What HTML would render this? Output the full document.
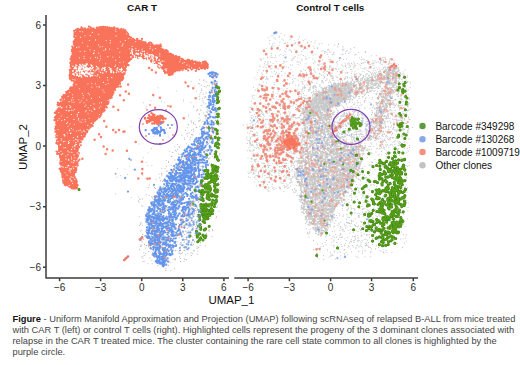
<!DOCTYPE html>
<html><head><meta charset="utf-8">
<style>
html,body{margin:0;padding:0;background:#fff;}
body{width:520px;height:365px;overflow:hidden;}
svg{display:block;font-family:"Liberation Sans",sans-serif;}
</style></head><body>
<svg width="520" height="365" viewBox="0 0 520 365">
<rect width="520" height="365" fill="#fff"/>
<polygon points="77.1,30.2 76.0,33.4 74.4,41.6 72.8,53.2 71.9,61.1 71.1,74.0 71.4,78.3 75.7,81.5 74.1,85.8 66.3,93.5 60.6,101.0 57.0,110.4 55.6,120.1 56.6,136.3 58.7,150.6 60.7,167.0 63.7,181.0 67.3,185.5 75.8,188.0 76.4,185.7 74.4,177.5 77.4,160.8 79.5,142.1 85.9,131.5 96.3,119.0 100.6,114.8 108.1,101.5 115.8,88.1 121.6,78.6 127.2,65.5 128.8,59.2 133.6,55.5 142.3,56.6 150.6,59.7 158.9,64.9 165.8,72.2 169.8,74.1 175.4,70.7 184.4,68.2 196.9,68.8 206.3,67.1 206.9,65.0 205.0,63.0 196.8,62.4 184.2,59.8 171.6,54.8 159.5,46.4 155.7,46.1 142.5,41.9 130.6,38.2 125.5,32.2 117.7,28.9 107.5,27.9 99.1,28.7 83.2,28.7" fill="#f9735b"/>
<path d="M77.1 161.8h0M102.8 28.5h0M144.8 57.7h0M59.6 168.9h0M73.5 84.8h0M70.5 59.1h0M74.1 48.7h0M159.2 67.1h0M56.4 111.1h0M74.0 80.1h0M56.3 143.1h0M127.5 62.0h0M124.2 31.2h0M76.2 180.5h0M77.0 187.0h0M58.4 108.8h0M73.8 53.2h0M118.2 30.4h0M190.7 68.2h0M70.2 78.2h0M71.8 60.0h0M186.3 61.1h0M202.8 62.5h0M199.3 69.1h0M66.9 92.6h0M133.4 55.9h0M68.1 91.6h0M115.4 87.6h0M59.2 153.6h0M59.0 150.4h0M75.1 188.4h0M172.7 74.1h0M203.0 66.8h0M125.4 31.5h0M104.5 110.2h0M73.5 54.6h0M75.2 83.0h0M64.3 97.2h0M70.9 72.1h0M66.4 184.7h0M75.2 85.1h0M131.1 59.1h0M152.5 44.6h0M76.4 34.8h0M178.3 57.3h0M205.0 62.6h0M95.0 120.6h0M164.0 71.0h0M109.7 27.6h0M63.1 177.9h0M154.4 59.9h0M123.3 32.5h0M84.6 136.5h0M87.4 131.0h0M76.6 155.8h0M99.7 28.3h0M205.8 63.3h0M120.5 31.4h0M119.6 81.8h0M156.4 47.4h0M159.1 46.3h0M183.7 68.0h0M100.6 28.7h0M63.3 97.7h0M155.2 45.9h0M122.0 80.2h0M75.4 36.0h0M176.9 69.5h0M71.4 61.1h0M181.3 68.5h0M144.0 57.8h0M124.8 67.6h0M64.0 95.0h0M165.7 71.4h0M133.4 57.0h0M61.6 169.7h0M124.8 69.5h0M124.5 74.1h0M55.3 131.6h0M131.2 58.3h0M67.5 184.8h0M122.9 77.4h0M70.9 70.0h0M75.2 179.0h0M163.4 49.8h0M66.9 95.2h0M107.8 104.1h0M58.1 153.7h0M78.1 153.2h0M85.2 131.0h0M74.7 36.5h0M72.3 62.3h0M71.5 80.3h0M57.2 113.6h0M186.5 60.8h0M147.0 58.1h0M72.8 61.1h0M74.3 186.8h0M71.4 77.2h0M74.4 84.3h0M73.8 187.4h0M74.1 86.1h0M74.6 180.5h0M124.7 72.7h0M74.5 41.6h0M147.2 59.2h0M122.5 76.4h0M140.0 54.8h0M75.7 180.0h0M85.0 28.3h0M85.8 131.6h0M206.7 66.0h0M70.6 77.5h0M76.0 186.4h0M56.2 112.1h0M78.9 142.5h0M76.2 184.6h0M70.7 76.0h0M150.0 59.8h0M64.2 96.6h0M76.8 181.6h0M77.9 28.8h0M188.2 70.5h0M64.3 95.3h0M101.3 27.9h0M155.1 46.1h0M137.2 38.8h0M102.1 27.2h0M176.3 56.7h0M207.7 67.3h0M167.0 72.4h0M63.6 173.9h0M143.7 42.0h0M151.1 59.5h0M71.4 73.4h0M61.1 162.6h0M97.2 118.4h0M73.2 48.5h0M63.7 95.0h0M202.5 67.8h0M76.0 188.3h0M135.3 55.8h0M129.4 60.6h0M74.6 177.7h0M124.7 65.0h0M72.2 185.5h0M72.0 69.4h0M87.6 129.0h0M74.8 86.2h0M138.1 57.6h0M191.0 61.7h0M82.4 138.6h0M76.9 164.6h0M56.8 131.2h0M85.3 131.7h0M71.0 66.0h0M73.7 55.8h0M206.9 65.7h0M145.2 56.2h0M121.3 78.6h0M168.0 73.0h0M157.6 46.0h0M76.9 186.4h0M58.5 106.0h0M145.5 42.4h0M60.8 170.9h0M59.1 107.4h0M112.9 30.1h0M137.5 40.7h0M70.5 74.5h0M87.0 127.6h0M143.2 43.4h0M57.2 141.9h0M71.4 187.9h0M156.2 62.6h0M74.1 188.5h0M122.2 77.7h0M74.5 35.0h0M112.8 28.4h0M108.4 102.0h0M128.7 59.7h0M65.8 94.6h0M100.6 27.4h0M127.3 65.0h0M73.3 87.0h0M73.8 177.1h0M120.0 81.6h0M158.6 65.2h0M121.5 30.2h0M127.0 65.2h0M62.2 174.2h0M113.5 92.2h0M141.1 56.2h0M60.5 161.3h0M73.1 48.9h0M102.4 110.9h0M142.4 56.9h0M126.5 33.8h0M132.8 39.3h0M198.8 69.3h0M203.0 61.9h0M73.0 54.8h0M72.5 59.6h0M160.6 44.6h0M60.2 105.8h0M149.1 45.3h0M92.9 29.1h0M77.7 30.8h0M74.8 83.1h0M126.8 32.5h0M72.5 59.7h0M121.5 77.3h0M75.0 39.7h0M101.2 114.4h0M72.5 53.5h0M77.2 155.7h0M73.8 44.0h0M69.6 185.2h0M111.4 28.2h0M58.7 151.5h0M128.6 36.7h0M134.7 55.7h0M151.6 44.4h0M61.4 172.2h0M120.1 30.1h0M59.9 103.4h0M168.5 73.9h0M75.6 81.8h0M75.3 79.5h0M55.7 113.2h0M192.5 61.5h0M141.4 40.9h0M171.3 73.8h0M123.0 75.8h0M177.7 70.5h0M62.4 175.5h0M206.1 64.1h0M104.8 28.3h0M77.0 187.8h0M103.3 28.0h0M56.3 116.1h0M76.0 29.9h0M56.5 137.0h0M63.6 179.4h0M106.8 29.0h0M56.3 116.5h0M138.7 56.3h0M106.1 106.8h0M206.3 63.9h0M75.9 186.6h0M147.7 44.4h0M125.2 32.6h0M158.8 45.9h0M59.4 104.2h0M90.7 125.9h0M166.7 71.7h0M172.7 72.7h0M64.6 96.5h0M70.4 62.6h0M117.0 30.1h0M129.4 57.3h0M70.2 76.8h0M59.0 106.1h0M205.1 66.9h0M57.1 136.7h0M80.3 142.1h0M54.4 120.2h0M73.0 50.0h0M127.6 61.6h0M110.5 98.2h0M90.3 126.0h0M205.3 67.3h0M203.7 67.6h0M131.4 58.0h0M85.9 130.7h0M75.6 43.4h0M76.5 164.5h0M148.9 58.3h0M75.9 40.4h0M107.7 29.2h0M76.7 185.6h0M120.1 31.3h0M204.9 68.9h0M74.4 188.0h0M129.7 59.4h0M75.8 172.1h0M206.2 63.6h0M57.6 109.8h0M71.2 59.5h0M167.3 71.6h0M66.7 184.9h0M113.3 29.1h0M64.3 95.4h0M56.8 116.1h0M151.2 59.3h0M184.8 67.6h0M155.9 46.8h0M118.0 84.3h0M135.5 55.6h0M76.1 32.9h0M159.5 66.0h0M57.6 141.1h0M76.0 33.6h0M72.4 79.4h0M70.7 186.6h0M206.2 62.7h0M180.6 69.1h0M61.5 169.3h0M75.3 37.0h0M129.2 36.8h0M56.1 123.4h0M146.8 59.2h0M144.8 57.8h0M156.5 46.1h0M80.8 29.2h0M206.1 64.4h0M61.2 162.3h0M172.3 55.4h0M205.3 66.5h0M158.1 66.5h0M56.3 137.5h0M63.4 179.2h0M74.1 175.0h0M99.3 114.3h0M197.2 62.3h0M156.9 62.7h0M159.7 45.4h0M106.8 107.4h0M66.9 94.5h0M59.5 104.4h0M74.0 43.0h0M72.3 71.0h0M88.9 128.7h0M205.6 61.6h0M96.8 119.0h0M74.0 51.9h0M70.9 77.0h0M72.2 77.6h0M75.8 187.4h0M68.4 185.6h0M76.0 164.1h0M77.0 186.8h0M119.5 83.7h0M72.6 59.0h0M71.1 77.3h0M152.5 58.6h0M77.7 32.0h0M105.2 28.1h0M90.5 28.5h0M105.4 27.2h0M74.3 84.6h0M177.7 57.5h0M71.8 80.6h0M70.7 75.2h0M76.6 183.0h0M99.2 113.5h0M70.0 88.6h0M206.0 64.4h0M91.2 28.5h0M128.0 61.7h0M70.7 87.4h0M143.5 58.4h0M88.9 26.6h0M157.8 46.2h0M77.2 163.5h0M71.8 78.4h0M61.1 99.6h0M118.7 86.6h0M68.9 186.1h0M106.5 103.7h0M207.1 66.5h0M150.3 42.7h0M118.8 80.8h0M81.5 27.4h0M126.9 34.0h0M55.4 116.8h0M207.2 65.2h0M105.5 104.9h0M120.1 83.7h0M156.7 63.0h0M207.8 64.4h0M71.1 78.3h0M118.3 29.7h0M78.4 29.2h0M142.7 55.9h0M78.8 153.0h0M192.6 61.8h0M155.6 46.3h0M70.8 186.6h0M112.5 92.1h0M72.2 77.1h0M160.7 64.7h0M128.5 65.2h0M109.9 29.2h0M159.4 46.1h0M207.1 64.5h0M75.4 185.1h0M130.9 57.4h0M100.4 116.0h0M128.7 58.5h0M62.3 177.0h0M202.5 67.1h0M76.1 179.3h0M77.7 165.6h0M206.4 65.4h0M71.4 69.9h0M61.8 100.7h0M125.5 30.9h0M57.6 104.7h0M72.4 76.0h0M93.8 28.7h0M69.8 77.8h0M165.0 73.1h0M132.0 57.7h0M62.3 99.2h0M196.7 68.8h0M127.6 61.1h0M126.0 64.2h0M71.0 64.3h0M74.2 36.7h0M79.9 146.2h0M133.1 38.9h0M207.4 67.5h0M77.1 151.7h0M56.9 140.8h0M71.7 61.2h0M104.7 110.2h0M84.9 130.6h0M77.7 156.8h0M207.2 66.9h0M169.1 73.8h0M77.6 185.2h0M130.9 55.8h0M162.3 68.6h0M175.8 56.2h0M72.0 49.7h0M74.8 79.8h0M74.9 80.6h0M105.9 29.2h0M76.1 184.2h0M173.7 71.8h0M173.4 71.1h0M113.3 93.4h0M74.2 30.9h0M196.2 62.5h0M70.0 78.8h0M207.5 67.1h0M74.5 85.3h0M76.7 82.2h0M62.0 171.5h0M93.6 120.3h0M156.4 47.1h0M138.2 55.8h0M72.3 58.9h0M205.0 63.1h0M75.7 181.1h0M138.1 58.0h0M157.7 45.8h0M116.9 28.6h0M112.4 29.4h0M73.4 187.2h0M71.4 56.9h0M186.8 67.0h0M97.2 27.8h0M61.4 171.3h0M60.3 163.9h0M65.7 183.7h0M133.4 39.0h0M109.1 28.0h0M77.0 29.5h0M137.5 56.4h0M114.1 27.3h0M60.1 156.0h0M169.1 54.4h0M121.5 30.6h0M84.5 135.0h0M66.0 184.8h0M177.3 70.5h0M109.9 29.0h0M106.8 104.0h0M137.8 56.6h0M124.8 32.1h0M71.9 186.8h0M172.0 72.2h0M129.9 37.0h0M183.4 68.5h0M74.6 45.5h0M74.4 33.2h0M128.9 61.0h0M193.5 68.0h0M70.1 74.6h0M201.5 64.1h0M96.5 119.4h0M73.1 52.4h0M169.6 73.7h0M121.4 29.1h0M129.9 60.0h0M56.0 132.0h0M134.0 39.6h0M96.3 118.6h0M64.6 177.4h0M128.4 61.2h0M97.0 28.1h0M153.5 45.6h0M99.3 114.9h0M78.1 155.2h0M87.4 130.0h0M166.8 50.5h0M64.4 95.8h0M71.7 188.3h0M64.8 184.8h0M74.3 82.1h0M120.5 30.8h0M75.9 185.6h0M123.3 78.6h0M72.6 79.8h0M86.9 30.8h0M74.3 37.0h0M122.0 77.7h0M57.3 114.1h0M72.5 187.3h0M129.9 37.8h0M96.9 28.1h0M69.6 186.8h0M206.3 65.1h0M69.8 69.8h0M72.0 57.8h0M206.7 65.3h0M137.2 39.7h0M56.4 115.8h0M179.5 57.9h0M158.6 64.5h0M84.7 133.1h0M77.5 163.7h0M73.5 56.3h0M123.5 71.7h0M76.5 36.0h0M60.3 103.4h0M77.1 32.9h0M62.9 180.4h0M151.9 61.2h0M74.8 80.7h0M138.8 55.8h0M75.7 84.0h0M57.8 152.4h0M58.3 110.0h0M179.4 56.9h0M108.6 102.1h0M101.9 112.4h0M175.6 70.6h0M79.5 29.9h0M185.0 60.9h0M206.7 67.4h0M75.5 170.3h0M68.6 90.7h0M128.8 60.0h0M73.9 41.5h0M187.9 59.8h0M73.4 49.8h0M117.5 85.9h0M84.4 136.0h0M150.7 60.0h0M62.1 96.7h0M112.3 95.1h0M149.1 42.9h0M170.3 74.0h0M89.6 125.4h0M133.4 56.3h0M55.3 129.1h0M77.1 34.8h0M75.4 168.3h0M57.3 140.0h0M70.7 69.9h0M152.6 62.2h0M74.8 79.9h0M63.7 96.3h0M57.1 128.8h0M152.5 58.8h0M129.3 57.4h0M170.1 53.7h0M128.4 35.4h0M171.0 73.1h0M202.0 68.4h0M127.2 64.3h0M154.7 63.1h0M120.4 29.7h0M75.8 184.6h0M172.1 74.3h0M78.9 153.5h0M73.4 174.9h0M77.0 32.0h0M74.7 177.2h0M117.6 83.0h0M99.4 117.4h0M126.4 65.4h0M72.0 79.6h0M171.0 74.4h0M102.0 107.1h0M78.9 147.5h0M90.6 127.3h0M143.4 56.6h0M80.8 145.4h0M111.5 92.8h0M57.8 144.0h0M207.5 66.5h0M207.5 66.0h0M125.3 31.2h0M75.7 182.5h0M74.6 35.0h0M75.5 187.1h0M62.7 98.0h0M58.5 105.8h0M70.3 63.1h0M201.3 67.0h0M186.5 61.6h0M82.4 139.4h0M77.0 29.7h0M125.6 70.5h0M105.8 106.9h0M199.2 68.8h0M182.5 70.1h0M103.1 28.6h0M143.3 57.1h0M187.9 61.2h0M165.9 50.2h0M56.7 112.1h0M75.5 187.7h0M96.5 116.0h0M120.2 80.7h0M55.6 128.3h0M72.7 187.6h0M170.4 54.7h0M123.1 32.3h0M114.8 29.1h0M103.9 109.7h0M131.3 58.2h0M67.8 93.1h0M124.4 71.4h0M191.7 69.4h0M189.7 60.9h0M128.0 33.8h0M64.2 96.1h0M56.0 118.4h0M72.9 77.7h0M139.6 41.1h0M59.6 154.6h0M83.3 137.1h0M207.3 65.8h0M75.8 35.2h0M108.0 100.3h0M81.0 29.1h0M77.0 187.1h0M162.5 49.7h0M116.7 86.9h0M72.2 46.6h0M173.4 70.7h0M66.5 184.2h0M77.0 29.4h0M71.9 51.1h0M63.4 176.7h0M126.0 32.3h0M176.0 56.1h0M60.9 156.2h0M117.8 84.7h0M173.2 55.1h0M72.5 59.7h0M78.5 31.0h0M73.3 51.7h0M57.3 115.4h0M161.2 66.7h0M82.3 138.4h0M67.8 91.2h0M167.8 52.7h0M205.7 65.9h0M63.0 99.0h0M74.8 83.4h0M205.2 62.7h0M107.3 104.2h0M92.6 125.9h0M75.7 183.3h0M74.4 82.5h0M76.0 187.7h0M136.7 39.4h0M149.0 44.3h0M118.8 82.7h0M84.7 131.5h0M157.0 46.8h0M69.0 91.7h0M65.0 96.8h0M77.6 29.7h0M156.3 45.4h0M55.7 117.1h0M68.8 91.2h0M62.0 168.7h0M98.9 28.8h0M57.2 143.4h0M74.8 180.5h0M57.0 154.0h0M71.9 77.4h0M59.6 146.7h0M77.6 29.9h0M70.5 69.6h0M79.5 159.7h0M56.1 119.7h0M125.6 67.2h0M128.8 59.7h0M166.6 69.9h0M192.3 68.3h0M192.1 60.7h0M114.3 88.9h0M73.5 178.4h0M81.6 28.2h0M70.2 74.1h0M110.9 97.5h0M64.8 183.0h0M169.1 75.1h0M206.1 64.7h0M134.6 56.0h0M181.7 59.2h0M70.7 76.3h0M66.1 92.1h0M129.8 37.0h0M143.6 56.2h0M57.4 110.9h0M71.2 74.3h0M62.0 168.0h0M57.9 143.2h0M72.0 75.9h0M156.9 47.3h0M79.1 145.7h0M63.2 182.5h0M85.1 134.7h0M72.4 80.4h0M72.6 51.8h0M58.7 131.6h0M122.6 77.1h0M116.1 30.1h0M188.9 59.8h0M65.1 182.1h0M121.4 78.8h0M147.8 58.4h0M72.3 62.4h0M108.1 103.4h0M124.5 72.7h0M70.9 65.6h0M70.0 90.5h0M93.0 123.2h0M81.1 139.6h0M56.5 151.5h0M73.3 48.5h0M96.8 117.9h0M172.7 71.9h0M182.5 59.2h0M55.6 131.8h0M94.3 121.1h0M117.9 28.5h0M137.4 41.9h0M61.0 171.6h0M71.4 57.3h0M121.3 31.0h0M64.0 181.4h0M200.3 63.0h0M74.1 177.9h0M158.2 45.3h0M78.2 161.1h0M175.0 69.1h0M85.2 130.6h0M71.0 72.4h0M65.7 182.3h0M63.0 177.6h0M56.3 135.4h0M72.0 76.9h0M186.4 68.9h0M172.1 73.3h0M164.1 69.6h0M75.0 36.3h0M204.9 63.1h0M56.7 111.0h0M207.1 63.5h0M102.4 111.4h0M76.4 168.1h0M203.8 67.2h0M76.6 35.7h0M70.7 76.1h0M188.3 60.5h0M191.7 69.6h0M101.6 27.1h0M73.9 180.0h0M165.1 72.4h0M71.8 87.6h0M108.2 30.0h0M61.4 156.9h0M199.0 68.9h0M168.9 74.8h0M154.3 46.6h0M131.1 37.5h0M62.4 172.7h0M84.8 132.9h0M119.4 30.0h0M72.3 70.9h0M79.2 141.2h0M99.9 114.7h0M63.6 180.5h0M80.9 138.8h0M72.4 178.5h0M125.4 30.4h0M75.8 188.4h0M69.5 75.6h0M57.9 102.7h0M58.2 144.2h0M151.3 43.0h0M57.6 116.0h0M198.2 63.7h0M76.6 31.5h0M80.8 142.2h0M70.5 74.8h0M107.4 103.1h0M61.2 169.7h0M70.2 90.5h0M76.1 81.1h0M71.9 73.1h0M70.6 89.9h0M159.8 65.0h0M75.9 82.1h0M72.1 67.7h0M60.1 163.1h0M65.2 182.1h0M71.7 56.2h0M77.6 31.4h0M75.3 184.6h0M145.7 43.5h0M111.8 97.5h0M115.2 90.0h0M63.1 175.2h0M205.3 67.5h0M204.8 61.7h0M170.8 53.8h0M205.6 63.3h0M169.8 72.5h0M144.4 57.5h0M102.2 27.6h0M171.5 54.2h0M199.0 63.6h0M164.7 69.1h0M65.7 185.3h0M152.7 61.5h0M70.2 72.9h0M151.2 61.5h0M60.5 99.9h0M99.3 27.1h0M76.3 169.9h0M74.8 82.5h0M89.9 126.1h0M125.2 70.6h0M124.6 69.8h0M115.8 28.7h0M70.6 88.5h0M91.5 124.4h0M166.4 72.4h0M54.8 112.8h0M64.8 181.8h0M207.0 66.3h0M123.6 29.4h0M165.4 52.0h0M75.3 186.2h0M64.2 183.3h0M199.9 68.2h0M87.0 132.2h0M70.6 77.9h0M140.9 55.5h0M73.0 80.4h0M92.6 28.7h0M70.6 66.8h0M107.5 28.4h0M158.7 64.3h0M128.3 36.0h0M82.8 28.5h0M71.5 78.5h0M101.5 27.6h0M72.3 56.0h0M66.9 92.0h0M65.3 98.0h0M55.5 120.6h0M75.2 170.5h0M104.2 108.2h0M75.2 184.3h0M160.8 67.0h0M164.5 69.2h0M163.6 51.0h0M55.7 126.3h0M157.5 46.1h0M175.0 71.4h0M122.8 73.4h0M179.9 69.9h0M59.2 149.2h0M207.5 68.1h0M103.2 30.0h0M169.1 74.1h0M156.8 46.7h0M96.8 27.5h0M152.6 61.0h0M72.1 56.0h0M125.6 69.9h0M183.0 59.9h0M139.1 40.7h0M168.5 74.1h0M170.0 75.0h0M60.2 157.2h0M205.7 63.4h0M55.9 126.7h0M192.5 61.5h0M199.3 62.4h0M151.1 60.1h0M121.9 30.4h0M135.7 56.8h0M141.8 42.1h0M132.7 40.6h0M73.5 48.3h0M56.4 135.1h0M77.4 154.3h0M87.9 128.6h0M70.0 70.8h0M73.7 84.4h0M73.6 41.7h0M181.9 58.8h0M93.4 121.7h0M196.5 63.8h0M91.6 29.0h0M60.0 168.6h0M75.2 83.9h0M73.2 47.9h0M106.5 107.3h0M154.5 46.1h0M78.3 31.0h0M176.8 56.5h0M142.0 38.9h0M117.4 84.3h0M75.0 81.6h0M192.6 68.5h0M103.6 26.8h0M74.1 43.6h0M76.0 182.1h0M57.7 110.2h0M108.4 100.6h0M148.4 59.3h0M73.6 86.8h0M161.2 46.5h0M128.2 58.9h0M71.0 70.4h0M205.8 67.6h0M205.2 63.9h0M139.5 55.8h0M88.0 28.9h0M128.8 59.2h0M116.8 83.0h0M145.8 57.3h0M207.8 66.6h0M66.8 183.9h0M179.6 70.5h0M186.7 60.5h0M105.8 102.5h0M104.8 28.0h0M185.7 61.2h0M92.1 29.3h0M185.8 69.1h0M111.1 96.4h0M159.4 67.7h0M195.9 70.9h0M54.9 117.6h0M115.4 29.7h0M100.1 116.2h0M64.5 97.9h0M205.9 67.1h0M74.9 161.4h0M57.2 133.8h0M77.9 31.9h0M127.4 60.9h0M194.0 61.6h0M148.7 59.7h0M67.1 184.5h0M122.9 75.7h0M163.3 50.2h0M195.5 61.5h0M173.4 55.5h0M194.8 62.6h0M149.5 58.1h0M72.8 52.6h0M67.6 185.3h0M73.3 54.1h0M72.7 188.5h0M76.4 36.7h0M107.4 27.2h0M167.8 51.4h0M90.6 27.4h0M85.6 134.0h0M72.6 54.0h0M72.7 177.2h0M126.2 32.2h0M73.5 178.6h0M123.5 72.6h0" stroke="#f9735b" stroke-width="2.20" stroke-linecap="round" fill="none"/>
<path d="M89.3 74.2h0M98.8 69.0h0M80.9 75.5h0M74.8 67.3h0M100.6 72.4h0M117.0 69.1h0M76.5 68.8h0M110.2 68.8h0M78.9 69.6h0M73.1 70.7h0M109.1 67.6h0M104.1 68.4h0M81.8 73.3h0M93.5 70.2h0M90.2 75.2h0M111.1 69.1h0M83.7 72.7h0M72.7 71.2h0M84.9 69.3h0M83.7 73.3h0M113.7 72.7h0M84.2 75.0h0M85.0 65.2h0M87.3 64.0h0M92.5 67.4h0M92.7 75.6h0M104.3 70.4h0M88.7 68.4h0M96.0 70.3h0M123.8 71.5h0M97.9 67.5h0M87.3 76.6h0M102.8 73.1h0M84.2 65.8h0M86.9 64.7h0M78.4 68.8h0M75.4 68.5h0M85.7 72.2h0M81.2 73.8h0M76.5 75.6h0M73.4 74.0h0M88.1 74.1h0M73.7 73.5h0M91.1 69.1h0M116.4 72.2h0M111.7 70.8h0M91.1 64.9h0M90.5 75.1h0M91.6 75.4h0M90.2 67.8h0M117.1 70.6h0M85.7 68.8h0M91.1 72.4h0M119.6 69.4h0M79.8 65.0h0M110.7 70.7h0M73.9 74.5h0M117.6 68.1h0M101.9 69.7h0M72.9 66.3h0M91.1 75.4h0M77.6 75.3h0M122.1 69.4h0M81.4 72.3h0M118.7 71.7h0M78.7 70.2h0M92.5 72.9h0M72.8 71.1h0M111.3 72.2h0M85.2 75.8h0M97.0 68.9h0M80.0 70.6h0M104.8 67.9h0M92.5 75.4h0M104.8 69.7h0M83.4 66.0h0M83.5 73.1h0M111.1 72.6h0M124.1 71.8h0M77.0 70.5h0M85.0 75.4h0M86.9 67.7h0M88.0 70.2h0M102.8 68.0h0M82.6 64.6h0M121.0 71.3h0M83.6 73.7h0M79.6 75.8h0M105.0 67.5h0M85.9 65.3h0M74.0 68.7h0M81.0 65.7h0M122.2 72.4h0M89.6 74.3h0M73.2 70.8h0M90.4 70.8h0M72.6 73.9h0M85.0 68.1h0M76.7 65.7h0M74.4 75.0h0M75.9 65.1h0M96.5 66.4h0M75.3 72.5h0M85.4 75.9h0M121.4 70.5h0M113.3 72.0h0M110.0 69.3h0M78.7 76.3h0M81.2 76.3h0M87.4 68.8h0M90.4 76.5h0M77.3 75.2h0M106.2 71.8h0M80.0 64.4h0M76.1 68.8h0M76.6 73.3h0M76.4 71.0h0M120.8 69.6h0M93.2 72.9h0M81.6 76.9h0M83.3 68.7h0M83.5 68.2h0M77.2 74.1h0M86.3 64.1h0M97.8 74.8h0M75.5 66.9h0M77.2 71.4h0M75.8 67.5h0M86.6 76.1h0M121.6 68.3h0M91.9 73.5h0M92.0 65.7h0M92.3 68.5h0M87.3 69.9h0M101.7 70.1h0" stroke="#fff" stroke-width="1.50" stroke-linecap="round" fill="none"/>
<path d="M83.2 67.2h0M87.7 69.3h0M87.2 69.4h0M84.4 69.3h0M84.6 74.0h0M86.0 71.8h0M84.1 70.1h0M82.3 70.9h0M82.5 72.8h0M82.1 73.3h0M87.0 72.1h0M88.2 69.5h0M79.5 71.7h0M81.8 71.0h0M80.7 68.2h0M85.7 72.9h0M82.8 73.7h0M86.4 67.5h0M78.8 70.1h0M86.7 72.9h0M85.7 69.7h0M85.3 66.3h0M88.4 73.5h0M79.1 68.2h0M80.3 67.6h0M89.7 73.1h0M79.1 66.8h0M80.6 70.2h0M79.0 69.1h0M81.8 72.7h0M89.4 69.0h0M90.1 68.4h0M81.5 66.6h0M79.7 73.8h0M82.3 70.5h0" stroke="#fff" stroke-width="1.80" stroke-linecap="round" fill="none"/>
<path d="M145.6 56.5h0M130.6 56.9h0M132.4 53.3h0M159.4 59.9h0M147.5 59.6h0M142.3 51.3h0M138.5 50.5h0M149.0 54.7h0M156.6 60.0h0M137.1 54.0h0M149.3 56.7h0M140.9 57.2h0M138.7 53.9h0M153.3 55.4h0M131.1 57.1h0M159.0 65.8h0M162.2 65.1h0M147.6 56.8h0M153.1 59.6h0M149.0 59.9h0M156.8 56.9h0M161.5 64.5h0M154.8 61.7h0M155.9 57.0h0M160.3 63.3h0M145.0 55.3h0M156.2 58.0h0M156.6 58.5h0M138.4 54.1h0M160.0 66.7h0M144.5 54.4h0M159.1 66.5h0M162.1 61.3h0M152.8 56.9h0M155.3 64.5h0M132.1 50.0h0M138.6 57.6h0M131.5 50.8h0M152.9 58.7h0M160.2 64.2h0M136.3 53.3h0M142.1 59.6h0M141.4 55.3h0M156.4 64.8h0M136.4 57.0h0M165.3 69.2h0M166.2 70.8h0M147.4 60.2h0M157.0 57.9h0M132.4 52.6h0M152.8 61.0h0M153.7 56.8h0M147.6 58.3h0M151.3 57.0h0M157.3 57.7h0M138.4 54.6h0M154.2 62.5h0M130.9 52.9h0M159.4 63.3h0M152.4 58.3h0M136.1 50.4h0M132.0 51.2h0M161.5 65.7h0M147.1 53.4h0M137.9 53.4h0M152.4 55.1h0M149.9 55.1h0M152.0 54.7h0M148.9 60.7h0M150.7 59.1h0M141.8 53.8h0M146.1 56.8h0M153.5 59.8h0M134.6 56.5h0M158.4 63.0h0M147.5 56.1h0M149.2 60.4h0M148.8 61.0h0M138.6 57.7h0M144.2 51.5h0M161.1 64.2h0M159.0 60.5h0M144.8 57.2h0M151.1 54.8h0M140.6 53.0h0M146.3 56.0h0M134.3 55.6h0M152.6 62.4h0M160.0 63.8h0M132.8 54.6h0" stroke="#fff" stroke-width="1.50" stroke-linecap="round" fill="none"/>
<path d="M75.7 144.2h0M65.5 147.6h0M68.5 143.4h0M60.6 144.3h0M71.2 180.8h0M76.5 144.5h0M78.1 139.8h0M69.9 170.1h0M68.1 165.7h0M75.0 145.9h0M61.0 151.3h0M60.0 145.1h0M58.9 152.4h0M74.7 145.4h0M69.1 142.7h0M62.7 153.7h0M80.6 146.7h0M65.8 156.0h0M68.7 159.3h0M79.6 145.3h0M73.0 166.8h0M68.7 165.4h0M71.1 176.9h0M73.8 160.5h0M61.5 140.1h0M76.9 160.7h0M69.9 168.3h0M61.8 166.4h0M70.0 178.6h0M74.8 179.3h0M78.3 153.9h0M74.9 146.3h0M67.1 167.2h0M66.0 159.1h0M71.9 181.1h0M63.1 167.2h0M71.9 152.4h0M73.4 162.6h0M77.2 152.8h0M71.8 162.0h0M77.9 140.0h0M68.3 141.6h0M67.9 150.9h0M70.2 169.0h0M61.2 154.6h0" stroke="#fff" stroke-width="1.20" stroke-linecap="round" fill="none"/>
<path d="M61.0 161.5h0M94.9 109.0h0M68.0 154.6h0M85.3 69.3h0M72.6 183.2h0M84.1 58.4h0M66.3 110.4h0M137.9 53.9h0M70.1 107.4h0M71.7 110.1h0M98.7 34.3h0M99.1 86.2h0M155.4 48.5h0M100.0 46.9h0M166.8 68.9h0M78.9 130.6h0M64.8 135.9h0M119.8 52.3h0M72.9 79.3h0M164.0 61.0h0M74.0 119.4h0M69.2 101.6h0M91.5 98.4h0M146.2 56.0h0M99.5 114.5h0M152.7 49.9h0M80.0 31.5h0M104.1 92.2h0M97.0 76.1h0M80.4 37.4h0M68.8 160.2h0M124.3 66.1h0M132.9 49.2h0M95.5 83.7h0M81.3 135.5h0M80.0 121.8h0M84.8 131.3h0M71.4 157.1h0M102.1 68.3h0M64.7 119.6h0M86.8 68.8h0M194.5 63.6h0M103.0 90.1h0M89.5 94.8h0M179.8 61.7h0M73.5 137.6h0M159.8 53.9h0M69.5 130.8h0M122.8 45.0h0M68.0 126.2h0M69.8 110.6h0M99.7 77.2h0M81.9 132.1h0M83.5 130.7h0M67.1 117.3h0M69.0 170.8h0M77.3 116.1h0M92.0 123.0h0M123.5 62.0h0M64.5 119.8h0M69.2 185.4h0M95.0 71.8h0M159.8 56.0h0M72.8 146.9h0M64.4 99.3h0M70.4 133.4h0M71.3 128.6h0M78.0 141.5h0M78.8 99.7h0M99.3 87.3h0M83.1 98.0h0M77.6 136.2h0M147.1 57.3h0M69.7 92.3h0M63.6 179.0h0M150.3 46.6h0M115.7 60.1h0M108.1 100.6h0M115.4 65.0h0M75.0 79.9h0M149.6 55.7h0M94.0 108.0h0M58.0 141.5h0M69.6 129.9h0M102.3 46.3h0M61.2 107.9h0M88.2 107.7h0M78.7 112.4h0M75.9 142.4h0M110.5 71.7h0M57.0 138.5h0M87.1 129.4h0M115.9 31.5h0M84.8 51.4h0M120.3 41.8h0M93.1 67.4h0M85.4 111.7h0M106.2 40.6h0M58.6 106.6h0M201.8 63.8h0M110.3 40.4h0M71.4 114.5h0M84.0 56.3h0M92.4 32.4h0M90.2 35.4h0M77.3 137.0h0M91.9 111.1h0M95.1 75.5h0M63.4 141.6h0M119.9 62.5h0M75.3 139.3h0M65.5 167.5h0M87.8 125.3h0M76.4 131.0h0M59.1 118.6h0M84.8 106.2h0M100.3 56.0h0M91.9 87.1h0M64.0 147.7h0M150.0 48.6h0M59.8 106.9h0M91.7 66.4h0M81.3 100.7h0M70.4 179.6h0M186.9 64.9h0M88.2 93.4h0M100.4 58.7h0M71.6 100.1h0M72.7 97.5h0M79.4 88.8h0M70.0 124.0h0M74.7 148.9h0M107.7 80.0h0M64.4 134.6h0M57.7 141.2h0M58.1 129.6h0M144.6 53.2h0M180.5 59.8h0M86.8 100.0h0M91.8 83.2h0M85.2 119.8h0M135.8 54.0h0M62.1 107.6h0M100.8 106.3h0M105.7 48.8h0M86.2 110.6h0M90.8 105.5h0M70.8 106.7h0M89.6 40.5h0M74.7 160.9h0M98.6 44.9h0M94.1 52.9h0M112.9 57.0h0M128.7 38.3h0M74.5 109.3h0M91.2 123.2h0M105.9 84.5h0M82.2 119.8h0M105.5 49.8h0M111.8 77.4h0M69.1 101.6h0M93.4 53.6h0M69.1 152.1h0M184.2 62.5h0M77.3 114.4h0M89.2 118.2h0M137.2 53.6h0M94.4 109.4h0M122.0 46.1h0M64.9 135.3h0M74.1 102.1h0M160.4 62.1h0M57.7 120.3h0M75.4 166.6h0M76.1 84.6h0M84.0 102.7h0M85.9 105.0h0M135.7 41.6h0M72.0 102.0h0M108.2 83.5h0M88.1 113.8h0M105.6 63.7h0M66.7 106.9h0M65.1 172.7h0M189.3 66.0h0M99.0 71.0h0M84.9 35.7h0M61.3 138.7h0M63.8 134.7h0M82.3 93.5h0M74.1 154.9h0M68.1 96.2h0M99.7 97.1h0M135.8 48.3h0M72.4 94.7h0M69.8 105.5h0M88.0 83.7h0M58.8 112.5h0M95.5 39.9h0M132.1 48.7h0M66.6 107.1h0M80.0 102.6h0M130.6 53.2h0M117.8 48.3h0M82.4 42.7h0M71.6 168.9h0M99.2 107.9h0M76.4 139.8h0M74.8 157.7h0M78.4 112.5h0M191.7 67.9h0M61.3 116.0h0M94.0 103.9h0M89.6 110.2h0M70.5 172.0h0M142.1 49.1h0M73.1 177.4h0M61.8 120.6h0M67.5 122.3h0M115.0 66.4h0M71.6 158.9h0M115.7 29.8h0M73.6 168.5h0M71.5 149.4h0M73.2 129.8h0M96.9 86.7h0M85.2 119.5h0M119.4 57.0h0M101.5 102.6h0M82.4 31.8h0M64.8 141.3h0M78.6 118.5h0M99.5 103.0h0M129.7 48.7h0M78.9 46.9h0M80.3 130.1h0M99.6 60.8h0M90.1 49.7h0M103.9 50.5h0M69.8 140.2h0M182.7 63.3h0M107.4 77.6h0M61.2 101.1h0M62.3 99.7h0M84.4 131.0h0M85.3 121.7h0M199.4 67.9h0M66.7 123.4h0M71.0 133.1h0M90.4 58.1h0M74.4 124.2h0M67.1 175.1h0M103.4 82.4h0M73.1 110.3h0M60.6 106.3h0M75.7 36.0h0M68.4 110.9h0M73.2 99.7h0M132.1 46.4h0M67.3 133.0h0M97.3 57.9h0M105.5 69.8h0M83.2 95.6h0M57.1 135.8h0M122.9 43.7h0M78.4 119.9h0M81.7 122.2h0M126.6 33.7h0M73.7 140.8h0" stroke="#fff" stroke-width="1.10" stroke-linecap="round" fill="none"/>
<path d="M109.5 49.0h0M80.1 51.5h0M76.7 47.3h0M79.6 57.8h0M87.8 46.1h0M125.3 40.5h0M107.9 56.7h0M116.1 35.9h0M95.5 57.3h0M94.3 50.6h0M98.7 53.1h0M110.3 42.8h0" stroke="#fff" stroke-width="1.20" stroke-linecap="round" fill="none"/>
<path d="M104.2 121.0h0M106.4 126.8h0M113.2 130.0h0M119.0 130.0h0M124.5 131.4h0M99.1 134.2h0M94.6 139.7h0M103.6 146.6h0M107.1 149.3h0M112.7 150.6h0M118.2 110.1h0M113.4 106.8h0M103.7 111.2h0M101.0 136.9h0M105.6 153.9h0M82.4 158.8h0M126.9 150.7h0M135.7 141.9h0M142.0 161.7h0M142.1 173.5h0M147.4 178.7h0M115.7 132.2h0M123.4 131.8h0M128.9 93.7h0M153.2 94.9h0M159.9 97.7h0M120.1 95.2h0M170.5 106.5h0M155.1 107.7h0M183.8 118.3h0M195.6 98.3h0M149.1 68.1h0M151.9 70.0h0M155.9 72.4h0M185.5 82.6h0M188.1 86.2h0M193.2 88.2h0M120.7 86.4h0M125.8 91.5h0M123.8 100.3h0M128.1 84.4h0M138.3 178.4h0M149.7 178.6h0M142.3 169.0h0" stroke="#f9735b" stroke-width="2.50" stroke-linecap="round" fill="none" stroke-opacity="0.90"/>
<path d="M139.8 239.5h0M141.3 238.2h0M142.2 237.4h0M140.5 239.8h0" stroke="#e5796a" stroke-width="2.60" stroke-linecap="round" fill="none"/>
<path d="M124.3 260.0h0M125.5 258.8h0M126.8 257.5h0M128.0 256.5h0" stroke="#e5796a" stroke-width="2.60" stroke-linecap="round" fill="none"/>
<path d="M152.6 118.7h0M148.8 121.5h0M159.4 117.6h0M158.8 119.4h0M153.8 120.1h0M157.2 122.4h0M160.6 115.6h0M150.4 118.4h0M154.5 117.7h0M156.7 122.7h0M152.7 117.5h0M158.3 120.8h0M153.8 117.5h0M151.5 113.1h0M158.4 119.1h0M154.5 114.9h0M159.2 120.4h0M158.0 117.7h0M147.1 122.8h0M146.6 121.0h0M149.9 118.8h0M150.3 118.9h0M156.6 117.8h0M154.4 123.5h0M144.9 118.6h0M159.4 119.0h0M156.3 118.1h0M153.6 117.4h0M151.8 118.8h0M159.2 122.0h0M159.1 116.7h0M151.5 118.8h0M158.5 118.7h0M159.0 117.6h0M158.6 121.2h0M154.4 118.5h0M158.5 121.6h0M157.9 123.6h0M157.3 119.6h0M163.7 118.3h0M160.5 117.2h0M150.4 120.9h0M152.3 118.4h0M160.2 123.8h0M156.2 119.7h0M152.4 120.0h0M153.5 118.9h0M151.8 119.3h0M157.4 123.9h0M158.6 123.2h0M161.7 117.8h0M153.1 114.5h0M162.7 116.8h0M154.3 120.6h0M148.8 120.6h0M154.1 116.9h0M148.2 121.0h0M157.7 116.2h0M159.0 120.3h0M155.0 121.6h0M150.9 118.7h0M165.5 118.6h0M161.2 122.0h0M154.0 118.9h0M154.6 121.9h0M149.2 121.5h0M156.5 117.3h0M159.9 119.0h0M149.0 115.3h0M159.7 117.9h0M158.7 119.2h0M145.0 118.0h0M158.1 119.1h0M152.3 123.5h0M154.0 120.0h0M162.7 122.6h0M148.0 117.9h0M152.8 119.3h0M157.6 119.7h0M159.6 120.7h0M163.3 121.7h0M162.0 117.2h0M162.8 119.0h0M161.7 116.1h0M147.7 121.4h0M152.3 116.4h0M152.2 119.4h0M157.5 120.6h0M150.3 116.7h0M155.9 121.4h0" stroke="#f9735b" stroke-width="2.40" stroke-linecap="round" fill="none"/>
<path d="M154.0 128.3h0M155.4 132.1h0M161.2 129.5h0M156.8 128.0h0M160.0 134.5h0M161.1 130.9h0M154.2 129.9h0M158.9 132.3h0M156.1 129.2h0M155.5 128.9h0M162.5 129.8h0M155.1 128.1h0M155.1 132.8h0M153.4 133.0h0M152.8 129.8h0M163.6 130.1h0M155.6 129.0h0M158.4 131.2h0M154.6 133.4h0M164.6 133.1h0M145.7 130.2h0M153.1 131.6h0M161.2 123.3h0M160.0 135.7h0M164.2 130.2h0M155.9 133.6h0M159.0 132.1h0M158.3 131.7h0M155.3 132.9h0M164.3 131.2h0M156.5 129.3h0M157.2 133.6h0M162.6 129.8h0M158.2 132.1h0M160.8 127.4h0M156.2 132.6h0M157.0 130.9h0M158.0 132.9h0M158.7 125.7h0M157.1 130.0h0M160.4 131.9h0M151.8 130.3h0" stroke="#6495ed" stroke-width="2.30" stroke-linecap="round" fill="none"/>
<path d="M147.0 110.0h0M166.0 110.0h0M143.0 124.0h0M170.0 128.0h0M173.0 135.0h0M146.0 136.0h0M163.0 140.0h0M150.0 105.0h0M168.0 106.0h0" stroke="#f09080" stroke-width="1.80" stroke-linecap="round" fill="none"/>
<path d="M165.0 133.0h0M168.0 125.0h0M172.0 125.0h0M149.0 134.0h0" stroke="#6495ed" stroke-width="2.00" stroke-linecap="round" fill="none"/>
<path d="M208.5 74.0h0M210.0 73.0h0M211.5 72.5h0M213.0 72.3h0M214.5 72.8h0M216.0 73.5h0M217.5 74.5h0M212.0 74.5h0M215.0 75.5h0M210.0 76.0h0M213.0 77.5h0M216.5 77.0h0" stroke="#6495ed" stroke-width="2.30" stroke-linecap="round" fill="none"/>
<path d="M129.3 158.8h0M134.8 169.7h0M125.2 178.0h0M128.0 191.6h0M154.0 184.8h0M160.0 144.0h0" stroke="#6495ed" stroke-width="2.30" stroke-linecap="round" fill="none" stroke-opacity="0.90"/>
<path d="M115.6 173.8h0M131.0 160.0h0" stroke="#9a9a9a" stroke-width="2.00" stroke-linecap="round" fill="none" stroke-opacity="0.80"/>
<path d="M216.2 134.9h0M162.8 199.6h0M141.8 256.9h0M181.7 197.3h0M175.3 195.7h0M150.9 218.4h0M138.5 200.9h0M150.1 208.1h0M206.2 86.9h0M166.2 191.3h0M211.4 104.2h0M174.8 159.9h0M219.2 155.0h0M198.5 121.0h0M218.1 102.2h0M162.6 194.4h0M193.6 163.6h0M163.5 180.4h0M193.6 244.2h0M199.2 156.9h0M220.5 173.6h0M193.7 131.2h0M210.4 187.1h0M206.6 138.7h0M205.4 245.8h0M215.5 120.4h0M148.4 187.5h0M148.3 237.3h0M174.3 176.0h0M212.2 156.5h0M216.9 176.7h0M175.6 215.4h0M158.3 203.6h0M209.7 92.0h0M157.8 248.1h0M216.1 85.7h0M188.0 217.0h0M166.6 234.2h0M189.0 158.9h0M152.4 252.6h0M220.5 137.5h0M197.2 190.8h0M197.9 109.3h0M157.5 229.2h0M214.6 94.2h0M167.3 207.5h0M148.5 251.5h0M196.6 216.1h0M217.5 95.6h0M172.0 184.4h0M195.1 200.8h0M193.7 107.0h0M186.2 231.3h0M201.4 85.2h0M198.5 167.3h0M193.0 135.1h0M216.5 121.3h0M173.9 197.4h0M156.0 179.2h0M199.4 120.9h0M188.0 133.1h0M153.6 217.5h0M202.4 98.6h0M141.5 246.0h0M187.1 188.5h0M211.9 201.5h0M218.3 90.7h0M162.6 181.4h0M177.1 241.8h0M148.1 221.3h0M176.6 199.1h0M207.8 181.6h0M205.4 121.7h0M203.9 171.5h0M174.5 268.2h0M212.4 213.1h0M159.3 223.9h0M168.5 161.2h0M196.4 169.2h0M176.5 174.5h0M166.2 188.6h0M195.9 193.7h0M215.3 135.8h0M151.7 254.8h0M200.7 92.3h0M193.7 250.2h0M165.0 222.4h0M181.8 202.2h0M206.2 92.9h0M143.0 261.6h0M161.5 262.5h0M207.4 112.1h0M199.5 114.1h0M183.4 174.8h0M201.9 226.4h0M220.4 99.8h0M151.8 196.9h0M164.2 261.4h0M217.6 81.8h0M205.0 96.6h0M214.6 92.8h0M184.3 258.8h0M192.1 162.2h0M175.9 244.0h0M187.3 159.9h0M172.7 191.6h0M175.8 250.7h0M186.5 218.8h0M205.7 118.7h0M200.6 242.4h0M188.5 218.0h0M155.2 244.1h0M154.3 224.9h0M178.6 174.0h0M166.7 257.9h0M153.1 201.1h0M143.0 256.0h0M208.8 230.6h0M202.0 139.8h0M197.9 251.0h0M178.3 153.7h0M196.6 225.1h0M166.2 222.5h0M212.4 121.1h0M216.1 183.7h0M203.0 121.2h0M185.4 130.3h0M211.1 204.8h0M181.3 162.4h0M153.5 250.9h0M172.9 245.2h0M161.8 265.0h0M149.3 185.1h0M167.6 205.2h0M168.5 243.6h0M182.7 187.0h0M188.1 125.0h0M157.2 220.9h0M198.8 216.6h0M166.6 166.5h0M172.7 152.4h0M195.9 159.9h0M212.1 84.8h0M217.7 183.2h0M165.9 268.5h0M214.5 82.9h0M198.0 155.5h0M179.5 256.7h0M209.6 182.0h0M204.4 86.2h0M212.7 89.1h0M201.0 110.1h0M203.8 194.1h0M146.8 245.5h0M197.2 254.1h0M186.4 192.2h0M187.0 244.0h0M145.7 253.5h0M200.4 218.4h0M185.6 254.7h0M194.6 140.6h0M186.8 233.1h0M203.8 102.7h0M201.6 89.1h0M220.9 130.5h0M187.8 242.7h0M217.1 138.9h0M188.7 184.9h0M185.1 187.0h0M221.2 159.9h0M163.8 236.0h0M191.3 130.1h0M206.4 203.3h0M179.7 189.5h0M168.0 223.8h0M201.8 90.5h0M221.1 123.5h0M217.4 110.2h0M189.9 139.7h0M175.9 204.6h0M196.4 110.7h0M220.4 182.8h0M182.8 252.6h0M199.4 83.8h0M161.8 174.9h0M159.3 252.8h0M181.3 179.3h0M164.5 193.2h0M209.1 119.2h0M180.2 165.2h0M175.0 260.0h0M198.3 212.8h0M170.1 262.6h0M152.6 205.8h0M203.6 80.7h0M207.1 188.4h0M182.2 236.6h0M216.7 114.3h0M199.7 99.2h0M218.3 108.4h0M207.6 122.8h0M213.5 214.8h0M220.5 163.7h0M150.8 248.2h0M209.1 218.9h0M190.0 154.9h0M208.6 101.9h0M216.4 216.2h0M159.3 194.3h0M159.7 245.3h0M184.0 261.5h0M140.5 240.6h0M193.1 185.7h0M213.3 185.0h0M140.6 224.5h0M191.0 252.9h0M182.6 215.3h0M149.3 219.1h0M186.4 259.6h0M158.5 205.3h0M141.1 244.8h0M158.8 224.9h0M208.5 103.1h0M172.7 183.7h0M207.1 137.7h0M195.0 161.4h0M178.3 192.8h0M168.6 230.2h0M195.3 124.6h0M203.7 194.5h0M151.7 203.4h0M179.0 228.2h0M209.2 231.3h0M212.5 128.6h0M176.1 227.2h0M182.4 186.5h0M146.0 245.7h0M220.4 138.2h0M166.6 209.7h0M204.7 98.0h0M213.0 179.5h0M204.8 115.2h0M203.4 124.1h0M212.6 116.7h0M219.0 211.2h0M218.4 182.3h0M191.3 122.2h0M213.8 82.0h0M178.2 159.9h0M165.0 168.5h0M201.7 221.0h0M205.0 182.0h0M187.8 178.3h0M181.9 156.4h0M170.7 270.8h0M178.4 223.3h0M195.0 190.1h0M168.4 214.8h0M188.3 124.4h0M152.3 230.1h0M140.8 231.8h0M216.4 128.6h0M216.2 203.9h0M161.6 211.0h0M183.1 195.7h0M149.7 231.8h0M194.6 154.9h0M204.9 192.9h0M158.6 221.1h0M178.6 182.1h0M201.4 221.5h0M176.6 219.1h0M199.0 118.0h0M198.4 150.2h0M179.0 174.4h0M190.3 214.4h0M197.5 237.1h0M213.9 211.1h0M202.6 236.3h0M159.8 254.6h0M175.3 250.2h0M163.4 218.7h0M195.2 153.8h0M185.0 259.7h0M185.4 224.2h0M216.1 171.3h0M141.1 230.0h0M194.6 241.6h0M217.3 95.2h0M162.7 247.7h0M156.7 213.2h0M199.6 79.8h0M216.5 191.4h0M204.8 129.9h0M213.3 154.1h0M194.2 221.7h0M185.6 181.5h0M182.7 223.7h0M152.7 198.1h0M205.7 122.8h0M147.9 263.8h0M200.5 110.0h0M146.3 194.8h0M154.6 256.7h0M181.9 135.1h0M202.2 141.5h0M213.3 189.8h0M140.5 246.4h0M188.5 184.6h0M216.4 113.4h0M217.8 109.4h0M184.1 242.2h0M163.3 267.5h0M209.1 104.0h0M178.2 183.6h0M188.7 168.8h0M197.7 176.5h0M186.8 133.7h0M211.5 165.5h0M149.1 209.5h0M175.6 258.9h0M209.1 229.8h0M184.6 225.0h0M165.8 270.4h0M199.9 94.2h0M167.5 192.0h0M208.8 137.8h0M139.2 202.0h0M214.1 112.9h0M180.1 243.9h0M199.3 240.9h0M205.9 97.0h0M205.8 103.7h0M159.2 244.1h0M206.2 123.7h0M170.5 220.4h0M162.3 210.2h0M200.4 214.5h0M184.7 247.6h0M194.8 150.2h0M214.7 83.1h0M172.0 241.5h0M169.3 194.4h0M215.6 172.9h0M185.3 180.7h0M191.2 242.9h0M201.6 204.0h0M141.4 237.4h0M145.7 248.1h0M144.6 235.9h0M168.9 250.5h0M171.7 236.6h0M158.0 262.8h0M190.0 166.8h0M159.4 235.0h0M205.9 234.2h0M155.9 208.5h0M210.9 185.2h0M212.0 84.3h0M187.2 163.8h0M188.4 250.0h0M212.5 229.5h0M161.7 173.4h0M148.4 241.0h0M197.7 151.7h0M209.4 207.9h0M181.4 222.6h0M221.2 138.5h0M187.2 232.5h0M186.9 173.0h0M212.5 230.5h0M179.1 230.1h0M180.7 192.6h0M158.8 260.3h0M199.0 146.6h0M208.9 158.8h0M148.6 245.6h0M202.5 126.2h0M180.1 154.5h0M156.8 210.9h0M218.8 140.7h0M144.6 255.2h0M194.5 233.3h0M171.3 165.5h0M217.4 206.7h0M161.8 168.2h0M201.4 152.8h0M186.7 166.7h0M203.5 200.2h0M209.6 193.2h0M207.3 139.8h0M184.1 250.5h0M202.1 213.8h0M202.9 126.5h0M217.2 108.5h0M209.5 106.6h0M181.1 157.5h0M160.3 224.3h0M199.2 189.9h0M210.8 101.8h0M199.2 114.5h0M154.1 185.6h0M196.2 97.4h0M157.8 265.2h0M219.9 187.7h0M188.2 230.8h0M192.5 253.7h0M174.1 178.4h0M152.4 202.3h0M171.7 156.4h0M181.9 172.5h0M159.5 256.7h0M142.9 206.0h0M155.5 188.5h0M159.6 177.7h0M175.6 150.6h0M164.5 248.8h0M216.4 131.2h0M156.5 222.4h0M191.8 201.2h0M217.3 119.8h0M192.7 245.0h0M173.7 181.3h0M207.6 161.2h0M218.3 133.9h0M194.5 148.0h0M162.7 192.8h0M218.0 86.2h0M148.4 246.8h0M143.8 252.7h0M199.8 126.3h0M216.8 180.1h0M211.5 193.2h0M169.6 197.2h0M180.7 261.5h0M204.0 147.9h0M199.1 166.0h0M188.7 156.2h0M220.2 124.2h0M202.7 137.0h0M139.8 199.1h0M155.0 245.2h0M167.7 254.6h0M177.6 163.5h0M196.3 238.1h0M206.7 233.2h0M200.5 120.0h0M205.1 198.1h0M200.9 200.5h0M196.9 127.6h0M182.3 215.7h0M197.8 185.4h0M183.3 225.5h0M173.1 192.7h0M145.8 231.8h0M214.3 158.7h0M184.2 226.9h0M139.6 249.6h0M203.8 113.0h0M158.5 190.2h0M193.3 129.4h0M163.1 192.7h0M159.0 174.0h0M156.7 249.9h0M200.0 140.3h0M201.6 105.3h0M215.3 132.1h0M208.2 159.0h0M207.6 163.7h0M206.1 158.6h0M144.5 244.4h0M173.2 229.0h0M148.2 211.9h0M153.0 223.1h0M187.9 253.7h0M161.5 263.4h0M156.3 249.5h0M169.4 215.1h0M181.6 209.2h0M193.5 198.9h0M220.3 118.3h0M206.1 81.9h0M181.5 173.9h0M180.7 254.0h0M201.2 156.3h0M213.5 170.8h0M209.0 147.2h0M200.1 160.5h0M152.2 225.4h0M168.9 215.7h0M201.0 166.4h0M203.4 218.9h0M183.6 244.7h0M149.2 195.2h0M200.1 213.9h0M194.1 209.6h0M207.7 215.6h0M158.0 228.8h0M205.0 139.2h0M193.9 169.2h0M142.7 234.4h0M154.9 199.7h0M151.8 260.3h0M185.3 215.1h0M197.1 179.1h0M147.8 219.0h0M176.5 175.9h0M211.4 163.4h0M191.1 170.6h0M173.6 199.3h0M187.5 136.1h0M210.7 208.1h0M220.0 190.1h0M216.7 207.5h0M219.4 138.1h0M193.5 122.6h0M194.9 235.5h0M194.4 139.6h0M184.7 139.2h0M217.7 93.0h0M191.1 120.9h0M215.1 105.3h0M168.4 265.4h0M166.3 180.6h0M212.6 180.4h0M144.2 261.2h0M218.9 125.3h0M205.3 220.3h0M202.5 198.7h0M204.1 149.3h0M180.9 172.5h0M147.7 226.6h0M173.8 241.9h0M185.2 227.6h0M190.3 137.5h0M164.2 178.9h0M216.7 81.5h0M142.1 241.8h0M156.0 221.9h0M199.1 237.2h0M156.7 210.9h0M142.9 258.0h0M212.6 127.1h0M197.2 248.4h0M202.1 172.6h0M166.3 160.3h0M193.2 174.5h0M216.2 217.8h0M142.4 198.9h0M186.5 143.7h0M184.2 137.8h0M165.0 242.0h0M194.4 250.7h0M154.7 246.1h0M172.6 231.6h0M174.3 208.2h0M180.4 258.5h0M206.1 160.6h0M209.3 85.6h0M217.0 154.8h0M180.5 261.4h0M173.4 199.2h0M194.1 220.5h0M203.1 158.2h0M179.6 147.4h0M206.5 234.4h0M200.1 245.6h0M179.8 235.3h0M199.2 215.6h0M166.8 171.5h0M211.9 95.2h0M155.8 252.4h0M198.0 144.3h0M214.7 170.4h0M152.9 227.9h0M181.0 183.6h0M198.0 144.9h0M172.8 235.2h0M152.1 263.7h0M165.5 245.7h0M211.9 236.6h0M211.1 152.4h0M219.5 176.3h0M139.3 216.7h0M179.2 237.2h0M212.1 124.7h0M163.4 180.5h0M219.1 184.4h0M183.9 167.1h0M207.6 171.3h0M218.0 120.2h0M180.3 160.5h0M139.6 239.5h0M216.6 96.6h0M184.4 226.1h0M197.6 110.1h0M177.4 144.5h0M187.0 202.8h0M209.3 111.8h0M159.6 215.9h0M171.7 193.5h0M187.2 127.8h0M167.3 171.0h0M190.1 215.1h0M191.3 134.6h0M217.9 99.6h0M191.4 255.6h0M177.6 149.2h0M216.4 191.8h0M178.7 203.9h0M174.0 190.7h0M141.0 222.5h0M189.6 223.5h0M168.5 162.6h0M193.7 123.7h0M190.5 171.5h0M145.0 218.2h0M203.2 177.4h0M207.1 215.0h0M202.2 138.4h0M157.6 246.6h0M184.1 227.4h0M171.4 223.2h0M167.2 174.7h0M168.8 218.3h0M140.8 223.5h0M156.4 213.6h0M154.1 254.8h0M158.6 244.7h0M199.2 96.2h0M192.2 198.4h0M188.1 189.8h0M207.4 85.3h0M218.1 109.4h0M168.5 214.9h0M142.7 225.2h0M198.0 181.7h0M139.7 225.2h0M195.6 229.0h0M200.2 160.0h0M219.9 153.6h0M213.8 133.6h0M209.3 141.0h0M199.9 214.0h0M196.7 165.2h0M197.4 209.6h0M209.0 218.3h0M202.6 176.0h0M154.6 187.6h0M158.1 190.0h0M172.0 239.1h0M213.1 80.0h0M197.0 246.8h0M186.2 174.5h0M169.2 236.7h0M156.1 257.3h0M191.6 162.1h0M215.8 111.6h0M208.2 227.7h0M141.7 205.7h0M187.1 157.3h0M192.1 134.4h0M156.2 197.1h0M196.2 141.1h0M214.1 87.3h0M151.7 219.6h0M174.3 167.1h0M212.8 124.2h0M178.2 216.3h0M206.1 107.8h0M198.7 247.4h0M215.2 178.4h0M203.0 100.9h0M209.4 163.3h0M159.7 208.3h0M215.2 114.9h0M143.7 239.4h0M186.3 159.5h0M139.8 240.7h0M174.0 259.1h0M160.6 180.5h0M181.2 159.5h0M204.3 121.8h0M196.3 127.5h0M179.1 230.6h0M179.5 204.2h0M162.4 261.4h0M163.8 251.9h0M216.8 82.9h0M214.1 128.0h0M198.5 217.1h0M212.3 195.8h0M181.4 253.5h0M203.8 79.9h0M159.4 196.1h0M153.8 242.0h0M208.7 105.7h0M149.9 258.0h0M186.7 239.4h0M203.3 94.0h0" stroke="#b5b5b5" stroke-width="1.10" stroke-linecap="round" fill="none"/>
<path d="M188.3 116.1h0M190.9 102.7h0M142.8 175.4h0M171.8 117.5h0M146.0 106.7h0M173.1 110.8h0M117.7 168.6h0M148.0 165.6h0M174.7 146.6h0M168.1 138.0h0M189.3 86.0h0M191.1 81.6h0M159.9 114.7h0M143.7 157.5h0M166.6 128.6h0M188.3 145.0h0M127.5 174.6h0M161.3 101.6h0M140.0 199.3h0M148.0 152.9h0M189.6 132.7h0M153.5 186.3h0M151.5 148.6h0M129.7 166.3h0M179.0 146.5h0M193.5 106.1h0M183.5 100.0h0M184.9 148.6h0M131.0 126.7h0M131.2 197.5h0M145.5 178.2h0M139.0 118.4h0M190.7 137.1h0M143.6 102.8h0M116.9 177.2h0M195.0 86.1h0M150.8 100.6h0M169.2 151.3h0M173.9 124.0h0M153.8 97.1h0M168.2 136.1h0M188.7 115.0h0M138.6 196.8h0M151.9 165.5h0M146.1 162.5h0M158.0 87.8h0M124.9 169.2h0M115.4 193.9h0M176.6 151.4h0M198.5 83.7h0M146.1 108.5h0M169.2 141.7h0M196.6 91.1h0M139.2 144.1h0M120.6 175.5h0M153.8 136.6h0M183.5 101.1h0M146.8 118.7h0M176.7 91.0h0M164.9 102.5h0" stroke="#c0c0c0" stroke-width="1.00" stroke-linecap="round" fill="none"/>
<path d="M154.2 225.9h0M189.4 204.6h0M196.4 197.3h0M182.0 210.7h0M179.0 188.3h0M199.3 175.4h0M207.1 162.1h0M168.1 202.2h0M189.2 189.0h0M184.6 215.8h0M159.8 206.0h0M162.6 209.8h0M206.1 167.1h0M171.8 239.8h0M189.2 167.0h0M180.8 190.1h0M184.5 203.1h0M210.6 116.6h0M168.2 228.7h0M157.5 203.2h0M193.8 173.5h0M213.2 106.8h0M187.6 205.0h0M211.5 124.6h0M163.3 218.8h0M196.2 155.2h0M202.5 159.0h0M189.0 168.5h0M190.4 180.9h0M164.7 244.5h0M190.4 202.9h0M173.8 214.7h0M212.5 143.1h0M187.3 167.2h0M158.0 229.1h0M149.7 217.8h0M205.6 137.8h0M196.3 138.8h0M194.9 157.1h0M182.0 188.4h0M172.5 250.5h0M158.9 203.8h0M168.1 200.5h0M191.3 193.5h0M202.9 144.8h0M212.9 99.1h0M169.3 177.1h0M162.4 203.9h0M171.2 230.2h0M202.7 135.2h0M174.4 206.4h0M188.9 177.5h0M152.0 226.0h0M193.9 155.9h0M170.5 188.0h0M181.5 224.1h0M185.5 210.7h0M164.3 258.3h0M163.0 254.7h0M201.3 160.2h0M215.8 85.0h0M181.7 180.9h0M163.7 252.3h0M203.8 131.6h0M191.2 150.7h0M156.2 243.3h0M174.1 190.4h0M177.2 180.9h0M153.0 239.1h0M205.2 157.2h0M173.9 217.1h0M166.7 183.2h0M198.6 149.0h0M210.2 154.0h0M185.8 156.3h0M163.6 254.7h0M192.6 158.5h0M190.0 188.5h0M176.2 184.9h0M150.8 243.2h0M173.0 209.8h0M164.4 263.1h0M179.6 233.6h0M151.5 236.5h0M166.3 264.7h0M183.8 172.9h0M160.3 222.9h0M164.4 253.9h0M149.7 209.0h0M159.6 231.0h0M212.7 100.9h0M210.2 96.5h0M175.6 210.0h0M174.3 184.0h0M158.3 208.8h0M173.4 225.7h0M209.3 103.0h0M172.7 224.0h0M174.6 179.6h0M180.3 160.1h0M198.1 166.9h0M156.5 256.6h0M168.2 185.7h0M198.1 199.2h0M154.5 241.5h0M198.9 176.9h0M191.2 175.0h0M148.6 231.8h0M151.1 209.2h0M161.8 256.9h0M162.4 263.5h0M185.2 151.0h0M195.4 164.0h0M199.9 159.7h0M206.9 142.2h0M175.1 184.3h0M155.2 201.1h0M188.5 160.1h0M206.1 162.4h0M192.8 201.5h0M209.5 136.8h0M162.0 233.8h0M166.6 226.5h0M163.9 248.3h0M189.3 203.4h0M183.6 153.2h0M187.9 207.5h0M186.4 202.3h0M162.7 265.8h0M190.2 147.7h0M162.8 216.4h0M165.7 218.5h0M154.7 207.1h0M186.5 177.0h0M189.0 210.9h0M160.4 263.4h0M179.2 163.4h0M191.7 160.8h0M192.5 144.7h0M175.7 213.5h0M169.3 221.6h0M166.9 258.7h0M190.2 167.0h0M192.6 196.1h0M190.4 178.7h0M159.2 256.5h0M159.1 200.2h0M184.3 197.1h0M197.5 181.5h0M165.9 244.8h0M153.2 247.2h0M174.9 242.9h0M205.1 147.1h0M213.1 117.4h0M215.7 87.7h0M208.9 105.7h0M194.6 169.4h0M216.4 111.2h0M202.1 162.5h0M155.2 235.4h0M155.3 215.1h0M211.7 142.0h0M183.2 191.5h0M170.2 213.5h0M184.1 206.7h0M173.9 232.2h0M170.1 201.3h0M148.6 223.5h0M173.0 178.7h0M156.5 220.2h0M213.5 122.5h0M172.2 235.0h0M179.8 198.7h0M170.9 240.5h0M152.7 216.9h0M194.2 143.8h0M153.3 227.0h0M178.1 159.8h0M167.6 244.5h0M214.1 94.8h0M180.7 220.2h0M215.0 80.8h0M161.4 228.3h0M186.0 168.0h0M202.3 156.2h0M184.5 156.1h0M167.0 176.2h0M208.4 99.5h0M184.4 184.0h0M195.3 205.8h0M157.6 257.2h0M183.4 208.7h0M185.3 180.0h0M185.3 164.4h0M171.6 184.4h0M199.7 150.5h0M188.3 146.7h0M176.5 197.5h0M170.6 174.3h0M201.7 174.8h0M210.3 111.3h0M187.1 151.4h0M148.6 223.5h0M181.7 199.8h0M189.3 208.6h0M205.7 145.8h0M189.7 150.6h0M216.8 91.7h0M214.0 101.7h0M190.9 163.2h0M162.0 230.1h0M194.2 170.6h0M186.9 189.3h0M190.1 190.2h0M156.6 215.7h0M187.7 172.3h0M168.0 222.2h0M171.7 254.4h0M192.6 175.1h0M170.3 255.2h0M198.2 191.3h0M190.4 172.6h0M177.3 216.1h0M174.6 189.4h0M173.3 234.4h0M181.7 203.1h0M204.2 152.0h0M169.2 188.4h0M167.4 238.9h0M192.0 160.6h0M146.7 237.0h0M157.8 223.1h0M214.9 101.1h0M185.2 171.3h0M194.2 171.8h0M159.6 213.9h0M200.4 169.9h0M172.2 191.7h0M193.3 154.0h0M163.9 219.2h0M169.3 254.8h0M162.5 261.6h0M189.4 184.4h0M201.1 184.4h0M205.7 166.8h0M174.5 226.6h0M172.7 245.4h0M160.3 187.3h0M171.5 195.9h0M148.5 222.5h0M159.1 204.9h0M198.4 164.9h0M184.6 183.8h0M160.1 254.1h0M174.2 166.2h0M175.4 190.8h0M183.3 211.7h0M196.3 206.0h0M159.0 196.8h0M149.6 211.4h0M203.5 156.9h0M217.0 87.4h0M154.2 223.0h0M182.5 203.4h0M202.9 166.7h0M156.6 235.6h0M198.0 153.8h0M157.1 200.3h0M171.2 169.8h0M201.0 149.8h0M163.8 265.8h0M176.3 172.2h0M192.0 187.2h0M149.4 230.4h0M162.9 210.5h0M152.8 244.1h0M193.4 196.7h0M164.8 179.5h0M192.5 213.7h0M199.0 171.8h0M174.0 169.4h0M161.6 218.4h0M215.2 81.3h0M155.3 247.8h0M212.7 101.9h0M197.2 145.9h0M187.2 196.0h0M164.5 259.7h0M164.9 237.8h0M212.7 107.5h0M196.3 170.1h0M163.8 232.7h0M207.5 123.8h0M162.0 259.6h0M178.7 159.3h0M188.8 212.1h0M189.4 175.5h0M173.5 201.8h0M213.8 124.3h0M166.8 253.9h0M153.4 214.1h0M157.8 240.3h0M210.4 147.4h0M159.9 195.0h0M157.5 240.2h0M210.0 117.2h0M199.4 143.3h0M191.4 183.4h0M180.4 187.3h0M167.7 258.4h0M196.0 182.8h0M212.8 139.1h0M149.7 243.1h0M201.0 180.3h0M184.5 213.1h0M172.3 245.6h0M182.9 209.4h0M162.8 237.6h0M195.7 177.9h0M183.0 199.3h0M204.3 171.7h0M216.0 86.4h0M187.1 170.4h0M180.4 173.3h0M169.1 198.3h0M196.1 191.2h0M157.0 245.0h0M213.7 102.3h0M168.6 196.7h0M169.3 231.1h0M215.5 108.6h0M194.5 144.5h0M196.2 179.0h0M178.0 208.5h0M167.3 228.4h0M154.6 205.4h0M177.9 197.5h0M209.6 128.7h0M171.2 229.5h0M178.3 208.5h0M172.2 209.1h0M203.0 177.4h0M155.2 252.0h0M147.9 233.4h0M187.3 214.8h0M173.2 231.9h0M160.5 262.6h0M182.1 166.7h0M211.6 120.9h0M195.1 170.7h0M149.1 229.3h0M173.5 212.2h0M159.5 247.4h0M157.1 206.8h0M216.6 84.0h0M173.3 247.3h0M190.9 194.3h0M162.2 262.6h0M170.2 254.0h0M152.6 202.5h0M163.3 233.4h0M163.0 220.9h0M181.1 204.0h0M195.4 158.3h0M204.6 132.8h0M215.6 108.2h0M159.2 257.2h0M152.0 233.7h0M162.1 203.3h0M203.2 159.6h0M189.3 159.3h0M168.2 225.4h0M193.7 210.3h0M153.2 218.0h0M176.0 224.5h0M206.0 164.2h0M182.3 179.4h0M169.3 219.4h0M205.4 133.6h0M214.9 108.5h0M215.3 87.7h0M187.0 170.0h0M185.9 156.4h0M212.7 141.3h0M185.0 176.3h0M195.4 139.6h0M175.2 241.9h0M197.5 176.6h0M190.7 162.2h0M188.9 158.7h0M176.1 170.9h0M172.4 202.5h0M177.7 230.9h0M196.4 141.8h0M206.7 157.6h0M184.7 173.9h0M196.5 148.0h0M183.0 197.8h0M211.5 82.4h0M151.8 217.3h0M211.1 112.4h0M199.1 169.3h0M151.2 211.3h0M150.6 248.2h0M171.7 232.3h0M159.2 194.9h0M174.0 235.9h0M188.0 213.7h0M177.2 190.9h0M211.9 77.0h0M206.9 120.3h0M192.5 174.6h0M165.1 181.1h0M182.3 154.3h0M162.4 196.8h0M154.6 242.9h0M189.5 160.6h0M151.0 224.4h0M159.8 193.8h0M183.2 153.8h0M153.5 221.9h0M174.6 212.4h0M164.1 253.9h0M212.5 97.7h0M153.9 213.0h0M156.0 239.3h0M168.6 176.4h0M187.6 148.1h0M194.6 169.5h0M213.1 131.3h0M196.3 186.8h0M166.3 228.2h0M147.8 213.5h0M191.7 157.0h0M185.0 164.5h0M162.9 192.0h0M183.8 206.8h0M173.6 223.4h0M189.1 147.2h0M175.6 191.2h0M172.8 204.0h0M152.9 208.7h0M195.7 187.5h0M195.3 204.8h0M169.2 173.2h0M189.8 171.6h0M172.5 171.0h0M175.7 228.8h0M168.3 187.8h0M193.8 178.8h0M182.8 175.4h0M198.8 170.9h0M181.7 177.3h0M161.3 200.0h0M181.1 234.4h0M204.3 163.1h0M186.6 168.3h0M158.6 215.1h0M190.0 217.6h0M201.7 184.0h0M206.3 169.5h0M193.9 177.2h0M198.8 138.1h0M216.5 95.9h0M159.2 260.7h0M207.4 121.8h0M190.4 165.3h0M174.4 190.2h0M167.2 196.3h0M188.1 203.2h0M170.4 213.9h0M197.3 162.9h0M200.5 184.2h0M176.7 167.5h0M167.3 225.4h0M205.2 133.5h0M216.6 103.3h0M194.1 179.7h0M211.7 150.2h0M209.4 135.7h0M208.8 127.0h0M183.8 221.8h0M163.0 200.2h0M211.3 150.8h0M198.9 190.1h0M189.6 183.0h0M205.7 137.9h0M182.9 214.6h0M183.1 184.5h0M172.7 212.3h0M161.0 216.3h0M200.0 154.5h0M209.8 95.6h0M159.7 256.9h0M163.5 260.6h0M189.1 198.8h0M151.0 248.6h0M187.8 220.1h0M203.7 127.5h0M195.8 195.8h0M183.0 181.4h0M146.9 220.6h0M156.9 221.5h0M184.3 227.6h0M199.9 162.7h0M170.6 196.7h0M172.9 241.1h0M180.4 188.5h0M214.0 102.2h0M167.5 219.4h0M212.6 88.1h0M169.3 253.7h0M189.9 201.5h0M195.6 153.0h0M192.0 155.8h0M160.6 218.1h0M156.1 248.8h0M166.1 250.4h0M186.6 157.8h0M201.5 177.0h0M205.9 165.0h0M177.6 235.2h0M183.8 167.7h0M159.4 240.8h0M208.1 136.4h0M170.8 245.6h0M148.0 235.9h0M210.4 124.5h0M188.0 185.6h0M180.4 201.6h0M154.3 244.8h0M193.9 173.4h0M153.4 255.3h0M207.5 106.7h0M183.5 194.4h0M193.7 183.7h0M207.1 161.0h0M203.2 132.4h0M212.8 87.6h0M155.7 218.3h0M184.6 214.4h0M190.2 154.6h0M149.2 214.8h0M153.5 237.1h0M173.8 238.6h0M150.8 245.0h0M159.1 228.8h0M184.4 176.4h0M146.9 227.6h0M196.7 181.0h0M202.4 149.8h0M151.1 221.2h0M194.7 184.2h0M191.9 144.3h0M159.7 193.2h0M152.2 230.9h0M199.1 171.3h0M172.5 204.2h0M163.7 196.6h0M152.9 223.0h0M152.6 225.8h0M187.0 205.2h0M211.7 122.6h0M171.0 185.5h0M180.5 175.9h0M167.8 237.7h0M148.4 219.1h0M168.1 261.7h0M156.6 201.3h0M209.7 104.7h0M192.6 212.2h0M192.8 162.2h0M207.5 134.0h0M167.5 218.8h0M192.5 181.5h0M163.0 239.6h0M165.2 187.8h0M197.2 199.8h0M195.7 168.3h0M197.9 186.7h0M153.0 205.2h0M195.4 197.4h0M170.7 249.6h0M164.3 261.3h0M166.3 252.3h0M170.6 223.2h0M157.4 262.9h0M156.9 231.9h0M176.5 180.6h0M209.3 114.6h0M217.7 88.3h0M158.7 252.8h0M172.2 233.4h0M171.0 229.5h0M174.8 177.9h0M185.3 179.9h0M192.1 197.8h0M212.4 73.9h0M212.4 73.4h0M213.0 109.8h0M171.2 248.2h0M214.8 91.8h0M176.3 164.3h0M214.7 90.2h0M146.9 219.7h0M173.6 193.1h0M169.3 220.1h0M165.0 239.8h0M149.4 241.4h0M169.9 180.3h0M183.1 164.2h0M175.7 219.4h0M177.8 180.3h0M160.9 218.4h0M167.3 193.8h0M212.3 82.7h0M159.3 232.4h0M163.5 216.1h0M173.5 217.1h0M163.0 217.8h0M185.3 193.1h0M171.5 203.6h0M182.4 222.2h0M182.8 162.2h0M175.9 246.0h0M188.3 201.9h0M208.6 150.1h0M176.1 181.3h0M154.2 235.0h0M158.2 230.6h0M190.9 179.4h0M205.8 154.0h0M185.3 177.0h0M161.7 191.4h0M212.7 100.7h0M158.7 244.4h0M212.8 76.9h0M196.9 181.9h0M159.7 238.8h0M174.0 224.0h0M185.0 177.4h0M157.1 229.6h0M175.1 202.0h0M192.5 183.3h0M207.6 139.1h0M204.5 162.8h0M159.8 190.6h0M165.2 239.1h0M188.1 215.4h0M160.4 259.3h0M181.4 175.1h0M198.3 187.5h0M192.4 158.7h0M195.4 197.1h0M194.3 141.6h0M155.8 261.4h0M193.3 163.3h0M191.9 148.4h0M176.3 168.0h0M182.6 207.6h0M201.5 155.4h0M189.5 203.4h0M177.1 218.2h0M211.8 150.4h0M174.7 217.0h0M155.8 233.5h0M210.1 153.3h0M176.7 208.1h0M211.3 105.0h0M177.3 197.0h0M193.7 178.4h0M172.2 223.9h0M181.1 169.8h0M179.1 181.8h0M158.0 247.4h0M156.8 216.4h0M206.6 132.6h0M172.6 185.4h0M203.0 170.4h0M210.0 92.8h0M162.3 207.6h0M159.5 202.0h0M193.7 180.8h0M155.2 197.9h0M162.2 225.9h0M169.1 207.2h0M164.2 206.4h0M184.0 213.0h0M186.4 158.8h0M210.8 103.3h0M215.0 96.2h0M208.5 123.5h0M180.7 162.3h0M209.3 108.2h0M156.0 249.9h0M163.1 243.7h0M200.8 185.4h0M162.8 261.6h0M158.3 199.5h0M179.2 213.6h0M202.3 128.3h0M184.7 209.0h0M151.9 204.7h0M179.9 224.8h0M172.0 188.8h0M184.2 178.6h0M209.9 99.5h0M164.3 206.5h0M195.1 154.3h0M163.2 256.5h0M194.8 174.8h0M204.5 124.2h0M201.7 136.5h0M190.3 185.9h0M184.2 162.9h0M187.1 215.2h0M159.6 236.8h0M168.2 245.4h0M158.2 208.3h0M170.2 195.9h0M167.8 261.5h0M160.0 225.6h0M147.3 218.8h0M194.4 176.7h0M196.1 170.0h0M149.9 209.6h0M147.6 212.8h0M214.2 110.1h0M170.3 244.8h0M212.5 131.5h0M158.4 227.1h0M195.1 191.4h0M172.2 209.3h0M214.2 117.5h0M181.9 156.5h0M191.9 160.4h0M210.0 147.8h0M183.4 178.2h0M191.6 214.0h0M178.8 228.9h0M175.4 200.7h0M207.4 150.4h0M193.1 159.3h0M160.3 242.7h0M191.9 186.4h0M160.6 188.8h0M149.6 223.8h0M180.3 185.9h0M209.2 96.1h0M200.7 146.2h0M164.1 194.4h0M164.3 198.0h0M161.9 226.2h0M179.8 161.4h0M179.7 213.7h0M175.9 171.2h0M151.4 203.4h0M155.7 235.3h0M166.8 240.6h0M160.0 259.4h0M213.1 128.2h0M175.7 190.3h0M176.2 245.1h0M170.6 254.9h0M157.5 226.2h0M164.1 194.3h0M177.8 192.4h0M209.8 92.3h0M200.7 156.4h0M176.7 233.7h0M196.5 138.0h0M174.8 227.8h0M187.7 194.9h0M193.3 197.6h0M192.4 179.1h0M213.4 104.5h0M189.3 209.7h0M156.7 217.9h0M154.1 253.6h0M203.4 159.4h0M160.5 236.8h0M158.0 193.7h0M156.7 196.4h0M180.9 189.1h0M172.0 251.9h0M170.9 239.1h0M147.8 237.9h0M195.6 170.8h0M198.3 175.8h0M191.0 196.3h0M185.4 172.8h0M198.5 146.4h0M208.6 114.5h0M192.5 196.8h0M168.5 196.2h0M199.2 173.9h0M150.9 240.1h0M176.2 232.6h0M202.8 162.3h0M188.5 171.6h0M163.9 259.5h0M183.2 161.1h0M187.9 184.0h0M148.8 236.2h0M209.0 97.0h0M201.5 185.7h0M172.7 209.1h0M149.0 242.7h0M194.3 168.6h0M203.7 132.5h0M193.1 209.3h0M159.2 238.2h0M186.6 224.2h0M154.2 225.9h0M150.2 245.5h0M179.9 170.2h0M161.6 189.8h0M181.5 216.2h0M178.9 164.2h0M198.7 160.6h0M157.6 244.1h0M179.6 230.2h0M161.3 218.8h0M158.9 219.1h0M161.3 219.3h0M154.5 256.3h0M196.5 195.1h0M147.3 227.6h0M213.7 75.8h0M178.7 160.1h0M173.2 179.6h0M194.5 164.9h0M187.4 202.7h0M190.6 186.5h0M167.6 234.5h0M178.1 215.5h0M164.3 251.8h0M175.6 235.3h0M205.0 122.6h0M157.9 204.8h0M215.7 109.8h0M202.5 145.9h0M217.0 86.6h0M213.2 132.4h0M153.1 240.0h0M171.9 235.8h0M167.3 185.0h0M161.2 223.2h0M181.3 219.7h0M213.8 100.0h0M206.3 137.2h0M188.4 184.7h0M180.5 232.4h0M216.1 95.8h0M186.7 194.1h0M156.6 260.5h0M155.7 223.1h0M160.0 220.8h0M185.5 151.8h0M164.7 223.2h0M160.8 235.7h0M213.0 96.2h0M209.7 146.1h0M162.9 220.5h0M172.0 181.2h0M165.4 243.6h0M186.2 208.7h0M178.6 185.0h0M188.2 166.2h0M153.9 220.9h0M191.0 201.8h0M166.7 245.7h0M156.5 262.0h0M193.6 161.4h0M173.9 246.1h0M200.4 138.2h0M147.4 213.4h0M191.6 213.6h0M171.8 192.1h0M184.5 177.5h0M149.5 211.8h0M157.5 192.4h0M211.6 90.6h0M163.4 237.8h0M160.1 246.7h0M185.4 207.2h0M162.2 229.4h0M166.3 223.0h0M183.3 212.0h0M187.2 155.6h0M172.8 245.5h0M165.3 223.2h0M154.2 218.5h0M178.6 201.7h0M169.8 246.4h0M172.7 221.1h0M212.0 109.1h0M149.1 229.2h0M170.7 217.5h0M192.1 162.9h0M154.0 239.7h0M212.6 100.8h0M192.4 192.6h0M183.2 216.5h0M154.9 231.1h0M196.4 195.6h0M163.0 239.5h0M198.4 162.8h0M178.9 167.1h0M162.1 257.7h0M159.7 223.9h0M175.1 184.9h0M189.9 172.5h0M167.3 258.5h0M173.0 224.7h0M211.1 150.1h0M164.8 200.8h0M217.1 86.7h0M176.6 195.1h0M158.4 256.4h0M160.2 195.4h0M151.7 232.1h0M188.3 183.3h0M180.1 203.0h0M182.1 191.1h0M186.8 167.5h0M190.5 181.0h0M162.3 239.5h0M214.9 91.8h0M215.5 88.8h0M159.4 242.6h0M207.5 136.8h0M168.3 177.0h0M208.1 118.2h0M183.5 222.2h0M191.3 167.1h0M167.1 181.1h0M211.8 127.6h0M158.7 247.9h0M209.3 134.8h0M184.6 150.4h0M210.4 101.1h0M146.3 235.8h0M150.9 219.3h0M193.4 164.9h0M189.6 214.4h0M151.4 243.0h0M170.5 172.8h0M204.3 160.1h0M215.7 117.2h0M203.9 148.1h0M202.5 147.2h0M159.8 189.4h0M208.0 165.0h0M179.0 226.6h0M191.5 161.4h0M193.0 165.6h0M166.6 190.1h0M154.7 231.9h0M178.7 230.0h0M207.9 132.8h0M196.0 170.6h0M203.7 174.2h0M188.2 188.1h0M179.3 167.0h0M159.8 204.2h0M175.8 238.3h0M188.1 207.1h0M155.5 237.1h0M165.5 191.9h0M195.4 168.0h0M160.5 201.4h0M202.0 180.5h0M160.6 225.3h0M153.4 231.2h0M193.8 211.7h0M179.1 157.5h0M190.4 168.9h0M186.7 149.2h0M169.9 173.0h0M159.5 217.2h0M147.1 236.3h0M201.4 129.6h0M172.5 254.1h0M213.8 98.5h0M168.6 240.2h0M171.5 175.6h0M197.7 141.1h0M152.3 227.9h0M186.4 220.7h0M156.3 261.4h0M164.7 207.8h0M155.6 199.5h0M186.7 207.8h0M173.8 217.2h0M207.5 143.7h0M153.5 212.6h0M172.8 183.6h0M198.1 168.2h0M209.3 131.1h0" stroke="#6495ed" stroke-width="2.20" stroke-linecap="round" fill="none"/>
<path d="M186.3 183.3h0M195.3 165.3h0M203.2 143.1h0M197.5 147.6h0M164.2 184.3h0M164.9 253.5h0M175.3 177.6h0M190.1 152.5h0M162.5 238.4h0M178.9 166.7h0M172.3 203.2h0M168.7 225.5h0M174.8 201.1h0M162.7 209.3h0M187.0 159.5h0M157.5 258.1h0M168.0 239.3h0M171.8 224.4h0M171.2 207.4h0M172.3 185.6h0M164.4 230.9h0M162.5 234.4h0M159.9 234.7h0M176.4 178.1h0M161.7 231.6h0M155.4 243.3h0M165.9 206.6h0M163.5 227.0h0M167.6 200.9h0M156.9 219.6h0M171.1 194.4h0M156.9 261.4h0M165.8 260.6h0M168.8 236.5h0M166.5 197.8h0M165.6 223.7h0M189.7 176.7h0M168.0 196.3h0M185.6 162.6h0M169.0 209.3h0M172.2 220.2h0M159.5 195.9h0M180.6 162.3h0M177.3 185.5h0M174.8 204.7h0M157.9 260.8h0M159.9 208.9h0M190.8 156.0h0M189.3 155.9h0M157.0 242.9h0M181.3 200.0h0M158.7 201.8h0M179.0 181.3h0M150.2 210.6h0M168.9 236.7h0M169.1 211.9h0M149.6 229.2h0M170.4 190.8h0M157.1 248.4h0M162.9 192.2h0M150.3 224.4h0M155.5 240.9h0M174.3 204.1h0M172.7 186.1h0M162.9 254.1h0M173.0 177.8h0M188.1 165.6h0M161.5 219.8h0M154.5 227.9h0M156.5 255.8h0M191.4 156.0h0M199.5 151.9h0M194.8 159.6h0M176.4 190.8h0M165.5 252.4h0M178.5 191.0h0M159.5 215.0h0M165.1 247.9h0M198.8 154.8h0M182.1 190.1h0M181.6 167.3h0M196.6 149.2h0M186.2 171.5h0M189.9 155.5h0M159.7 234.7h0M198.0 143.4h0M170.6 215.9h0M153.6 220.0h0M172.2 184.2h0M156.9 228.0h0M179.3 173.1h0M178.8 180.2h0M204.1 140.5h0M165.9 190.3h0M191.3 172.9h0M180.9 189.5h0M164.0 264.6h0M186.5 163.5h0M151.1 233.5h0M158.6 251.0h0M174.5 175.8h0M178.6 185.1h0M182.7 174.5h0M156.4 224.7h0M162.9 250.1h0M191.2 167.4h0M155.2 229.5h0M154.1 203.4h0M152.7 237.9h0M177.5 177.2h0M153.2 202.5h0M161.0 263.5h0M173.1 196.2h0M171.4 186.1h0M154.9 233.4h0M182.9 167.5h0M160.1 242.8h0M158.8 235.6h0M189.0 177.0h0M147.9 238.2h0M171.9 198.1h0M162.2 212.1h0M169.6 183.3h0M173.0 195.8h0M167.7 244.8h0M181.1 186.2h0M173.2 195.3h0M188.8 181.1h0M173.3 205.1h0M164.2 242.5h0M190.9 155.9h0M158.5 260.4h0M178.2 180.7h0M174.2 210.5h0M149.5 217.2h0M172.5 230.4h0M162.0 234.3h0M172.9 208.3h0M188.5 173.4h0M147.0 220.6h0M177.1 187.0h0M171.2 234.8h0M163.2 220.6h0M165.7 238.1h0M178.0 195.4h0M169.4 227.9h0M186.6 169.3h0M188.1 169.0h0M182.3 198.6h0M200.8 142.3h0M168.4 238.1h0M178.7 186.6h0M159.7 261.6h0M165.8 238.3h0M191.7 169.8h0M198.1 140.1h0M199.2 138.8h0M148.6 230.4h0M187.0 164.4h0M162.3 239.3h0M165.9 226.4h0M201.5 149.6h0M200.0 149.5h0M174.8 193.2h0M172.5 176.2h0M152.7 233.8h0M170.9 174.4h0M158.0 242.3h0M170.8 186.5h0M159.3 190.4h0M168.9 247.0h0M160.9 242.0h0M179.1 192.1h0M159.7 248.6h0M154.6 196.6h0M166.9 229.4h0M156.0 254.1h0M175.4 207.2h0M158.2 220.2h0M156.3 255.0h0M165.1 211.0h0M163.3 231.7h0M148.1 210.2h0M158.8 230.4h0M181.4 197.4h0M169.2 200.8h0M168.0 210.2h0M163.5 206.9h0M165.8 259.7h0M185.0 168.0h0M188.5 157.5h0M170.2 199.2h0M189.8 154.6h0M147.3 221.9h0M151.4 243.6h0M181.9 178.9h0M168.6 200.6h0M159.4 263.0h0M194.4 159.6h0M176.3 183.4h0M179.7 163.3h0M158.6 196.4h0M163.4 238.8h0M155.9 222.3h0M190.3 164.6h0M168.6 192.1h0M156.0 232.3h0M182.5 183.5h0M154.3 212.4h0M162.0 219.3h0M162.4 264.0h0M202.0 137.3h0M169.8 241.7h0M154.2 239.2h0M174.2 176.7h0M163.8 189.1h0M169.6 201.1h0M163.5 242.3h0M191.4 167.7h0M175.2 175.4h0M150.3 217.2h0M153.1 254.0h0M159.3 251.0h0M173.7 179.1h0M177.2 173.2h0M156.5 236.4h0M153.2 249.5h0M195.0 145.2h0M154.2 211.1h0M171.7 176.7h0M158.2 213.4h0M151.6 222.2h0M177.3 177.5h0M154.2 227.1h0M170.7 187.5h0M171.5 227.2h0M156.6 225.0h0M165.6 217.9h0M155.8 225.9h0M191.1 176.7h0M173.3 206.6h0M202.2 143.6h0M153.1 210.4h0M156.5 220.0h0M162.9 248.7h0M166.3 218.3h0M150.7 211.1h0M164.5 191.1h0M188.5 177.0h0M178.9 206.8h0M155.4 230.2h0M160.7 231.8h0M175.3 201.0h0M164.5 264.8h0M189.5 160.6h0M175.8 192.6h0M179.1 184.6h0M157.6 256.7h0M183.0 189.3h0M160.3 246.4h0M195.5 159.3h0M170.8 178.0h0M158.1 199.7h0M181.2 199.5h0M181.3 162.3h0M190.7 171.7h0M193.5 158.4h0M154.7 216.9h0M158.4 216.9h0M160.0 194.3h0M150.8 242.9h0M173.6 196.9h0M171.6 231.9h0M149.3 207.4h0M155.2 201.8h0M167.3 185.0h0M179.3 175.8h0M168.6 197.3h0M172.5 172.5h0M160.2 211.6h0M201.7 148.4h0M188.4 176.0h0M186.9 175.6h0M191.6 165.6h0M162.1 263.4h0M173.9 189.9h0M193.4 149.2h0M164.8 249.5h0M159.2 190.8h0M160.0 245.7h0M158.7 215.9h0M157.9 215.6h0M158.8 236.4h0M166.4 194.4h0M184.2 180.8h0M160.7 193.6h0M153.5 229.2h0M178.6 190.3h0M153.9 237.6h0M191.3 150.0h0M149.4 233.1h0M173.6 225.8h0M176.6 187.4h0M182.3 161.5h0M189.1 160.0h0M157.9 217.8h0M177.1 194.4h0M157.2 242.8h0M179.0 176.4h0M156.6 238.1h0M203.7 127.9h0M151.2 216.7h0M152.4 241.4h0M158.5 197.6h0M148.6 224.5h0M151.6 223.9h0M160.4 252.7h0M167.1 238.7h0M162.0 196.1h0M150.2 228.2h0M180.0 177.5h0M184.5 169.7h0M201.3 148.4h0M157.5 249.2h0M188.5 164.4h0M172.9 190.3h0M163.3 227.9h0M195.5 159.5h0M179.9 167.7h0M161.9 254.1h0M168.2 197.5h0M175.3 195.4h0M173.4 208.3h0M164.6 242.6h0M171.6 180.6h0M164.1 189.0h0M183.8 171.5h0M186.0 168.0h0M179.9 196.6h0M171.2 188.2h0M202.4 143.9h0M168.7 217.0h0M163.9 223.6h0M187.1 155.0h0M161.8 229.0h0M163.6 238.0h0M170.2 178.7h0M149.4 227.4h0M159.2 256.3h0M163.8 212.5h0M177.3 193.5h0M200.7 152.2h0M175.9 217.7h0M191.6 171.0h0M155.5 232.4h0M162.7 198.5h0M162.6 264.5h0M177.5 189.0h0M157.0 210.9h0M170.6 181.0h0M203.7 134.2h0M172.6 204.2h0M196.1 160.0h0M157.8 231.4h0M164.8 199.6h0M170.3 215.8h0M180.8 191.4h0M153.7 229.9h0M180.7 178.6h0M148.6 214.6h0M202.0 131.7h0M172.9 217.3h0M163.8 219.5h0M177.4 186.4h0M179.6 197.3h0M184.5 167.4h0M183.5 185.1h0M164.0 219.9h0M181.4 196.7h0M158.1 238.9h0M173.8 206.1h0M152.7 238.0h0M167.8 226.7h0M186.6 173.8h0M177.3 203.3h0M163.7 193.2h0M151.1 242.5h0M159.2 244.7h0M188.4 153.4h0M187.2 161.7h0M169.2 202.4h0M184.4 187.6h0M164.3 258.0h0M152.4 214.4h0M168.4 245.1h0M177.6 196.7h0M151.5 228.2h0M171.3 225.5h0M174.0 187.2h0M191.3 167.2h0M165.0 199.9h0M169.6 196.2h0M166.6 217.2h0M146.3 221.6h0M163.7 203.6h0M189.5 170.9h0M179.0 187.7h0M162.1 226.2h0M172.3 178.0h0M160.9 253.6h0M163.0 192.4h0M174.5 188.8h0M178.7 200.5h0M156.3 230.9h0M203.6 133.9h0M151.4 202.7h0M170.7 238.7h0M165.1 261.6h0M148.4 220.6h0M158.8 240.4h0M165.6 252.0h0M162.6 224.2h0M162.2 258.3h0M148.5 237.6h0M196.2 157.8h0M175.9 191.8h0M176.4 195.7h0M192.2 158.2h0M163.4 235.9h0M179.4 206.7h0M168.5 188.0h0M194.2 153.5h0M188.3 168.1h0M154.9 205.4h0M165.8 244.0h0M161.1 234.9h0M164.1 262.2h0M177.2 190.5h0M167.4 244.6h0M185.3 175.7h0M175.9 205.5h0M153.2 226.2h0M152.3 239.1h0M159.7 193.4h0M170.5 189.2h0M186.0 183.8h0M176.9 185.3h0M148.7 218.6h0M173.0 208.4h0M202.6 136.1h0M165.2 256.1h0M197.9 141.8h0M155.4 255.1h0M178.4 196.1h0M149.8 238.1h0M151.9 225.5h0M164.0 250.3h0M191.7 162.3h0M168.9 178.5h0M171.2 174.6h0M159.5 231.5h0M185.4 162.3h0M181.5 193.0h0M193.3 170.3h0M171.6 214.6h0M177.2 201.8h0M157.5 230.3h0M182.3 178.0h0M191.0 156.9h0M154.9 253.6h0M149.9 209.1h0M160.1 224.9h0M183.4 190.2h0M149.2 212.5h0M174.6 178.5h0M163.4 226.2h0M154.7 199.6h0M164.6 208.3h0M192.0 169.7h0M168.5 198.3h0M156.9 218.1h0M172.0 236.0h0M161.4 205.1h0M167.9 232.5h0M176.2 194.7h0M166.3 190.8h0M164.8 218.7h0M156.7 249.0h0M151.2 221.5h0M185.1 182.2h0M172.4 203.3h0M183.2 164.4h0M147.3 217.1h0M146.1 216.0h0M159.8 217.8h0M178.4 200.4h0M193.0 154.9h0M172.7 219.5h0M159.0 218.7h0M173.9 192.4h0M201.9 137.1h0M160.7 199.3h0M146.4 214.8h0M154.3 217.2h0M171.3 204.6h0M182.4 198.7h0M180.9 181.7h0M185.1 164.7h0M162.4 198.9h0M196.3 148.9h0M167.6 223.8h0M157.2 225.9h0M176.1 213.4h0M187.3 180.5h0M174.9 196.5h0M159.9 189.7h0M146.8 230.2h0M195.2 148.4h0M161.0 189.9h0M169.3 188.6h0M193.9 159.2h0M184.0 188.4h0M158.6 225.2h0M186.7 162.8h0M195.6 158.3h0M188.2 177.7h0M152.0 221.3h0M167.8 182.8h0M194.5 168.0h0M193.9 155.1h0M202.5 134.4h0M176.1 174.4h0M154.5 209.1h0M147.0 232.7h0M165.1 256.4h0M170.4 176.7h0M154.2 204.6h0M156.5 201.2h0M157.9 220.3h0M167.6 222.8h0M149.7 209.2h0M172.7 179.7h0M191.2 166.7h0M168.9 213.6h0M177.7 169.1h0M194.8 162.2h0M159.1 261.7h0M159.5 256.2h0M172.3 189.2h0M156.5 248.0h0M146.7 219.7h0M175.5 211.0h0M186.5 184.3h0M172.7 231.0h0M159.5 263.5h0M174.8 173.5h0M154.5 247.7h0M161.0 233.4h0M165.3 227.1h0M185.8 169.5h0M160.6 210.4h0M165.7 206.1h0M192.1 167.9h0M167.5 249.2h0M166.4 255.3h0M165.5 232.5h0M150.9 221.9h0M159.6 198.9h0M159.1 253.1h0M174.2 205.8h0M179.2 201.2h0M162.1 224.1h0M203.5 139.1h0M158.5 236.3h0M165.7 189.9h0M155.7 250.9h0M162.6 202.0h0M187.1 169.1h0M175.7 208.5h0M154.4 228.3h0M155.3 214.5h0M171.5 194.8h0M155.9 221.2h0M171.7 226.3h0M155.5 201.6h0M185.4 163.9h0M199.1 152.9h0M155.0 223.3h0M171.8 228.0h0M150.7 243.9h0M158.1 208.1h0M180.4 180.1h0M179.8 167.8h0M169.3 217.8h0M177.5 208.4h0M166.2 222.2h0M163.8 205.4h0M172.0 236.0h0M148.1 220.5h0M159.8 220.7h0M195.8 158.6h0M197.5 148.0h0M170.6 208.8h0M162.6 188.7h0M159.3 262.0h0M171.2 215.8h0M163.2 217.7h0M173.0 197.6h0M155.6 246.2h0M158.8 250.0h0M157.7 259.7h0M167.3 253.7h0M168.7 251.1h0M174.6 201.4h0M160.6 236.1h0M203.3 142.1h0M155.9 205.1h0M165.1 260.3h0M171.1 216.9h0M183.0 183.4h0M201.9 133.5h0M156.2 254.1h0M176.3 179.1h0M199.9 144.1h0M159.2 262.7h0M164.1 254.2h0M167.9 194.8h0M159.5 257.8h0M148.0 234.9h0M191.5 151.1h0M187.7 170.4h0M182.5 190.5h0M149.6 207.3h0M165.2 188.8h0M161.1 214.3h0M168.3 232.7h0M147.3 235.8h0M174.0 226.7h0M167.4 180.9h0M188.1 172.4h0M153.9 248.1h0M171.9 195.2h0M158.5 217.4h0M184.0 176.4h0M197.4 160.3h0M148.3 216.1h0M178.8 179.7h0M201.8 147.2h0M173.6 202.6h0M182.5 173.4h0M178.8 169.9h0M185.4 168.2h0M182.9 170.8h0M162.8 256.9h0M189.0 180.5h0M170.8 224.6h0M171.2 193.6h0M185.3 167.5h0M175.6 180.8h0M178.2 193.2h0M164.4 209.7h0M192.2 151.2h0M179.2 205.8h0M157.4 223.0h0M160.6 210.1h0M175.2 204.6h0M159.5 247.6h0M166.6 250.7h0M202.1 146.4h0M151.3 220.2h0M166.2 242.2h0M154.6 211.2h0M154.0 206.6h0M160.1 214.4h0M197.3 148.0h0M196.4 160.5h0M162.8 244.6h0M200.3 140.9h0M172.4 220.7h0M151.5 220.6h0M204.5 139.3h0M182.5 195.2h0M152.5 223.0h0M177.5 165.7h0M158.0 219.4h0M170.7 218.6h0M156.7 225.9h0M179.3 179.6h0M159.8 198.3h0M150.1 215.8h0M165.6 195.9h0M199.1 147.3h0M184.1 165.4h0M152.2 217.0h0M153.9 210.5h0M166.8 238.3h0M159.9 254.4h0M157.5 234.9h0M151.9 233.1h0M176.6 200.9h0M170.2 213.7h0M194.2 151.8h0M157.1 237.5h0M152.1 221.2h0M170.0 229.8h0M159.0 256.5h0M148.8 209.3h0M171.0 188.6h0M188.9 154.1h0M160.2 205.4h0M172.9 190.4h0M182.5 188.2h0M150.5 239.2h0M156.1 230.8h0M179.1 190.8h0M158.1 240.2h0M190.5 177.3h0M157.3 227.2h0M169.1 189.4h0M170.5 209.6h0M172.9 207.1h0M155.3 253.2h0M165.6 237.4h0M163.1 209.3h0M167.5 185.6h0M167.4 189.7h0M188.8 178.5h0M172.7 223.6h0M173.1 217.7h0M169.7 196.3h0M175.0 214.9h0M149.4 226.3h0M173.5 193.7h0M180.0 177.0h0M177.1 185.9h0M176.6 188.0h0M170.5 194.6h0M164.1 261.8h0M149.6 237.0h0M178.6 185.2h0M180.0 186.9h0M149.9 218.0h0M166.1 260.5h0M169.5 216.3h0M161.8 231.2h0M166.5 185.9h0M176.2 204.9h0M172.1 221.0h0M162.6 201.7h0M183.8 186.2h0" stroke="#6495ed" stroke-width="2.20" stroke-linecap="round" fill="none"/>
<path d="M211.2 135.9h0M155.6 196.0h0M197.9 146.3h0M164.6 257.1h0M193.8 156.8h0M195.1 176.4h0M205.8 115.8h0M152.3 222.6h0M158.4 235.2h0M179.3 226.3h0M212.0 92.5h0M175.1 196.3h0M149.3 244.4h0M161.7 211.1h0M186.7 157.1h0M214.6 84.3h0M214.0 75.7h0M153.5 229.8h0M184.3 214.2h0M162.1 247.5h0M168.5 238.4h0M190.4 205.5h0M165.6 197.2h0M212.5 129.8h0M178.8 234.7h0M173.3 170.2h0M167.2 230.0h0M159.3 243.3h0M200.4 185.3h0M181.6 227.2h0M173.5 197.0h0M181.4 165.5h0M180.8 197.0h0M196.1 198.3h0M154.8 244.2h0M166.3 251.0h0M182.7 219.9h0M206.7 127.5h0" stroke="#e98572" stroke-width="2.20" stroke-linecap="round" fill="none" stroke-opacity="0.90"/>
<path d="M193.9 151.1h0M204.5 138.4h0M190.9 186.5h0M202.5 176.8h0M202.3 155.8h0M174.9 185.4h0M163.0 235.9h0M199.7 134.0h0M191.9 183.2h0M213.7 87.9h0M162.8 191.6h0M148.8 214.3h0M192.4 165.8h0M209.8 139.9h0M167.5 245.9h0M166.7 221.2h0M202.9 166.3h0M208.6 125.4h0M180.4 217.8h0M153.1 227.9h0M167.3 207.6h0M207.8 143.4h0M155.1 198.3h0M206.3 163.6h0M158.2 252.1h0M156.3 233.1h0M146.9 223.9h0M190.2 200.0h0M172.9 170.8h0M209.9 118.2h0M165.6 236.2h0M177.2 206.1h0M206.0 115.8h0M162.2 215.3h0M183.6 214.4h0M199.2 186.7h0M193.0 198.0h0M207.7 137.2h0M178.1 192.9h0M180.2 218.6h0M206.8 143.4h0M177.8 191.8h0M174.6 191.9h0M196.3 189.6h0M187.3 208.6h0M170.1 212.6h0M202.3 168.2h0M169.4 233.0h0M200.0 194.9h0M155.1 220.3h0M197.4 142.3h0M202.6 126.9h0M163.7 235.2h0M198.2 157.1h0M161.7 238.6h0M172.6 228.2h0M165.2 238.1h0M154.8 245.9h0M175.1 166.1h0M152.9 239.7h0M190.6 206.6h0M151.6 206.4h0M150.7 236.7h0M206.9 111.5h0M172.6 174.3h0M210.4 148.9h0M209.6 111.2h0M197.8 139.6h0M147.7 235.3h0M189.3 190.3h0M215.5 90.7h0M173.2 233.2h0M154.0 244.9h0M209.6 157.8h0M195.3 192.6h0M171.5 224.5h0M169.6 185.3h0M181.5 225.7h0M179.6 168.0h0M189.6 196.6h0M155.6 202.9h0M192.7 150.2h0M180.4 210.6h0M187.6 190.4h0M174.4 222.8h0M204.2 135.1h0M146.2 229.8h0M188.0 205.6h0M204.7 153.2h0M152.8 202.8h0M155.1 226.3h0M168.2 226.9h0M170.5 189.1h0M177.5 217.9h0M155.5 246.2h0M210.4 152.8h0M209.7 111.7h0M207.1 112.3h0M208.8 111.0h0M181.7 157.0h0M160.5 202.7h0M165.1 239.1h0M161.0 217.3h0M206.4 143.6h0M182.2 211.6h0M148.7 221.8h0M207.5 109.7h0M190.9 146.3h0M174.2 203.3h0M212.8 84.5h0M176.4 236.9h0M208.3 127.8h0M162.8 189.0h0M192.7 187.6h0M202.0 178.3h0M163.2 240.7h0M163.5 186.5h0M181.3 158.5h0M179.5 167.6h0M213.3 108.2h0M183.0 194.9h0M174.4 229.5h0M154.5 215.8h0M174.5 232.4h0M204.6 154.1h0M153.5 208.5h0M214.0 121.2h0M171.6 239.5h0M165.0 259.7h0M190.5 156.7h0M189.4 175.0h0M213.1 83.8h0M200.5 161.2h0M170.0 200.6h0M185.7 222.9h0M201.6 156.9h0M205.4 150.4h0M178.2 174.6h0M162.1 190.5h0M187.3 191.6h0M166.8 224.6h0M161.6 217.0h0M161.5 249.2h0M187.7 185.7h0M178.7 166.9h0M204.7 163.0h0M193.6 162.9h0M147.5 212.4h0M167.3 242.6h0M184.8 163.9h0M154.7 229.5h0M147.0 221.6h0M189.9 202.9h0M189.8 217.3h0M206.2 150.8h0M161.7 244.6h0M157.7 222.2h0M153.0 223.1h0M167.1 208.7h0M205.9 132.3h0M164.0 241.0h0M163.0 187.1h0M209.6 121.4h0M156.6 238.8h0M155.6 229.4h0M178.4 200.3h0M212.0 105.5h0M191.4 161.4h0M215.7 118.7h0M188.0 169.6h0M153.9 236.6h0M179.4 197.9h0M154.8 248.6h0M209.6 142.0h0M186.2 186.0h0M180.4 203.0h0M198.5 144.4h0M199.5 186.7h0M166.3 215.6h0M175.3 187.0h0M165.0 224.9h0M169.4 239.0h0M207.1 135.1h0M161.4 233.6h0M159.1 231.7h0M158.5 206.3h0M180.6 222.2h0M194.7 179.3h0M198.4 198.4h0M157.9 220.5h0M169.5 198.1h0M191.8 201.9h0M177.9 207.4h0M209.8 137.0h0M202.1 182.0h0M189.8 170.0h0M189.1 184.9h0M176.6 184.6h0M194.0 170.7h0M204.9 153.8h0M170.8 206.5h0M191.6 182.7h0M166.1 176.7h0M195.4 175.3h0M188.0 216.5h0M180.7 196.7h0M166.7 257.9h0M193.3 212.8h0M167.0 238.3h0M150.7 218.0h0M205.9 157.9h0M195.5 141.6h0M189.3 195.8h0M204.4 169.8h0M157.9 197.3h0M191.4 210.2h0M205.1 173.5h0M158.3 259.2h0M170.4 218.4h0M146.4 235.3h0M152.0 248.1h0M156.3 225.7h0M192.8 202.3h0M157.5 205.2h0M177.8 187.3h0M215.8 88.9h0M151.2 218.5h0M212.0 140.8h0M159.8 190.8h0M212.3 125.7h0M191.4 160.4h0M191.1 159.5h0M208.9 96.3h0M208.4 129.3h0M166.9 258.8h0M162.0 253.2h0M193.2 145.9h0M173.5 192.4h0M178.1 192.4h0M182.0 181.6h0M162.6 198.8h0M214.8 107.3h0M211.9 75.6h0M176.2 201.8h0M182.6 230.8h0M155.1 255.8h0M181.7 173.2h0M184.5 163.0h0M174.6 233.6h0M193.7 165.0h0M166.1 263.6h0M163.8 210.6h0M214.1 127.4h0M177.4 182.9h0M153.7 238.1h0M206.1 163.6h0M168.6 219.1h0M170.2 248.6h0M183.8 158.9h0M165.1 207.5h0M195.5 166.2h0M193.4 193.9h0M187.2 213.4h0M171.3 194.5h0M176.7 234.5h0M164.3 224.6h0M179.6 178.3h0M173.6 243.5h0M214.8 78.8h0M158.7 252.1h0M210.2 149.2h0M211.2 89.8h0M167.8 197.6h0M188.1 209.8h0M151.7 236.1h0M207.6 150.1h0M185.2 154.3h0M163.1 241.5h0M159.8 206.2h0M195.1 187.0h0M169.2 260.9h0M163.6 183.7h0M186.4 181.3h0M215.5 112.8h0M184.5 154.1h0M161.7 199.2h0M176.0 244.3h0M168.4 218.2h0M175.0 200.8h0M159.5 214.4h0M206.3 117.0h0M199.3 145.5h0M178.5 197.2h0M161.7 210.9h0M212.6 84.8h0M215.2 123.4h0M171.0 236.2h0M207.3 151.3h0M195.0 194.4h0M199.6 168.3h0" stroke="#c4c4c4" stroke-width="1.20" stroke-linecap="round" fill="none"/>
<path d="M218.2 116.4h0M217.8 97.6h0M217.7 114.2h0M217.5 99.6h0M215.4 145.8h0M216.5 93.9h0M218.7 108.7h0M215.4 156.8h0M217.8 123.2h0M215.5 154.0h0M218.8 87.8h0M218.3 114.3h0M216.9 156.9h0M219.6 91.1h0M217.2 133.6h0M218.3 147.7h0M218.4 160.3h0M215.3 137.4h0M218.2 139.7h0M217.8 114.4h0M218.6 101.5h0M215.5 129.2h0M216.2 143.3h0M215.8 144.0h0M218.5 138.0h0M217.8 147.5h0M217.8 116.7h0M217.4 121.9h0M217.2 142.9h0M215.9 151.8h0M218.8 144.3h0M217.6 102.4h0M216.8 86.8h0M219.3 108.3h0M219.3 91.4h0M217.9 94.0h0M217.5 159.2h0M217.2 130.5h0" stroke="#417f0e" stroke-width="3.10" stroke-linecap="round" fill="none"/>
<path d="M218.2 116.4h0M217.8 97.6h0M217.7 114.2h0M217.5 99.6h0M215.4 145.8h0M216.5 93.9h0M218.7 108.7h0M215.4 156.8h0M217.8 123.2h0M215.5 154.0h0M218.8 87.8h0M218.3 114.3h0M216.9 156.9h0M219.6 91.1h0M217.2 133.6h0M218.3 147.7h0M218.4 160.3h0M215.3 137.4h0M218.2 139.7h0M217.8 114.4h0M218.6 101.5h0M215.5 129.2h0M216.2 143.3h0M215.8 144.0h0M218.5 138.0h0M217.8 147.5h0M217.8 116.7h0M217.4 121.9h0M217.2 142.9h0M215.9 151.8h0M218.8 144.3h0M217.6 102.4h0M216.8 86.8h0M219.3 108.3h0M219.3 91.4h0M217.9 94.0h0M217.5 159.2h0M217.2 130.5h0" stroke="#53a018" stroke-width="2.30" stroke-linecap="round" fill="none"/>
<path d="M215.4 166.2h0M207.3 174.7h0M215.0 184.9h0M208.5 204.9h0M214.6 186.4h0M208.4 195.1h0M213.8 168.5h0M202.5 190.4h0M207.5 186.7h0M216.4 201.6h0M206.5 209.2h0M209.9 177.0h0M204.9 216.3h0M211.7 204.0h0M212.0 181.4h0M216.9 175.7h0M201.0 204.6h0M205.4 188.2h0M215.6 200.8h0M209.8 174.8h0M207.2 197.0h0M205.9 206.6h0M214.2 195.3h0M216.5 178.6h0M207.5 194.8h0M209.4 188.5h0M210.3 189.9h0M211.7 196.1h0M204.7 186.4h0M214.3 171.3h0M202.2 180.7h0M208.3 198.9h0M208.8 196.4h0M213.0 166.0h0M218.0 167.4h0M212.8 169.8h0M215.1 189.9h0M209.4 188.4h0M215.2 196.4h0M211.6 181.7h0M216.6 196.9h0M209.7 182.4h0M205.3 208.0h0M211.5 205.3h0M205.0 170.6h0M215.5 184.9h0M204.9 178.3h0M209.9 215.3h0M209.5 199.6h0M216.5 201.2h0M209.9 191.1h0M211.6 178.8h0M206.0 176.9h0M214.8 203.8h0M213.5 165.8h0M210.4 175.0h0M213.4 181.5h0M213.9 171.2h0M215.0 187.0h0M205.8 191.8h0M201.4 207.8h0M216.6 176.2h0M201.3 182.1h0M206.6 174.1h0M214.0 167.8h0M202.4 214.4h0M215.0 203.5h0M207.7 172.8h0M202.5 208.2h0M214.4 206.4h0M211.9 211.0h0M211.6 180.8h0M210.3 182.0h0M203.2 200.6h0M206.8 185.0h0M199.9 191.6h0M204.5 186.0h0M209.6 213.8h0M202.6 190.8h0M201.8 181.2h0M213.4 177.6h0M215.8 192.2h0M206.6 176.8h0M209.2 183.0h0M209.2 177.2h0M216.9 196.4h0M212.8 210.4h0M208.5 192.2h0M207.6 187.3h0M213.1 176.2h0M201.7 196.6h0M207.9 188.7h0M205.0 207.7h0M206.1 204.4h0M211.7 194.0h0M209.2 186.2h0M216.1 178.4h0M207.5 215.6h0M212.0 165.2h0M207.9 184.4h0M209.1 175.6h0M210.5 188.4h0M213.0 176.7h0M207.9 170.5h0M201.7 193.9h0M217.7 184.6h0M208.4 205.9h0M212.6 172.9h0M207.4 217.1h0M212.4 213.5h0M217.3 189.9h0M208.6 215.2h0M207.2 178.4h0M207.2 196.6h0M213.7 179.5h0M213.9 180.8h0M206.4 170.0h0M207.4 214.8h0M202.9 186.0h0M209.7 186.6h0M208.8 195.2h0M214.3 196.0h0M211.8 173.0h0M217.4 169.1h0M215.7 180.5h0M208.9 182.9h0M207.4 184.6h0M214.6 190.5h0M203.4 191.6h0M215.0 177.3h0M203.4 204.9h0M200.7 199.3h0M203.4 192.5h0M206.0 211.0h0M215.6 174.5h0M216.1 169.1h0M204.3 207.2h0M214.5 183.0h0M212.1 202.2h0M208.7 175.1h0M212.8 200.1h0M206.0 204.1h0M205.6 184.5h0M211.0 209.9h0M209.9 189.1h0M211.4 208.5h0M204.8 215.5h0M207.1 198.3h0M205.5 216.0h0M206.8 191.8h0M217.5 178.8h0M211.0 210.3h0M217.3 191.8h0M215.8 179.1h0M203.5 210.5h0M207.3 196.3h0M212.9 167.4h0M206.3 214.3h0M211.5 178.3h0M209.8 204.9h0M205.4 186.0h0M201.7 206.0h0M217.3 171.5h0M202.9 198.8h0M202.9 194.5h0M200.4 205.3h0M201.9 208.6h0M209.0 210.5h0M216.2 200.1h0M200.4 191.1h0" stroke="#417f0e" stroke-width="3.10" stroke-linecap="round" fill="none"/>
<path d="M215.4 166.2h0M207.3 174.7h0M215.0 184.9h0M208.5 204.9h0M214.6 186.4h0M208.4 195.1h0M213.8 168.5h0M202.5 190.4h0M207.5 186.7h0M216.4 201.6h0M206.5 209.2h0M209.9 177.0h0M204.9 216.3h0M211.7 204.0h0M212.0 181.4h0M216.9 175.7h0M201.0 204.6h0M205.4 188.2h0M215.6 200.8h0M209.8 174.8h0M207.2 197.0h0M205.9 206.6h0M214.2 195.3h0M216.5 178.6h0M207.5 194.8h0M209.4 188.5h0M210.3 189.9h0M211.7 196.1h0M204.7 186.4h0M214.3 171.3h0M202.2 180.7h0M208.3 198.9h0M208.8 196.4h0M213.0 166.0h0M218.0 167.4h0M212.8 169.8h0M215.1 189.9h0M209.4 188.4h0M215.2 196.4h0M211.6 181.7h0M216.6 196.9h0M209.7 182.4h0M205.3 208.0h0M211.5 205.3h0M205.0 170.6h0M215.5 184.9h0M204.9 178.3h0M209.9 215.3h0M209.5 199.6h0M216.5 201.2h0M209.9 191.1h0M211.6 178.8h0M206.0 176.9h0M214.8 203.8h0M213.5 165.8h0M210.4 175.0h0M213.4 181.5h0M213.9 171.2h0M215.0 187.0h0M205.8 191.8h0M201.4 207.8h0M216.6 176.2h0M201.3 182.1h0M206.6 174.1h0M214.0 167.8h0M202.4 214.4h0M215.0 203.5h0M207.7 172.8h0M202.5 208.2h0M214.4 206.4h0M211.9 211.0h0M211.6 180.8h0M210.3 182.0h0M203.2 200.6h0M206.8 185.0h0M199.9 191.6h0M204.5 186.0h0M209.6 213.8h0M202.6 190.8h0M201.8 181.2h0M213.4 177.6h0M215.8 192.2h0M206.6 176.8h0M209.2 183.0h0M209.2 177.2h0M216.9 196.4h0M212.8 210.4h0M208.5 192.2h0M207.6 187.3h0M213.1 176.2h0M201.7 196.6h0M207.9 188.7h0M205.0 207.7h0M206.1 204.4h0M211.7 194.0h0M209.2 186.2h0M216.1 178.4h0M207.5 215.6h0M212.0 165.2h0M207.9 184.4h0M209.1 175.6h0M210.5 188.4h0M213.0 176.7h0M207.9 170.5h0M201.7 193.9h0M217.7 184.6h0M208.4 205.9h0M212.6 172.9h0M207.4 217.1h0M212.4 213.5h0M217.3 189.9h0M208.6 215.2h0M207.2 178.4h0M207.2 196.6h0M213.7 179.5h0M213.9 180.8h0M206.4 170.0h0M207.4 214.8h0M202.9 186.0h0M209.7 186.6h0M208.8 195.2h0M214.3 196.0h0M211.8 173.0h0M217.4 169.1h0M215.7 180.5h0M208.9 182.9h0M207.4 184.6h0M214.6 190.5h0M203.4 191.6h0M215.0 177.3h0M203.4 204.9h0M200.7 199.3h0M203.4 192.5h0M206.0 211.0h0M215.6 174.5h0M216.1 169.1h0M204.3 207.2h0M214.5 183.0h0M212.1 202.2h0M208.7 175.1h0M212.8 200.1h0M206.0 204.1h0M205.6 184.5h0M211.0 209.9h0M209.9 189.1h0M211.4 208.5h0M204.8 215.5h0M207.1 198.3h0M205.5 216.0h0M206.8 191.8h0M217.5 178.8h0M211.0 210.3h0M217.3 191.8h0M215.8 179.1h0M203.5 210.5h0M207.3 196.3h0M212.9 167.4h0M206.3 214.3h0M211.5 178.3h0M209.8 204.9h0M205.4 186.0h0M201.7 206.0h0M217.3 171.5h0M202.9 198.8h0M202.9 194.5h0M200.4 205.3h0M201.9 208.6h0M209.0 210.5h0M216.2 200.1h0M200.4 191.1h0" stroke="#53a018" stroke-width="2.30" stroke-linecap="round" fill="none"/>
<path d="M199.3 217.3h0M204.3 229.9h0M206.0 213.1h0M205.5 215.4h0M201.4 211.7h0M199.8 219.7h0M199.3 240.0h0M204.5 211.1h0M197.1 234.9h0M207.0 218.7h0M204.4 236.7h0M196.5 231.4h0M205.0 218.9h0M199.0 234.3h0M206.5 213.4h0M204.7 212.6h0M208.4 210.2h0M205.4 218.5h0M200.1 239.2h0M205.2 237.7h0M204.6 222.5h0M199.7 233.8h0M197.3 236.9h0M205.8 236.1h0M200.6 227.3h0M200.1 224.5h0M205.6 228.9h0M200.8 229.3h0M203.5 221.4h0M198.5 226.2h0M200.2 211.0h0M203.0 235.1h0M210.8 213.0h0M205.4 216.8h0M205.4 217.0h0M203.5 216.7h0M209.8 212.3h0M198.6 215.4h0M207.8 218.6h0M209.2 226.3h0M200.8 237.8h0M199.9 216.2h0M197.3 236.1h0M203.9 219.3h0M197.8 241.8h0" stroke="#417f0e" stroke-width="3.10" stroke-linecap="round" fill="none"/>
<path d="M199.3 217.3h0M204.3 229.9h0M206.0 213.1h0M205.5 215.4h0M201.4 211.7h0M199.8 219.7h0M199.3 240.0h0M204.5 211.1h0M197.1 234.9h0M207.0 218.7h0M204.4 236.7h0M196.5 231.4h0M205.0 218.9h0M199.0 234.3h0M206.5 213.4h0M204.7 212.6h0M208.4 210.2h0M205.4 218.5h0M200.1 239.2h0M205.2 237.7h0M204.6 222.5h0M199.7 233.8h0M197.3 236.9h0M205.8 236.1h0M200.6 227.3h0M200.1 224.5h0M205.6 228.9h0M200.8 229.3h0M203.5 221.4h0M198.5 226.2h0M200.2 211.0h0M203.0 235.1h0M210.8 213.0h0M205.4 216.8h0M205.4 217.0h0M203.5 216.7h0M209.8 212.3h0M198.6 215.4h0M207.8 218.6h0M209.2 226.3h0M200.8 237.8h0M199.9 216.2h0M197.3 236.1h0M203.9 219.3h0M197.8 241.8h0" stroke="#53a018" stroke-width="2.30" stroke-linecap="round" fill="none"/>
<path d="M79.0 189.5h0M209.0 128.0h0M211.0 138.0h0M207.0 155.0h0M195.0 190.0h0M193.0 204.0h0M203.0 240.0h0M190.0 236.0h0" stroke="#417f0e" stroke-width="3.00" stroke-linecap="round" fill="none"/>
<path d="M79.0 189.5h0M209.0 128.0h0M211.0 138.0h0M207.0 155.0h0M195.0 190.0h0M193.0 204.0h0M203.0 240.0h0M190.0 236.0h0" stroke="#53a018" stroke-width="2.30" stroke-linecap="round" fill="none"/>
<path d="M198.6 209.5h0M195.6 226.5h0M187.1 213.4h0M197.0 221.7h0M192.4 224.9h0M192.1 227.0h0M183.0 233.1h0M182.0 239.1h0M190.9 208.9h0M189.6 222.2h0M197.5 215.5h0M198.2 223.7h0M192.5 228.8h0M185.9 246.9h0M198.2 202.7h0M181.1 245.7h0M190.4 221.8h0M190.2 201.8h0M184.4 250.2h0M192.2 226.5h0M193.6 227.9h0M198.6 227.7h0M189.2 217.3h0M197.3 220.5h0M199.2 208.2h0M183.9 246.7h0M179.8 253.2h0M201.0 198.7h0M188.3 222.3h0M190.5 212.1h0M192.4 222.3h0M187.0 246.7h0M200.2 226.5h0M195.0 201.9h0M190.4 215.3h0M199.9 207.0h0M199.3 205.2h0M195.4 233.4h0M201.5 196.0h0M182.0 237.1h0M189.4 208.7h0M190.2 234.0h0M188.4 235.4h0M198.8 201.2h0M188.9 227.0h0M190.4 232.3h0M197.4 199.9h0M192.8 240.4h0M195.5 210.6h0M190.7 202.9h0M190.3 231.2h0M190.0 206.7h0M193.8 240.0h0M197.7 228.0h0M196.3 212.1h0M188.2 236.7h0M199.7 205.5h0M185.5 239.5h0M194.1 213.7h0M185.3 225.4h0M194.6 206.0h0M192.8 215.5h0M187.2 225.3h0M180.5 242.5h0M192.7 204.2h0M188.2 249.4h0M188.0 248.7h0M195.4 219.8h0M193.7 200.9h0M191.4 232.9h0M193.6 206.2h0M197.4 220.0h0M191.1 219.8h0M187.8 212.6h0M188.3 248.5h0M192.6 237.0h0M184.9 250.5h0M197.4 208.1h0M184.5 241.0h0M187.2 219.1h0M194.4 209.0h0M194.9 205.9h0M197.6 199.8h0M198.2 226.1h0M198.9 210.7h0M198.3 229.9h0M188.0 224.8h0M196.2 223.9h0M195.4 208.5h0M200.2 215.3h0M184.7 246.0h0M184.6 234.5h0M193.0 224.7h0M197.5 197.0h0M186.4 219.0h0M187.2 240.9h0M185.3 231.2h0M186.7 216.5h0M178.7 253.0h0M183.3 247.7h0M197.1 210.2h0M196.8 207.7h0M198.6 218.7h0M193.9 202.6h0M191.1 214.8h0M190.3 232.2h0M189.2 237.8h0M198.7 211.9h0M197.0 210.2h0M196.8 198.6h0M181.6 242.8h0M193.3 212.1h0M187.3 228.4h0M186.9 240.0h0M196.9 224.3h0M190.4 217.1h0M180.6 244.5h0M180.3 247.2h0M191.9 242.4h0M194.7 214.2h0" stroke="#bdbdbd" stroke-width="1.20" stroke-linecap="round" fill="none"/>
<path d="M180.0 250.5h0M200.3 196.8h0M190.5 225.8h0M193.7 223.4h0M186.7 237.5h0M199.9 224.1h0M197.3 197.8h0M199.5 225.5h0M191.8 218.2h0M186.3 218.4h0M198.9 211.9h0M198.4 209.9h0M189.7 223.7h0M193.8 224.8h0M190.1 232.5h0M183.0 231.8h0M188.9 235.7h0M183.7 239.6h0M197.8 198.4h0M186.6 244.1h0M189.5 223.9h0M182.8 240.1h0M189.0 241.0h0M198.7 217.0h0M195.6 198.7h0M193.7 209.5h0M185.9 247.3h0M196.2 233.2h0M192.7 229.2h0M196.6 199.7h0M188.7 242.6h0M196.7 222.2h0M189.2 216.1h0M200.1 210.9h0M193.5 216.5h0M187.1 249.2h0M179.8 248.1h0M189.2 237.1h0M193.6 222.0h0M188.4 244.8h0M188.8 248.1h0M181.9 235.9h0M182.3 245.2h0M199.1 221.3h0M193.9 224.3h0M189.0 225.6h0M192.9 240.0h0M188.5 232.5h0M191.0 244.7h0M200.4 215.1h0M189.4 209.4h0M198.1 232.4h0M191.9 220.4h0M196.7 228.4h0M185.1 247.6h0M192.0 230.1h0M198.2 198.2h0M190.9 225.1h0M192.0 208.3h0M190.1 203.3h0" stroke="#6495ed" stroke-width="2.00" stroke-linecap="round" fill="none" stroke-opacity="0.80"/>
<ellipse cx="158.3" cy="126.9" rx="19" ry="17.3" fill="none" stroke="#7f3fae" stroke-width="1.2"/>
<path d="M293.6 81.1h0M389.8 90.1h0M288.9 111.7h0M376.7 111.5h0M400.4 239.1h0M375.4 225.8h0M329.8 87.0h0M310.9 111.2h0M396.8 160.6h0M409.2 165.4h0M290.5 50.1h0M337.8 46.4h0M396.4 66.9h0M330.2 226.2h0M302.0 135.5h0M378.4 75.5h0M397.9 174.2h0M336.8 197.5h0M356.0 54.4h0M339.7 74.7h0M333.9 245.4h0M288.1 146.7h0M365.9 149.9h0M324.5 77.6h0M259.9 66.0h0M305.6 167.6h0M344.0 96.3h0M348.2 124.1h0M398.8 104.1h0M272.1 180.5h0M297.8 90.0h0M299.0 96.2h0M406.4 234.9h0M368.6 92.6h0M297.7 182.7h0M382.4 120.1h0M366.6 60.5h0M313.8 106.6h0M345.2 85.5h0M307.4 162.6h0M390.5 83.4h0M344.0 139.8h0M358.5 52.2h0M306.7 140.6h0M274.2 132.3h0M286.8 92.5h0M408.2 151.3h0M385.8 182.3h0M252.4 134.7h0M339.8 154.1h0M367.8 149.9h0M310.4 160.2h0M315.7 91.6h0M386.1 142.5h0M326.2 116.8h0M354.7 173.7h0M286.0 116.7h0M381.9 164.1h0M395.3 75.9h0M259.0 85.6h0M274.8 118.8h0M281.6 118.1h0M287.3 106.7h0M385.0 107.5h0M343.7 194.3h0M374.4 123.9h0M304.7 99.2h0M371.5 248.9h0M322.2 196.4h0M292.7 83.2h0M367.1 91.4h0M361.8 104.9h0M349.6 242.9h0M344.7 245.7h0M339.0 224.7h0M247.0 137.0h0M312.3 109.3h0M307.0 154.3h0M377.5 163.3h0M301.1 197.1h0M369.4 190.3h0M307.7 179.5h0M279.3 126.9h0M321.8 43.2h0M360.9 162.0h0M394.0 141.5h0M367.1 74.2h0M334.6 45.1h0M392.9 137.3h0M401.0 96.9h0M290.3 38.9h0M338.1 189.0h0M273.8 94.9h0M281.9 121.9h0M395.8 71.7h0M358.1 238.6h0M366.0 125.9h0M309.7 231.9h0M311.8 122.3h0M317.6 64.7h0M376.1 67.7h0M336.4 191.0h0M272.6 131.2h0M263.2 81.8h0M364.7 175.2h0M404.0 142.3h0M337.1 178.5h0M301.8 92.0h0M370.6 152.2h0M375.3 60.7h0M315.7 186.5h0M372.4 77.8h0M341.4 85.7h0M256.8 110.4h0M308.4 204.4h0M295.2 56.6h0M300.3 73.3h0M374.9 159.2h0M351.4 191.2h0M319.9 62.0h0M325.1 105.2h0M326.8 71.3h0M339.9 164.1h0M293.0 75.4h0M358.8 107.4h0M395.0 189.3h0M371.6 55.7h0M265.0 65.2h0M328.1 159.9h0M379.0 67.2h0M353.7 93.5h0M384.6 232.5h0M304.2 95.2h0M275.1 66.8h0M258.2 122.6h0M358.7 102.2h0M389.4 242.0h0M341.4 179.0h0M344.6 195.9h0M332.8 96.0h0M342.9 54.4h0M322.0 102.5h0M300.5 63.1h0M257.1 146.9h0M402.5 93.5h0M353.9 242.5h0M387.6 75.9h0M280.1 170.4h0M370.1 102.2h0M336.0 76.1h0M358.1 237.3h0M289.9 183.0h0M349.4 92.1h0M332.0 238.8h0M273.1 98.4h0M316.8 140.8h0M338.5 111.7h0M322.9 227.5h0M277.1 87.3h0M373.6 73.9h0M403.1 186.3h0M289.6 137.7h0M298.6 84.7h0M336.1 204.3h0M293.5 124.9h0M295.9 114.2h0M257.4 90.6h0M316.2 112.0h0M301.3 96.4h0M272.9 91.6h0M381.2 173.0h0M262.8 90.9h0M276.0 57.2h0M338.7 203.3h0M250.1 126.5h0M345.1 63.0h0M310.3 175.6h0M315.4 186.8h0M321.2 169.2h0M335.0 117.4h0M279.4 36.3h0M333.7 130.2h0M337.1 114.3h0M378.9 154.5h0M293.8 123.9h0M285.2 73.6h0M323.1 124.6h0M321.8 109.6h0M376.5 114.0h0M294.6 166.1h0M396.5 175.6h0M328.8 49.4h0M283.7 131.2h0M392.6 71.4h0M404.8 147.8h0M266.3 48.2h0M275.6 102.2h0M340.3 128.8h0M299.5 73.9h0M370.7 146.6h0M272.3 184.2h0M384.4 166.2h0M389.5 99.8h0M351.5 193.6h0M297.0 100.5h0M383.1 96.5h0M394.8 66.3h0M323.9 171.9h0M295.2 131.2h0M303.3 40.5h0M393.6 179.1h0M304.6 152.7h0M365.0 108.7h0M265.0 125.7h0M299.8 45.9h0M399.7 196.7h0M331.2 91.8h0M320.0 74.3h0M315.7 89.4h0M341.4 169.9h0M273.3 106.5h0M306.7 123.5h0M334.6 149.6h0M388.8 113.4h0M265.3 119.6h0M371.7 119.5h0M329.5 181.8h0M361.2 232.8h0M297.3 161.3h0M254.7 114.6h0M284.5 35.1h0M405.4 181.6h0M365.6 201.0h0M394.2 112.2h0M298.3 39.2h0M275.8 182.3h0M340.0 160.7h0M338.8 223.6h0M357.2 138.6h0M399.7 116.2h0M321.0 170.3h0M360.9 172.5h0M407.1 192.1h0M306.2 58.8h0M327.7 157.0h0M322.3 151.6h0M354.4 104.7h0M296.3 178.6h0M312.0 190.2h0M336.7 189.1h0M320.1 233.2h0M379.9 149.2h0M333.7 153.4h0M274.4 87.6h0M258.2 164.6h0M353.3 232.5h0M356.5 176.2h0M334.6 121.8h0M272.9 43.7h0M376.3 125.7h0M393.9 60.4h0M355.2 74.2h0M387.3 175.4h0M372.3 107.7h0M375.4 115.0h0M373.3 62.5h0M341.8 157.0h0M284.2 170.1h0M367.2 125.6h0M273.6 128.8h0M269.7 43.7h0M382.9 166.6h0M341.1 54.6h0M319.9 209.4h0M319.3 44.1h0M368.0 148.7h0M272.9 163.6h0M317.2 254.2h0M317.6 180.9h0M371.1 251.6h0M278.2 87.7h0M283.0 171.6h0M320.5 158.2h0M308.1 193.5h0M329.7 235.6h0M409.0 162.2h0M385.3 59.6h0M282.5 148.8h0M266.1 106.5h0M288.4 118.3h0M383.0 119.1h0M367.0 134.5h0M401.2 98.3h0M307.3 43.3h0M346.2 169.2h0M364.2 59.6h0M355.3 238.1h0M319.6 86.1h0M346.2 120.0h0M252.7 125.6h0M349.9 233.1h0M274.2 84.4h0M323.6 90.2h0M341.8 137.1h0M329.9 73.0h0M299.6 196.7h0M263.7 70.9h0M310.1 144.8h0M406.4 96.8h0M379.8 242.4h0M372.9 122.0h0M338.5 44.4h0M408.0 207.4h0M395.8 116.9h0M318.5 65.1h0M396.4 153.8h0M391.9 68.4h0M291.4 178.9h0M397.0 227.7h0M369.5 214.7h0M312.4 143.7h0M382.1 242.4h0M260.4 123.4h0M280.3 49.2h0M323.4 178.4h0M375.5 248.9h0M255.3 90.1h0M368.2 245.8h0M372.2 222.0h0M265.3 172.1h0M298.1 44.9h0M315.4 228.6h0M332.4 107.3h0M368.7 75.7h0M393.3 216.8h0M365.0 143.1h0M397.4 150.7h0M320.9 135.7h0M367.0 60.2h0M302.2 154.5h0M263.2 67.1h0M344.2 253.5h0M324.4 198.7h0M304.7 207.1h0M265.3 92.0h0M361.2 113.5h0M363.5 138.2h0M332.1 76.1h0M323.5 119.0h0M311.4 219.1h0M347.4 107.1h0M394.1 160.3h0M260.9 58.9h0M263.4 158.4h0M250.5 107.5h0M354.9 54.9h0M357.6 88.7h0M314.5 113.1h0M298.1 62.4h0M282.7 118.1h0M269.5 134.3h0M344.4 231.3h0M330.1 175.6h0M342.0 199.7h0M394.1 104.0h0M315.0 172.0h0M256.8 142.4h0M267.7 57.9h0M389.8 120.8h0M385.6 127.2h0M278.4 152.6h0M330.3 220.0h0M396.7 180.3h0M349.0 153.6h0M289.8 122.9h0M258.7 137.7h0M386.6 84.1h0M264.6 63.7h0M295.0 137.8h0M384.0 57.2h0M258.7 97.5h0M316.6 87.6h0M266.6 129.4h0M325.4 182.8h0M365.0 256.7h0M275.7 178.2h0M321.0 55.8h0M378.3 96.8h0M405.5 127.3h0M280.2 121.5h0M344.8 187.0h0M312.6 200.0h0M271.1 35.7h0M388.5 147.8h0M284.4 66.3h0M331.0 52.2h0M268.9 123.3h0M367.1 234.9h0M337.6 77.5h0M364.3 101.4h0M277.7 122.5h0M346.9 113.5h0M290.0 77.4h0M289.1 84.6h0M343.9 49.1h0M383.0 95.7h0M380.6 79.7h0M294.2 43.9h0M318.3 131.6h0M375.5 134.8h0M289.3 49.9h0M388.9 166.3h0M284.7 187.6h0M332.5 206.4h0M402.8 81.3h0M266.2 67.5h0M273.8 117.4h0M263.1 95.2h0M351.8 121.8h0M343.0 143.9h0M321.8 177.2h0M377.7 208.0h0M378.5 183.4h0M321.9 66.6h0M287.2 42.7h0M278.2 143.7h0M311.8 53.5h0M351.2 168.9h0M276.5 72.3h0M321.8 51.3h0M268.8 167.2h0M301.4 177.4h0M275.5 73.9h0M251.1 158.5h0M285.1 54.5h0M261.1 76.2h0M379.3 71.1h0M353.2 246.9h0M336.0 133.6h0M401.0 207.7h0M324.3 220.5h0M317.3 157.2h0M383.3 166.0h0M313.1 191.3h0M262.4 114.3h0M348.0 64.1h0M316.6 253.4h0M313.0 86.4h0M336.8 161.9h0M304.9 125.6h0M363.2 216.6h0M344.5 153.3h0M322.4 215.3h0M253.2 145.8h0M320.6 58.2h0M251.5 101.1h0M333.3 217.7h0M283.7 102.9h0M324.3 165.4h0M303.9 138.5h0M300.8 145.9h0M374.0 80.4h0M317.8 102.1h0M345.5 96.6h0M349.3 113.3h0M307.8 224.2h0M302.3 144.5h0M379.9 250.5h0M393.8 197.7h0M331.6 137.7h0M330.7 204.8h0M294.6 144.5h0M406.9 143.0h0M369.3 217.2h0M307.4 232.2h0M330.5 89.8h0M333.3 185.4h0M399.8 161.1h0M308.9 196.4h0M330.3 191.2h0M371.0 164.7h0M314.6 207.5h0M260.1 114.6h0M305.0 171.1h0M376.3 94.6h0M330.6 252.8h0M358.6 190.2h0M298.4 107.0h0M371.8 130.4h0M298.4 182.6h0M275.0 144.5h0M312.8 181.0h0M332.0 73.4h0M271.2 55.2h0M284.7 50.8h0M405.5 116.8h0M346.5 58.9h0M327.5 204.0h0M378.5 226.3h0M361.4 114.6h0M385.7 112.5h0M266.4 133.8h0M403.0 238.7h0M409.0 128.6h0M270.7 128.9h0M376.5 144.0h0M366.7 135.5h0M338.3 87.1h0M391.9 209.5h0M297.7 138.4h0M311.4 41.8h0M399.1 145.0h0M371.8 143.9h0M383.4 162.3h0M342.6 210.2h0M308.9 123.3h0M340.3 88.9h0M310.3 211.8h0M386.4 135.7h0M276.0 151.8h0M355.9 248.5h0M325.3 51.6h0M380.1 211.1h0M406.9 177.8h0M303.3 175.4h0M380.9 190.1h0M305.3 56.7h0M389.4 63.8h0M324.3 149.3h0M346.0 225.0h0M266.2 177.2h0M400.6 157.9h0M367.5 240.3h0M407.7 110.5h0M314.5 155.6h0M345.0 78.1h0M331.3 155.3h0M407.9 210.9h0M334.2 190.1h0M319.7 208.2h0M390.2 76.8h0M345.1 171.8h0M282.4 81.2h0M292.1 125.3h0M377.7 196.8h0M279.4 187.9h0M305.1 148.4h0M293.8 58.6h0M348.2 89.9h0M331.1 245.0h0M406.6 200.6h0M383.8 93.3h0M288.4 95.6h0M251.5 145.1h0M346.0 190.9h0M333.9 52.5h0M367.1 150.2h0M319.4 179.4h0M336.6 108.7h0M405.2 187.2h0M268.6 133.4h0M260.5 99.7h0M364.5 68.8h0M350.5 160.0h0M358.9 179.8h0M318.2 223.3h0M304.1 86.4h0M281.0 33.5h0M380.5 71.0h0M345.9 76.6h0M292.1 60.4h0M368.3 223.9h0M348.7 199.8h0M390.8 137.2h0M288.4 139.9h0M390.6 114.0h0M301.1 54.5h0M347.8 222.2h0M383.2 136.6h0M256.2 175.5h0M352.9 165.1h0M368.7 152.4h0M330.9 75.5h0M318.1 120.7h0M378.9 206.7h0M327.3 74.6h0M301.8 132.3h0M396.9 220.5h0M320.1 251.7h0M277.8 149.6h0M318.9 90.2h0M318.7 116.6h0M328.8 57.0h0M345.9 159.7h0M395.4 135.0h0M330.4 138.6h0M327.6 220.1h0M338.3 43.7h0M405.6 238.0h0M381.0 244.6h0M279.8 42.5h0M358.9 90.2h0M402.2 247.8h0M375.6 209.3h0M314.8 176.2h0M371.4 80.5h0M338.5 188.3h0M349.0 222.7h0M328.7 136.8h0M350.5 69.2h0M274.5 71.3h0M307.4 130.7h0M367.9 135.5h0M298.5 117.5h0M389.7 153.8h0M395.9 77.0h0M264.5 163.4h0M285.5 43.4h0M284.7 61.9h0M390.0 96.0h0M276.9 128.0h0M277.7 117.4h0M298.2 174.5h0M336.7 215.5h0M338.3 148.3h0M308.7 182.4h0M362.0 222.0h0M397.5 113.3h0M344.7 168.9h0M384.1 106.8h0M299.0 175.2h0M323.8 164.2h0M381.5 154.8h0M359.5 57.8h0M258.4 154.3h0M374.7 193.7h0M294.1 121.2h0M395.1 63.5h0M336.6 127.5h0M365.2 250.0h0M332.9 236.4h0M267.3 160.2h0M334.0 194.7h0M365.7 211.8h0M344.2 112.4h0M362.3 138.0h0M351.4 239.6h0M389.2 160.9h0M364.9 215.4h0M383.1 249.3h0M273.0 63.3h0M359.3 165.3h0M375.7 213.0h0M384.8 174.3h0M278.4 142.0h0M385.2 189.3h0M260.7 84.3h0M329.8 226.5h0M386.5 93.7h0M282.5 132.1h0M373.8 146.3h0M405.2 70.1h0M304.5 131.7h0M294.3 152.9h0M340.7 252.2h0M387.0 152.0h0M400.8 174.7h0M388.7 202.9h0M323.2 131.6h0M350.8 126.6h0M316.9 112.1h0M340.7 255.9h0M336.3 237.4h0M338.5 83.0h0M326.7 107.7h0M348.2 176.7h0M283.2 55.7h0M343.3 107.9h0M366.2 243.7h0M404.5 181.5h0M360.3 166.0h0M276.7 67.9h0M265.0 175.5h0M262.2 85.6h0M358.9 83.3h0M269.6 160.9h0M405.3 171.2h0M299.4 36.9h0M343.8 199.2h0M391.0 175.6h0M363.5 225.8h0M320.5 147.3h0M281.0 181.6h0M361.4 63.6h0M330.9 256.3h0M317.1 121.6h0M318.5 175.4h0M393.7 204.0h0M370.5 131.1h0M375.1 169.8h0M344.8 238.8h0M321.7 190.6h0M322.4 66.5h0M351.8 200.5h0M259.4 84.4h0M376.4 245.9h0M313.4 240.4h0M281.1 101.2h0M393.5 220.1h0M286.0 67.0h0M276.0 150.5h0M330.2 197.2h0M319.8 223.7h0M336.8 166.1h0M385.6 153.6h0M312.6 199.1h0M330.1 62.1h0M305.8 112.4h0M327.1 167.6h0M276.1 137.0h0M397.1 201.7h0M336.9 126.7h0M386.0 228.3h0M332.8 255.4h0M319.7 73.4h0M359.6 215.8h0M356.4 134.0h0M349.7 135.3h0M327.5 249.9h0M253.5 87.2h0M250.6 128.4h0M365.4 243.2h0M278.4 141.2h0M394.3 244.5h0M310.8 157.9h0M403.4 214.0h0M378.7 247.2h0M256.0 127.7h0M254.1 95.7h0M253.4 149.9h0M381.7 97.6h0M340.3 204.5h0M354.5 111.8h0M355.9 111.1h0M283.4 40.0h0M336.0 149.4h0M266.9 143.6h0M295.7 91.7h0M272.5 169.8h0M259.4 110.8h0M289.0 187.4h0M311.6 198.0h0M370.8 143.0h0M333.0 202.1h0M348.9 111.7h0M285.5 166.9h0M310.8 152.5h0M271.4 126.6h0M366.5 177.7h0M392.4 79.3h0M388.9 167.7h0M404.6 173.1h0M295.3 176.2h0M400.9 179.6h0M387.9 218.4h0M270.0 56.8h0M366.7 177.3h0M382.6 197.1h0M306.2 108.0h0M371.6 139.3h0M283.2 90.4h0M362.6 134.8h0M351.9 183.0h0M319.5 140.9h0M403.9 74.8h0M326.3 176.8h0M274.3 57.7h0M256.7 106.3h0M354.3 64.9h0M272.3 45.3h0M394.1 116.9h0M348.1 207.1h0M406.3 88.7h0M398.4 64.8h0M303.3 55.5h0M340.8 259.0h0M388.7 129.2h0M295.8 85.3h0M272.0 105.0h0M337.3 217.9h0M298.7 141.9h0M271.7 65.6h0M314.1 250.0h0M327.1 112.6h0M267.2 113.4h0M342.9 50.8h0M355.2 173.0h0M392.7 145.1h0M302.0 178.1h0M397.5 149.9h0M282.0 143.7h0M352.6 136.9h0M406.3 177.2h0M382.2 64.7h0M355.1 218.7h0M367.3 92.5h0M334.5 252.1h0M335.3 68.7h0M329.5 202.5h0M381.1 251.5h0M297.1 61.5h0M274.1 82.5h0M333.6 205.6h0M306.8 143.8h0M302.4 73.3h0M349.1 202.3h0M350.9 229.6h0M338.7 247.4h0M374.7 178.8h0M395.3 146.7h0M390.7 100.3h0M306.7 162.2h0M323.6 64.6h0M304.8 161.9h0M390.5 100.9h0M392.1 184.5h0M320.9 247.0h0M301.3 59.0h0M324.7 191.1h0M381.0 78.5h0M337.4 106.4h0M375.3 197.6h0M313.9 91.7h0M318.9 65.4h0M299.4 153.8h0M322.5 108.0h0M382.5 57.5h0M406.5 180.0h0M378.4 194.6h0M257.1 88.3h0M383.2 221.2h0M249.6 127.4h0M347.5 204.7h0M382.5 229.1h0M275.7 55.7h0M309.0 237.1h0M402.4 189.4h0M257.6 110.1h0M285.6 51.8h0M342.2 202.3h0M350.5 195.5h0M278.1 74.6h0M358.6 108.0h0M352.8 114.7h0M405.1 165.6h0M380.4 144.2h0M324.2 152.6h0M376.1 204.4h0M360.0 105.3h0M333.9 189.4h0M319.9 94.2h0M366.8 242.2h0M326.7 225.6h0M300.1 142.4h0M302.7 170.8h0M399.1 191.5h0M271.9 145.0h0M337.7 161.0h0M340.2 82.0h0M304.5 75.5h0M352.3 176.5h0M278.9 178.8h0M294.6 40.7h0M397.3 243.3h0M401.9 129.1h0M365.9 74.9h0M285.8 163.2h0M276.4 96.5h0M247.8 140.3h0M303.2 185.8h0M401.5 129.8h0M369.0 146.4h0M350.2 83.3h0M302.1 135.0h0M261.2 79.0h0M294.7 132.3h0M400.6 186.1h0M338.0 126.7h0M289.8 176.5h0M351.8 221.7h0M267.6 57.2h0M357.8 114.7h0M377.4 103.6h0M375.9 215.7h0M341.3 93.2h0M320.2 110.3h0M396.4 120.1h0M316.4 217.5h0M270.5 120.2h0M347.9 247.6h0M379.8 193.0h0M271.5 175.0h0M349.3 65.5h0M295.7 118.2h0M252.6 134.8h0M342.7 49.4h0M344.0 258.0h0M306.7 59.0h0M389.7 170.4h0M379.6 115.8h0M288.7 116.9h0M388.2 111.0h0M306.2 106.7h0M271.4 119.7h0M296.8 171.3h0M397.6 204.5h0M405.5 186.9h0M350.8 49.1h0M365.1 140.1h0M292.2 190.1h0M334.2 121.3h0M340.9 157.3h0M359.4 74.0h0M319.9 94.2h0M325.5 118.3h0M303.7 113.6h0M337.3 61.4h0M257.0 135.3h0M277.1 32.7h0M397.3 190.3h0M353.4 125.0h0M277.6 47.4h0M291.3 129.2h0M356.7 174.8h0M407.4 148.2h0M381.9 139.2h0M368.7 242.6h0M289.6 83.5h0M406.9 152.8h0M377.8 87.2h0M317.3 148.0h0M337.5 246.4h0M314.8 61.1h0M338.8 249.1h0M295.4 43.2h0M340.3 118.2h0M334.7 214.9h0M401.7 208.1h0M278.2 102.6h0M267.5 184.4h0M398.6 161.1h0M394.7 239.0h0M294.9 125.5h0M310.0 85.0h0M340.8 146.6h0M300.7 102.1h0M308.5 119.0h0M406.0 184.7h0M317.7 136.2h0M272.3 57.5h0M373.1 213.3h0M324.8 225.7h0M351.5 215.6h0M368.1 218.6h0M349.8 175.9h0M334.5 226.1h0M309.8 178.3h0M362.0 206.4h0M326.7 144.1h0M382.1 69.4h0M307.1 48.8h0M355.2 163.9h0M274.4 141.9h0M343.2 214.9h0M306.7 215.2h0M356.7 245.8h0M334.3 223.2h0M408.1 106.9h0M322.3 219.4h0M334.4 237.2h0M314.5 208.2h0M317.4 253.4h0M278.3 69.0h0M373.2 184.6h0M384.7 101.1h0M367.5 90.5h0M305.4 59.0h0M377.4 69.3h0M324.3 118.7h0M333.0 184.2h0M293.8 192.1h0M286.7 61.5h0M408.5 117.4h0M317.2 152.4h0M321.3 91.1h0M381.4 143.9h0M335.7 141.0h0M403.7 107.6h0M281.1 170.8h0M351.2 183.8h0M407.3 75.6h0M339.8 215.5h0M395.5 157.2h0M266.8 110.5h0M409.6 97.8h0M313.6 116.4h0M369.2 218.1h0M326.0 105.7h0M361.7 235.4h0M384.6 139.0h0M325.4 207.6h0M309.7 129.3h0M318.2 117.4h0M313.8 69.9h0M313.8 87.3h0M310.6 87.8h0M394.2 105.8h0M280.8 54.5h0M287.4 160.5h0M286.5 186.7h0M259.8 177.1h0M365.3 51.6h0M327.4 49.9h0M360.4 102.7h0M364.1 59.8h0M271.4 110.5h0M376.0 165.7h0M354.8 209.1h0M334.8 250.8h0M300.1 93.5h0M270.0 144.8h0M311.8 131.3h0M394.4 77.5h0M275.5 39.0h0M312.5 193.2h0M297.5 179.4h0M347.0 209.9h0M343.6 59.3h0M384.0 165.5h0M365.4 178.1h0M385.2 90.2h0M286.7 159.3h0M278.2 103.8h0M346.2 85.4h0M317.1 156.2h0M305.0 141.1h0M384.7 98.0h0M396.5 89.2h0M388.8 116.3h0M300.0 61.3h0M371.7 90.9h0M311.0 166.8h0M398.6 148.6h0M364.4 239.2h0M252.4 164.4h0M374.5 224.5h0M283.3 181.7h0M387.7 112.1h0M397.4 233.3h0M357.2 136.5h0M357.5 187.6h0M349.9 52.1h0M354.6 209.0h0M313.1 54.9h0M338.4 150.5h0M326.9 78.3h0M345.5 243.3h0M357.2 213.8h0M291.0 36.7h0M346.3 192.3h0M341.1 71.4h0M274.1 46.0h0M262.8 173.8h0M356.8 73.9h0M263.2 140.3h0M397.4 243.7h0M387.9 187.1h0M332.9 170.8h0M279.2 146.1h0M341.8 246.3h0M304.6 176.1h0M381.1 165.0h0M329.1 224.5h0M282.0 135.2h0M350.6 66.1h0M295.5 151.4h0M323.7 259.4h0M292.9 58.5h0M324.5 51.9h0M292.3 82.0h0M326.1 180.9h0M340.9 125.3h0M312.8 193.3h0M310.2 194.0h0M256.8 144.7h0M298.8 86.0h0M301.0 89.8h0M252.9 151.1h0M272.3 170.9h0M273.7 114.6h0M343.9 159.7h0M393.0 243.6h0M333.1 136.7h0M366.8 125.1h0M391.0 226.4h0M397.8 141.7h0M393.8 146.8h0M310.0 127.3h0M320.1 120.6h0M270.8 136.9h0M258.3 89.5h0M360.6 174.3h0M307.2 214.1h0M266.3 98.7h0M385.6 58.2h0M390.7 123.1h0M394.1 129.2h0M267.4 88.3h0M366.1 182.7h0M361.2 59.7h0M302.2 202.8h0M329.9 136.0h0M379.6 112.3h0M351.2 78.2h0M380.0 216.5h0M317.6 192.7h0M327.9 183.4h0M347.9 217.0h0M278.4 91.2h0M367.7 245.2h0M250.9 151.2h0M395.0 239.3h0M361.9 143.1h0M373.3 208.1h0M280.2 120.7h0M301.4 133.9h0M268.0 177.2h0M268.4 147.0h0M391.7 164.3h0M405.2 199.7h0M351.8 69.6h0M395.6 114.5h0M293.9 171.8h0M342.6 116.2h0M367.2 197.2h0M363.8 153.4h0M359.0 246.7h0M319.9 64.1h0M317.5 257.4h0M354.0 163.9h0M396.1 187.9h0M331.2 67.2h0M368.3 210.6h0M369.8 164.8h0M322.9 50.2h0M372.0 124.0h0M374.0 225.1h0M287.6 94.2h0M330.1 159.1h0M374.1 83.5h0M306.9 108.1h0M335.4 167.3h0M409.4 145.5h0M252.7 124.2h0M376.0 151.9h0M288.5 67.8h0M294.9 142.0h0M399.4 219.3h0M343.0 216.4h0M298.1 64.6h0M249.7 111.9h0M371.2 138.9h0M264.3 179.3h0M288.0 171.4h0M352.5 202.8h0M337.8 252.7h0M355.8 247.6h0M364.1 198.1h0M295.0 115.0h0M396.6 175.9h0M314.1 118.5h0M359.0 144.0h0M300.4 190.2h0M404.5 187.9h0M298.5 133.5h0M326.7 175.1h0M388.3 227.6h0M342.2 134.6h0M406.6 96.2h0M329.6 127.3h0M399.2 205.3h0M266.6 72.8h0M269.6 174.9h0M278.7 99.2h0M312.7 58.7h0M294.0 57.0h0M335.4 96.0h0M281.5 140.4h0M403.1 160.1h0M283.4 55.8h0M345.0 82.2h0M409.5 147.4h0M365.8 76.7h0M341.2 244.5h0M364.3 214.9h0M316.5 250.8h0M318.0 47.2h0M294.4 175.8h0M301.6 51.2h0M314.7 202.6h0M384.6 147.3h0M279.4 65.7h0M292.5 91.2h0M292.4 189.6h0M322.7 155.2h0M273.1 35.8h0M325.1 116.3h0M362.8 247.9h0M384.6 57.2h0M258.5 156.8h0M367.2 187.6h0M407.5 130.8h0M334.0 98.0h0M311.1 123.9h0M346.3 219.4h0M323.5 255.6h0M320.6 101.2h0M323.4 95.8h0M390.2 210.4h0M381.6 108.1h0M259.5 90.8h0M251.3 158.7h0M283.2 112.9h0M323.8 213.8h0M379.6 131.7h0M314.5 142.2h0M378.0 116.7h0M360.0 179.5h0M309.1 207.9h0M365.2 51.3h0M276.1 113.6h0M360.3 245.9h0M282.5 69.1h0M346.2 252.2h0M377.5 79.2h0M342.4 136.5h0M319.3 231.4h0M380.4 203.9h0M288.5 154.3h0M318.6 185.7h0M255.6 124.0h0M361.6 246.3h0M324.8 111.3h0M304.3 183.2h0M310.1 229.4h0M288.1 155.2h0M273.6 92.1h0M291.5 164.9h0M380.1 83.2h0M258.3 147.4h0M309.2 57.7h0M247.7 132.8h0M266.9 73.1h0M366.1 118.9h0M309.5 161.5h0M352.1 170.5h0M313.9 101.1h0M376.3 190.7h0M306.0 63.7h0M299.6 163.1h0M338.3 132.4h0M322.9 102.5h0M353.6 113.8h0M358.8 76.4h0M279.0 45.7h0M347.1 226.8h0M341.0 174.0h0M279.1 73.6h0M319.8 119.8h0M347.4 254.8h0M313.6 249.6h0M268.0 78.8h0M290.2 126.1h0M268.0 63.9h0M334.9 187.1h0M271.2 53.6h0M368.0 214.6h0M256.3 122.3h0M266.6 76.8h0M381.1 110.1h0M287.1 88.4h0M372.8 193.5h0M272.6 153.4h0M343.9 250.5h0M379.2 190.8h0M398.6 145.4h0M288.0 99.2h0M252.3 96.9h0M321.5 143.8h0M315.1 40.8h0M393.4 170.1h0M378.6 240.1h0M344.3 245.3h0M325.1 242.5h0M325.0 179.6h0M370.2 170.1h0M330.7 160.9h0M304.3 74.4h0M330.0 134.9h0M328.8 49.9h0M351.7 208.3h0M358.7 144.9h0M289.3 114.9h0M377.8 115.8h0M299.6 135.2h0M316.3 130.2h0M373.0 192.8h0M316.1 177.0h0M363.8 228.9h0M269.1 150.6h0M394.6 232.8h0M407.0 77.6h0M387.6 138.7h0M381.8 64.1h0M320.5 187.7h0M348.5 87.9h0M370.5 132.9h0M324.1 162.3h0M409.8 119.6h0M331.5 118.9h0M289.3 152.6h0M373.6 70.8h0M351.6 193.8h0M329.4 67.0h0M309.5 233.0h0M375.3 121.5h0M406.2 241.1h0M278.1 136.4h0M340.7 81.7h0M383.2 148.2h0M287.9 131.6h0M345.2 178.5h0M385.2 124.1h0M276.9 127.7h0M322.6 243.8h0M268.0 151.3h0M271.3 46.5h0M276.1 68.2h0M332.5 231.6h0M250.6 120.5h0M386.0 250.4h0M372.7 137.4h0M369.5 227.6h0M398.6 120.0h0M317.4 48.4h0M306.0 137.7h0M303.6 153.0h0M274.7 179.1h0M398.3 69.3h0M302.1 60.1h0M268.9 145.2h0M268.1 61.2h0M401.9 213.0h0M334.1 241.1h0M362.9 120.4h0M345.8 65.8h0M384.3 102.1h0M286.6 57.0h0M376.2 189.2h0M356.0 230.2h0M282.1 39.0h0M292.3 116.7h0M276.3 61.5h0M395.0 153.5h0M355.1 89.2h0M344.4 224.1h0M316.4 173.4h0M295.7 42.6h0M373.8 105.4h0M335.5 234.6h0M305.7 200.2h0M377.7 175.1h0M270.3 69.0h0M384.1 198.8h0M373.5 224.4h0M399.3 77.8h0M358.5 80.0h0M335.9 220.6h0M388.0 236.6h0M379.9 125.5h0M283.5 61.2h0M347.8 192.9h0M290.9 69.5h0M297.5 182.4h0M399.3 215.0h0M264.5 76.7h0M328.0 218.0h0M344.7 249.4h0M302.2 77.0h0M332.1 254.2h0M325.7 102.1h0M404.3 148.3h0M359.5 109.3h0M264.1 124.7h0M345.5 53.5h0M251.2 161.2h0M390.8 152.6h0M376.4 72.0h0M323.7 144.5h0M386.1 111.3h0M313.6 150.2h0M394.6 197.1h0M318.8 69.3h0M346.4 134.2h0M376.3 55.6h0M332.3 54.6h0M281.1 140.8h0M260.0 142.7h0M339.5 60.3h0M403.7 200.9h0M262.3 106.0h0M307.1 145.0h0M336.4 198.7h0M312.2 201.3h0M324.7 127.8h0M303.5 97.3h0M266.6 78.1h0M285.0 121.6h0M313.7 88.8h0M376.3 162.2h0M351.6 251.7h0M271.8 72.0h0M347.2 50.7h0M350.1 181.9h0M344.0 192.6h0M317.2 137.6h0M381.0 179.0h0M348.7 62.8h0M323.9 230.9h0M342.1 105.8h0M309.9 44.3h0M330.3 225.9h0M320.1 122.1h0M313.4 63.4h0M317.7 98.9h0M338.9 139.7h0M351.5 220.2h0M278.3 75.8h0M387.4 189.3h0M362.2 80.3h0M388.3 172.2h0M379.3 215.1h0M274.2 43.1h0M362.9 179.3h0M305.4 98.3h0M325.7 118.1h0M254.9 147.4h0M336.8 203.9h0M369.0 64.2h0M308.2 136.4h0M297.6 144.8h0M349.4 223.5h0M364.1 194.1h0M385.6 126.5h0M251.8 115.6h0M361.4 149.5h0M263.0 122.9h0M326.6 217.1h0M268.3 37.8h0M378.0 85.8h0M343.0 216.3h0M330.6 115.7h0M285.3 187.0h0M343.8 200.3h0M256.1 79.7h0M293.4 159.6h0M352.8 190.0h0M351.2 220.7h0M355.3 225.5h0M276.3 164.0h0M300.2 108.2h0M360.4 163.9h0M269.8 172.1h0M269.7 40.4h0M361.2 161.8h0M384.1 108.2h0M308.9 91.6h0M378.8 130.0h0M332.9 194.4h0M394.4 152.4h0M332.0 85.9h0M297.9 140.6h0M301.6 205.7h0M323.1 246.1h0M310.0 81.4h0M346.4 113.1h0M408.1 81.6h0M288.7 158.0h0M265.9 86.3h0M318.7 160.7h0M269.1 124.4h0M262.6 125.3h0M350.0 115.1h0M261.2 148.8h0M311.4 103.4h0M351.8 197.5h0M308.9 167.0h0M267.7 104.5h0M316.3 149.2h0M368.1 140.4h0M390.4 209.4h0M251.6 107.0h0M370.1 108.7h0M366.1 206.2h0M358.3 134.3h0M353.8 61.7h0M326.0 235.6h0M329.2 257.0h0M332.7 97.1h0M380.0 197.4h0M299.6 91.6h0M329.1 59.2h0M369.4 237.6h0M263.8 122.6h0M328.2 219.0h0M315.5 87.1h0M383.9 198.0h0M370.8 185.5h0M297.0 148.0h0M312.9 227.3h0M332.8 221.1h0M303.9 155.5h0M336.5 108.9h0M408.9 119.1h0M345.5 176.6h0M364.9 251.0h0M263.8 58.5h0M298.9 42.5h0M302.2 174.8h0M295.7 78.7h0M309.6 71.4h0M328.8 169.7h0M358.2 231.4h0M327.0 219.2h0M258.9 70.1h0M351.2 84.2h0M294.4 189.1h0M335.4 258.9h0M397.5 149.2h0M382.6 106.8h0M396.0 217.4h0M402.4 133.8h0M343.0 46.9h0M381.6 90.0h0M306.5 228.7h0M391.2 63.8h0M280.5 135.1h0M269.8 115.9h0M279.0 173.8h0M373.8 218.2h0M351.4 136.8h0M275.2 134.1h0M321.0 232.3h0M333.4 53.9h0M307.7 42.3h0M356.1 256.6h0M366.5 245.1h0M358.4 226.1h0M354.4 81.9h0M319.7 113.0h0M315.8 54.2h0M348.7 132.4h0M368.6 95.5h0M371.4 149.1h0M295.4 178.0h0M379.8 159.6h0M265.3 61.9h0M307.0 197.8h0M305.5 87.4h0M279.2 55.7h0M270.6 62.0h0M360.7 185.0h0M401.1 212.4h0M325.9 80.2h0M391.9 156.1h0M356.3 223.0h0M301.3 71.4h0M327.4 54.3h0M379.4 69.0h0M296.6 124.7h0M271.3 57.2h0M344.5 253.9h0M380.3 204.8h0M344.6 109.5h0M262.4 74.4h0M407.5 187.8h0M357.2 105.3h0M337.8 46.8h0M290.7 64.9h0M325.4 166.0h0M291.8 59.8h0M349.8 127.0h0M364.9 107.7h0M297.1 142.6h0M327.9 154.5h0M399.8 155.1h0M390.5 127.2h0M405.0 139.1h0M339.9 184.8h0M355.4 65.6h0M405.7 191.6h0M254.5 159.7h0M316.8 256.1h0M401.5 120.4h0M317.4 48.8h0M353.2 221.1h0M322.5 94.5h0M260.0 66.4h0M333.3 204.8h0M255.5 141.5h0M340.9 125.4h0M330.7 65.7h0M373.8 91.8h0M337.7 105.4h0M325.1 228.3h0M325.9 244.7h0M384.0 169.0h0M385.2 175.8h0M395.1 153.8h0M305.1 219.5h0M362.8 131.8h0M348.3 217.3h0M339.4 138.2h0M340.6 166.2h0M339.1 98.4h0M365.9 100.3h0M324.2 155.5h0M261.9 73.1h0M353.2 240.7h0M283.4 132.6h0M335.6 141.2h0M366.0 88.5h0M315.1 71.2h0M347.1 191.8h0M342.9 128.7h0M350.2 136.6h0M297.5 148.1h0M361.5 88.5h0M280.4 106.6h0M270.8 76.4h0M320.3 97.1h0M329.7 104.5h0M356.7 177.9h0M402.4 173.8h0M343.5 97.5h0M316.3 231.2h0M390.1 65.6h0M341.5 90.4h0M371.2 162.1h0M290.8 180.4h0M330.6 132.4h0M298.8 55.2h0M343.6 189.2h0M364.1 62.3h0M335.3 68.4h0M276.6 108.0h0M267.0 64.8h0M363.0 68.6h0M342.4 208.2h0M315.4 140.4h0M388.8 147.8h0M362.7 155.2h0M250.2 123.3h0M285.2 102.5h0M358.8 150.4h0M357.1 170.9h0M347.1 72.2h0M268.2 167.5h0M407.3 77.0h0M344.4 118.2h0M333.2 131.6h0M403.6 129.1h0M395.8 140.7h0M351.8 77.7h0M406.3 102.4h0M366.4 244.8h0M376.4 194.1h0M309.3 100.7h0M328.5 126.1h0M300.9 133.1h0M287.1 140.0h0M368.3 222.2h0M287.5 79.7h0M307.5 233.4h0M293.9 177.0h0M308.8 77.9h0M321.2 201.0h0M247.7 150.6h0M376.6 119.5h0M404.7 136.0h0M400.6 142.4h0M361.1 235.9h0M307.3 202.3h0M381.6 243.7h0M312.4 185.6h0M281.6 71.4h0M297.3 57.8h0M280.4 187.9h0M275.3 107.9h0M289.4 149.2h0M398.3 127.4h0M344.9 225.9h0M391.6 135.0h0M366.0 239.3h0M307.4 134.9h0M288.8 124.8h0M310.9 186.3h0M374.9 132.1h0M323.9 122.7h0M268.1 182.0h0M337.3 225.7h0M357.8 257.2h0M311.8 135.0h0M266.1 153.2h0M367.2 157.6h0M253.1 98.9h0M392.8 236.3h0M406.6 91.5h0M320.8 217.9h0M372.3 162.4h0M294.9 49.2h0M342.7 192.8h0M266.4 82.7h0M403.3 223.9h0M360.9 134.3h0M322.5 92.4h0M345.2 158.3h0M368.2 204.6h0M329.7 106.4h0M333.8 186.0h0M368.1 83.7h0M317.6 248.7h0M380.1 63.5h0M388.3 173.4h0M403.2 71.8h0M262.8 129.1h0M368.1 219.8h0M275.4 172.8h0M269.3 127.7h0M375.2 198.8h0M365.3 94.3h0M345.2 83.3h0M382.2 231.2h0M276.1 103.6h0M253.1 103.8h0M296.5 118.1h0M339.7 104.5h0M338.3 96.7h0M332.9 197.8h0M275.7 103.1h0M265.5 169.5h0M392.2 104.7h0M334.7 121.3h0M406.2 165.2h0M280.9 117.7h0M378.1 238.0h0M364.3 137.3h0M369.6 175.6h0M376.6 139.8h0M346.0 83.2h0M266.0 154.0h0M387.8 193.5h0M335.0 88.3h0M375.9 219.7h0M362.6 174.0h0M293.3 144.6h0M335.3 188.7h0M330.3 59.6h0M395.3 243.1h0M392.8 217.9h0M388.9 71.0h0M388.7 210.0h0M372.4 83.2h0M396.8 154.6h0M373.8 105.5h0M316.2 188.2h0M383.2 83.2h0M294.0 78.1h0M253.1 146.1h0M325.3 181.9h0M331.7 194.5h0M278.3 157.2h0M387.8 175.3h0M304.5 170.2h0M374.6 185.3h0M346.9 196.0h0M361.6 57.0h0M264.4 94.4h0M397.9 116.8h0M291.9 122.8h0M333.0 76.9h0M331.8 242.1h0M361.0 160.7h0M365.9 78.7h0M264.2 91.4h0M384.5 164.4h0M353.6 192.1h0M360.8 80.5h0M312.8 79.1h0M333.8 246.9h0M285.1 103.6h0M351.0 142.7h0M372.2 99.6h0M369.7 247.5h0M311.4 92.7h0M315.2 93.2h0M260.0 59.0h0M360.7 230.6h0M378.9 215.0h0M399.5 109.9h0M399.8 217.6h0M333.8 227.0h0M272.6 87.2h0M387.0 238.2h0M380.6 62.5h0M314.1 93.7h0M329.7 51.8h0M359.1 246.5h0M354.8 210.0h0M291.6 115.9h0M386.3 146.6h0M314.9 204.7h0M322.1 63.9h0M402.2 99.5h0M279.9 50.1h0M307.9 136.7h0M382.4 163.4h0M353.8 138.3h0M268.4 165.9h0M378.7 247.7h0M370.4 256.7h0M305.2 39.3h0M304.5 88.3h0M297.6 170.0h0M392.4 133.1h0M393.5 193.7h0M300.8 196.0h0M296.7 169.5h0M275.2 142.2h0M378.0 138.0h0M327.3 182.4h0M334.3 121.5h0M277.2 142.5h0M330.4 104.4h0M398.2 86.4h0M324.2 53.2h0M271.3 138.9h0M326.8 52.5h0M354.1 148.8h0M303.2 49.5h0M344.5 203.5h0M274.7 87.9h0M386.6 154.4h0M343.0 149.3h0M407.1 188.8h0M338.0 83.2h0M257.1 113.4h0M402.9 101.4h0M363.8 186.2h0M306.8 222.6h0M385.4 121.7h0M327.3 195.8h0M310.4 132.2h0M312.2 74.1h0M301.5 96.2h0M337.2 90.9h0M362.8 196.5h0M305.4 223.5h0M386.3 158.1h0M390.5 241.0h0M317.1 185.8h0M283.9 185.2h0M372.0 153.1h0M321.0 147.2h0M365.8 52.5h0M361.3 194.7h0M378.3 162.7h0M359.4 217.2h0M394.0 83.3h0M383.8 79.6h0M368.9 165.2h0M363.4 75.6h0M375.3 133.4h0M392.6 70.7h0M306.9 163.3h0M405.3 226.6h0M306.1 190.5h0M367.6 121.1h0M266.9 107.8h0M374.1 205.5h0M286.8 173.3h0M280.3 145.8h0M308.5 224.9h0M272.6 76.5h0M337.6 180.6h0M396.7 130.8h0M276.5 134.8h0M318.9 258.7h0M367.2 157.5h0M372.3 203.3h0M409.6 99.5h0M320.8 85.8h0M379.1 181.7h0M295.5 190.7h0M348.6 245.8h0M386.2 214.5h0M272.0 186.3h0M295.4 115.3h0M254.7 77.3h0M392.6 119.1h0M325.5 134.4h0M404.7 141.8h0M271.5 120.3h0M339.8 251.1h0M324.9 196.2h0M398.8 68.5h0M326.5 240.5h0M372.7 238.6h0M301.3 181.2h0M399.7 143.8h0M376.4 148.7h0M385.9 156.6h0M286.2 48.9h0M358.6 77.6h0M394.7 192.3h0M331.0 255.4h0M385.2 140.7h0M336.6 62.6h0M329.6 66.0h0M400.6 118.7h0M364.4 190.4h0M259.1 112.9h0M380.2 59.3h0M398.0 210.5h0M280.7 147.8h0M402.3 87.6h0M321.3 127.8h0M345.6 147.8h0M343.5 139.7h0M296.5 134.3h0M351.6 195.7h0M252.1 95.0h0M329.0 131.6h0M315.3 95.4h0M276.8 132.6h0M323.0 205.6h0M330.8 199.8h0M278.0 157.8h0M330.1 215.2h0M286.4 171.8h0M315.7 198.2h0M389.4 104.5h0M328.2 174.6h0M392.6 205.8h0M308.5 234.0h0M340.0 197.7h0M303.0 81.3h0M271.8 68.6h0M321.9 80.9h0M331.0 150.3h0M386.1 150.1h0M286.7 175.1h0M281.9 75.7h0M361.8 63.2h0M312.5 187.8h0M362.6 253.4h0M348.5 223.0h0M308.7 106.5h0M264.2 95.7h0M265.9 79.5h0M365.5 135.2h0M389.9 208.2h0M253.7 124.8h0M381.2 208.3h0M305.4 70.2h0M332.8 138.9h0M380.2 71.7h0M371.0 165.7h0M343.5 229.8h0M350.6 48.8h0M316.3 187.6h0M355.2 107.5h0M317.7 93.7h0M363.1 120.3h0M343.0 141.6h0M311.3 155.7h0M401.0 189.2h0M383.5 94.1h0M375.8 195.2h0M276.4 152.2h0M252.4 141.9h0M385.9 242.7h0M402.6 247.3h0M344.1 124.8h0M392.0 252.5h0M375.1 109.0h0M383.4 131.4h0M326.4 87.3h0M366.0 97.7h0M291.3 51.5h0M330.6 82.5h0M333.7 240.1h0M268.0 62.7h0M330.3 59.7h0M318.0 78.2h0M370.5 252.7h0M390.0 145.3h0M384.3 162.6h0M329.1 73.0h0M265.9 127.6h0M263.4 70.6h0M318.3 111.6h0M322.7 59.9h0M323.0 130.1h0M378.9 155.0h0M264.7 155.9h0M298.4 76.8h0M339.6 146.2h0M315.3 62.5h0M398.5 85.3h0M327.6 114.4h0M313.2 46.1h0M348.6 53.5h0M367.6 90.8h0M403.3 234.4h0M383.9 252.9h0M377.3 216.6h0M267.8 79.8h0M282.4 166.1h0M337.9 63.9h0M363.0 59.3h0M354.5 189.9h0M350.0 223.8h0M362.2 209.2h0M270.8 154.6h0M373.1 167.4h0M282.2 141.7h0M292.5 79.6h0M358.2 151.4h0M368.6 222.1h0M327.8 140.1h0M383.3 251.9h0M397.0 175.2h0M316.2 233.2h0M361.4 141.7h0M329.0 87.7h0M379.3 203.4h0M380.7 129.2h0M296.7 50.5h0M387.8 178.6h0M317.6 244.1h0M314.1 184.2h0M322.4 144.8h0M389.2 110.7h0M328.6 44.7h0M298.9 97.1h0M329.1 165.7h0M322.3 97.8h0M380.3 242.1h0M401.5 232.0h0M354.9 109.9h0M392.8 75.3h0M314.3 48.3h0M261.8 168.9h0M329.2 61.1h0M394.9 215.0h0M402.4 77.8h0M312.3 82.6h0M280.0 94.5h0M281.0 170.5h0M257.6 72.8h0M362.1 214.2h0M283.7 166.1h0M305.0 162.6h0M368.8 81.8h0M336.5 152.5h0M385.7 70.1h0M393.9 121.9h0M313.2 113.1h0M300.3 121.7h0M400.9 117.1h0M298.8 138.0h0M385.0 67.7h0M333.7 97.7h0M404.2 243.1h0M353.5 181.2h0M399.5 91.2h0M398.9 142.9h0M397.7 163.6h0M396.7 234.7h0M296.9 195.5h0M288.2 174.0h0M367.1 209.7h0M329.9 144.2h0M255.8 118.0h0M341.2 83.6h0M306.7 156.8h0M396.3 164.2h0M362.8 168.4h0M371.9 128.2h0M281.1 162.6h0M342.8 139.0h0M341.3 161.0h0M382.8 60.0h0M260.1 96.2h0M379.7 148.3h0M324.5 99.3h0M305.0 205.1h0M354.3 168.1h0M371.6 153.0h0M364.8 166.4h0M375.8 83.6h0M254.1 95.3h0M376.5 186.5h0M356.7 137.3h0M303.1 129.1h0M279.2 37.7h0M349.3 158.7h0M270.3 128.9h0M281.4 102.8h0M357.6 129.1h0M384.6 169.0h0M328.9 124.1h0M399.9 78.4h0M325.3 145.2h0M342.1 227.8h0M370.1 247.5h0M263.5 115.2h0M310.9 75.5h0M289.3 83.3h0M351.3 168.5h0M274.1 98.8h0M281.3 123.5h0M328.9 150.4h0M407.3 166.4h0M407.2 103.7h0M298.2 75.4h0M283.5 166.9h0M392.3 225.6h0M368.2 195.3h0M283.5 176.5h0M250.9 131.4h0M407.3 106.3h0M252.9 110.3h0M341.2 99.9h0M342.7 173.5h0M375.2 233.1h0M377.8 110.0h0M334.8 208.5h0M273.8 89.7h0M333.3 155.3h0M389.0 187.5h0M363.1 115.3h0M349.4 102.4h0M276.3 67.2h0M334.2 112.2h0M332.7 80.1h0M264.5 116.0h0M378.7 243.4h0M323.8 132.3h0M402.8 196.8h0M290.5 96.9h0M355.8 191.3h0M372.0 174.0h0M366.5 131.8h0M271.9 46.7h0M348.7 163.0h0M300.3 150.9h0M296.2 91.2h0M360.8 163.7h0M321.0 164.2h0M277.7 93.7h0M353.1 184.1h0M294.0 167.5h0M265.8 104.3h0M344.2 108.1h0M307.3 168.7h0M261.7 90.8h0M281.1 88.9h0M297.3 121.2h0M386.9 252.2h0M378.3 127.2h0M261.2 59.3h0M354.3 47.4h0M304.2 197.1h0M334.8 231.0h0M374.8 234.2h0M342.1 131.8h0M350.4 249.0h0M340.0 237.4h0M263.8 113.8h0M334.8 193.3h0M394.8 241.0h0M374.3 68.2h0M285.2 156.2h0M302.8 87.8h0M384.6 149.1h0M274.2 37.9h0M404.4 104.9h0M408.3 203.1h0M346.1 51.5h0M354.1 123.2h0M261.7 181.8h0M389.9 195.0h0M347.3 130.6h0M351.6 241.7h0M332.5 211.6h0M298.0 80.1h0M354.6 74.4h0M364.0 202.5h0M399.1 211.7h0M368.4 247.1h0M387.4 224.5h0M318.8 227.2h0M292.6 65.0h0M324.6 222.3h0M314.6 222.5h0M312.1 149.9h0M384.4 201.3h0M396.8 79.9h0M369.5 179.4h0M305.3 172.8h0M378.0 110.1h0M303.7 69.2h0M353.6 171.7h0M272.6 188.0h0M363.9 153.3h0M345.2 201.8h0M407.4 218.7h0M291.3 52.3h0M325.2 223.2h0M265.1 86.0h0M365.6 98.6h0M379.5 86.0h0M327.1 87.3h0M274.2 34.0h0M289.9 113.0h0M305.4 185.6h0M360.6 180.8h0M277.3 76.2h0M323.3 246.2h0M397.7 196.1h0M311.4 183.7h0M276.2 115.4h0M306.4 145.5h0M333.8 54.2h0M347.1 73.1h0M352.8 107.8h0M289.7 125.2h0M403.9 97.1h0M325.6 100.7h0M267.7 78.7h0M303.7 110.2h0M339.2 213.2h0M390.2 220.2h0M380.1 111.2h0M309.6 168.5h0M284.3 43.6h0M313.4 91.1h0M357.4 91.5h0M314.9 43.0h0M280.9 179.0h0M274.1 187.8h0M365.8 98.1h0M356.4 184.4h0M263.3 184.6h0M407.4 82.1h0M398.6 167.0h0M269.2 112.0h0M308.9 218.0h0M365.5 139.9h0M281.0 102.9h0M310.2 52.2h0M261.2 60.2h0M371.1 184.6h0M347.9 72.3h0M325.8 236.8h0M392.9 83.0h0M286.5 163.5h0M300.2 151.4h0M314.5 85.8h0M353.2 66.8h0M389.4 105.5h0M352.8 190.9h0M283.1 63.6h0M358.6 240.7h0M384.8 110.4h0M295.0 117.2h0M285.3 116.0h0M315.4 86.1h0" stroke="#bfc3c6" stroke-width="1.10" stroke-linecap="round" fill="none"/>
<path d="M325.8 107.8h0M334.5 98.2h0M344.1 89.9h0M316.3 103.7h0M328.5 109.5h0M321.2 99.6h0M316.0 99.4h0M333.9 85.5h0M313.2 105.6h0M316.1 102.0h0M332.3 106.0h0M320.9 105.3h0M334.2 88.6h0M315.9 108.7h0M315.0 94.7h0M350.6 88.7h0M333.8 86.3h0M313.9 104.4h0M319.5 108.4h0M333.1 100.6h0M324.4 96.4h0M341.1 98.1h0M322.9 97.6h0M329.1 103.4h0M340.4 85.6h0M339.9 102.9h0M347.6 86.7h0M340.3 85.7h0M306.7 111.3h0M328.6 98.1h0M341.1 101.4h0M311.1 101.3h0M328.4 99.0h0M334.0 92.9h0M315.6 102.8h0M340.3 100.0h0M341.8 99.8h0M331.9 95.3h0M349.4 95.1h0M324.8 100.0h0M344.6 85.9h0M342.4 94.4h0M343.8 89.0h0M346.7 99.2h0M326.7 92.7h0M322.8 97.3h0M317.2 93.7h0M315.4 95.0h0M330.5 100.1h0M312.4 100.4h0M317.3 98.4h0M318.0 104.7h0M316.9 102.7h0M332.4 104.5h0M322.7 101.6h0M320.2 110.5h0M329.4 95.1h0M329.7 107.5h0M343.2 93.3h0M318.8 96.7h0M329.5 85.7h0M323.0 95.0h0M316.9 107.6h0M311.7 104.2h0M332.2 86.7h0M340.0 91.0h0M345.6 83.6h0M305.2 107.9h0M314.0 100.8h0M336.7 94.2h0M333.0 97.4h0M339.5 97.1h0M342.3 88.5h0M337.5 88.7h0M348.7 84.1h0M345.0 88.3h0M337.1 85.7h0M312.1 100.9h0M316.9 104.5h0M310.7 112.6h0M349.2 85.3h0M305.3 109.3h0M336.2 105.9h0M313.4 98.2h0M312.2 109.6h0M346.5 95.0h0M332.1 89.1h0M341.1 84.7h0M334.0 83.4h0M345.0 94.8h0M305.6 107.3h0M314.4 98.9h0M311.3 108.4h0M310.6 114.1h0M314.9 97.4h0M344.3 102.5h0M313.9 93.8h0M330.4 102.8h0M341.1 89.8h0M333.2 104.2h0M343.8 92.4h0M336.8 89.9h0M332.5 97.9h0M351.3 82.4h0M346.4 98.2h0M324.8 108.6h0M342.9 83.9h0M347.2 96.1h0M336.9 91.0h0M348.4 87.9h0M317.2 105.9h0M328.9 105.0h0M314.7 112.8h0M329.8 108.1h0M331.7 94.2h0M339.3 84.4h0M330.5 92.8h0M312.8 99.3h0M346.9 94.1h0M313.2 103.9h0M350.9 90.1h0M345.9 85.6h0M345.0 85.5h0M333.7 91.8h0M335.5 99.0h0M334.1 91.5h0M314.2 100.6h0M346.7 91.2h0M335.3 87.6h0M332.0 100.4h0M332.8 98.1h0M340.2 103.0h0M336.7 87.0h0M333.6 105.6h0M341.2 95.6h0M334.3 92.6h0M332.7 91.0h0M322.3 94.3h0M332.1 96.5h0M317.0 94.7h0M324.7 98.5h0M318.5 98.1h0M346.2 94.8h0M325.9 96.5h0M328.0 94.9h0M332.4 86.5h0M318.8 111.7h0M304.4 111.0h0M329.0 105.6h0M313.1 111.1h0M337.6 88.6h0M318.8 109.8h0M316.5 102.3h0M315.1 94.3h0M322.2 100.8h0M306.5 102.8h0M328.5 85.5h0M302.7 108.5h0M343.7 100.0h0M347.6 82.6h0M336.6 92.9h0M308.8 103.4h0M341.5 86.5h0M314.3 113.1h0M339.1 92.4h0M324.2 106.3h0M323.6 97.4h0M321.1 104.3h0M333.8 103.6h0M327.7 108.3h0M314.1 109.1h0M320.2 94.0h0M312.6 108.2h0M328.9 102.3h0M345.3 90.6h0M325.4 88.4h0M342.0 89.3h0M332.2 88.0h0M330.8 88.1h0M342.1 96.7h0M334.9 95.6h0M350.4 98.1h0M309.4 110.1h0M330.5 108.0h0M325.4 97.7h0M345.2 83.6h0M342.7 90.6h0M347.1 86.7h0M348.3 88.6h0M322.5 106.8h0M327.4 106.7h0M307.2 108.5h0M327.0 99.9h0M317.2 91.7h0M318.6 95.2h0M336.6 94.3h0M327.1 113.2h0M319.6 110.3h0M320.7 113.2h0M313.8 98.5h0M336.9 98.0h0M345.2 85.8h0M339.6 88.1h0M346.3 88.6h0M315.4 114.2h0M309.5 110.2h0M318.1 104.9h0M310.7 104.0h0M336.3 91.4h0M326.2 106.8h0M312.8 104.7h0M316.6 98.6h0M337.3 84.0h0M308.3 106.2h0M314.2 102.4h0M344.9 90.6h0M339.3 90.4h0M312.3 112.6h0M328.9 94.2h0M334.1 85.7h0M312.6 107.8h0M336.3 92.3h0M331.3 86.5h0M337.0 91.3h0M337.3 101.1h0M323.5 89.4h0M315.8 106.0h0M315.6 112.2h0M321.6 93.6h0M341.9 88.3h0M323.0 101.1h0M336.0 99.1h0M320.1 99.7h0M335.3 101.3h0M320.1 103.6h0M313.4 102.7h0M320.5 102.0h0M336.9 85.9h0M325.1 110.5h0M323.9 102.5h0M328.4 98.1h0M319.2 95.7h0M310.8 110.4h0M329.8 105.3h0M342.4 98.6h0M338.4 91.7h0M338.4 86.7h0M335.8 96.6h0M316.3 112.6h0M332.2 96.8h0M324.0 93.1h0M322.7 93.3h0M332.9 99.0h0M317.6 94.8h0M330.2 108.8h0M309.1 112.9h0M336.6 99.2h0M338.1 96.4h0M326.2 92.9h0M340.7 100.5h0M319.7 103.8h0M334.3 93.4h0M305.5 105.2h0M322.3 100.0h0M314.4 108.5h0M317.0 95.5h0M327.0 97.0h0M325.5 90.9h0M333.5 87.1h0M328.6 89.2h0M324.8 111.9h0M325.4 99.4h0M323.7 104.7h0M308.7 105.5h0M339.5 103.2h0M324.3 91.3h0M331.7 106.4h0M343.6 94.3h0M352.1 89.3h0M312.6 104.0h0M319.1 96.8h0M334.0 104.4h0M322.0 94.5h0M314.9 97.3h0M319.8 109.5h0M309.8 110.0h0M325.1 101.3h0M343.8 94.2h0M336.7 94.9h0M318.1 110.6h0M344.9 94.6h0M333.8 105.3h0M332.8 88.6h0M333.4 90.2h0M319.1 112.0h0M350.9 95.5h0M324.0 93.6h0M335.2 85.3h0M326.8 89.5h0M347.0 94.4h0M348.7 86.5h0M338.4 96.5h0M338.6 84.2h0M316.8 105.9h0M314.5 106.5h0M347.7 92.1h0M319.3 103.8h0M334.9 98.1h0M312.1 112.8h0M321.6 107.1h0M322.4 93.3h0M328.0 96.0h0M340.5 87.9h0M317.8 94.3h0M345.4 98.3h0M317.0 104.7h0M320.5 113.0h0M351.1 87.7h0M339.7 89.5h0M322.4 89.8h0M345.7 90.5h0M325.3 92.4h0M336.5 102.7h0M311.5 103.0h0M332.1 91.4h0M326.8 96.9h0M332.6 99.9h0M322.9 96.6h0M318.8 101.1h0M309.5 100.9h0M318.2 103.9h0M339.0 98.8h0M326.7 111.1h0M340.2 101.8h0M325.1 93.2h0M347.5 88.6h0M327.1 96.7h0M327.5 107.6h0M325.3 94.8h0M340.0 93.4h0M340.4 96.5h0M314.9 101.7h0M326.5 105.7h0M316.7 108.4h0M313.9 98.5h0M324.3 92.6h0M330.4 99.7h0M336.2 88.7h0M338.7 100.2h0M306.3 109.6h0M345.3 92.3h0M328.0 107.6h0M331.6 88.9h0M341.2 92.4h0M310.2 110.1h0M333.9 101.8h0M324.1 91.1h0M341.2 100.5h0M341.4 97.3h0M329.1 96.0h0M319.5 101.4h0M327.7 96.1h0M321.3 87.7h0M304.4 116.7h0M342.1 86.6h0M331.5 104.0h0M328.2 94.7h0M352.1 88.0h0M322.5 95.3h0M350.4 87.7h0M336.5 98.2h0M324.4 109.3h0M310.5 105.3h0M342.9 99.7h0M339.3 88.1h0M346.1 93.6h0M332.0 102.4h0M344.0 89.9h0M330.6 103.5h0M317.2 99.7h0M324.0 103.4h0M327.4 103.3h0M328.3 105.8h0M310.1 109.4h0M320.6 100.8h0M351.8 86.3h0M320.8 103.7h0M345.0 100.8h0M350.4 90.9h0M344.9 98.0h0M327.6 94.9h0M343.9 92.8h0M334.6 103.1h0M349.6 87.8h0M318.6 101.0h0M308.7 104.0h0M324.0 104.5h0M330.4 102.7h0M312.4 101.5h0M313.4 112.2h0M337.8 101.8h0M327.5 92.2h0M325.9 104.4h0M340.9 88.3h0M321.6 109.3h0M336.1 104.1h0M315.4 108.0h0M328.1 90.1h0M321.3 96.1h0M329.5 95.5h0M345.3 97.7h0M309.8 111.8h0M333.3 90.5h0M334.9 86.0h0M350.3 91.0h0M329.6 107.9h0M343.5 91.8h0M334.3 85.4h0M333.2 95.6h0M342.2 90.7h0M333.3 95.2h0M348.4 93.7h0M321.5 92.9h0M323.9 91.4h0M348.2 93.2h0M341.3 99.2h0M340.5 91.4h0M334.3 86.9h0M315.8 101.5h0M345.7 97.1h0M332.0 87.6h0M312.2 109.7h0M320.7 102.5h0M329.7 96.9h0M331.8 99.9h0M312.2 110.2h0M321.3 112.5h0M325.0 99.2h0M327.8 107.6h0M339.7 105.2h0M338.9 93.6h0M326.9 100.9h0M316.1 114.4h0M314.3 106.9h0M348.4 90.4h0M325.3 94.2h0M328.7 99.1h0M339.9 88.6h0M311.3 102.5h0M347.0 91.7h0M345.0 87.9h0M343.8 87.1h0M336.1 102.3h0M306.5 109.4h0M327.3 105.6h0M339.1 97.2h0M321.0 98.4h0M345.8 84.7h0M318.4 98.3h0M340.3 100.8h0M307.9 111.5h0M337.1 94.3h0M336.8 96.2h0M331.2 92.9h0M314.1 106.7h0M321.3 99.8h0M328.7 97.3h0M332.6 94.7h0M346.8 86.8h0M352.2 92.4h0M345.2 98.7h0M346.2 94.7h0M318.9 92.7h0M328.2 92.1h0M338.0 96.6h0M326.6 104.0h0M337.9 86.0h0M324.4 100.4h0M328.4 100.6h0M326.3 88.7h0M349.9 83.4h0M343.7 99.1h0M313.5 99.0h0M320.3 111.6h0M330.0 103.2h0M315.0 96.8h0M325.3 91.4h0M310.9 107.9h0M327.8 93.3h0M316.3 103.5h0M323.1 91.9h0M312.9 113.0h0M338.2 89.6h0M337.6 90.7h0M347.4 88.3h0M321.9 103.7h0M316.4 109.0h0M315.1 98.2h0M310.2 106.0h0M316.7 95.4h0M336.4 105.4h0M318.6 111.7h0M336.8 103.2h0M351.0 84.1h0M335.3 101.1h0M337.4 99.9h0M314.4 108.7h0M335.7 85.5h0M345.1 83.8h0M344.3 96.1h0M337.9 103.1h0M344.5 98.3h0M324.3 96.6h0M317.8 103.0h0M316.6 98.6h0M325.6 102.8h0M311.2 104.4h0M342.6 82.2h0M341.2 85.1h0M340.2 93.8h0M311.0 104.5h0M334.4 99.8h0M319.5 102.2h0M344.6 90.5h0M318.1 105.9h0M323.6 107.4h0M330.1 101.0h0M321.2 94.6h0M325.9 106.7h0M340.6 85.6h0M332.9 104.2h0M309.2 106.3h0M310.9 101.3h0M323.3 109.4h0M322.6 107.2h0M347.8 93.3h0M337.5 97.2h0M346.6 93.4h0M343.1 93.4h0M337.8 99.0h0M351.1 82.9h0M307.4 111.2h0M315.3 97.9h0M326.7 102.2h0M341.2 96.9h0M350.6 89.8h0M343.5 99.9h0M349.7 85.5h0M307.2 109.0h0M316.4 101.5h0M318.8 114.8h0M345.7 93.6h0M319.9 92.2h0M333.3 102.5h0M310.4 106.9h0M342.0 89.7h0M317.6 114.8h0M335.6 97.2h0M308.3 114.6h0M316.7 113.7h0M314.4 108.1h0M333.1 86.9h0M336.2 89.8h0M307.5 104.7h0M320.8 96.9h0M316.4 93.3h0M310.4 107.6h0M329.6 88.5h0M334.2 104.9h0M346.4 90.5h0M330.1 99.9h0M350.0 87.6h0M334.6 93.7h0M337.9 91.3h0M333.5 96.8h0M338.1 101.6h0M305.1 111.9h0M311.5 104.5h0M335.6 84.7h0M343.0 95.8h0M325.4 107.9h0M319.9 107.1h0M309.6 98.7h0M313.2 106.0h0M309.9 101.8h0M317.5 95.5h0M348.6 84.2h0M321.7 92.5h0M328.0 93.4h0M330.2 86.8h0M347.8 84.1h0M350.5 92.0h0M345.5 86.8h0M314.6 108.6h0M339.0 97.6h0M342.0 101.3h0M337.2 92.2h0M343.8 92.4h0M329.6 86.7h0M339.4 89.5h0M326.6 107.3h0M337.7 98.4h0M334.9 97.6h0M325.7 105.9h0M346.8 95.0h0M341.0 100.1h0M341.4 98.8h0M344.2 90.0h0M336.3 103.3h0M326.8 97.2h0M326.5 95.5h0M332.2 98.7h0M308.7 105.2h0M331.3 98.3h0M346.7 84.2h0M331.7 84.3h0M317.2 94.2h0M344.2 94.9h0M337.8 90.9h0M325.5 106.3h0M338.3 94.3h0M336.8 103.8h0M313.3 105.8h0M342.3 96.1h0M324.6 96.2h0M311.3 104.3h0M318.3 104.4h0M350.3 96.4h0M325.9 108.0h0M330.2 91.1h0M308.9 113.2h0M315.7 99.0h0M326.4 92.3h0M315.7 106.0h0M339.4 94.1h0M326.4 104.6h0M305.7 105.7h0M329.3 96.0h0M336.4 93.3h0M326.1 109.2h0M332.9 90.8h0M322.9 105.7h0M312.5 115.0h0M338.3 85.9h0M346.6 97.0h0M337.5 98.1h0M308.8 98.9h0M334.9 88.6h0M319.1 98.1h0M310.0 115.3h0M344.8 98.1h0M323.2 105.9h0M338.7 84.9h0M335.0 101.2h0M331.8 90.2h0M318.3 102.8h0M322.9 99.1h0M336.7 89.7h0M340.7 95.7h0M326.1 89.2h0M344.1 98.3h0M320.4 95.3h0M323.7 107.5h0M329.4 98.2h0M338.2 102.6h0M322.8 108.4h0M327.0 91.6h0M322.9 103.7h0M329.1 103.4h0M346.5 99.3h0M321.7 107.9h0M341.6 94.4h0M315.1 107.4h0M324.7 108.6h0M319.4 94.6h0M308.1 104.8h0M322.3 92.8h0M325.6 90.4h0M343.5 94.5h0M338.3 102.7h0M317.6 107.3h0M352.8 91.1h0M310.2 113.5h0M328.8 90.7h0M346.9 93.2h0M338.9 95.9h0M326.1 89.6h0M309.6 100.6h0M314.8 109.8h0M334.0 99.9h0M322.4 100.9h0M333.8 94.1h0M338.3 90.7h0M316.7 99.2h0M321.1 100.0h0M339.0 88.4h0M341.4 90.8h0M315.9 101.1h0M328.9 108.6h0M347.4 88.0h0M324.1 92.3h0M312.8 113.8h0M336.3 87.2h0M322.0 107.3h0M345.9 85.4h0M347.2 97.0h0M329.9 91.5h0M348.3 96.4h0M326.8 97.0h0M309.9 100.8h0M320.1 95.8h0M319.6 98.1h0M319.8 95.9h0M314.1 113.2h0M308.4 101.8h0M337.5 103.0h0M315.9 113.4h0M331.6 90.4h0M350.4 96.4h0M325.8 105.3h0M318.9 101.8h0M316.7 106.5h0M318.6 91.9h0M312.3 107.0h0M336.0 92.5h0M315.5 100.3h0M331.1 98.7h0M343.2 92.0h0M324.8 100.8h0M348.2 99.3h0M316.7 113.0h0M331.8 99.0h0M347.3 86.2h0M349.5 95.9h0M333.4 101.7h0M336.0 88.3h0M346.2 84.1h0M333.0 90.1h0M332.8 92.8h0M307.6 98.3h0M328.3 101.2h0M313.2 111.3h0M313.1 105.6h0M344.9 88.6h0M314.2 103.4h0M342.9 99.6h0M328.5 101.1h0M314.0 104.8h0M311.3 115.1h0M319.4 108.4h0M335.2 91.8h0M303.7 106.4h0M309.9 101.0h0M322.7 90.3h0M324.3 110.4h0M317.7 96.3h0M323.0 98.0h0M314.0 114.2h0M327.6 92.0h0M333.0 103.7h0M332.2 89.7h0M315.9 97.3h0M324.8 98.8h0M320.5 103.3h0M338.0 103.4h0M317.9 114.4h0M341.3 85.5h0M319.9 108.1h0M321.9 94.7h0M309.5 105.1h0M332.0 91.6h0M336.5 98.3h0M343.3 86.7h0M336.2 86.8h0M335.8 90.6h0M318.8 106.4h0M343.6 97.9h0M337.2 89.9h0M328.1 96.7h0M331.7 95.8h0M343.8 95.1h0M318.6 99.3h0M332.1 98.3h0M331.1 91.0h0M314.3 110.5h0M347.6 81.6h0M333.8 84.3h0M334.6 100.0h0M320.0 97.5h0M318.6 107.5h0M345.2 85.7h0M344.3 88.7h0M330.4 88.1h0M325.3 101.1h0M346.1 95.1h0M319.5 101.6h0M336.9 101.8h0M333.5 104.4h0M331.7 92.1h0M314.8 108.1h0M313.0 107.5h0M314.5 110.4h0M330.5 101.0h0M347.2 95.3h0M347.9 91.3h0M330.3 92.0h0M316.5 101.2h0M343.8 96.3h0M311.6 110.8h0M323.3 89.7h0M328.6 90.2h0M329.0 95.2h0M311.3 105.4h0M326.0 98.6h0M313.0 110.5h0M329.2 90.4h0M325.0 87.5h0M315.5 106.4h0M333.5 91.4h0M318.6 108.1h0M340.2 83.4h0M316.6 95.1h0M333.2 89.4h0M339.7 89.8h0M319.2 97.8h0M329.1 100.4h0M329.4 89.2h0M350.0 91.9h0M312.9 96.0h0M321.2 101.8h0M335.3 87.9h0M328.6 99.6h0M319.0 107.2h0M308.0 114.9h0M316.2 100.7h0M331.9 99.2h0M320.4 106.9h0M329.6 107.9h0M339.9 97.9h0M318.5 102.9h0M340.8 97.3h0M322.9 94.0h0M315.7 105.1h0M334.3 91.3h0M337.1 98.2h0M321.8 102.9h0M310.3 115.7h0M340.1 98.2h0M328.3 99.6h0M332.2 91.3h0M331.2 95.1h0M341.1 89.1h0M314.0 105.4h0M329.9 104.9h0M313.8 110.6h0M314.6 100.9h0M320.0 103.5h0M337.9 104.7h0M317.9 94.1h0M322.9 96.2h0M336.2 89.9h0M322.8 93.2h0M336.9 92.0h0M309.2 111.2h0M330.5 106.6h0M344.0 87.4h0M337.9 102.5h0M336.3 100.4h0M327.6 101.5h0M319.8 101.9h0M311.6 108.9h0M335.8 104.1h0M334.6 89.3h0M333.9 96.5h0M333.6 101.7h0M344.7 96.6h0M316.0 97.0h0M333.0 106.2h0M306.7 114.4h0M332.5 97.8h0M348.7 96.8h0M326.2 95.5h0M317.5 105.3h0M321.1 95.5h0M331.4 89.3h0M331.4 90.0h0M349.2 90.3h0M317.2 104.1h0M335.2 87.2h0M341.0 88.6h0M323.6 107.6h0M346.3 97.9h0M331.8 92.0h0M338.6 101.0h0M304.2 112.8h0M313.8 113.1h0M332.4 96.8h0M329.1 90.1h0M310.7 110.5h0M335.0 90.0h0M337.0 99.2h0M339.2 102.2h0M325.3 100.0h0M338.1 95.9h0M338.3 97.9h0M324.2 104.4h0M330.1 97.2h0M326.5 104.3h0M340.5 88.2h0M313.0 103.7h0M333.9 89.6h0M338.9 93.5h0M318.5 111.7h0M323.6 100.9h0M345.9 98.2h0M346.0 98.0h0M345.0 98.2h0M323.2 101.8h0M335.7 85.4h0M320.7 93.1h0M314.3 109.7h0M338.8 105.0h0M311.8 102.8h0M345.8 96.0h0M322.4 102.2h0M310.7 109.6h0M317.2 108.8h0M349.7 90.6h0M309.2 100.5h0M328.0 107.4h0M336.8 102.3h0M332.1 96.8h0M339.7 94.3h0M347.0 85.0h0M315.5 111.6h0M343.3 86.3h0M316.6 103.7h0M331.2 94.2h0M325.0 105.1h0M310.3 100.6h0M340.7 85.3h0M330.0 102.0h0M320.5 112.0h0M307.6 108.5h0M310.0 106.8h0M309.6 111.6h0M338.1 94.6h0M342.6 91.7h0M340.7 87.5h0M320.9 92.7h0M317.4 115.7h0M331.4 89.9h0M336.2 90.6h0M315.1 111.4h0M322.2 99.3h0M334.6 101.1h0M350.1 85.6h0M342.9 95.2h0M344.3 85.1h0M306.7 103.8h0M331.4 103.0h0M332.7 107.1h0M330.0 90.8h0M335.1 93.3h0M323.4 90.6h0M306.6 110.8h0M327.2 103.3h0M348.9 85.0h0M323.8 88.8h0M342.7 102.1h0M350.1 92.8h0M336.3 96.3h0M307.0 116.0h0M321.5 105.7h0M328.5 90.6h0M344.9 86.9h0M327.9 105.5h0M338.4 95.3h0M312.7 111.7h0M329.9 86.7h0M319.1 93.4h0M331.0 101.1h0M327.5 99.6h0M315.6 106.3h0M342.2 99.3h0M341.7 96.0h0M333.6 99.6h0M316.6 113.1h0M346.1 89.4h0M348.8 83.6h0M345.9 97.5h0M346.9 91.9h0M329.6 95.3h0M345.8 99.7h0M342.5 94.3h0M326.0 106.3h0M313.3 109.2h0M329.8 97.8h0M326.9 91.6h0M337.2 102.8h0M307.8 107.1h0M305.4 104.8h0M310.5 105.9h0M335.7 89.1h0M322.7 110.0h0M342.1 95.7h0M305.0 107.5h0M327.1 103.4h0M308.8 105.9h0M328.7 105.5h0M335.9 89.5h0M341.9 90.5h0M328.4 110.0h0M323.3 95.2h0M321.1 106.9h0M338.6 102.5h0M322.7 88.4h0M307.2 106.9h0M314.6 109.7h0M319.9 99.9h0M341.4 89.0h0M311.9 107.6h0M313.3 111.1h0M316.7 111.7h0M331.4 91.8h0M329.3 92.1h0M352.3 99.9h0M310.9 102.5h0M323.3 103.7h0M316.7 107.6h0M317.2 100.9h0M341.4 93.9h0M339.0 90.2h0M349.9 89.1h0M319.2 94.4h0M323.7 99.4h0M328.2 104.1h0M327.3 98.2h0M314.0 112.3h0M350.5 98.7h0M334.6 100.5h0M342.4 92.7h0M348.7 97.4h0M326.4 106.9h0M344.9 92.1h0M324.4 91.9h0M316.7 109.1h0M340.3 97.9h0M346.1 82.5h0M344.6 79.1h0M319.1 107.3h0M324.0 107.0h0M336.2 102.7h0M348.0 92.6h0M311.2 113.5h0M349.1 90.3h0M349.5 90.3h0M325.1 107.9h0M337.7 105.8h0M316.2 97.1h0M307.1 110.0h0M328.0 103.0h0M311.5 111.1h0M334.2 88.8h0M320.9 106.3h0M307.7 103.8h0M337.8 87.8h0M324.8 88.0h0M339.7 99.5h0M321.7 106.8h0M315.1 110.7h0M314.6 107.7h0M323.0 109.1h0M322.5 112.8h0M310.9 111.2h0M341.1 91.8h0M327.8 102.4h0M344.7 102.3h0M323.2 102.4h0M349.9 87.0h0M352.2 85.4h0M316.8 110.5h0M318.6 108.3h0M339.1 105.9h0M332.3 91.9h0M333.5 87.5h0M337.8 94.9h0M317.2 110.9h0M335.4 83.6h0M343.8 93.1h0M345.5 94.9h0M311.8 111.3h0M331.6 101.4h0M325.1 105.6h0M318.1 108.7h0M334.6 94.8h0M346.4 93.5h0M310.8 112.0h0M324.1 111.2h0M331.0 105.3h0" stroke="#c9c9c9" stroke-width="1.60" stroke-linecap="round" fill="none"/>
<path d="M358.0 81.6h0M353.2 89.6h0M353.3 89.5h0M388.3 80.0h0M359.3 87.3h0M386.9 77.5h0M374.6 85.0h0M367.1 83.6h0M360.5 83.2h0M376.5 83.5h0M371.8 77.8h0M384.3 76.2h0M354.6 82.7h0M377.1 87.9h0M390.5 69.9h0M392.2 70.3h0M366.6 86.9h0M374.3 85.2h0M351.4 90.8h0M382.3 76.0h0M369.8 81.0h0M383.2 77.7h0M368.7 82.3h0M378.5 76.0h0M371.3 80.1h0M372.7 78.7h0M393.7 68.9h0M369.6 80.3h0M352.7 80.2h0M352.7 80.2h0M372.2 76.9h0M367.0 81.5h0M363.0 88.7h0M364.5 89.9h0M369.2 75.3h0M351.0 84.6h0M356.7 94.9h0M380.8 76.3h0M365.3 86.8h0M372.0 74.4h0M388.8 79.0h0M366.1 85.6h0M371.5 73.8h0M357.8 91.3h0M367.5 86.8h0M393.4 73.7h0M375.0 90.7h0M368.8 85.6h0M378.8 81.3h0M366.9 85.2h0M393.1 70.4h0M376.1 76.0h0M394.2 69.4h0M376.9 81.6h0M375.3 82.0h0M364.1 85.9h0M393.3 69.9h0M387.1 76.5h0M392.4 73.2h0M380.0 77.7h0M362.1 86.9h0M359.4 88.7h0M356.4 85.5h0M370.2 83.5h0M367.9 84.5h0M379.5 73.8h0M363.0 85.9h0M355.7 88.5h0M354.0 81.8h0M396.3 68.7h0M361.2 80.0h0M353.6 97.4h0M357.6 94.2h0M371.8 81.5h0M371.7 84.6h0M355.4 97.1h0M368.7 78.5h0M370.8 77.6h0M360.7 86.0h0M356.6 78.4h0M374.6 72.8h0M390.8 69.8h0M378.6 73.9h0M362.9 94.0h0M388.5 71.6h0M379.0 85.2h0M372.8 82.6h0M390.8 69.5h0M381.7 77.3h0M370.8 86.2h0M378.4 84.3h0M383.7 72.4h0M375.6 85.0h0M354.2 84.6h0M375.8 78.2h0M359.2 91.0h0M383.5 78.1h0M355.1 86.3h0M387.7 71.6h0M367.0 89.9h0M372.6 78.4h0M361.6 84.8h0M392.8 65.5h0M395.3 77.7h0M368.2 85.9h0M367.6 86.0h0M360.7 82.1h0M386.5 76.0h0M381.2 74.1h0M368.3 83.7h0M353.7 97.9h0M351.0 81.4h0M356.6 96.0h0M362.9 87.6h0M393.2 68.9h0M373.7 80.6h0M367.1 77.7h0M357.0 87.2h0M367.8 80.2h0M357.3 91.1h0M392.2 80.7h0M380.6 80.4h0M351.1 89.8h0M393.3 72.4h0M372.1 79.7h0M375.4 76.9h0M377.4 79.0h0M357.9 92.3h0M369.8 88.9h0M356.2 87.4h0M351.9 87.7h0M366.3 86.0h0M393.4 72.3h0M388.1 77.7h0M364.9 79.9h0M389.2 72.5h0M387.7 68.8h0M358.1 92.1h0M390.1 67.3h0M359.9 89.6h0M386.2 73.5h0M377.1 82.9h0M355.9 96.2h0M356.2 84.8h0M355.6 90.9h0M386.2 78.9h0M369.3 80.5h0M353.6 87.0h0M388.0 73.4h0M371.8 76.9h0M370.6 87.5h0M376.3 80.6h0M354.2 87.1h0M355.8 92.8h0M379.8 82.2h0M370.3 77.4h0M371.3 87.2h0M384.6 72.2h0M388.8 76.6h0M379.8 82.1h0M360.6 88.3h0M379.8 72.9h0M361.6 92.5h0M368.0 92.4h0M381.6 81.3h0M389.1 77.2h0M373.7 85.8h0M390.3 76.4h0M358.4 82.2h0M370.1 83.8h0M361.8 93.4h0M385.9 70.8h0M362.7 96.9h0M375.0 80.2h0M368.5 84.1h0M359.3 85.6h0M362.6 78.8h0M390.5 76.2h0M360.9 86.6h0M355.9 93.9h0M376.2 84.7h0M372.8 87.0h0M359.3 88.0h0M362.0 84.7h0M383.5 68.3h0M361.4 84.0h0M381.1 73.8h0M384.9 79.1h0M359.1 89.4h0M391.9 67.8h0M356.6 92.6h0M361.9 87.4h0M382.9 74.9h0M352.0 96.3h0M386.8 83.3h0M369.7 91.0h0M396.6 67.5h0M383.8 76.9h0M375.0 88.4h0M355.7 85.4h0M354.7 94.6h0M358.8 92.7h0M368.4 88.1h0M371.9 87.6h0M392.5 73.3h0M390.8 70.2h0M355.2 85.1h0M384.0 79.8h0M378.6 88.3h0M387.1 79.6h0M353.5 83.4h0M360.0 83.2h0M376.0 80.3h0M355.9 79.7h0M380.0 86.3h0M350.5 85.6h0M377.2 79.0h0M377.9 83.3h0M371.2 80.5h0M380.7 83.1h0M396.1 67.2h0M375.5 83.6h0M358.5 83.2h0M351.0 92.5h0M367.0 80.4h0M394.4 77.9h0M349.3 83.5h0M371.5 88.4h0M356.2 88.7h0M394.9 71.3h0M358.6 88.8h0M381.5 74.9h0M387.0 81.1h0M386.7 71.0h0M388.4 67.6h0M365.4 81.0h0M348.9 91.1h0M386.7 75.2h0M380.9 76.3h0M354.1 86.8h0M358.7 89.4h0M387.6 74.0h0M371.2 79.3h0M367.5 79.4h0M368.5 80.4h0M366.4 92.8h0M362.0 89.6h0M367.2 79.5h0M398.0 67.1h0M367.4 78.7h0M370.4 91.2h0M368.1 85.9h0M370.8 86.5h0M346.9 85.0h0M389.9 68.1h0M386.4 81.8h0M364.0 76.4h0M383.6 82.6h0M358.7 93.0h0M363.9 90.2h0M395.9 68.3h0M395.4 68.8h0M354.9 91.0h0M364.6 79.3h0M390.0 80.7h0M393.1 72.7h0M372.0 76.9h0M371.4 81.6h0M360.9 87.1h0M372.6 90.1h0M390.2 72.2h0M388.6 74.8h0M392.8 71.2h0M372.7 77.9h0M392.3 73.2h0M377.7 74.4h0M360.7 88.8h0M359.9 83.8h0M386.9 73.3h0M394.7 70.9h0M368.4 78.8h0M382.3 82.7h0M357.9 93.1h0M389.0 81.0h0M385.3 70.6h0M353.8 86.7h0M356.3 88.2h0M376.1 87.0h0M372.0 84.9h0M379.7 75.4h0M354.0 85.9h0M386.3 76.1h0M371.1 82.9h0M366.2 80.4h0M377.5 80.2h0M371.6 77.1h0M367.0 82.0h0M379.9 81.0h0M356.0 85.2h0M381.3 73.9h0M369.5 87.6h0M371.2 81.5h0M367.8 82.4h0M387.8 82.7h0M362.5 87.9h0M363.2 85.4h0M375.0 83.9h0M362.3 82.3h0M360.2 86.3h0M374.0 75.7h0M380.6 74.6h0M357.4 81.0h0M359.4 87.8h0M368.5 85.7h0M381.5 76.4h0M387.3 81.3h0M384.0 78.2h0M384.6 71.2h0M392.7 69.8h0M378.8 86.0h0M366.3 82.8h0M393.3 69.9h0M381.6 73.2h0M373.7 88.1h0M353.3 84.2h0M388.3 66.9h0M380.6 78.5h0M377.8 77.6h0M377.8 80.0h0M356.2 81.8h0" stroke="#c8c8c8" stroke-width="1.40" stroke-linecap="round" fill="none"/>
<path d="M329.3 198.0h0M329.3 142.2h0M324.8 213.6h0M352.6 168.4h0M313.5 220.0h0M312.1 127.7h0M354.2 153.5h0M316.6 129.0h0M318.5 230.4h0M336.0 194.1h0M322.1 202.6h0M331.1 191.0h0M310.6 137.6h0M354.9 164.3h0M347.7 170.0h0M308.1 157.6h0M324.3 182.4h0M343.4 185.5h0M329.2 163.0h0M307.5 163.2h0M324.3 185.6h0M350.3 153.9h0M342.7 175.0h0M315.2 191.9h0M340.8 198.8h0M307.0 204.0h0M342.3 181.4h0M333.2 154.6h0M317.4 145.8h0M314.4 121.1h0M322.8 146.9h0M338.1 182.1h0M333.8 148.4h0M342.7 181.6h0M337.6 204.5h0M309.8 174.2h0M319.8 143.4h0M318.8 177.2h0M358.8 153.0h0M330.9 150.0h0M332.2 204.6h0M322.0 186.7h0M319.0 194.8h0M336.5 151.1h0M300.8 172.7h0M323.9 134.8h0M324.3 218.2h0M324.4 176.2h0M302.1 168.1h0M345.7 153.4h0M349.9 144.2h0M332.3 211.9h0M310.9 135.0h0M348.4 179.2h0M309.0 179.7h0M348.0 170.1h0M304.1 152.8h0M321.7 145.3h0M315.2 180.3h0M328.8 133.5h0M314.9 133.5h0M312.4 115.0h0M315.7 167.1h0M333.6 114.3h0M331.7 195.4h0M337.2 157.4h0M331.6 159.6h0M342.4 190.8h0M318.8 159.8h0M305.3 209.3h0M337.7 171.5h0M312.8 166.5h0M357.3 155.7h0M309.7 201.3h0M340.2 155.0h0M337.4 160.8h0M320.8 136.6h0M328.0 139.9h0M320.4 189.2h0M314.5 161.1h0M340.8 143.6h0M340.7 144.7h0M313.7 210.7h0M322.2 197.6h0M346.4 175.4h0M330.8 182.5h0M340.4 161.2h0M312.0 179.0h0M336.8 156.7h0M308.0 177.2h0M325.3 214.7h0M322.0 213.8h0M332.6 204.9h0M327.8 199.0h0M336.5 135.2h0M304.2 130.5h0M345.6 157.9h0M341.1 188.1h0M314.7 133.3h0M358.3 162.9h0M333.0 208.2h0M314.8 112.3h0M323.2 218.0h0M341.4 188.9h0M302.3 152.3h0M313.1 152.5h0M319.9 229.7h0M356.8 149.0h0M323.8 224.2h0M331.2 183.8h0M355.0 161.8h0M341.1 178.0h0M318.6 185.5h0M325.4 143.6h0M343.7 196.2h0M309.6 138.2h0M334.7 207.1h0M327.1 154.2h0M307.5 204.2h0M333.2 183.1h0M351.1 152.8h0M330.9 199.8h0M355.4 159.4h0M301.3 185.9h0M297.6 161.0h0M333.1 207.9h0M336.4 194.5h0M310.6 123.1h0M331.8 217.2h0M315.2 181.9h0M326.0 174.7h0M300.8 160.7h0M315.7 157.6h0M313.6 164.5h0M334.0 159.4h0M322.0 201.7h0M324.1 166.4h0M330.4 180.0h0M331.9 191.2h0M335.7 154.4h0M321.6 185.8h0M303.1 186.6h0M341.1 161.5h0M303.2 192.9h0M347.4 178.4h0M307.3 205.7h0M352.6 173.3h0M312.4 219.7h0M312.0 170.4h0M359.5 157.6h0M307.3 206.0h0M338.7 183.4h0M312.9 203.2h0M344.4 142.2h0M327.0 209.3h0M322.0 155.6h0M305.5 216.9h0M304.5 127.8h0M307.8 219.7h0M329.8 119.5h0M304.7 182.6h0M352.1 147.4h0M331.4 149.2h0M301.1 170.2h0M318.9 177.7h0M319.7 230.5h0M354.9 167.7h0M335.5 188.3h0M315.4 227.6h0M303.5 171.8h0M325.5 123.2h0M324.2 130.6h0M321.3 234.9h0M334.1 171.0h0M307.4 153.5h0M327.4 162.4h0M312.0 211.3h0M305.9 186.3h0M314.3 126.5h0M304.3 190.9h0M304.7 176.0h0M332.7 125.9h0M325.9 156.8h0M304.7 203.9h0M362.9 150.6h0M303.9 136.2h0M325.2 115.6h0M319.2 166.2h0M316.2 210.5h0M301.7 180.6h0M343.6 173.9h0M322.8 209.9h0M332.6 211.8h0M354.5 158.3h0M305.3 127.7h0M322.4 120.5h0M324.5 118.6h0M329.5 205.5h0M306.6 178.0h0M344.5 145.7h0M308.5 216.9h0M341.3 158.8h0M333.1 187.9h0M305.6 167.5h0M328.0 122.5h0M343.3 180.8h0M320.2 135.0h0M315.8 195.2h0M325.8 161.9h0M346.5 144.3h0M320.7 179.8h0M308.2 160.4h0M357.9 163.9h0M321.3 173.8h0M339.6 182.5h0M319.3 208.1h0M325.7 119.5h0M328.7 196.3h0M349.1 154.2h0M307.0 167.7h0M351.0 180.2h0M331.6 210.1h0M318.5 196.3h0M326.8 163.1h0M343.4 187.6h0M313.5 209.6h0M327.5 180.9h0M312.2 165.8h0M341.5 152.6h0M303.8 149.1h0M310.0 135.0h0M321.5 148.6h0M318.0 229.9h0M313.8 133.5h0M315.7 143.3h0M330.1 212.4h0M303.2 132.0h0M323.4 140.0h0M318.7 139.8h0M328.2 128.9h0M320.4 130.9h0M317.7 122.2h0M341.7 164.7h0M360.2 143.7h0M328.3 184.1h0M336.2 206.5h0M301.6 190.2h0M323.0 179.1h0M329.8 187.0h0M301.4 176.1h0M313.4 174.5h0M355.3 158.5h0M326.9 144.1h0M328.2 187.3h0M309.6 184.8h0M327.4 154.3h0M353.9 161.7h0M339.5 177.1h0M303.9 144.3h0M328.5 203.4h0M304.4 181.5h0M296.2 170.0h0M323.1 158.9h0M359.3 166.1h0M323.5 179.4h0M325.2 225.5h0M321.9 196.3h0M305.0 129.2h0M336.0 156.2h0M304.2 200.0h0M322.8 157.0h0M304.4 176.4h0M348.5 158.0h0M336.0 196.0h0M355.5 155.8h0M322.7 114.6h0M308.5 193.2h0M331.6 183.7h0M311.0 223.6h0M353.6 147.7h0M306.5 183.8h0M320.9 175.3h0M305.2 196.1h0M316.4 162.1h0M314.4 183.2h0M349.3 165.6h0M327.9 149.0h0M324.4 199.5h0M319.6 202.6h0M354.0 180.9h0M318.1 146.0h0M324.0 211.1h0M347.5 182.3h0M319.6 204.8h0M334.0 170.8h0M305.7 125.9h0M339.5 163.0h0M328.4 149.3h0M354.4 170.1h0M311.7 138.1h0M356.7 160.9h0M309.9 140.4h0M308.0 188.6h0M324.8 196.6h0M308.0 184.8h0M329.7 212.6h0M329.3 140.0h0M318.6 140.4h0M332.2 164.3h0M334.7 184.0h0M300.9 170.7h0M315.0 149.9h0M350.6 180.1h0M308.4 134.0h0M300.9 194.2h0M327.5 134.6h0M337.6 188.9h0M306.2 219.3h0M356.6 155.5h0M298.0 163.2h0M350.7 170.2h0M307.0 179.6h0M344.4 146.6h0M345.9 149.5h0M333.1 205.4h0M325.1 195.4h0M349.8 151.9h0M310.5 116.1h0M337.8 194.3h0M314.9 225.6h0M349.8 176.7h0M325.1 146.0h0M308.4 114.9h0M328.4 162.2h0M333.2 141.6h0M351.5 151.9h0M307.0 186.0h0M344.8 191.6h0M335.4 172.6h0M335.8 189.6h0M337.4 175.4h0M355.9 143.3h0M356.9 163.3h0M314.5 211.0h0M322.9 127.7h0M303.7 152.5h0M345.3 147.0h0M347.7 152.2h0M342.8 169.1h0M335.5 157.8h0M306.9 121.8h0M328.7 165.4h0M320.5 123.1h0M304.6 206.6h0M302.7 135.5h0M301.1 157.4h0M309.2 180.4h0M309.7 152.1h0M322.0 156.4h0M332.1 167.7h0M330.5 205.9h0M316.8 119.9h0M325.3 193.4h0M356.0 143.6h0M313.2 184.5h0M356.4 150.1h0M308.3 194.0h0M317.2 163.6h0M310.1 137.2h0M314.0 124.2h0M327.5 142.0h0M341.4 190.6h0M340.8 161.5h0M334.1 194.1h0M316.4 180.7h0M308.9 195.7h0M304.4 147.8h0M327.1 180.2h0M334.2 124.5h0M307.7 201.0h0M316.7 151.6h0M307.2 147.2h0M316.6 213.9h0M305.2 200.3h0M305.8 193.2h0M343.3 151.2h0M317.8 149.4h0M321.1 205.6h0M312.4 202.3h0M325.1 225.9h0M329.4 168.2h0M312.8 163.4h0M316.3 163.9h0M332.6 208.8h0M315.2 230.2h0M321.9 129.3h0M320.1 116.7h0M319.6 217.1h0M325.1 198.1h0M324.9 198.9h0M313.4 155.1h0M352.9 151.5h0M323.1 120.9h0M341.0 197.7h0M323.2 210.8h0M333.3 209.2h0M321.8 112.3h0M316.0 167.8h0M333.8 118.9h0M312.6 188.9h0M347.8 160.1h0M316.4 147.1h0M342.0 175.6h0M302.9 176.2h0M345.8 178.9h0M324.8 137.0h0M313.1 196.5h0M306.4 164.6h0M331.3 111.5h0M320.0 155.5h0M323.1 230.6h0M314.0 215.8h0M312.4 115.2h0M304.8 117.2h0M308.0 211.9h0M313.0 134.1h0M307.6 136.9h0M313.7 186.3h0M326.7 206.3h0M305.1 191.8h0M335.9 171.3h0M308.4 173.8h0M338.7 202.3h0M304.1 213.6h0M319.1 231.9h0M327.5 143.8h0M319.1 118.8h0M317.1 143.1h0M313.8 192.8h0M343.7 159.9h0M346.8 185.4h0M296.9 172.5h0M317.0 169.7h0M308.0 206.9h0M319.0 184.9h0M331.4 186.0h0M312.0 140.7h0M310.5 186.1h0M308.4 137.4h0M302.9 207.7h0M332.2 133.7h0M302.4 161.7h0M299.0 185.7h0M322.9 164.4h0M302.1 173.5h0M306.6 181.7h0M327.7 205.8h0M318.0 165.2h0M316.2 139.0h0M307.2 151.7h0M310.6 209.6h0M307.6 123.7h0M303.2 119.6h0M316.1 215.6h0M315.6 181.5h0M308.1 198.8h0M318.7 120.5h0M349.4 184.2h0M331.7 189.5h0M327.1 225.7h0M334.1 151.6h0M318.3 156.4h0M324.7 139.6h0M353.2 152.1h0M353.1 164.0h0M314.4 179.5h0M327.0 139.5h0M354.2 166.2h0M325.7 202.4h0M319.2 192.4h0M324.9 114.5h0M324.5 199.1h0M315.2 151.9h0M305.3 199.3h0M328.8 122.2h0M327.4 111.5h0M317.8 219.1h0M299.9 165.6h0M325.1 126.4h0M331.2 201.5h0M320.6 183.0h0M312.5 185.1h0M324.0 213.4h0M328.8 140.0h0M305.5 151.2h0M314.3 183.7h0M330.8 215.2h0M319.3 221.4h0M300.7 151.7h0M320.8 186.1h0M326.2 131.9h0M323.4 117.6h0M318.9 193.5h0M336.5 163.2h0M315.4 219.2h0M305.5 179.9h0M333.0 167.0h0M327.1 163.4h0M335.0 145.6h0M325.0 123.0h0M315.3 210.9h0M324.2 124.3h0M321.0 208.2h0M327.5 224.1h0M324.8 194.5h0M330.7 181.0h0M329.3 117.4h0M319.0 133.9h0M329.7 134.0h0M333.2 211.6h0M338.4 177.5h0M359.9 154.4h0M311.0 212.0h0M334.3 175.9h0M325.0 159.3h0M321.4 115.0h0M322.2 186.1h0M354.4 152.4h0M350.6 183.7h0M302.2 168.1h0M349.7 161.2h0M316.5 216.2h0M321.2 160.5h0M312.0 216.9h0M309.5 222.9h0M304.6 162.3h0M334.5 217.6h0M339.3 179.7h0M319.7 176.8h0M354.0 154.9h0M307.2 191.7h0M344.8 189.3h0M359.4 171.8h0M312.5 156.4h0M320.3 157.5h0M310.3 151.5h0M308.3 134.5h0M322.3 132.4h0M324.9 116.9h0M313.3 131.1h0M306.1 197.7h0M333.5 185.0h0M329.6 168.6h0M321.6 131.1h0M333.4 214.7h0M337.3 155.4h0M312.6 220.4h0M313.6 114.8h0M343.0 158.3h0M311.9 221.8h0M351.8 145.4h0M338.6 181.1h0M331.7 167.7h0M324.1 172.2h0M300.2 169.7h0M332.7 165.0h0M301.5 195.4h0M304.7 198.5h0M342.9 149.5h0M326.0 215.4h0M325.2 205.1h0M321.8 152.3h0M333.1 139.4h0M350.3 145.4h0M309.3 138.7h0M308.6 112.5h0M310.2 215.1h0M332.7 219.0h0M330.1 137.0h0M310.6 110.9h0M309.8 196.8h0M320.2 203.4h0M352.3 181.2h0M308.4 169.3h0M320.9 184.3h0M350.0 149.5h0M311.3 208.3h0M340.1 164.4h0M313.7 169.6h0M327.2 180.9h0M321.8 208.4h0M332.0 191.1h0M338.3 200.9h0M331.9 144.4h0M342.3 166.8h0M342.9 152.7h0M310.9 218.0h0M314.1 115.1h0M321.5 199.7h0M333.6 210.0h0M306.0 209.2h0M334.0 127.9h0M296.9 168.8h0M302.8 202.9h0M341.9 190.5h0M323.6 176.1h0M340.6 175.1h0M334.5 185.9h0M321.3 119.5h0M306.5 154.3h0M323.3 198.5h0M305.4 178.2h0M330.7 186.1h0M323.3 167.7h0M306.6 183.7h0M347.2 155.4h0M300.2 165.6h0M321.0 233.4h0M329.1 180.3h0M311.4 120.0h0M338.5 153.3h0M304.5 137.2h0M329.8 166.4h0M318.8 135.0h0M327.1 208.0h0M302.8 158.8h0M336.0 161.4h0M309.4 174.9h0M342.9 149.6h0M331.6 206.2h0M317.5 183.7h0M301.8 119.7h0M354.9 176.1h0M327.8 160.5h0M303.4 209.7h0M310.2 205.6h0M311.8 211.1h0M347.1 180.2h0M338.2 201.8h0M346.3 157.3h0M338.8 170.6h0M308.9 185.0h0M350.3 166.8h0M318.1 159.0h0M342.0 176.1h0M331.7 128.7h0M324.1 213.9h0M324.6 195.3h0M312.6 168.7h0M299.3 166.6h0M352.2 182.2h0M355.5 169.0h0M325.3 203.6h0M330.0 205.4h0M319.5 204.9h0M317.8 181.1h0M318.2 179.2h0M302.4 198.9h0M312.6 154.3h0M316.4 135.6h0M313.4 165.8h0M323.8 187.5h0M310.2 188.7h0M314.9 193.5h0M332.8 134.3h0M361.9 150.7h0M341.4 200.3h0M344.5 151.2h0M355.0 171.9h0M323.7 177.8h0M333.7 132.8h0M347.2 176.0h0M325.3 134.8h0M330.5 128.9h0M309.0 197.7h0M320.4 156.2h0M315.3 186.7h0M315.1 154.4h0M306.3 160.7h0M332.2 169.7h0M329.7 114.3h0M344.6 171.4h0M314.5 148.0h0M324.8 228.5h0M331.4 182.8h0M336.7 168.9h0M311.4 167.6h0M304.0 161.5h0M320.0 169.2h0M326.0 193.6h0M299.8 168.5h0M308.7 122.9h0M326.1 209.3h0M312.7 141.8h0M312.2 223.8h0M301.2 161.5h0M356.5 160.1h0M323.4 166.2h0M311.2 165.9h0M322.0 201.0h0M308.3 193.8h0M321.1 233.6h0M346.6 174.9h0M319.9 228.1h0M332.8 124.7h0M316.3 231.2h0M316.9 131.8h0M326.9 149.0h0M341.1 198.7h0M336.3 205.0h0M305.8 147.7h0M303.4 113.5h0M306.0 154.3h0M318.7 234.3h0M318.4 116.8h0M315.8 203.3h0M355.0 166.0h0M317.6 228.6h0M320.0 195.4h0M305.1 133.7h0M315.8 179.4h0M343.7 152.8h0M307.3 137.5h0M307.5 151.1h0M359.4 149.5h0M331.7 174.0h0M304.7 128.6h0M331.5 166.7h0M341.1 187.0h0M337.0 177.3h0M331.6 208.4h0M329.9 224.5h0M323.4 214.1h0M330.7 222.0h0M315.7 171.6h0M317.5 196.3h0M324.8 172.1h0M301.4 174.9h0M311.7 155.0h0M324.9 186.0h0M299.1 151.4h0M311.0 122.1h0M308.4 153.9h0M319.4 141.9h0M333.1 148.8h0M324.8 185.4h0M313.0 152.7h0M356.7 169.6h0M336.8 206.2h0M323.4 225.1h0M332.4 145.8h0M355.0 181.8h0M321.2 186.2h0M315.3 132.8h0M313.1 130.0h0M348.9 168.7h0M333.3 179.0h0M318.2 207.3h0M336.7 198.0h0M319.1 125.9h0M310.1 121.0h0M322.2 188.1h0M321.6 141.0h0M350.2 188.1h0M335.1 176.6h0M296.3 190.7h0M318.2 228.7h0M332.6 210.2h0M345.4 150.3h0M362.1 153.8h0M324.1 221.6h0M326.7 195.2h0M317.8 149.8h0M330.8 172.4h0M335.0 168.3h0M348.3 181.4h0M330.9 181.7h0M342.1 197.9h0M342.5 189.7h0M323.9 227.3h0M334.9 189.9h0M326.4 206.6h0M321.1 200.4h0M320.6 213.1h0M306.5 193.0h0M333.4 198.3h0M326.0 196.4h0M329.6 159.8h0M339.6 177.7h0M345.3 174.8h0M321.8 225.5h0M328.8 195.3h0M333.6 187.9h0M331.6 181.7h0M312.5 125.5h0M313.9 171.7h0M332.4 197.8h0M310.3 186.3h0M341.1 170.1h0M331.8 153.0h0M297.2 175.2h0M307.2 128.0h0M303.4 114.0h0M305.2 160.6h0M321.2 112.5h0M323.3 223.4h0M330.2 125.6h0M304.1 188.6h0M340.4 191.1h0M329.6 135.7h0M328.4 130.9h0M330.2 162.7h0M327.4 200.0h0M331.7 200.4h0M312.3 197.9h0M342.9 181.9h0M307.3 203.4h0M318.6 157.6h0M325.1 119.8h0M325.2 188.1h0M312.6 149.1h0M339.7 158.5h0M317.3 208.1h0M319.0 126.7h0M325.0 200.0h0M318.1 147.4h0M357.3 161.9h0M344.8 149.1h0M325.4 156.9h0M314.7 215.2h0M314.4 169.5h0M356.0 168.6h0M321.9 221.2h0M304.6 124.0h0M319.5 125.1h0M334.5 139.7h0M321.4 128.5h0M353.7 161.8h0M306.5 163.6h0M343.6 188.0h0M352.3 178.9h0M314.9 228.9h0M349.6 182.0h0M359.7 156.3h0M326.3 220.3h0M320.7 113.1h0M299.7 183.4h0M342.1 165.5h0M315.2 159.9h0M305.3 189.8h0M306.1 181.9h0M313.7 138.6h0M319.5 164.6h0M312.4 151.0h0M346.2 157.3h0M343.6 174.9h0M330.9 186.6h0M309.6 167.1h0M313.3 223.7h0M335.5 171.6h0M309.1 176.2h0M333.0 174.8h0M321.3 218.4h0M332.3 164.8h0M341.4 148.3h0M327.8 210.4h0M317.6 155.4h0M311.2 130.8h0M309.0 171.7h0M320.8 194.5h0M302.3 139.4h0M316.2 126.7h0M334.7 122.1h0M343.9 182.3h0M321.4 191.5h0M302.5 184.9h0M309.2 223.0h0M348.9 156.4h0M316.9 208.3h0M326.0 131.9h0M315.5 199.6h0M311.6 170.7h0M321.9 191.5h0M333.3 148.5h0M330.7 125.7h0M314.6 208.1h0M330.2 165.8h0M332.8 194.3h0M328.1 111.1h0M309.0 169.4h0M318.2 184.0h0M331.4 150.5h0M363.3 151.0h0M333.6 199.9h0M337.1 154.8h0M307.6 196.3h0M308.8 159.1h0M327.7 143.2h0M332.6 132.4h0M333.9 142.4h0M322.2 199.7h0M316.8 122.7h0M303.0 169.3h0M338.5 160.8h0M306.8 192.0h0M347.7 165.2h0M321.9 228.0h0M326.1 188.9h0M332.2 164.7h0M325.3 117.5h0M332.0 151.3h0M343.9 194.3h0M312.0 199.0h0M332.8 161.2h0M329.9 155.4h0M316.7 190.0h0M318.7 234.7h0M321.6 232.8h0M310.8 156.3h0M322.9 160.3h0M311.8 203.7h0M325.1 143.2h0M316.1 177.9h0M327.2 220.7h0M325.1 143.5h0M316.8 121.5h0M311.7 162.8h0M313.8 192.2h0M348.9 143.1h0M327.2 192.1h0M331.5 158.6h0M311.6 118.9h0M315.6 111.7h0M330.9 136.0h0M334.9 126.6h0M316.9 223.2h0M328.4 197.5h0M318.4 180.7h0M324.2 189.4h0M350.1 178.1h0M299.3 161.5h0M308.3 155.4h0M300.5 183.3h0M301.5 123.8h0M330.1 185.2h0M318.4 153.8h0M317.0 208.3h0M304.4 187.6h0M314.1 159.4h0M311.3 126.7h0M352.3 180.6h0M336.2 175.1h0M350.6 179.0h0M323.4 121.9h0M331.4 160.6h0M321.3 206.5h0M307.6 174.2h0M334.8 167.3h0M311.2 197.6h0M341.8 161.4h0M328.0 159.3h0M313.2 184.6h0M341.6 159.3h0M328.5 170.6h0M337.0 143.2h0M322.5 223.3h0M316.0 125.2h0M324.3 131.3h0M319.8 179.1h0M297.2 181.6h0M320.7 183.2h0M315.2 173.3h0M342.1 186.6h0M328.4 189.7h0M316.8 122.0h0M325.5 230.6h0M343.4 180.8h0M330.3 147.3h0M308.6 192.0h0M354.9 145.7h0M351.9 148.9h0M325.1 123.6h0M307.4 130.0h0M312.7 199.8h0M344.5 187.9h0M337.3 142.9h0M327.0 195.7h0M333.9 152.6h0M335.8 163.1h0M348.6 176.4h0M303.0 207.6h0M359.2 146.8h0M310.7 115.0h0M308.7 196.8h0M321.4 215.8h0M362.1 148.0h0M329.0 178.3h0M342.3 172.5h0M311.8 223.6h0M307.1 209.9h0M307.4 177.9h0M300.6 189.1h0M317.3 123.7h0M358.2 161.4h0M305.0 173.8h0M328.3 126.5h0M309.8 136.5h0M326.0 160.3h0M320.7 185.6h0M345.5 176.5h0M308.4 122.7h0M351.1 150.6h0M352.1 156.7h0M310.8 211.1h0M332.7 195.9h0M327.5 213.3h0M342.0 187.3h0M349.2 173.4h0M322.6 179.1h0M317.8 148.2h0M334.7 157.8h0M332.1 144.3h0M317.1 156.2h0M308.5 115.4h0M341.6 188.5h0M349.5 156.7h0M329.6 178.9h0M317.6 211.7h0M331.1 187.1h0M326.6 162.4h0M328.8 111.0h0M333.2 144.3h0M308.2 158.8h0M317.1 211.7h0M311.8 222.3h0M334.2 183.8h0M326.7 143.5h0M329.8 171.5h0M326.5 203.5h0M327.1 193.5h0M326.6 172.4h0M305.0 195.1h0M302.2 202.7h0M336.6 191.8h0M345.5 154.0h0M308.5 207.8h0M319.6 215.6h0M344.4 191.9h0M309.8 158.7h0M335.2 184.5h0M342.4 142.1h0M312.0 197.2h0M335.8 203.9h0M321.7 115.8h0M359.7 163.4h0M309.1 154.0h0M308.8 211.3h0M307.4 157.1h0M316.8 113.1h0M316.6 130.7h0M319.8 117.5h0M307.6 204.4h0M325.4 168.5h0M329.1 128.5h0M324.6 162.8h0M318.0 189.3h0M306.5 189.2h0M355.4 146.8h0M344.7 182.3h0M332.7 202.6h0M312.0 177.2h0M319.9 156.0h0M331.5 134.8h0M339.0 168.8h0M321.2 170.1h0M322.7 192.4h0M316.6 135.0h0M344.6 186.7h0M329.2 197.0h0M323.3 186.8h0M307.7 196.3h0M309.4 204.1h0M343.7 155.2h0M331.7 193.0h0M332.2 132.0h0M329.2 180.0h0M327.2 203.4h0M332.3 177.2h0M320.9 206.9h0M305.4 168.2h0M302.3 157.7h0M309.7 174.5h0M341.0 179.2h0M309.6 196.4h0M301.0 184.5h0M312.9 190.0h0M331.3 178.8h0M346.7 168.8h0M302.0 212.3h0M347.5 147.6h0M333.1 178.1h0M322.9 151.6h0M312.3 140.8h0M307.8 152.4h0M333.8 175.9h0M320.7 140.2h0M320.7 219.7h0M358.5 149.1h0M320.9 157.5h0M337.7 185.7h0M306.8 163.0h0M311.6 142.3h0M355.6 167.2h0M308.4 162.8h0M347.0 160.2h0M337.8 151.1h0M323.1 187.1h0M312.2 219.1h0M312.6 184.6h0M314.0 145.7h0M353.1 173.9h0M327.8 126.9h0M328.3 166.6h0M317.7 199.9h0M323.4 190.6h0M314.5 196.5h0M310.0 205.1h0M331.8 116.3h0M329.3 173.9h0M314.7 221.2h0M299.5 184.6h0M306.0 194.4h0M312.7 137.2h0M338.2 162.4h0M324.4 227.8h0M329.7 179.6h0M302.1 158.2h0M348.0 181.8h0M314.5 222.4h0M319.5 179.8h0M348.3 146.6h0M338.4 153.2h0M323.7 178.1h0M337.6 193.4h0M310.1 123.1h0M316.8 155.5h0M336.6 143.4h0M319.7 227.2h0M311.3 160.1h0M314.2 182.0h0M325.5 203.8h0M303.4 125.1h0M339.8 172.3h0M300.5 185.4h0M318.0 122.7h0M347.8 181.4h0M307.6 175.8h0M315.8 207.9h0M324.3 175.6h0M324.6 196.8h0M336.9 198.8h0M330.0 126.5h0M314.5 173.0h0M318.0 159.5h0M333.1 195.3h0M326.8 121.3h0M313.6 220.5h0M309.7 221.9h0M320.0 218.1h0M339.0 170.5h0M333.1 191.7h0M339.0 149.8h0M331.7 126.7h0M307.5 138.6h0M316.7 143.7h0M344.3 170.3h0M319.3 231.0h0M327.8 119.2h0M350.6 147.3h0M304.1 169.3h0M306.4 171.5h0M331.0 159.9h0M320.7 172.3h0M312.9 210.8h0M311.4 214.7h0M302.8 178.9h0M351.5 150.2h0M337.4 144.7h0M323.1 143.0h0M328.0 227.9h0M321.4 221.5h0M328.4 114.0h0M333.5 196.9h0M323.9 190.3h0M313.5 168.7h0M337.2 156.2h0M308.3 189.0h0M343.1 157.8h0M315.1 124.8h0M320.3 134.3h0M338.8 146.3h0M327.1 128.5h0M325.9 159.8h0M337.7 195.6h0M338.5 142.9h0M317.3 162.8h0M326.9 188.4h0M309.8 133.1h0M331.2 124.3h0M336.6 141.7h0M321.1 157.7h0M316.2 128.1h0M331.7 167.9h0M310.5 158.1h0M318.6 172.5h0M331.6 139.4h0M322.6 215.7h0M329.3 119.4h0M355.2 162.6h0M331.6 134.2h0M317.9 132.5h0M318.8 188.8h0M332.0 149.6h0M303.5 203.7h0M317.9 149.7h0M307.6 149.6h0M307.1 131.6h0M341.0 185.2h0M334.3 164.6h0M356.5 151.5h0M334.6 178.3h0M316.2 231.1h0M335.1 156.9h0M306.2 131.6h0M344.1 195.9h0M317.1 140.6h0M335.7 192.2h0M304.8 188.0h0M320.1 217.6h0M327.3 149.7h0M310.2 146.6h0M332.0 177.3h0M351.1 153.5h0M328.9 179.5h0M328.3 118.0h0M346.1 145.0h0M322.3 169.7h0M327.6 145.2h0M307.6 112.8h0M314.0 155.3h0M336.8 178.4h0M326.7 126.1h0M320.0 164.5h0M320.2 120.4h0M305.6 117.3h0M328.5 167.6h0M315.3 177.7h0M343.0 178.5h0M317.7 127.5h0M338.2 181.0h0M323.1 194.8h0M325.2 125.9h0M339.6 196.7h0M323.2 129.7h0M310.5 215.7h0M312.4 210.0h0M309.3 115.0h0M358.4 154.7h0M310.8 135.9h0M352.1 161.2h0M344.6 185.7h0M308.3 209.5h0M297.5 175.7h0M314.2 218.8h0M341.5 169.0h0M311.5 126.5h0M310.6 136.9h0M329.8 163.8h0M307.2 176.8h0M304.9 168.7h0M324.9 162.7h0M320.4 191.2h0M360.3 158.4h0M318.4 185.3h0M338.4 190.0h0M309.8 183.5h0M302.8 178.7h0M347.9 156.0h0M335.7 176.5h0M319.6 139.9h0M323.2 185.4h0M314.9 174.8h0M329.7 203.5h0M310.4 196.8h0M315.8 139.8h0M316.3 176.5h0M304.3 172.4h0M317.3 198.1h0M315.4 113.6h0M348.1 192.4h0M304.2 119.2h0M317.2 160.9h0M356.7 147.4h0M303.3 155.7h0M334.3 172.9h0M342.6 173.3h0M359.1 167.0h0M326.7 164.4h0M313.6 176.3h0M302.6 203.7h0M323.7 214.6h0M312.4 182.2h0M324.9 190.8h0M312.7 144.8h0M328.9 204.7h0M345.3 180.9h0M332.2 130.0h0M356.2 168.7h0M341.3 174.0h0M317.5 225.2h0M299.0 185.6h0M303.5 118.0h0M329.6 149.0h0M360.4 144.7h0M338.1 153.1h0M325.2 184.9h0M321.3 192.7h0M330.1 145.8h0M305.5 173.5h0M336.3 203.1h0M309.1 184.2h0M326.7 162.9h0M326.3 197.3h0M312.4 201.2h0M309.1 194.4h0M333.7 124.5h0M344.6 182.9h0M340.6 178.6h0M350.8 149.5h0M315.6 127.6h0M311.7 122.3h0M308.4 200.9h0M352.8 170.2h0M324.4 187.2h0M341.3 143.3h0M312.0 156.0h0M314.4 142.5h0M313.5 223.5h0M329.6 190.7h0M348.1 178.4h0M325.4 124.6h0M332.6 202.3h0M335.2 131.5h0M327.5 170.9h0M335.5 163.1h0M307.8 119.3h0M321.1 156.8h0M336.0 190.0h0M351.3 155.8h0M352.1 170.7h0M313.4 116.1h0M338.0 169.9h0M334.9 169.7h0M328.9 162.2h0M339.5 153.0h0M347.7 174.8h0M314.9 208.0h0M310.8 189.0h0M321.1 199.6h0M328.7 166.6h0M321.0 143.4h0M317.2 134.2h0M329.2 195.3h0M308.2 148.6h0M307.2 157.2h0M326.7 208.6h0M321.2 161.7h0M319.2 172.2h0M297.4 168.6h0M313.0 218.5h0M327.9 147.7h0M326.4 180.4h0M328.4 172.5h0M326.6 141.7h0M299.0 170.9h0M301.5 168.2h0M308.1 149.5h0M341.0 142.1h0M337.2 185.9h0M320.4 224.7h0M307.3 195.1h0M345.5 193.0h0M313.1 133.7h0M345.5 154.1h0M317.3 163.6h0M344.2 155.7h0M325.7 142.0h0M327.5 157.1h0M351.9 173.5h0M297.7 170.3h0M332.8 129.2h0M330.7 181.0h0M306.9 221.3h0M332.3 141.6h0M316.5 126.6h0M303.2 184.4h0M337.4 150.6h0M329.7 142.6h0M312.4 206.1h0M315.6 191.1h0M325.1 209.1h0M323.5 190.9h0M317.3 199.4h0M321.1 195.0h0M321.4 200.3h0M342.3 159.5h0M318.9 167.2h0M323.1 125.6h0M319.6 217.9h0M359.1 167.5h0M325.7 228.2h0M352.6 168.0h0M321.1 113.3h0M314.4 140.4h0M301.6 173.4h0M344.1 189.5h0M327.9 132.1h0M320.8 180.2h0M332.5 124.3h0M324.0 121.4h0M350.3 178.0h0M327.3 171.1h0M325.8 195.0h0M303.4 171.0h0M330.5 151.7h0M317.2 130.3h0M317.9 176.4h0M329.0 119.1h0M323.2 193.3h0M331.1 137.3h0M340.8 173.8h0M339.5 188.6h0M336.7 146.7h0M303.3 161.6h0M343.8 148.6h0M338.5 200.4h0M310.8 222.6h0M338.0 197.6h0M309.4 146.6h0M323.4 173.0h0M351.9 168.4h0M333.8 199.9h0M317.1 153.1h0M318.8 143.5h0M330.0 114.5h0M307.3 185.8h0M305.5 165.5h0M310.8 137.8h0M316.1 228.7h0M333.7 139.6h0M320.4 222.9h0M310.0 181.4h0M325.1 115.9h0M327.1 156.3h0M310.7 186.9h0M312.3 112.5h0M310.9 143.4h0M335.8 201.2h0M320.7 213.5h0M324.1 152.9h0M310.1 129.2h0M312.8 170.8h0M327.3 119.7h0M314.6 170.3h0M309.3 121.4h0M326.2 165.4h0M332.9 206.2h0M314.4 153.4h0M350.4 169.3h0M322.5 119.7h0M300.9 176.7h0M342.6 166.4h0M323.4 166.7h0M303.7 148.8h0M336.0 182.4h0M317.9 128.2h0M324.7 147.6h0M309.3 163.0h0M320.8 176.6h0M317.6 156.0h0M360.9 150.8h0M328.8 133.9h0M349.9 185.5h0M308.9 167.7h0M335.7 152.3h0M327.4 230.0h0M317.3 156.6h0M337.3 184.4h0M338.0 160.7h0M307.7 187.9h0M330.0 162.3h0M327.6 130.0h0M324.3 141.2h0M323.1 232.8h0M321.1 210.2h0M341.1 181.6h0M322.0 147.3h0M352.7 178.5h0M336.8 159.4h0M350.1 153.4h0M338.2 195.0h0M360.1 164.6h0M348.0 147.3h0M305.0 109.9h0M315.4 171.0h0M311.9 181.7h0M322.1 232.7h0M305.4 130.2h0M311.9 126.0h0M313.6 154.4h0M303.4 176.9h0M329.4 200.5h0M332.3 162.4h0M309.7 172.9h0M343.8 185.8h0M349.2 168.8h0M323.7 160.0h0M316.3 129.8h0M333.9 129.9h0M313.3 223.5h0M325.3 188.6h0M332.3 204.9h0M316.4 197.2h0M314.3 223.5h0M339.4 174.8h0M341.5 181.9h0M317.6 227.1h0M313.3 154.4h0M334.1 197.0h0M308.0 162.1h0M314.6 180.7h0M313.6 183.6h0M322.6 115.3h0M331.7 129.3h0M338.7 149.9h0M324.3 222.5h0M347.7 150.5h0M319.6 122.8h0M319.7 122.4h0M344.0 174.6h0M359.0 158.4h0M329.3 119.3h0M313.2 202.2h0M320.1 223.6h0M353.8 146.9h0M307.6 117.5h0M300.0 175.5h0M303.5 147.8h0M353.4 156.6h0M318.4 134.9h0M316.0 148.7h0M330.4 166.9h0M317.5 128.3h0M322.5 179.4h0M318.8 232.5h0M312.8 160.6h0M354.9 154.4h0M320.4 212.4h0M325.6 135.8h0M319.9 231.3h0M334.1 203.3h0M341.6 181.2h0M309.3 153.3h0M340.5 175.0h0M319.0 197.1h0M349.9 180.0h0M321.9 158.3h0M313.9 194.2h0M310.6 217.3h0M331.2 142.0h0M306.2 110.3h0M298.4 163.0h0M349.9 160.8h0M350.9 179.5h0M309.7 156.1h0M304.2 178.1h0M334.6 209.6h0M346.0 155.1h0M308.4 160.0h0M344.2 144.7h0M316.2 206.0h0M340.5 165.7h0M324.2 183.2h0M320.1 171.0h0M343.6 195.3h0M297.2 170.1h0M327.9 213.0h0M308.2 116.5h0M357.8 158.5h0M353.6 174.4h0M317.4 186.8h0M299.0 171.4h0M338.2 157.2h0M322.7 127.7h0M310.9 214.3h0M336.9 186.4h0M322.4 221.6h0M312.2 122.7h0M357.8 157.1h0M310.4 166.2h0M330.1 162.2h0M326.9 112.3h0M300.6 115.4h0M339.2 185.0h0M354.2 162.7h0M306.6 168.3h0M302.4 174.5h0M365.6 147.1h0M310.9 166.9h0M311.8 177.9h0M321.3 133.3h0M317.5 155.2h0M302.7 156.9h0M343.6 169.3h0M354.5 173.1h0M328.1 132.8h0M308.3 177.1h0M358.2 148.3h0M341.5 173.9h0M332.4 114.0h0M352.4 175.5h0M331.3 123.1h0M322.9 122.6h0M320.3 209.8h0M312.7 144.4h0M321.6 190.2h0M309.4 158.7h0M312.2 206.3h0M348.6 186.0h0M344.1 173.7h0M347.1 180.3h0M328.5 150.8h0M309.7 151.6h0M309.9 207.9h0M304.2 141.1h0M319.6 150.6h0M309.0 173.0h0M315.9 233.2h0M340.7 186.3h0M309.8 137.9h0M344.8 168.1h0M319.8 126.7h0M327.7 187.6h0M332.3 128.8h0M310.0 182.6h0M327.9 218.5h0M304.9 195.6h0M343.3 195.7h0M351.4 171.5h0M321.2 189.3h0M311.9 168.3h0M318.0 113.8h0M303.3 153.4h0M312.5 180.3h0M307.5 118.9h0M325.1 198.9h0M316.8 169.6h0M326.7 161.8h0M322.2 120.2h0M334.7 180.2h0M298.5 181.2h0M305.5 161.9h0M307.7 186.4h0M329.4 219.5h0M311.5 212.5h0M319.0 204.6h0M324.3 215.8h0M301.4 156.7h0M311.3 177.4h0M314.0 219.0h0M327.2 187.3h0M311.8 157.3h0M302.1 160.9h0M333.7 130.7h0M340.0 171.3h0M317.4 186.7h0M332.1 125.2h0M323.4 114.3h0M351.0 178.2h0M316.1 203.9h0M344.4 142.9h0M313.0 179.2h0M355.9 148.4h0M309.5 197.9h0M301.7 180.9h0M313.5 218.9h0M344.8 183.1h0M341.3 185.2h0M305.2 164.6h0M356.3 165.4h0M348.0 162.4h0M343.1 148.8h0M305.5 128.8h0M336.2 189.6h0M309.1 213.2h0M330.6 134.3h0M303.6 160.6h0M312.7 192.1h0M328.2 177.8h0M317.7 164.5h0M297.6 173.6h0M314.1 206.4h0M331.6 211.6h0M301.4 179.4h0M321.0 118.8h0M308.7 217.9h0M335.8 203.7h0M322.8 168.8h0M304.0 120.9h0M314.6 143.3h0M318.9 167.8h0M336.6 148.9h0M312.2 179.6h0M322.9 149.5h0M313.0 134.6h0M324.1 130.4h0M327.0 131.3h0M316.9 229.0h0M312.1 200.9h0M361.1 145.6h0M335.8 170.3h0M317.1 216.2h0M321.2 214.4h0M325.7 162.9h0M310.2 122.4h0M310.4 196.5h0M313.2 133.0h0M327.4 117.1h0M304.8 167.9h0M307.4 109.8h0M348.3 164.9h0M315.2 184.6h0M327.4 194.3h0M326.5 183.5h0M295.4 169.2h0M322.4 166.2h0M309.4 216.4h0M307.2 183.2h0M316.3 151.9h0M317.5 195.6h0M315.8 162.9h0M317.7 120.5h0M317.1 129.9h0M308.5 110.3h0M324.2 132.5h0M344.8 160.9h0M334.4 121.2h0M332.2 200.6h0M351.9 166.4h0M347.3 183.9h0M353.4 151.0h0M332.9 178.1h0M325.2 204.2h0M328.1 184.5h0M334.6 206.4h0M349.4 171.0h0M314.0 131.7h0M354.8 167.6h0M340.8 177.9h0M346.2 145.9h0M343.3 150.0h0M303.6 151.6h0M326.6 185.4h0M354.6 149.7h0M330.3 179.8h0M306.3 198.0h0M328.0 143.7h0M334.6 183.1h0M331.1 123.2h0M342.8 164.9h0M321.6 230.7h0M324.1 164.8h0M336.5 204.1h0M326.6 157.0h0M310.6 128.1h0M321.8 229.2h0M317.3 127.3h0M331.0 183.3h0M344.6 151.1h0M340.3 191.8h0M310.8 133.1h0M347.3 144.4h0M306.9 210.3h0M318.8 143.5h0M308.8 188.9h0M330.0 117.0h0M348.5 150.3h0M331.4 146.4h0M305.3 171.5h0M335.8 145.8h0M308.7 148.4h0M297.1 173.7h0M314.5 184.5h0M325.4 191.0h0M317.6 143.0h0M346.3 166.0h0M324.7 153.0h0M349.9 144.6h0M314.7 154.9h0M341.2 165.4h0M350.4 149.5h0M320.1 228.3h0M321.1 159.1h0M304.8 164.6h0M307.0 191.2h0M340.9 172.8h0M325.8 188.6h0M339.6 188.4h0M326.1 210.6h0M348.7 175.1h0M297.0 172.1h0M317.3 193.2h0M302.8 118.9h0M317.6 188.8h0M330.2 170.2h0M347.6 182.2h0M359.3 168.5h0M315.4 124.1h0M348.7 181.4h0M312.6 187.1h0M307.5 206.8h0M317.3 173.7h0M306.2 170.2h0M343.2 148.0h0M323.1 204.1h0M309.2 188.2h0M298.8 179.2h0M319.8 146.7h0M346.1 162.7h0M357.8 163.4h0M340.1 198.5h0M312.7 141.9h0M326.8 187.6h0M321.0 148.1h0M330.5 117.3h0M328.0 175.3h0M352.0 165.1h0M311.0 200.7h0M328.7 160.4h0M346.5 159.7h0M316.1 171.2h0M309.9 133.5h0M331.4 186.0h0M298.4 171.1h0M323.3 212.4h0M327.9 222.7h0M297.1 169.1h0M311.8 119.1h0M322.7 167.2h0M327.5 221.0h0M324.8 128.8h0M328.1 215.5h0M358.6 161.3h0M344.3 156.0h0M359.2 162.1h0M325.9 187.1h0M341.1 162.1h0M329.1 154.0h0M321.6 227.0h0M305.1 135.9h0M340.8 156.1h0M329.0 144.5h0M364.1 148.7h0M356.2 169.3h0M313.7 143.9h0M364.5 147.9h0M336.4 203.8h0M299.1 160.7h0M313.5 163.5h0M304.3 201.0h0M347.5 167.9h0M317.5 150.5h0M349.5 186.4h0M336.9 200.9h0M307.4 196.0h0M315.3 224.7h0M308.8 161.5h0M335.8 171.4h0M337.5 151.8h0M304.8 151.7h0M317.8 134.4h0M360.6 146.2h0M327.3 188.2h0M343.1 147.2h0M345.7 156.7h0M316.0 119.3h0M305.6 199.4h0M322.2 193.8h0M343.3 194.2h0M350.3 161.5h0M343.4 192.8h0M314.4 163.3h0M321.5 212.9h0M310.9 122.8h0M345.4 167.7h0M318.1 210.9h0M322.2 213.1h0M317.7 177.4h0M328.4 209.9h0M343.3 184.1h0M303.2 212.2h0M312.7 216.7h0M335.0 203.7h0M322.3 130.4h0M331.9 144.8h0M329.3 121.5h0M321.3 128.4h0M343.5 179.0h0M299.6 195.6h0M311.2 155.9h0M302.2 182.3h0M315.8 207.9h0M326.1 217.6h0M327.6 119.1h0M343.5 157.8h0M324.0 220.5h0M320.9 235.9h0M331.1 203.6h0M337.3 189.4h0M343.5 143.1h0M340.5 177.6h0M309.3 182.5h0M357.6 163.9h0M348.7 167.0h0M309.6 214.3h0M331.7 137.1h0M307.9 209.4h0M330.6 127.8h0M353.4 148.9h0M302.7 171.0h0M298.8 160.9h0M330.6 190.3h0M325.3 208.5h0M305.9 174.5h0M330.7 163.6h0M324.8 178.5h0M312.0 164.1h0M319.8 216.1h0M334.9 162.3h0M313.8 178.9h0M306.1 139.8h0M312.4 145.0h0M312.9 136.1h0M308.4 213.0h0M301.8 180.8h0M310.5 141.5h0M346.6 143.1h0M341.7 173.9h0M317.9 172.2h0M300.8 186.7h0M314.8 121.1h0M330.4 117.6h0M346.7 146.3h0M348.0 153.2h0M322.5 233.5h0M350.0 152.4h0M318.3 188.9h0M321.1 186.8h0M311.3 176.7h0M329.0 204.6h0M342.9 181.6h0M326.3 120.2h0M322.8 189.2h0M309.4 152.8h0M303.9 184.8h0M308.6 174.0h0M350.2 171.4h0M311.6 176.0h0M305.4 164.5h0M346.8 150.6h0M325.4 114.9h0M348.5 173.9h0M325.8 189.7h0M302.9 136.5h0M344.2 150.5h0M349.5 164.9h0M324.0 203.2h0M344.0 178.6h0M328.3 126.5h0M304.7 176.2h0M362.9 159.7h0M315.5 201.2h0M313.1 129.4h0M351.9 156.9h0M339.4 200.8h0M311.7 176.0h0M301.2 172.9h0M331.9 125.7h0M317.9 214.9h0M346.8 170.6h0M301.5 205.8h0M318.6 135.7h0M325.1 223.0h0M335.6 149.8h0M317.7 227.4h0M352.4 148.7h0M326.5 115.6h0M306.3 119.4h0M310.3 131.1h0M322.9 185.7h0M322.6 188.4h0M325.6 211.6h0M303.0 134.5h0M316.8 189.6h0M332.3 133.3h0M336.8 196.7h0M311.7 207.9h0M325.6 146.6h0M326.0 168.9h0M339.7 195.0h0M347.8 170.8h0M315.1 137.4h0M313.8 150.5h0M331.1 146.3h0M305.5 129.7h0M345.4 169.4h0M321.2 123.0h0M324.9 161.2h0M332.0 136.3h0M308.0 173.4h0M317.8 121.0h0M320.4 152.1h0M339.5 142.7h0M333.7 149.6h0M320.1 185.9h0M325.3 188.3h0M324.8 204.7h0M306.5 115.1h0M346.7 180.2h0M318.8 138.8h0M315.2 176.1h0M324.3 231.6h0M318.4 227.3h0M316.9 135.6h0M300.6 201.6h0M330.7 175.7h0M303.4 109.5h0M329.4 203.9h0M317.6 170.6h0M304.9 180.5h0M333.2 133.8h0M303.9 210.3h0M335.7 156.6h0M333.5 151.2h0M354.9 172.7h0M318.2 193.3h0M345.8 177.1h0M329.8 209.7h0M304.4 116.4h0M323.5 145.0h0M312.4 203.4h0M337.9 170.2h0M356.8 153.6h0M304.2 122.0h0M321.8 189.6h0M329.6 179.2h0M326.5 190.6h0M319.3 173.9h0M359.0 151.9h0M352.0 179.2h0M328.7 134.7h0M301.1 119.8h0M307.2 145.7h0M341.5 184.0h0M321.4 117.1h0M342.8 176.6h0M335.1 142.9h0M306.4 217.9h0M347.9 181.8h0M329.6 119.6h0M310.9 126.8h0M317.2 226.9h0M323.1 223.0h0M303.4 206.0h0M326.1 212.5h0M346.0 187.0h0M329.4 145.2h0M324.9 183.9h0M299.9 182.7h0M318.6 176.0h0M343.9 184.5h0M324.1 140.2h0M338.2 186.1h0M308.3 184.7h0M342.3 147.5h0M316.8 229.4h0M301.1 209.3h0M326.6 116.4h0M350.5 176.0h0M326.6 186.6h0M353.5 154.1h0M317.1 169.7h0M327.3 230.1h0M338.9 148.7h0M332.9 160.4h0M296.6 179.4h0M323.8 162.4h0M315.5 115.6h0M327.0 140.2h0M319.3 122.5h0M334.0 140.9h0M309.7 197.5h0M329.4 181.8h0M310.0 188.7h0M355.0 158.3h0M348.7 163.0h0M306.0 117.5h0M326.5 186.5h0M350.8 153.1h0M358.1 153.5h0M327.6 145.7h0M321.4 170.4h0M314.2 186.8h0M342.5 166.8h0M316.5 145.1h0M310.2 116.6h0M353.7 155.2h0M331.2 211.3h0M315.5 132.3h0M338.7 191.6h0M345.2 180.6h0M318.4 214.0h0M305.7 188.0h0M334.4 154.4h0M342.6 161.8h0M349.9 184.4h0M315.5 122.8h0M296.3 178.1h0M309.8 166.6h0M310.5 198.8h0M298.0 173.7h0M340.8 175.7h0M303.7 158.7h0M334.2 146.5h0M307.1 215.9h0M318.2 165.7h0M311.9 209.6h0M327.5 226.4h0M319.8 138.9h0M312.0 131.8h0M340.5 170.4h0M334.4 200.6h0M317.6 177.7h0M305.6 153.9h0M308.7 195.1h0M327.5 222.9h0M323.1 192.0h0M348.5 157.8h0M334.4 208.6h0M326.8 123.2h0M345.4 170.1h0M322.9 125.5h0M329.2 220.5h0M297.9 170.8h0M330.0 138.3h0M310.0 176.9h0M313.9 190.8h0M301.1 193.0h0M328.1 138.1h0M321.6 154.2h0M348.8 169.6h0M320.4 148.5h0M350.2 150.9h0M316.7 228.3h0M307.0 121.4h0M324.1 134.5h0M312.0 132.7h0M315.8 193.5h0M306.8 210.8h0M309.0 129.2h0M316.5 121.9h0M322.2 157.0h0M314.3 207.6h0M315.6 114.6h0M325.0 175.5h0M316.4 162.4h0M298.9 168.1h0M335.6 196.4h0M312.2 145.4h0M303.6 153.1h0M324.1 116.9h0M308.4 176.0h0M300.7 162.8h0M319.7 194.5h0M350.1 144.6h0M333.0 206.6h0M353.3 158.3h0M330.5 152.7h0M316.3 152.0h0M337.7 187.4h0M321.9 170.8h0M340.2 144.2h0M329.9 201.7h0M329.8 151.4h0M334.8 182.2h0M328.0 169.6h0M309.0 171.1h0M333.3 143.0h0M336.5 149.9h0M325.6 199.4h0M322.8 187.5h0M321.9 175.5h0M311.9 145.3h0M329.6 194.8h0M337.7 187.0h0M328.6 224.6h0M316.4 144.1h0M352.6 175.7h0M299.5 199.7h0M307.9 207.3h0M362.5 146.3h0M309.0 182.7h0M324.3 210.0h0M304.5 188.2h0M317.5 134.7h0M308.0 178.0h0M354.5 165.4h0M349.3 157.1h0M330.7 110.6h0M301.1 199.2h0M304.5 121.4h0M330.4 184.4h0M308.5 143.4h0M343.4 150.2h0M327.4 219.2h0M332.1 195.2h0M327.6 109.8h0M334.7 177.2h0M306.9 123.0h0M347.5 146.5h0M326.3 179.6h0M313.4 173.7h0M306.4 142.4h0M304.2 165.7h0M333.9 161.9h0M332.7 132.3h0M301.8 140.9h0M347.3 172.8h0M328.3 176.7h0M322.0 120.4h0M328.2 204.0h0M304.5 190.0h0M349.8 167.6h0M325.8 151.9h0M352.1 177.3h0M329.0 148.9h0M321.3 220.4h0M360.7 158.0h0M311.8 111.1h0M341.5 167.0h0M304.6 125.6h0M348.7 165.8h0M320.6 133.5h0M316.0 115.6h0M332.8 213.9h0M347.4 151.4h0M321.1 203.3h0M310.6 136.5h0M337.7 197.8h0M353.5 150.8h0M324.5 133.5h0M333.4 191.3h0M343.4 182.7h0M343.8 160.2h0M336.1 200.9h0M302.4 208.3h0M329.2 166.3h0M306.8 203.9h0M333.7 170.0h0M339.8 198.4h0M351.9 154.2h0M332.1 161.1h0M335.0 145.1h0M322.5 195.8h0M321.7 115.9h0M325.2 190.8h0M321.5 171.2h0M339.6 202.9h0M304.6 204.2h0M330.4 167.8h0M319.8 140.0h0M330.2 197.6h0M316.5 157.1h0M335.9 185.5h0M339.9 173.3h0M309.2 165.5h0M323.9 134.5h0M311.7 130.8h0M332.5 139.3h0M302.1 182.7h0M314.0 148.3h0M320.6 223.1h0M326.2 153.7h0M312.5 182.2h0M337.0 153.4h0M321.7 227.6h0M352.8 144.3h0M347.6 176.2h0M339.0 195.4h0M357.1 158.6h0M318.8 208.3h0M314.5 126.3h0M305.8 163.8h0M315.4 198.6h0M338.2 169.7h0M345.7 154.7h0M336.3 143.1h0M347.3 180.7h0M350.5 158.7h0M319.6 224.0h0M338.7 196.8h0M340.5 183.9h0M345.6 149.3h0M318.3 231.1h0M310.7 186.7h0M334.6 136.9h0M326.1 223.8h0M310.2 215.8h0M322.6 161.3h0M312.6 207.4h0M312.5 191.9h0M348.3 159.9h0M351.3 181.5h0M324.1 114.9h0M326.7 144.7h0M335.2 192.9h0M341.6 201.2h0M332.1 139.9h0M318.5 162.6h0M317.4 191.4h0M311.4 157.9h0M318.9 136.0h0M327.1 153.1h0M301.0 186.7h0M304.6 165.1h0M328.8 137.2h0M328.3 132.9h0M309.8 110.5h0M344.0 176.2h0M321.8 132.7h0M301.4 200.4h0M355.8 168.2h0M298.2 167.6h0M325.8 230.2h0M338.4 165.4h0M317.7 140.9h0M337.1 181.9h0M316.3 197.4h0M318.5 172.9h0M339.3 177.9h0M338.9 169.3h0M328.2 112.8h0M333.9 167.1h0M317.5 225.3h0M348.8 169.0h0M355.6 149.1h0M304.3 174.4h0M347.9 159.2h0M350.3 164.9h0M309.2 202.5h0M335.6 147.9h0M335.2 179.3h0M308.4 122.7h0M326.7 178.5h0M344.3 148.1h0M314.1 130.4h0M305.2 197.5h0M318.5 216.5h0M344.0 150.1h0M304.9 184.9h0M352.3 156.4h0M314.8 149.2h0M320.7 165.3h0M333.1 112.6h0M331.9 185.0h0M323.8 201.6h0M327.9 150.6h0M342.1 175.3h0M303.8 206.5h0M317.0 195.1h0M311.7 124.1h0M301.4 207.5h0M321.3 151.6h0M313.1 194.9h0M320.5 215.3h0M318.6 207.1h0M310.8 118.6h0M328.5 218.9h0M357.1 146.9h0M334.1 208.2h0M319.1 210.6h0M318.0 124.6h0M329.8 131.4h0M319.6 194.7h0M340.2 179.0h0M321.0 160.6h0M325.4 143.8h0M318.1 234.5h0M353.2 169.0h0M315.0 190.5h0M325.0 128.9h0M310.4 206.5h0M322.0 232.5h0M309.1 159.4h0M323.1 145.4h0M326.6 229.2h0M324.3 150.8h0M345.8 179.5h0M318.0 228.5h0M326.5 118.6h0M322.2 141.0h0M336.6 198.6h0M302.9 192.3h0M320.1 182.9h0M312.6 147.0h0M311.0 210.0h0M321.7 225.4h0M329.3 123.3h0M315.9 130.7h0M344.7 150.4h0M328.6 196.0h0M325.6 189.8h0M311.4 126.9h0M348.5 149.9h0M322.4 143.3h0M338.1 169.0h0M312.5 193.0h0M301.7 167.8h0M305.3 144.2h0M337.2 165.5h0M326.1 175.7h0M331.5 198.6h0M301.3 113.6h0M325.9 229.0h0M322.8 173.5h0M306.1 150.8h0M311.1 204.0h0M354.3 149.9h0M324.2 190.3h0M322.3 123.3h0M338.5 160.0h0M323.4 171.3h0M308.2 133.7h0M313.9 177.7h0M305.9 211.9h0M310.0 182.2h0M308.5 200.8h0M309.9 225.0h0M320.9 195.1h0M329.4 165.1h0M327.5 161.9h0M307.4 157.4h0M301.2 200.7h0M339.6 191.1h0M339.3 142.9h0M312.4 150.9h0M322.1 117.3h0M324.1 186.7h0M319.3 221.2h0M313.5 195.4h0M337.2 162.2h0M299.3 195.3h0M309.6 132.5h0M306.0 190.4h0M326.8 137.7h0M328.4 117.8h0M362.1 148.0h0M307.6 149.0h0M309.4 116.3h0M306.5 202.2h0M313.4 228.9h0M319.1 139.5h0M331.2 116.8h0M311.8 114.8h0M311.4 215.5h0M325.2 143.1h0M318.0 162.7h0M301.5 183.5h0M334.7 140.1h0M303.6 177.0h0M301.6 167.7h0M328.5 214.0h0M311.3 159.5h0M349.4 166.7h0M309.6 219.4h0M330.8 203.9h0M332.7 200.8h0M310.4 177.6h0M306.2 186.7h0M312.8 202.1h0M301.1 188.1h0M325.8 187.4h0M323.4 220.4h0M308.5 213.9h0M311.8 166.9h0M322.8 128.5h0M302.6 174.1h0M319.5 158.5h0M358.7 144.3h0M304.7 191.5h0M352.8 150.8h0M342.2 174.0h0M323.5 133.6h0M301.3 175.7h0M328.5 115.9h0M354.8 158.7h0M340.8 145.0h0M315.9 157.9h0M337.5 161.0h0M313.8 210.0h0M318.6 221.9h0M314.6 216.5h0M326.9 201.1h0M356.7 160.4h0M342.5 178.2h0M330.5 127.2h0M335.8 183.7h0M323.1 191.4h0M347.4 158.1h0M360.6 145.5h0M300.2 162.7h0M320.0 117.0h0M333.7 202.8h0M324.7 190.5h0M341.9 181.6h0M337.6 198.2h0M322.5 114.2h0M312.8 182.6h0M302.1 165.5h0M329.5 166.6h0M312.1 131.8h0M308.0 162.3h0M316.9 185.9h0M324.5 198.3h0M358.7 167.4h0M314.7 132.2h0M336.3 197.6h0M320.2 212.5h0M302.3 166.8h0M316.8 224.8h0M348.7 183.9h0M327.5 126.3h0M310.3 179.8h0M351.9 149.1h0M318.6 202.5h0M323.4 200.7h0M328.7 130.6h0M319.9 155.0h0M324.2 181.3h0M307.2 192.1h0M315.5 153.1h0M327.1 126.4h0M331.7 164.2h0M324.3 184.3h0M335.5 164.2h0M312.6 133.9h0M315.5 202.7h0M353.4 179.2h0M309.0 191.8h0M325.6 148.5h0M307.1 144.4h0M318.1 139.5h0M304.0 190.5h0M312.1 177.8h0M324.8 146.7h0M336.3 167.2h0M328.1 156.2h0M335.9 166.6h0M314.6 210.6h0M326.5 212.2h0M332.6 142.1h0M314.8 191.1h0M309.7 209.6h0M324.0 124.0h0M351.7 175.2h0M317.3 229.5h0M307.3 180.9h0M349.0 173.9h0M315.1 212.2h0M306.2 113.5h0M319.0 224.0h0M330.6 196.4h0M321.7 218.4h0M323.0 132.9h0M323.5 175.4h0M337.2 163.0h0M328.1 215.5h0M347.6 159.0h0M312.6 127.2h0M331.7 127.3h0M343.7 199.6h0M312.4 193.3h0M347.3 149.1h0M324.4 149.0h0M329.7 171.7h0M304.6 172.7h0M351.9 159.2h0M304.3 209.4h0M347.8 163.9h0M324.6 122.7h0M323.7 173.2h0M356.9 167.0h0M302.7 151.1h0M315.1 196.1h0M346.1 142.3h0M314.4 155.3h0M325.1 198.5h0M319.5 189.9h0M320.7 132.1h0M328.1 117.2h0M311.4 155.0h0M320.3 114.3h0M323.2 178.4h0M333.0 167.2h0M329.8 211.4h0M316.1 203.2h0M349.1 156.0h0M311.1 197.0h0M305.5 124.0h0M331.5 156.1h0M306.6 169.4h0M338.4 190.9h0M327.8 159.4h0M302.4 191.9h0M304.2 115.2h0M318.2 193.7h0M312.7 197.0h0M337.8 186.7h0M301.2 200.4h0M349.5 178.1h0M347.7 144.2h0M329.7 167.2h0M325.9 176.6h0M323.4 152.6h0M331.4 137.1h0M318.1 218.8h0M349.2 166.9h0M350.3 171.6h0M327.0 111.1h0M357.1 160.7h0M334.6 205.7h0M305.1 203.1h0M330.0 113.3h0M344.9 183.1h0M334.7 196.8h0M320.2 190.8h0M320.3 123.5h0M320.1 184.6h0M343.5 174.5h0M339.2 192.0h0M333.7 123.7h0M339.5 178.1h0M317.3 181.1h0M329.9 120.8h0M318.0 176.7h0M352.3 150.8h0M322.8 160.2h0M327.6 200.5h0M349.6 149.7h0M315.4 111.5h0M322.4 203.5h0M312.8 163.3h0M305.8 157.6h0M314.7 174.8h0M316.0 134.6h0M303.1 151.3h0M314.5 215.8h0M305.6 181.6h0M326.8 129.8h0M329.1 116.3h0M337.5 166.9h0M311.3 201.5h0M360.2 147.6h0M307.3 127.1h0M325.0 145.2h0M326.5 129.8h0M351.4 152.1h0M332.9 137.7h0M313.7 159.1h0M351.9 146.0h0M305.5 217.8h0M358.5 164.1h0M304.9 154.6h0M312.5 182.8h0M343.0 174.6h0M346.2 153.5h0M316.0 231.3h0M305.8 172.7h0M312.2 190.6h0M315.5 163.6h0M336.7 187.8h0M317.5 227.2h0M315.4 148.6h0M340.0 143.8h0M334.4 141.4h0M325.5 196.4h0M350.2 174.8h0M330.0 166.5h0M305.8 174.3h0M346.7 158.8h0M327.5 163.1h0M305.9 114.9h0M337.6 174.9h0M320.8 135.4h0M316.4 185.6h0M335.6 198.4h0M316.8 133.3h0M332.2 201.2h0M332.3 176.6h0M324.4 177.0h0M327.0 141.0h0M314.6 115.9h0M345.4 160.6h0M315.3 227.4h0M319.6 197.3h0M328.4 202.2h0M309.4 174.6h0M344.8 166.2h0M328.6 174.6h0M334.5 137.2h0M331.8 134.9h0M318.5 130.5h0M298.8 158.6h0M314.3 149.6h0M309.8 147.7h0M324.5 165.9h0M313.2 117.7h0M337.7 150.9h0M310.6 191.0h0M308.3 172.0h0M327.3 150.0h0M305.3 159.3h0M353.5 154.4h0M333.7 148.2h0M337.1 175.3h0M315.4 120.2h0M312.2 205.8h0M305.0 202.1h0M353.6 166.8h0M327.1 141.7h0M352.8 176.2h0M320.2 116.4h0M315.2 118.4h0M311.4 183.9h0M353.9 150.9h0M317.5 122.1h0M312.3 179.8h0M303.0 192.8h0M325.2 116.8h0M322.6 207.3h0M309.4 137.5h0M307.7 213.1h0M319.6 135.3h0M310.7 217.5h0M324.6 129.5h0M338.1 163.7h0M351.4 167.7h0M339.4 190.4h0M320.4 166.5h0M331.3 160.7h0M303.7 208.6h0M334.8 199.7h0M320.7 211.3h0M307.4 126.9h0M316.4 114.9h0M349.3 179.3h0M336.5 196.0h0M311.7 117.0h0M356.2 146.8h0M322.6 176.6h0M362.1 146.3h0M344.9 182.1h0M315.3 199.8h0M322.7 210.0h0M322.8 154.0h0M357.0 162.3h0M309.2 114.0h0M327.4 182.1h0M304.0 140.9h0M310.2 125.7h0M336.8 152.9h0M331.5 198.9h0M306.6 212.9h0M307.6 119.9h0M322.2 219.1h0M313.2 124.3h0M321.8 205.7h0M329.5 183.0h0M327.2 148.3h0M341.5 150.2h0M322.1 136.7h0M301.8 142.7h0M305.6 119.9h0M303.9 123.0h0M327.2 179.2h0M307.2 188.1h0M339.4 177.8h0M339.6 165.6h0M360.1 156.9h0M333.4 188.3h0M336.4 150.8h0M313.6 201.1h0M326.5 141.3h0M313.7 223.4h0M314.2 206.8h0M310.8 153.9h0M330.1 167.8h0M344.1 155.1h0M320.1 122.8h0M334.3 150.1h0M352.5 164.9h0M342.2 153.4h0M321.2 225.4h0M333.9 121.2h0M305.4 191.7h0M323.1 138.4h0M316.4 156.8h0M317.6 198.6h0M316.0 127.1h0M300.7 172.7h0M361.7 149.3h0M327.4 170.3h0M327.0 131.2h0M325.4 127.5h0M329.7 206.8h0M326.1 128.0h0M340.3 173.9h0M308.0 132.7h0M333.1 137.6h0M318.2 153.4h0M350.2 159.6h0M307.7 140.0h0M306.2 193.7h0M316.3 195.8h0M332.5 135.3h0M336.3 167.8h0M313.2 113.0h0M335.1 166.2h0M319.2 227.0h0M325.5 230.2h0M298.6 171.7h0M347.6 174.0h0M331.8 192.5h0M329.2 206.5h0M312.1 219.4h0M321.9 205.6h0M336.3 183.6h0M351.6 153.7h0M310.9 140.9h0M347.5 168.5h0M314.2 135.9h0M335.9 153.5h0M301.3 153.9h0M355.3 150.6h0M313.6 222.1h0M338.8 175.7h0M352.0 178.8h0M314.6 165.4h0M310.3 218.9h0M348.0 178.0h0M329.7 167.6h0M308.9 125.3h0M327.6 139.9h0M311.8 142.3h0M319.5 177.6h0M315.8 220.7h0M337.0 173.3h0M359.4 146.9h0M314.3 127.6h0M313.7 115.8h0M337.5 154.0h0M301.6 199.3h0M319.3 182.3h0M330.1 149.0h0M308.9 138.3h0M308.1 215.9h0M333.7 126.3h0M310.7 216.0h0M306.1 179.2h0M315.9 142.1h0M312.7 174.0h0M329.8 154.3h0M323.9 201.6h0M306.5 132.8h0M338.1 162.9h0M328.2 218.3h0M347.2 179.8h0M331.4 159.8h0M342.3 177.1h0M332.2 202.5h0M361.5 161.2h0M337.5 161.9h0M307.9 206.1h0M341.1 190.8h0M333.3 150.9h0M333.8 167.2h0M325.2 208.9h0M312.7 152.4h0M322.0 118.7h0M320.1 186.4h0M299.2 185.6h0M343.5 187.9h0M327.2 196.2h0M323.2 196.9h0M320.4 158.0h0M345.0 145.5h0M301.1 149.9h0M316.3 126.7h0M337.2 165.0h0M331.0 219.9h0M327.4 200.7h0M348.8 162.4h0M336.7 151.7h0M310.1 188.8h0M327.9 219.2h0M320.9 180.2h0M313.3 227.5h0M315.9 206.3h0M337.1 179.9h0M326.2 206.1h0M326.9 112.4h0M323.3 149.1h0M325.3 143.7h0M306.3 145.8h0M353.7 175.3h0M333.5 190.5h0M338.0 146.6h0M317.5 216.3h0M316.8 130.4h0M322.5 123.5h0M348.2 144.6h0M350.5 177.9h0M319.0 166.1h0M340.9 183.5h0M321.3 163.3h0M306.4 169.0h0M306.8 170.9h0M352.8 168.0h0M334.2 175.5h0M317.1 227.7h0M300.9 166.5h0M353.6 172.5h0M348.5 177.4h0M351.1 184.8h0M357.5 149.8h0M343.0 191.6h0M339.8 179.8h0M314.9 224.5h0M318.6 139.3h0M333.2 157.6h0M352.2 157.4h0M323.0 126.4h0M325.8 220.2h0M344.5 168.1h0M332.3 151.7h0M336.3 195.5h0M325.9 156.8h0M344.5 181.1h0M318.4 131.6h0M302.3 111.1h0M313.1 168.0h0M322.5 171.7h0M328.7 216.9h0M319.9 178.4h0M334.3 184.7h0M315.0 178.8h0M343.8 168.8h0M332.3 207.3h0M328.0 204.9h0M344.0 184.7h0M333.3 217.0h0M323.8 205.9h0M310.2 134.4h0M334.5 171.0h0M323.9 223.1h0M335.2 206.2h0M325.7 194.1h0M320.9 170.0h0M306.1 216.3h0M323.6 193.8h0M356.6 169.2h0M313.6 205.7h0M308.1 156.9h0M343.2 171.0h0M347.6 157.8h0M323.1 172.5h0M348.3 189.1h0M316.6 205.6h0M340.8 141.0h0M309.4 143.2h0" stroke="#c8c8c8" stroke-width="1.60" stroke-linecap="round" fill="none"/>
<path d="M325.3 215.3h0M308.3 193.0h0M340.2 173.2h0M347.5 174.9h0M346.7 174.9h0M321.9 161.5h0M316.9 193.1h0M313.6 194.5h0M322.4 215.2h0M316.2 207.8h0M320.7 198.0h0M306.7 187.6h0M340.0 195.8h0M335.9 179.2h0M337.4 157.5h0M313.2 213.5h0M336.3 174.1h0M333.4 151.5h0M332.7 198.3h0M341.9 150.3h0M318.7 198.2h0M328.2 147.6h0M334.0 176.4h0M306.6 191.5h0M328.7 161.5h0M311.3 204.3h0M352.4 149.2h0M318.9 219.6h0M331.8 218.8h0M348.0 170.4h0M318.3 213.7h0M314.1 197.8h0M313.3 212.0h0M331.6 179.6h0M323.4 177.2h0M352.6 153.5h0M340.9 159.8h0M307.6 207.5h0M312.1 178.9h0M330.3 168.5h0M331.5 156.9h0M347.9 155.8h0M321.6 210.0h0M333.3 205.6h0M319.8 198.8h0M313.2 202.0h0M324.8 162.4h0M330.9 211.4h0M322.4 195.4h0M346.3 163.9h0M313.3 215.6h0M328.6 193.6h0M331.8 212.6h0M315.7 188.7h0M307.1 178.4h0M328.6 192.4h0M331.1 188.1h0M314.8 223.6h0M340.6 186.5h0M307.6 188.7h0M331.4 160.7h0M341.2 179.4h0M323.1 196.9h0M321.8 171.2h0M326.9 213.2h0M317.9 203.4h0M310.7 180.0h0M339.7 154.2h0M351.8 156.3h0M326.3 189.7h0M320.7 153.5h0M323.6 207.5h0M324.9 219.5h0M323.1 188.5h0M316.6 207.7h0M317.6 205.7h0M330.9 211.3h0M345.8 159.8h0M325.5 151.7h0M329.3 209.4h0M321.7 189.1h0M341.8 154.3h0M335.4 189.2h0M311.0 170.5h0M315.2 202.9h0M338.1 188.5h0M330.2 192.6h0M338.5 161.3h0M313.7 185.9h0M315.1 183.5h0M314.0 206.4h0M321.9 190.8h0M344.6 162.8h0M323.0 174.6h0M339.9 171.3h0M320.6 180.6h0M333.8 166.6h0M337.7 188.7h0M317.3 211.2h0M306.7 193.5h0M342.0 182.6h0M313.4 215.7h0M322.7 191.2h0M336.2 157.0h0M315.4 206.1h0M335.6 178.0h0M326.5 222.1h0M317.7 222.6h0M314.9 219.6h0M347.5 167.2h0M338.2 196.8h0M330.9 193.3h0M312.6 210.1h0M330.9 163.6h0M309.1 174.3h0M314.4 199.6h0M330.5 153.0h0M312.7 197.6h0M346.1 165.0h0M317.5 176.8h0M334.3 177.4h0M336.8 158.0h0M312.3 198.5h0M311.7 180.7h0M315.8 223.6h0M331.3 206.5h0M333.0 151.6h0M309.2 202.8h0M340.7 193.6h0M335.8 187.2h0M350.6 150.9h0M316.7 167.3h0M349.0 162.4h0M323.7 177.8h0M321.4 192.3h0M314.6 217.7h0M324.6 167.7h0M333.3 191.4h0M309.9 202.5h0M328.1 172.4h0M314.2 208.6h0M339.8 181.1h0M331.0 210.7h0M322.5 213.3h0M347.1 164.3h0M322.8 212.9h0M324.0 197.4h0M327.1 202.8h0M335.9 195.2h0M330.8 153.9h0M320.2 159.0h0M338.5 155.8h0M333.0 153.2h0M336.0 176.2h0M305.8 201.9h0M323.9 174.8h0M320.1 204.9h0M332.3 209.0h0M322.5 219.2h0M317.4 159.4h0M309.9 177.6h0M332.2 200.3h0M310.1 209.9h0M312.9 166.6h0M333.5 171.2h0M345.3 171.9h0M325.2 158.0h0M343.5 185.4h0M337.7 148.9h0M307.4 198.2h0M302.4 196.2h0M315.2 160.4h0M325.1 209.0h0M320.4 173.1h0M327.0 216.5h0M328.3 213.0h0M330.1 216.8h0M325.8 187.9h0M340.2 184.0h0M323.9 205.2h0M328.2 181.1h0M321.9 221.3h0M317.3 200.1h0M328.3 160.8h0M308.0 186.5h0M340.0 175.0h0M332.3 151.1h0M311.9 179.8h0M338.4 153.8h0M347.1 182.5h0M315.4 187.7h0M348.4 153.8h0M344.3 174.0h0M316.9 217.0h0M327.3 193.4h0M316.7 213.0h0M337.6 165.9h0M345.6 180.7h0M345.6 149.8h0M317.3 194.4h0M311.2 189.5h0M341.3 183.4h0M323.2 165.0h0M322.4 216.1h0M324.9 181.7h0M322.6 187.2h0M330.8 206.9h0M323.5 193.7h0M321.9 200.6h0M348.0 157.6h0M336.0 188.0h0M328.0 154.1h0M324.6 182.0h0M311.8 206.9h0M340.5 159.7h0M319.2 169.1h0M349.3 165.3h0M306.8 201.2h0M320.6 221.8h0M310.7 173.4h0M333.3 202.6h0M323.6 177.0h0M326.2 163.6h0M304.7 189.8h0M307.1 204.7h0M338.8 181.3h0M330.3 200.1h0M304.2 204.4h0M315.4 163.5h0M332.1 188.3h0M325.6 216.4h0M323.2 179.7h0M333.6 153.5h0M347.5 159.3h0M324.2 168.8h0M307.3 189.5h0M332.0 207.1h0M335.6 161.0h0M337.6 192.9h0M316.7 187.9h0M328.0 162.7h0M329.8 186.0h0M317.4 216.6h0M342.7 166.1h0M326.7 166.2h0M316.2 160.7h0M320.1 183.7h0M327.5 155.2h0M339.5 159.3h0M326.9 191.8h0M314.1 166.8h0M320.9 206.2h0M325.6 169.2h0M333.9 157.2h0M301.7 191.6h0M324.7 172.3h0M322.1 210.4h0M338.4 179.3h0M319.1 171.6h0M320.3 193.1h0M315.7 183.6h0M325.8 195.9h0M336.2 174.7h0M338.8 160.0h0M337.5 182.5h0M322.7 177.7h0M332.5 197.7h0M325.6 189.9h0M338.2 149.9h0M325.9 186.2h0M326.2 182.8h0M316.2 208.2h0M330.8 162.7h0M315.8 198.7h0M320.3 174.7h0M331.6 171.4h0M317.9 223.1h0M343.8 155.4h0M341.2 155.7h0M316.0 162.2h0M343.1 173.3h0M322.5 214.2h0M335.8 177.4h0M331.8 193.5h0M312.5 219.6h0M323.1 208.3h0M334.9 158.5h0M343.6 161.9h0M313.1 202.3h0M312.7 174.0h0M334.6 158.1h0M310.4 178.7h0M327.8 162.4h0M326.7 183.7h0M341.8 185.2h0M323.5 207.4h0M324.8 182.1h0M310.4 184.8h0M307.5 172.5h0M316.3 171.5h0M332.3 162.3h0M335.3 176.6h0M322.5 161.7h0M330.6 180.6h0M318.3 159.3h0M344.5 171.0h0M340.7 187.1h0M326.2 218.2h0M307.2 184.2h0M316.7 215.8h0M323.4 211.6h0M310.7 184.7h0M315.5 215.0h0M331.1 190.9h0M332.6 159.7h0M323.0 209.1h0M330.6 209.8h0M322.9 192.0h0M323.3 206.7h0M318.8 211.5h0M313.9 174.8h0M311.2 188.4h0M308.8 196.4h0M322.9 164.6h0M337.8 163.4h0M336.6 184.7h0M317.2 162.7h0M328.1 174.2h0M333.0 158.2h0M321.9 192.2h0M321.3 156.0h0M318.1 158.0h0M315.7 177.3h0M317.5 205.0h0M339.5 162.7h0M326.7 157.9h0M328.7 208.6h0M322.0 173.0h0M317.4 221.9h0M317.2 186.4h0M336.1 169.7h0M311.8 180.9h0M321.9 179.2h0M337.8 180.9h0M326.4 195.2h0M327.0 178.4h0M323.5 219.8h0M338.0 186.8h0M318.5 161.7h0M347.0 181.5h0M327.0 186.5h0M330.0 152.9h0M326.6 205.3h0M345.0 169.6h0M354.4 158.0h0M331.6 166.5h0M346.8 171.5h0M339.9 181.4h0M340.3 149.9h0M336.5 153.4h0M323.5 181.9h0M331.5 158.2h0M321.3 158.2h0M343.6 159.7h0M321.1 202.8h0M326.3 162.9h0M331.9 195.5h0M325.6 211.7h0M313.2 203.2h0M342.4 181.9h0M319.5 208.6h0M332.4 196.7h0M349.1 157.4h0M329.5 211.8h0M346.3 167.2h0M328.6 182.9h0M308.0 201.5h0M339.9 170.2h0M324.6 210.5h0M308.3 214.1h0M341.7 156.7h0M319.8 218.8h0M319.5 209.4h0M347.1 150.2h0M312.1 170.8h0M345.5 163.4h0M329.3 154.8h0M313.8 176.7h0M314.8 179.7h0M341.1 151.9h0M308.6 212.8h0M315.4 219.4h0M323.8 210.2h0M318.0 178.8h0M348.5 162.5h0M333.6 164.3h0M323.3 199.4h0M306.6 182.5h0M338.7 153.7h0M306.1 184.2h0M332.7 184.4h0M321.3 218.6h0M326.5 190.7h0M330.6 166.7h0M339.1 191.8h0M317.9 162.8h0M320.9 218.6h0M325.0 155.2h0M317.5 153.2h0M335.9 190.9h0M337.7 193.0h0M315.0 186.5h0M338.8 174.1h0M328.9 169.8h0M332.5 163.8h0M336.4 182.0h0M308.9 193.4h0M328.7 188.1h0M330.3 191.6h0M321.0 194.2h0M339.4 163.6h0M338.5 157.2h0M318.8 198.3h0M309.0 190.8h0M311.8 163.0h0M318.5 161.2h0M319.7 212.1h0M337.2 188.3h0M344.0 170.7h0M323.8 208.5h0M326.6 190.4h0M329.4 151.7h0M336.0 159.3h0M329.2 178.7h0M310.9 198.6h0M312.3 191.8h0M323.7 191.8h0M330.5 183.9h0M311.2 209.2h0M337.1 174.5h0M314.1 208.7h0M330.1 214.1h0M319.0 207.1h0M326.3 167.1h0M307.4 188.4h0M332.0 175.8h0M340.0 159.9h0M322.2 156.0h0M338.9 182.9h0M312.5 197.8h0M334.8 179.5h0M314.1 224.0h0M325.0 164.8h0M335.5 189.5h0M333.1 181.6h0M330.4 167.4h0M345.4 151.4h0M302.2 181.5h0M323.5 186.6h0M317.4 176.8h0M330.4 208.8h0M349.5 171.2h0M346.5 162.8h0M340.4 177.6h0M328.3 179.1h0M332.4 177.3h0M331.8 195.0h0M325.4 172.7h0M318.2 208.8h0M316.3 173.0h0M332.0 156.9h0M336.7 179.9h0M348.5 174.5h0M315.9 181.8h0M327.8 162.1h0M307.5 172.7h0M320.5 177.3h0M318.2 215.3h0M316.5 194.0h0M317.6 219.2h0M339.6 188.8h0M312.8 209.3h0M331.1 147.1h0M314.1 177.3h0M325.6 196.5h0M343.8 166.9h0M341.7 167.4h0M315.7 197.0h0M346.3 182.7h0M344.2 156.4h0M308.9 205.1h0M330.6 214.9h0M319.4 182.2h0M346.4 175.0h0M327.8 169.5h0M323.1 154.0h0M320.7 161.6h0M326.5 156.3h0M326.2 170.7h0M344.1 161.2h0" stroke="#c9c9c9" stroke-width="1.60" stroke-linecap="round" fill="none"/>
<path d="M307.0 101.7h0M358.9 93.3h0M362.9 62.9h0M352.7 102.2h0M352.1 79.9h0M353.4 104.2h0M332.6 99.7h0M346.2 103.5h0M303.3 110.6h0M396.4 68.5h0M349.8 101.7h0M331.2 113.6h0M329.8 66.8h0M338.8 68.9h0M319.2 116.8h0M349.4 99.3h0M330.2 74.4h0M300.7 70.6h0M336.8 84.2h0M373.5 63.2h0M393.7 63.3h0M386.6 75.2h0M321.9 82.7h0M354.5 98.0h0M338.0 80.7h0M369.2 98.0h0M389.6 60.9h0M395.8 80.7h0M391.3 73.7h0M327.5 74.9h0M372.4 80.4h0M349.4 92.6h0M310.4 85.8h0M372.7 63.7h0M367.7 89.2h0M320.2 102.1h0M388.6 70.6h0M326.0 101.1h0M334.4 82.5h0M335.6 93.6h0M308.3 121.3h0M370.4 72.7h0M316.6 90.0h0M308.1 104.0h0M363.1 96.7h0M395.8 74.1h0M353.7 68.0h0M318.9 78.3h0M329.9 110.9h0M327.6 75.6h0M364.9 68.1h0M329.2 101.8h0M332.2 98.0h0M303.2 93.4h0M332.2 77.0h0M312.0 81.1h0M310.0 111.4h0M342.9 92.9h0M368.6 71.3h0M384.9 66.8h0M391.9 76.3h0M319.9 84.3h0M357.9 80.5h0M323.3 109.1h0M318.4 77.6h0M304.5 85.3h0M345.1 93.3h0M349.0 67.4h0M307.2 102.0h0M325.8 97.2h0M377.7 86.3h0M385.0 79.7h0M315.5 107.3h0M319.0 102.3h0M309.2 89.5h0M343.2 106.7h0M338.8 87.1h0M342.7 70.8h0M372.2 72.8h0M314.1 86.3h0M333.3 78.4h0M326.3 110.8h0M311.0 102.2h0M390.5 83.0h0M321.8 68.8h0M381.0 70.0h0M341.4 72.1h0M396.0 72.9h0M301.9 81.8h0M334.9 86.4h0M330.0 108.0h0M345.2 73.0h0M359.4 96.6h0M362.4 78.2h0M326.0 88.4h0M338.4 99.3h0M386.0 69.1h0M364.4 100.5h0M339.9 79.3h0M319.1 76.8h0M364.3 102.2h0M347.4 63.7h0M307.8 114.4h0M337.7 98.5h0M352.6 79.6h0M357.0 93.5h0M307.9 118.5h0M364.5 84.4h0M353.7 93.8h0M372.7 77.2h0M383.1 67.0h0M360.4 74.0h0M303.2 88.1h0M348.3 85.5h0M329.7 74.8h0M312.1 99.6h0M329.2 69.6h0M307.1 84.9h0M340.8 98.8h0M347.4 92.9h0M322.2 80.6h0M394.4 68.9h0M372.8 88.2h0M347.0 85.3h0M350.3 106.9h0M368.6 68.2h0M363.1 62.9h0M312.5 94.9h0M359.9 76.1h0M345.2 65.1h0M357.6 100.6h0M322.7 95.0h0M350.1 94.1h0M349.7 64.0h0M352.0 71.6h0M337.6 110.5h0M324.0 71.6h0M373.4 81.5h0M310.2 117.5h0M336.7 77.2h0M370.6 67.1h0M327.3 75.4h0M308.7 80.1h0M324.8 76.3h0M312.6 107.1h0M305.2 87.8h0M375.1 75.8h0M313.5 87.4h0M311.7 106.8h0M389.8 62.7h0M308.2 105.4h0M336.1 68.2h0M358.1 89.6h0M378.0 62.0h0M317.2 79.4h0M386.4 83.9h0M318.6 97.9h0M360.9 78.2h0M345.6 66.3h0M397.6 72.7h0M330.8 76.7h0M344.4 93.8h0M367.5 89.0h0M310.6 70.9h0M303.0 73.7h0M314.4 69.0h0M362.8 71.6h0M308.4 100.3h0M368.9 76.2h0M347.2 81.9h0M306.6 95.3h0M339.9 83.3h0M327.1 100.6h0M313.5 88.0h0M321.9 82.4h0M336.8 100.1h0M323.0 74.8h0M374.6 81.1h0M378.4 62.0h0M387.8 74.0h0M365.5 62.0h0M394.0 73.4h0M371.8 75.9h0M376.4 79.2h0M369.6 77.6h0M344.9 100.2h0M310.1 88.0h0M396.9 77.8h0M329.5 80.1h0M315.4 72.2h0M326.6 105.7h0M333.2 110.8h0M328.3 82.6h0M367.4 85.7h0M367.7 61.9h0M335.7 107.0h0M380.7 59.9h0M310.0 113.5h0M386.4 72.2h0M311.0 77.2h0M360.6 83.4h0M316.8 83.5h0M326.5 105.6h0M337.5 71.6h0M323.2 78.2h0M355.4 92.7h0M352.3 83.5h0M329.1 111.0h0M366.5 89.8h0M381.4 60.4h0M388.4 63.6h0M342.6 86.2h0M372.4 97.6h0M361.5 86.3h0M308.0 119.8h0M302.9 112.8h0M354.5 103.1h0M393.0 64.7h0M359.1 64.8h0M351.9 76.0h0M331.8 75.6h0M304.7 98.7h0M322.0 103.6h0M385.7 67.2h0M305.3 97.8h0M395.4 67.3h0M323.7 76.0h0M393.5 64.3h0M300.1 118.7h0M345.1 84.9h0M369.7 91.2h0M303.1 104.0h0M351.7 106.5h0M352.1 64.1h0M305.8 111.9h0M341.8 64.7h0M362.8 92.7h0M302.2 120.6h0M311.4 110.3h0M335.2 102.1h0M306.5 72.9h0M394.5 74.5h0M388.5 70.3h0M310.1 89.7h0M352.5 79.0h0M353.1 96.1h0M321.4 93.2h0M343.1 99.5h0M343.1 88.3h0M386.3 76.9h0M329.2 105.4h0M333.9 80.4h0M370.9 87.7h0M301.4 122.9h0M394.6 62.6h0M314.9 116.3h0M364.9 93.3h0M345.5 92.6h0M386.7 69.9h0M341.2 104.7h0M332.2 106.5h0M371.3 82.0h0M382.3 90.4h0M345.3 78.1h0M374.3 77.2h0M313.8 104.6h0M303.7 79.0h0M313.7 115.6h0M392.7 66.3h0M359.1 98.4h0M321.5 75.6h0M333.1 68.9h0M322.8 81.3h0M356.8 90.0h0M343.0 98.7h0M337.2 66.0h0M326.6 67.8h0M308.6 89.5h0M304.9 80.9h0M327.7 71.4h0M329.9 81.5h0M372.9 60.6h0M369.5 71.8h0M359.3 81.3h0M347.3 77.8h0M329.9 68.9h0M395.9 68.9h0M345.2 72.8h0M306.9 98.9h0M302.3 83.3h0M367.7 70.5h0M345.8 98.7h0M374.9 62.0h0M342.9 70.1h0M350.7 66.5h0M383.5 60.9h0M336.6 69.8h0M382.3 88.3h0M383.7 59.5h0M303.9 120.1h0M328.8 87.5h0M357.9 63.6h0M309.7 99.1h0M375.5 73.5h0M365.1 67.7h0M302.8 113.6h0M354.4 75.7h0M342.3 97.7h0M313.7 85.6h0M313.8 78.6h0M371.8 63.8h0M326.2 99.3h0M368.7 81.7h0M371.2 83.5h0M340.7 78.9h0M332.2 101.3h0M317.4 78.0h0M319.7 112.1h0M360.8 79.1h0M342.6 65.8h0M326.0 80.2h0M319.9 105.4h0M358.6 96.2h0M352.0 88.7h0M319.5 101.5h0M362.6 77.2h0M354.6 63.4h0M353.9 92.0h0M390.0 73.3h0M330.1 110.0h0M349.4 93.9h0M348.5 85.3h0M393.1 78.5h0M302.4 89.3h0M323.6 102.8h0M332.2 78.4h0M373.3 84.2h0M300.1 111.3h0M309.6 82.1h0M343.9 85.1h0M308.6 90.0h0M361.3 74.7h0M351.1 94.0h0M314.2 100.7h0M328.3 101.3h0M333.1 96.4h0M330.1 72.1h0M361.7 86.7h0M331.9 93.0h0M380.2 84.5h0M327.1 91.9h0M304.1 97.3h0M325.4 106.7h0M375.9 74.6h0M389.2 71.9h0M335.0 103.6h0M311.5 71.4h0M323.3 72.1h0M330.2 107.6h0M350.0 100.1h0M329.8 90.4h0M309.5 119.9h0M358.1 78.7h0M385.0 71.3h0M390.6 66.4h0M396.9 76.3h0M336.8 94.9h0M325.8 108.0h0M389.4 61.9h0M359.3 91.4h0M312.7 87.9h0M333.3 68.0h0M304.9 101.5h0M331.9 95.0h0M327.5 74.6h0M386.3 84.8h0M313.4 78.5h0M360.7 75.1h0M344.0 66.3h0M360.0 94.0h0M363.4 77.8h0M311.4 81.7h0M360.8 67.8h0M318.0 81.0h0M377.5 91.5h0M315.7 100.1h0M391.8 67.9h0M335.9 87.8h0M303.6 108.5h0M357.8 93.8h0M355.2 71.2h0M301.8 112.0h0M317.5 68.7h0M342.2 80.3h0M375.3 70.5h0M385.6 75.4h0M366.8 68.0h0M307.1 112.3h0M372.6 88.8h0M309.7 69.4h0M337.2 102.1h0M313.8 105.7h0M388.1 67.6h0M340.7 93.8h0M325.2 103.6h0M362.5 78.8h0M325.9 100.5h0M345.8 90.4h0M301.0 122.1h0M388.0 77.5h0M382.9 82.4h0M378.7 88.5h0M364.6 89.8h0M379.8 77.4h0M331.1 75.9h0M346.4 104.7h0M373.1 65.1h0M357.6 102.8h0M324.9 95.9h0M314.1 74.7h0M345.6 97.2h0M378.5 71.9h0M347.6 78.2h0M390.1 58.9h0M332.7 69.6h0M310.7 114.0h0M312.8 88.0h0M339.6 102.7h0M360.4 65.3h0M306.4 115.9h0M318.3 110.9h0M389.2 74.0h0M376.6 62.3h0M395.5 80.6h0M351.5 63.2h0M366.9 73.5h0M383.5 62.1h0M310.7 72.6h0M313.6 117.9h0M301.9 91.1h0M373.7 68.7h0M334.8 111.7h0M310.4 101.3h0M351.6 73.5h0M326.0 112.0h0M312.3 97.8h0M318.4 110.7h0M354.7 73.3h0M304.4 90.7h0M380.7 86.9h0M301.6 94.3h0M325.3 68.1h0M309.7 90.2h0M341.6 90.3h0M321.5 115.8h0M372.2 84.5h0M326.9 86.3h0M346.2 67.9h0M370.3 79.6h0M315.0 79.1h0M322.5 98.3h0M354.7 66.9h0M303.0 83.9h0M358.0 69.8h0M398.5 76.8h0M302.3 109.8h0M396.9 81.0h0M309.6 88.1h0M312.1 92.1h0M390.0 83.0h0M347.1 91.6h0M348.0 97.6h0M344.1 88.2h0M323.5 82.7h0M379.8 74.0h0M328.5 94.3h0M385.0 73.3h0M327.6 115.0h0M336.2 96.3h0M324.9 73.5h0M349.9 77.8h0M354.7 94.2h0M309.3 69.6h0M347.3 76.7h0M326.8 98.7h0M304.8 77.7h0M305.9 115.0h0M301.0 81.8h0M304.5 87.6h0M370.5 64.5h0M377.2 93.3h0M311.0 82.9h0M336.0 87.7h0M393.1 71.2h0M337.7 112.4h0M303.6 113.7h0M380.7 61.5h0M327.0 79.8h0M304.4 98.5h0M364.5 95.4h0" stroke="#c4c6c8" stroke-width="1.10" stroke-linecap="round" fill="none"/>
<path d="M398.7 96.0h0M385.5 104.9h0M389.1 69.3h0M400.2 105.4h0M377.1 107.7h0M382.9 144.9h0M404.7 86.2h0M398.7 116.3h0M377.0 115.1h0M390.8 122.1h0M378.0 107.8h0M387.7 78.0h0M396.9 115.2h0M377.5 135.8h0M404.7 81.4h0M389.0 130.0h0M386.1 104.6h0M398.9 124.3h0M387.1 103.3h0M393.1 142.3h0M395.5 82.3h0M389.6 87.7h0M376.2 119.9h0M393.2 103.8h0M390.6 132.2h0M402.3 105.4h0M392.8 90.7h0M390.5 75.7h0M391.0 144.7h0M379.7 93.3h0M382.6 142.7h0M376.0 102.7h0M404.8 92.2h0M396.6 119.2h0M386.4 118.5h0M388.1 88.9h0M410.4 82.9h0M405.2 95.0h0M384.1 134.3h0M389.8 78.6h0M410.0 87.6h0M377.1 124.5h0M398.0 71.3h0M394.8 141.1h0M400.3 113.0h0M397.2 71.5h0M384.1 102.4h0M377.2 123.2h0M392.8 75.3h0M393.0 90.4h0M403.7 77.2h0M386.7 117.2h0M394.3 107.3h0M385.4 70.0h0M388.0 132.9h0M385.3 126.2h0M403.9 75.6h0M383.5 109.6h0M408.1 94.6h0M405.5 87.0h0M393.7 127.8h0M402.2 125.4h0M389.1 132.6h0M381.6 118.5h0M395.0 80.8h0M395.2 99.5h0M391.9 114.4h0M404.0 76.0h0M399.7 136.3h0M402.0 121.0h0M378.0 112.0h0M400.6 73.3h0M399.3 141.4h0M407.5 132.5h0M407.7 105.7h0M394.8 66.6h0M403.2 83.3h0M382.9 96.6h0M383.0 88.9h0M389.9 118.3h0M407.9 127.1h0M395.2 119.6h0M384.3 86.6h0M381.3 101.6h0M376.2 123.1h0M381.8 130.9h0M393.6 137.8h0M403.0 130.0h0M370.7 123.8h0M400.3 89.6h0M382.9 121.8h0M385.7 77.9h0M383.9 128.7h0M396.7 121.1h0M390.1 101.1h0M391.5 125.9h0M404.7 129.2h0M407.5 82.1h0M402.1 136.8h0M398.2 92.5h0M406.2 93.9h0M400.0 98.8h0M403.9 123.4h0M388.6 69.9h0M393.6 127.2h0M396.2 104.2h0M380.0 83.2h0M385.9 79.3h0M389.3 103.5h0M385.1 82.2h0M380.3 105.6h0M398.5 93.6h0M402.8 73.6h0M405.3 136.7h0M397.4 122.6h0M389.9 88.1h0M377.5 128.4h0M385.7 99.2h0M402.3 136.8h0M405.2 123.1h0M393.1 86.4h0M399.9 72.5h0M383.3 132.2h0M378.7 99.0h0M397.5 120.6h0M378.1 112.4h0M401.2 117.2h0M387.1 85.5h0M392.7 115.7h0M400.0 117.4h0M395.0 110.3h0M402.2 119.8h0M387.7 67.5h0M387.2 99.9h0M389.4 93.6h0M387.2 97.0h0M385.9 83.2h0M377.6 148.3h0M383.0 100.1h0M391.5 131.3h0M405.1 99.1h0M407.2 104.8h0M384.0 76.0h0M398.5 124.6h0M396.5 76.1h0M407.3 110.8h0M377.3 123.0h0M382.8 141.9h0M404.1 108.2h0M390.5 102.1h0M395.6 91.3h0M385.7 144.8h0M378.3 139.0h0M395.4 77.9h0M379.2 128.8h0M382.2 135.7h0M394.7 89.2h0M379.4 121.6h0M399.3 78.9h0M382.0 101.4h0M400.0 120.2h0M397.1 73.6h0M380.9 122.8h0M395.9 138.4h0M379.3 130.5h0M381.5 151.4h0M388.0 118.5h0M401.9 134.9h0M377.4 115.7h0M396.6 82.9h0M383.4 140.9h0M408.8 109.9h0M406.1 80.2h0M402.1 92.0h0M377.4 138.5h0M387.3 145.0h0M393.1 94.0h0M401.9 117.4h0M401.3 99.5h0M395.2 87.6h0M397.8 96.4h0M373.9 134.3h0M381.5 116.6h0M378.1 125.4h0M399.7 120.3h0M380.8 102.7h0M377.1 135.3h0M396.8 87.8h0M404.9 108.2h0M392.7 102.4h0M374.7 135.5h0M387.2 92.7h0M377.8 98.1h0M383.7 113.4h0M382.0 120.9h0M386.8 74.3h0M391.1 87.8h0M408.3 129.5h0M382.2 97.5h0M379.8 108.4h0M381.4 147.7h0M377.9 98.4h0M381.2 91.4h0M385.1 71.4h0M384.6 116.2h0M392.1 100.8h0M392.5 133.3h0M388.3 126.7h0M382.4 122.5h0M377.6 119.8h0M394.0 100.9h0M383.1 101.4h0M386.8 90.1h0M386.1 109.7h0M401.0 99.8h0M387.8 136.8h0M404.5 118.6h0M388.5 139.3h0M386.6 75.1h0M385.3 88.9h0M382.5 115.6h0M377.5 108.7h0M384.5 134.0h0M383.9 96.2h0M379.8 108.7h0M376.3 115.5h0M402.1 83.0h0M406.0 117.1h0M398.7 105.7h0M379.7 133.7h0M408.1 132.0h0M393.8 104.1h0M384.8 140.4h0M388.4 64.6h0M373.2 107.1h0M395.1 130.5h0M381.3 107.2h0M397.8 71.4h0M395.5 75.2h0M393.5 85.4h0M400.7 107.3h0M399.4 122.8h0M404.3 114.1h0M390.0 88.5h0M395.0 144.2h0M385.6 127.2h0M390.5 137.5h0M380.2 138.3h0M391.9 110.8h0M389.1 71.8h0M402.1 127.2h0M398.1 105.6h0M403.9 85.7h0M401.5 116.0h0M389.2 69.2h0M401.6 115.5h0M376.2 93.4h0M374.6 108.3h0M378.0 109.0h0M382.5 144.3h0M390.8 89.5h0M398.5 81.2h0M406.2 123.7h0M386.6 91.7h0M372.6 112.7h0M402.8 113.2h0M389.8 84.7h0M393.9 119.8h0M383.1 119.4h0M396.5 76.0h0M375.1 140.4h0M397.0 122.5h0M402.7 108.6h0M403.6 113.9h0M379.8 124.2h0M378.0 112.5h0M387.7 115.0h0M392.7 129.0h0M381.1 111.5h0M390.0 139.9h0M409.1 103.8h0M403.7 88.6h0M406.2 113.1h0M396.5 78.0h0M388.4 89.6h0M397.7 122.6h0M378.0 112.8h0M395.5 105.6h0M394.1 80.9h0M390.3 96.3h0M390.1 79.0h0M398.8 107.0h0M395.8 99.7h0M388.8 102.4h0M385.6 136.9h0M395.7 83.5h0M385.1 118.7h0M392.3 138.1h0M387.2 107.2h0M396.9 131.6h0M377.0 133.5h0M402.0 107.9h0M379.3 125.1h0M403.0 111.3h0M397.2 94.7h0M385.9 131.8h0M396.6 90.6h0M394.3 71.8h0M402.0 126.2h0M400.2 129.5h0M379.0 97.6h0M412.3 127.3h0M395.0 68.3h0M404.6 87.1h0M401.4 89.4h0M408.2 104.9h0M388.3 116.8h0M406.7 110.2h0M380.9 109.8h0M380.3 121.7h0M403.4 85.2h0M402.0 130.8h0M406.7 114.5h0M408.1 90.0h0M398.3 88.3h0M402.3 108.4h0M408.8 102.9h0M382.6 141.0h0M397.2 129.8h0M404.8 120.0h0M400.0 87.8h0M409.1 138.9h0M390.4 73.7h0M379.3 136.7h0M390.6 113.2h0M383.2 146.9h0M396.8 94.2h0M396.2 78.4h0M410.3 109.2h0M393.3 137.7h0M386.3 135.3h0M381.3 115.2h0M387.4 106.5h0M389.8 138.5h0M381.8 110.6h0M385.8 116.1h0M401.8 79.4h0M380.1 95.5h0M403.0 128.3h0M396.5 90.7h0" stroke="#c4c4c4" stroke-width="1.30" stroke-linecap="round" fill="none"/>
<path d="M392.6 77.4h0M373.8 126.4h0M390.0 105.5h0M384.4 115.7h0M374.8 114.8h0M383.3 112.1h0M394.8 82.5h0M371.5 139.1h0M389.1 92.2h0M386.3 99.3h0M393.4 77.3h0M381.6 128.4h0M373.4 120.7h0M385.0 98.4h0M379.9 120.7h0M393.7 67.8h0M390.3 105.7h0M383.3 100.6h0M383.8 96.6h0M367.3 135.1h0M370.0 131.4h0M392.2 98.3h0M398.3 70.7h0M371.5 132.8h0M386.8 77.6h0M390.9 103.9h0M392.2 76.3h0M379.7 116.8h0M382.4 134.2h0M386.8 82.9h0M377.7 105.6h0M375.0 118.3h0M394.7 66.5h0M389.0 95.7h0M391.2 98.3h0M373.5 136.7h0M388.9 82.6h0M370.0 135.6h0M385.8 86.8h0M388.4 88.7h0M387.1 101.7h0M378.6 113.3h0M393.7 71.1h0M377.7 103.4h0M375.7 123.5h0M378.9 129.9h0M390.6 72.6h0M396.2 75.7h0M368.0 138.2h0M386.0 106.9h0M369.4 138.1h0M381.8 113.3h0M397.3 74.4h0M379.5 101.5h0M387.4 72.7h0M378.2 114.0h0M382.2 88.4h0M385.3 103.5h0M386.3 104.3h0M382.5 114.6h0M397.5 71.7h0M371.3 128.2h0M382.3 91.1h0M380.1 104.5h0M373.7 122.2h0M386.3 108.5h0M372.9 126.7h0M380.3 110.8h0M376.6 113.6h0M388.6 76.6h0M389.6 107.0h0M391.5 72.9h0M383.8 106.8h0M370.0 135.2h0M380.5 123.5h0M386.8 107.0h0M371.9 110.8h0M387.5 88.0h0M377.1 107.5h0M379.6 125.0h0M368.8 139.8h0M379.9 127.4h0M375.0 129.9h0M383.6 96.1h0M380.9 108.2h0M367.8 138.7h0M382.7 90.9h0M396.9 86.4h0M395.8 79.3h0M394.5 77.3h0M384.1 112.7h0M379.4 118.5h0M394.5 77.6h0M377.8 121.5h0M369.3 135.8h0M377.6 130.3h0M377.3 118.5h0M369.7 125.4h0M381.0 125.4h0M392.1 85.2h0M379.3 107.2h0M370.7 123.0h0M385.6 99.5h0M383.9 116.4h0M372.7 119.3h0M395.0 85.2h0M390.9 79.3h0M380.4 113.0h0M378.6 118.0h0M392.7 74.7h0M386.6 104.5h0M370.5 122.9h0M393.6 84.8h0M395.9 72.5h0M379.6 120.8h0M381.4 125.6h0M370.9 139.2h0M392.6 86.7h0M376.1 119.0h0M370.5 129.5h0M387.1 105.5h0M381.5 110.7h0M382.2 114.5h0M381.7 109.0h0M387.9 93.7h0M370.4 118.8h0M385.1 105.3h0M381.3 93.2h0M378.3 116.4h0M389.3 96.9h0M381.0 103.2h0M387.2 75.8h0M393.4 73.7h0M383.4 127.2h0M384.9 100.3h0M381.9 116.2h0M380.7 109.0h0M373.1 118.1h0M368.2 132.3h0M379.7 107.9h0M380.7 126.9h0M391.4 70.6h0M378.2 123.7h0M392.3 74.9h0M393.2 83.2h0M393.2 73.3h0M395.9 84.1h0M373.4 136.1h0M375.1 127.8h0M393.0 90.4h0M385.6 86.8h0M376.7 110.8h0M383.7 97.6h0M376.1 126.0h0M380.5 112.9h0M379.0 110.7h0M390.0 80.6h0M387.3 103.4h0M390.4 91.9h0M389.3 88.9h0M384.0 109.6h0M376.2 107.4h0M389.6 96.3h0M386.0 85.0h0M365.9 133.5h0M385.0 97.5h0M387.9 90.6h0M370.4 140.1h0M394.9 85.6h0M389.2 82.1h0M396.6 80.9h0M388.6 77.8h0M370.5 135.8h0M366.6 132.2h0M389.3 91.9h0M370.5 130.6h0M377.3 120.8h0M399.1 78.3h0M393.5 86.9h0M365.4 140.2h0M376.0 123.0h0M369.5 137.4h0M384.1 82.9h0M389.4 104.0h0M383.2 99.8h0M376.5 104.3h0M384.6 122.1h0M379.7 128.6h0M385.6 96.7h0M399.1 70.6h0M381.2 96.5h0M371.6 136.4h0M376.4 136.0h0M383.1 119.3h0M380.8 103.6h0M382.1 112.6h0M393.5 83.3h0M387.0 103.3h0M376.8 103.2h0M388.9 89.6h0M379.5 131.4h0M386.0 105.8h0M375.7 120.5h0M374.7 113.4h0M381.5 120.4h0M380.1 103.8h0M388.4 79.7h0M392.7 91.7h0M392.9 78.4h0M385.9 97.6h0M386.8 104.0h0M383.0 98.9h0M387.6 100.4h0M386.7 87.6h0M382.4 103.0h0M383.7 120.6h0M388.4 71.9h0M380.8 113.7h0M383.0 101.5h0M387.5 88.5h0M376.0 131.4h0M369.4 127.1h0M390.8 93.5h0M382.6 110.9h0M385.8 93.2h0M388.1 91.9h0M382.8 119.3h0M375.5 131.9h0M394.6 78.9h0M393.4 71.6h0M396.6 76.3h0M374.1 128.8h0M382.0 123.4h0M383.3 104.7h0M382.0 123.7h0M380.9 114.4h0M386.2 117.1h0M393.4 91.6h0M391.2 83.8h0M382.4 106.4h0M376.3 112.8h0M385.0 91.6h0M387.4 84.2h0M393.4 90.8h0M396.3 79.3h0M392.0 83.9h0M373.5 121.6h0M391.4 93.3h0M378.4 129.7h0M372.6 129.1h0M389.4 84.1h0M375.1 138.1h0M388.7 104.2h0M391.3 87.7h0M379.4 109.8h0M374.5 127.7h0M386.1 109.5h0M376.5 102.6h0M394.6 68.7h0M381.1 113.4h0M391.4 82.8h0M384.3 93.6h0M387.7 114.2h0M391.9 90.0h0M381.7 99.8h0M376.9 109.1h0M382.9 103.5h0M387.0 95.7h0M385.4 103.8h0M371.6 114.5h0M397.4 74.6h0M388.0 67.5h0M394.6 76.5h0M398.0 68.1h0M381.4 123.6h0M367.5 139.7h0M381.5 118.0h0M393.3 76.5h0M389.5 96.8h0M370.8 122.1h0M376.2 130.5h0M392.1 96.5h0M392.5 74.9h0M390.5 88.7h0M380.7 121.8h0M388.8 81.9h0M390.7 92.5h0M374.3 122.3h0M379.1 118.9h0M376.8 114.0h0M397.3 87.0h0M381.9 109.7h0M377.4 130.4h0M381.4 113.3h0M383.8 102.2h0M388.7 72.5h0M387.9 84.7h0M373.4 127.1h0M382.3 92.9h0M378.0 121.5h0M395.7 82.4h0M380.2 106.6h0M373.8 137.7h0M387.8 121.8h0M392.2 78.2h0M385.6 95.3h0M383.5 111.8h0M394.5 70.8h0M384.7 107.9h0M383.1 105.1h0M376.9 118.8h0M368.9 133.7h0M392.1 97.2h0M390.3 94.3h0M381.7 94.8h0M393.4 75.9h0M379.0 107.9h0M374.5 134.1h0M377.5 117.2h0M388.4 79.8h0M390.1 96.5h0M370.7 125.8h0M382.5 114.5h0M388.1 89.8h0M370.9 131.5h0M372.5 129.9h0M375.8 126.7h0M387.6 93.4h0M389.3 72.2h0M390.8 94.8h0M369.9 122.7h0M386.9 100.2h0M389.5 83.3h0M381.5 123.8h0M375.8 115.5h0M366.5 126.2h0M371.7 125.4h0M390.4 109.8h0M383.6 105.9h0M382.0 93.8h0M383.7 90.7h0M389.5 95.7h0M391.3 91.9h0M389.3 80.4h0M393.2 67.2h0M376.9 122.6h0M378.8 131.2h0M376.2 125.2h0M397.0 89.0h0M386.5 98.9h0M386.8 98.6h0M379.8 105.3h0M373.3 131.1h0M368.6 131.0h0M369.6 138.0h0M390.2 80.8h0M390.2 107.4h0M393.0 87.6h0M378.7 102.7h0M377.1 118.5h0M369.1 138.3h0M380.7 132.4h0M380.4 112.3h0M378.9 96.1h0M390.0 105.4h0M384.0 123.7h0M396.9 78.1h0M390.5 81.1h0M392.7 92.5h0M391.2 72.2h0M376.8 126.8h0M388.1 115.5h0M375.9 139.0h0M387.8 95.4h0M388.2 94.5h0M378.7 96.6h0M373.8 123.4h0M389.1 100.6h0M367.4 135.6h0M394.3 92.4h0" stroke="#c8c8c8" stroke-width="1.50" stroke-linecap="round" fill="none"/>
<path d="M384.9 109.4h0M384.9 91.2h0M373.9 133.1h0M381.5 127.4h0M379.6 119.8h0M372.2 129.1h0M391.5 90.0h0M393.0 78.6h0M372.3 119.7h0M385.3 86.8h0M373.9 132.9h0M386.0 84.6h0M375.8 116.1h0M380.4 116.7h0M384.3 110.7h0M369.0 137.8h0M369.0 131.6h0M394.0 74.5h0M388.6 93.4h0M380.5 118.6h0M379.7 121.5h0M378.1 133.8h0M387.5 88.6h0M379.5 107.3h0M378.0 98.2h0M385.8 94.3h0M389.1 91.9h0M391.3 103.7h0M371.9 130.2h0M395.4 82.1h0M379.1 129.5h0M373.6 121.3h0M388.3 78.4h0M389.8 104.0h0M388.7 100.3h0M382.1 100.7h0M387.2 110.8h0M385.9 87.8h0M390.4 91.9h0M379.5 122.4h0M399.2 76.8h0M370.3 130.4h0M395.7 90.6h0M375.9 137.6h0M381.7 103.3h0" stroke="#ef8a78" stroke-width="2.50" stroke-linecap="round" fill="none" stroke-opacity="0.60"/>
<path d="M381.1 112.2h0M368.2 124.0h0M370.5 136.3h0M387.8 77.8h0M388.7 82.7h0M390.8 98.2h0M379.8 110.7h0M371.5 122.2h0M389.7 69.9h0M387.4 82.2h0" stroke="#6f98ea" stroke-width="2.20" stroke-linecap="round" fill="none" stroke-opacity="0.60"/>
<path d="M361.0 221.4h0M369.4 211.7h0M358.5 215.7h0M340.6 228.1h0M363.4 208.9h0M360.9 229.9h0M358.4 173.2h0M359.0 203.6h0M362.1 240.7h0M371.0 220.8h0M353.6 183.3h0M355.4 236.1h0M361.4 149.8h0M357.6 240.9h0M364.7 208.3h0M359.4 192.0h0M349.3 217.5h0M362.4 209.1h0M342.4 236.8h0M358.3 178.9h0M364.1 234.0h0M342.9 230.9h0M350.8 205.3h0M347.0 214.7h0M350.6 226.2h0M374.2 228.9h0M350.5 171.2h0M372.7 217.9h0M351.3 223.2h0M351.7 199.6h0M368.9 152.0h0M365.9 177.3h0M366.4 197.8h0M374.8 229.8h0M370.0 212.9h0M363.6 154.2h0M360.1 188.0h0M366.3 234.8h0M353.3 168.3h0M368.8 201.3h0M362.9 195.2h0M368.3 224.8h0M360.9 169.0h0M348.1 230.5h0M339.8 230.5h0M357.8 201.8h0M340.9 234.5h0M373.5 234.4h0M348.4 208.7h0M359.0 240.7h0M364.1 149.8h0M346.6 222.3h0M359.9 157.1h0M350.8 207.0h0M338.5 239.4h0M360.0 156.9h0M365.9 245.6h0M360.9 244.0h0M355.4 239.1h0M357.6 199.4h0M369.8 196.4h0M352.4 245.5h0M367.5 153.7h0M368.1 231.3h0M354.5 236.7h0M365.1 227.7h0M340.2 222.5h0M361.5 222.2h0M340.4 226.3h0M369.1 234.6h0M353.2 208.3h0M361.3 168.6h0M352.6 236.7h0M360.9 242.0h0M342.1 229.4h0M340.8 233.3h0M357.5 244.9h0M362.5 251.1h0M358.7 251.4h0M347.2 209.9h0M358.2 192.1h0M366.7 203.2h0M362.8 168.1h0M372.4 244.5h0M362.2 212.1h0M349.0 246.3h0M345.5 228.1h0M359.7 175.5h0M357.8 226.7h0M354.9 212.9h0M366.2 212.2h0M365.4 199.4h0M373.0 223.4h0M358.8 161.9h0M359.8 208.6h0M362.9 224.4h0M351.3 208.8h0M355.3 176.7h0M365.2 145.7h0M358.1 159.1h0M356.9 196.8h0M360.9 159.0h0M359.2 213.4h0M351.6 188.4h0M347.6 237.5h0M349.6 196.0h0M364.7 222.3h0M349.6 178.5h0M358.3 216.9h0M354.7 202.5h0M350.5 185.6h0M352.0 184.1h0M365.5 245.7h0M361.3 198.0h0M371.9 215.0h0M369.4 231.1h0M363.7 213.3h0M358.5 188.1h0M346.3 240.5h0M341.4 237.3h0M351.2 183.8h0M351.3 189.6h0M354.3 240.7h0M369.0 189.1h0M372.0 201.7h0M369.3 149.7h0M376.8 231.3h0M359.9 161.7h0M369.8 224.9h0M368.6 197.3h0M366.9 234.8h0M350.9 180.0h0M336.7 242.4h0M354.7 224.9h0M366.0 230.9h0M359.6 228.6h0M371.6 215.1h0M369.6 182.6h0M350.5 241.4h0M350.7 241.3h0M355.8 160.9h0M353.6 177.1h0M360.9 226.5h0M347.3 223.0h0M368.2 229.3h0M356.2 166.6h0M355.7 226.5h0M360.5 162.9h0M339.9 235.3h0M357.3 235.5h0" stroke="#c2c4c6" stroke-width="1.20" stroke-linecap="round" fill="none"/>
<path d="M266.0 171.4h0M289.3 172.5h0M254.0 120.7h0M253.4 119.9h0M258.5 171.9h0M260.9 122.8h0M291.7 103.6h0M290.3 186.0h0M278.9 169.8h0M267.9 161.1h0M258.1 120.8h0M302.0 100.9h0M257.7 165.4h0M287.2 175.8h0M252.3 144.4h0M264.2 172.6h0M270.9 141.9h0M297.6 106.1h0M258.6 118.5h0M276.2 141.1h0M261.1 110.6h0M288.2 108.1h0M283.7 162.2h0M283.4 107.8h0M289.9 103.4h0M278.0 146.9h0M280.1 152.5h0M267.8 165.2h0M291.8 162.1h0M275.9 116.8h0M268.4 174.1h0M294.8 161.4h0M264.1 135.4h0M252.0 136.7h0M299.3 159.0h0M250.4 126.4h0M280.5 114.2h0M265.6 124.0h0M272.8 139.6h0M258.6 181.6h0M268.6 106.7h0M283.9 191.3h0M281.2 166.7h0M252.0 122.3h0M248.3 176.8h0M294.8 150.9h0M278.6 123.5h0M272.1 175.3h0M286.0 140.5h0M265.4 160.6h0M292.7 176.3h0M296.2 149.4h0M263.1 186.5h0M304.3 145.6h0M281.3 171.6h0M278.7 173.0h0M281.6 120.2h0M300.8 137.1h0M300.2 145.4h0M280.1 189.0h0M289.0 124.5h0M298.9 125.7h0M288.8 168.8h0M296.6 149.7h0M297.1 110.7h0M250.2 142.1h0M279.9 166.3h0M262.5 138.1h0M281.3 183.0h0M262.2 143.4h0M251.3 170.6h0M295.3 133.1h0M253.1 134.2h0M261.9 111.1h0M282.1 152.1h0M293.4 153.2h0M290.7 149.9h0M286.7 115.0h0M280.8 155.5h0M291.9 181.8h0M271.2 119.9h0M279.6 166.9h0M279.7 148.2h0M279.3 105.8h0M294.1 153.9h0M285.8 124.5h0M280.1 121.7h0M269.4 177.2h0M269.0 110.0h0M247.0 124.7h0M297.3 177.7h0M257.7 145.2h0M261.3 181.8h0M254.8 167.9h0M279.5 148.2h0M249.6 150.1h0M297.7 100.7h0M283.6 152.2h0M291.8 147.0h0M293.9 123.5h0M279.2 157.6h0M257.3 132.9h0M262.0 109.1h0M264.4 188.1h0M294.9 168.3h0M300.0 163.6h0M268.8 163.6h0M259.1 148.8h0M279.9 122.2h0M293.6 104.5h0M280.8 148.5h0M279.1 187.1h0M248.0 158.0h0M283.0 183.4h0M263.7 170.0h0M256.9 108.4h0M287.3 107.6h0M294.0 102.8h0M274.7 172.7h0M291.0 151.9h0M263.3 117.9h0M299.3 145.2h0M263.3 152.9h0M274.7 146.8h0M301.3 108.1h0M286.2 122.7h0M283.0 129.1h0M268.3 142.9h0M287.3 149.2h0M280.5 149.6h0M255.5 126.6h0M287.8 188.4h0M294.4 136.5h0M281.5 150.2h0M278.5 123.4h0M249.1 140.9h0M252.8 121.5h0M268.0 177.8h0M264.1 152.8h0M303.5 149.9h0M296.4 140.9h0M267.1 131.5h0M294.7 114.7h0M270.3 142.8h0M268.8 187.0h0M251.3 158.1h0M262.5 167.5h0M271.2 110.1h0M289.3 132.2h0M258.9 176.1h0M271.1 143.1h0M289.8 108.9h0M252.1 159.2h0M290.3 129.2h0M294.9 172.1h0M300.3 179.3h0M270.8 170.2h0M302.7 155.2h0M291.9 153.5h0M273.4 131.3h0M295.3 144.1h0M273.4 142.7h0M298.2 100.9h0M295.1 153.3h0M259.1 148.7h0M284.7 114.4h0M283.3 160.3h0M279.8 126.0h0M263.2 114.1h0M300.5 136.4h0M290.4 142.7h0M255.2 159.7h0M286.4 177.6h0M255.6 134.1h0M296.9 157.2h0M288.7 121.2h0M297.8 117.9h0M279.4 146.1h0M292.5 169.7h0M255.8 161.5h0M275.2 125.5h0M265.9 147.6h0M269.5 174.5h0M258.7 172.6h0M269.2 173.9h0M288.9 175.2h0M290.4 129.0h0M255.9 179.5h0M274.1 158.6h0M256.9 132.0h0M261.2 144.7h0M251.7 117.3h0M257.4 121.7h0M281.2 162.8h0M290.3 161.0h0M267.6 135.2h0M287.1 131.0h0M266.1 119.6h0M294.6 130.9h0M296.3 162.0h0M269.0 190.9h0M263.8 137.8h0M249.7 140.3h0M265.7 180.8h0M294.9 140.8h0M293.6 152.0h0M258.0 161.0h0M268.6 188.1h0M267.6 162.2h0M261.0 147.2h0M280.9 116.8h0M299.9 124.7h0M278.1 119.2h0M280.3 152.1h0M284.6 185.9h0M263.1 182.2h0M274.5 155.3h0M271.4 178.4h0M252.5 145.0h0M273.8 189.2h0M253.5 172.8h0M255.9 171.6h0M291.1 166.2h0M292.8 163.1h0M295.3 124.6h0M267.1 113.1h0M288.0 184.8h0M267.7 140.1h0M259.6 144.7h0M296.1 160.6h0M267.8 177.6h0M250.4 139.0h0M286.1 152.3h0M252.9 127.7h0M252.4 131.7h0M274.9 139.3h0M258.9 143.4h0M281.1 179.4h0M293.3 126.0h0M293.7 99.6h0M295.5 109.6h0M292.0 119.0h0M302.0 145.5h0M301.7 147.2h0M276.2 188.5h0M279.1 175.6h0M283.2 101.5h0M285.0 163.6h0M293.9 114.7h0M298.3 174.0h0M291.8 129.4h0M249.7 143.1h0M250.3 137.3h0M279.5 111.9h0M282.8 104.6h0M253.2 110.6h0M305.7 169.2h0M286.5 168.1h0M279.2 170.8h0M261.1 113.8h0M264.1 156.1h0M262.1 112.4h0M293.6 125.5h0M276.3 161.0h0M250.2 138.2h0M279.6 112.2h0M262.8 156.7h0M251.7 118.6h0M270.1 165.3h0M269.1 121.7h0M254.1 149.9h0M271.4 171.3h0M253.6 171.0h0M255.2 154.4h0M269.4 181.7h0M286.4 165.7h0M277.9 122.2h0M267.1 146.5h0M256.8 158.9h0M288.7 131.2h0M290.1 137.0h0M266.2 145.8h0M284.5 165.5h0M289.4 145.8h0M254.3 181.8h0M257.2 126.4h0M294.9 192.4h0M275.1 113.8h0M267.1 189.5h0M279.6 141.9h0M292.2 106.0h0M262.4 175.9h0M290.4 182.7h0M277.4 140.7h0M286.3 117.4h0M255.7 159.8h0M253.7 173.6h0M282.9 157.5h0M248.1 172.1h0M263.0 159.3h0M277.7 165.3h0M286.8 135.2h0M258.5 111.6h0M247.3 143.4h0M249.0 147.1h0M288.8 136.3h0M260.9 116.4h0M261.0 139.9h0M264.2 156.1h0M295.4 145.2h0M291.1 117.4h0M270.4 126.4h0M304.3 116.8h0M299.1 172.3h0M246.6 138.8h0M285.9 177.0h0M254.7 173.0h0M300.7 115.6h0M297.2 106.9h0M269.3 171.0h0M279.8 171.3h0M251.4 172.6h0M298.7 125.9h0M285.1 144.7h0M290.7 137.3h0M283.2 108.4h0M255.1 161.8h0M273.6 129.8h0M256.7 144.2h0M270.1 173.9h0M304.5 119.3h0M296.5 177.8h0M269.3 175.8h0M290.3 112.0h0M255.7 116.4h0M291.9 146.7h0M264.0 155.1h0M266.4 170.0h0M248.9 173.6h0M282.4 160.5h0M306.7 147.7h0M259.3 155.6h0M257.7 125.4h0M270.1 122.9h0M272.9 124.5h0M255.6 156.1h0M263.9 182.9h0M292.7 177.7h0M269.0 165.4h0M293.0 116.8h0M296.9 176.7h0M302.1 128.6h0M282.5 168.5h0M256.3 185.9h0M268.4 191.2h0M274.2 172.5h0M291.3 170.8h0M280.6 188.5h0M250.2 171.9h0M284.2 175.7h0M297.8 161.7h0M270.8 116.5h0M301.2 173.7h0M280.5 146.6h0M250.1 112.4h0M293.4 117.1h0M269.4 182.3h0M254.3 177.6h0M287.3 132.4h0M291.3 162.9h0M286.3 183.8h0M284.4 141.4h0M253.3 116.5h0M295.5 107.6h0M300.5 135.4h0M277.2 135.2h0M254.8 170.2h0M285.8 178.8h0M277.3 133.3h0M267.1 150.7h0M250.4 143.4h0M260.6 110.0h0M280.6 108.4h0M294.8 175.4h0M291.4 135.5h0M274.4 136.0h0M275.1 146.6h0M276.7 161.8h0M287.1 186.0h0M283.9 106.5h0M294.1 139.1h0M274.8 118.3h0M280.9 104.8h0M294.4 161.9h0M294.8 153.9h0M272.9 149.9h0M267.9 165.7h0M289.0 178.8h0M295.7 141.8h0M280.5 137.5h0M289.4 169.4h0M278.0 150.0h0M294.4 114.8h0M256.3 169.9h0M257.2 116.2h0M301.8 123.3h0M257.1 135.6h0M285.3 159.1h0M283.1 152.4h0M255.9 112.5h0M284.4 112.5h0M299.4 117.4h0M282.4 105.6h0M292.1 146.1h0M269.4 172.8h0M262.4 155.5h0M257.1 167.8h0M302.3 130.2h0M289.9 172.3h0M287.5 174.9h0M253.7 121.0h0M284.5 132.2h0M297.2 165.2h0M277.8 148.8h0M289.0 136.6h0M274.7 124.1h0M257.6 117.6h0M293.5 163.3h0M293.1 165.2h0M295.8 137.9h0M266.1 108.4h0M293.7 157.3h0M290.7 132.3h0M278.7 139.1h0M271.2 126.6h0M253.1 173.9h0M279.0 135.7h0M296.3 185.6h0M295.1 173.4h0M271.3 113.6h0M250.0 150.7h0M288.8 106.2h0M262.1 163.1h0M253.1 153.3h0M294.7 188.4h0M279.1 123.4h0M288.3 133.3h0M263.5 163.4h0M302.7 136.4h0M288.7 167.6h0M254.4 160.6h0M250.1 142.0h0M250.3 177.5h0M289.4 105.0h0M257.5 166.7h0M289.4 172.4h0M254.8 133.8h0M292.0 148.4h0M258.7 173.9h0M251.0 131.0h0M283.9 172.5h0M288.2 123.6h0M266.9 132.0h0M263.7 126.6h0M283.3 112.9h0M265.7 140.4h0M261.4 111.6h0M278.5 131.5h0M285.8 133.0h0M290.3 140.2h0M255.0 176.8h0M272.3 122.4h0M249.6 133.4h0M294.7 174.7h0M280.9 179.2h0M254.1 129.3h0M296.2 169.6h0M287.0 134.8h0M256.5 148.5h0M257.6 120.6h0M257.4 153.1h0M267.6 119.7h0M291.3 182.0h0M297.7 127.8h0M277.6 103.1h0M302.1 150.8h0M298.3 135.0h0M257.5 175.9h0M270.5 122.0h0M296.2 104.7h0M290.7 178.8h0M250.7 145.8h0M305.9 156.7h0M274.0 124.6h0M297.9 137.6h0M250.0 144.3h0M294.3 141.7h0M243.6 125.2h0M275.5 106.3h0M290.1 100.9h0" stroke="#c4c6c8" stroke-width="1.20" stroke-linecap="round" fill="none"/>
<path d="M296.3 51.8h0M312.1 51.9h0M269.4 66.5h0M291.5 36.6h0M277.6 48.3h0M266.2 54.2h0M275.7 66.6h0M292.0 45.3h0M271.7 48.6h0M280.4 65.4h0M301.5 46.2h0M321.1 55.6h0M264.0 50.9h0M308.9 46.1h0M320.2 57.2h0M299.2 42.7h0M304.9 47.7h0M287.4 45.9h0M308.6 81.8h0M316.7 78.2h0M308.6 67.5h0M262.6 77.5h0M313.4 76.0h0M306.5 75.1h0M277.1 80.2h0M321.2 68.9h0M286.6 83.7h0M284.2 85.5h0M324.0 68.1h0M309.7 83.8h0M277.2 81.0h0M303.6 74.8h0M300.2 75.3h0M311.0 73.6h0M303.7 76.2h0M299.8 75.2h0M310.0 67.6h0M308.9 82.3h0M282.9 67.6h0M314.2 77.8h0M300.6 75.6h0M289.7 73.4h0M324.9 69.5h0M266.8 71.1h0M310.6 69.7h0M284.5 80.4h0M288.1 75.9h0M286.3 83.4h0M282.4 102.0h0M298.4 92.9h0M263.9 98.1h0M264.9 89.9h0M304.1 101.1h0M286.8 96.0h0M254.9 103.4h0M260.2 103.6h0M279.7 104.6h0M268.0 95.0h0M285.2 106.4h0M285.1 109.0h0M268.5 104.2h0M297.5 109.0h0M266.8 89.5h0M272.7 88.0h0M286.4 91.5h0M298.3 94.0h0M282.6 94.0h0M290.4 91.3h0M289.3 106.6h0M306.9 101.9h0M283.6 107.9h0M262.2 89.0h0M288.5 106.4h0M266.2 100.5h0M272.3 94.8h0M278.6 88.9h0M288.6 97.0h0M280.1 96.4h0M284.4 104.1h0M306.4 108.1h0M275.6 108.0h0M309.2 107.0h0M309.7 98.1h0M266.1 107.7h0M288.2 107.5h0M258.0 109.1h0M258.5 90.9h0M285.8 93.8h0M266.4 94.6h0M260.5 96.5h0M262.1 86.1h0M276.6 102.8h0M266.4 97.8h0M281.6 100.9h0M294.0 102.7h0M296.5 100.4h0M291.1 101.9h0M272.2 96.5h0M299.1 106.3h0M274.4 106.9h0M262.9 89.6h0M283.7 106.6h0M282.1 101.5h0M276.8 102.9h0M270.3 99.6h0M266.9 87.9h0M300.8 104.8h0M264.9 95.2h0M297.1 151.2h0M289.4 126.5h0M311.3 121.9h0M274.4 167.6h0M259.4 110.3h0M285.2 145.0h0M275.9 176.8h0M291.7 125.6h0M260.6 145.4h0M291.3 161.6h0M282.5 118.2h0M274.7 180.6h0M280.2 178.1h0M284.6 119.6h0M285.5 92.9h0M291.2 136.4h0M288.7 128.8h0M273.0 116.6h0M296.4 129.1h0M281.6 150.3h0M297.7 123.5h0M275.4 152.8h0M300.1 152.5h0M295.0 135.8h0M288.8 175.1h0M270.5 134.6h0M275.0 149.6h0M292.4 158.2h0M272.2 114.1h0M248.0 127.8h0M257.7 165.3h0M283.6 126.2h0M266.2 111.5h0M268.9 129.8h0M293.4 142.1h0M252.3 109.1h0M259.8 119.5h0M272.7 121.5h0M284.7 166.4h0M286.1 145.6h0M299.7 106.3h0M278.6 158.0h0M260.9 127.3h0M264.9 166.3h0M289.6 119.4h0M281.4 153.4h0M261.7 156.4h0M257.0 113.1h0M284.5 180.7h0M273.3 137.3h0M272.6 106.9h0M291.6 127.1h0M277.9 150.5h0M288.6 128.8h0M263.4 149.8h0M305.8 143.0h0M288.3 155.9h0M278.2 111.5h0M287.3 119.1h0M270.3 120.1h0M258.8 115.6h0M275.1 132.9h0M275.4 181.1h0M264.8 136.1h0M267.0 156.3h0M284.1 121.3h0M279.2 144.3h0M269.9 155.9h0M271.3 133.6h0M303.1 122.8h0M280.5 137.2h0M252.4 169.5h0M282.4 132.4h0M267.6 144.0h0M285.7 119.9h0M265.2 154.4h0M270.3 157.0h0M260.1 185.3h0M260.8 170.9h0M265.4 187.3h0M266.9 149.5h0M258.7 166.1h0M281.8 127.7h0M260.9 145.5h0M257.2 155.3h0M274.0 160.4h0M277.0 152.8h0M262.8 126.6h0M270.5 148.4h0M273.4 118.9h0M283.8 133.1h0M290.4 156.6h0M275.2 170.8h0M282.0 172.0h0M275.2 150.9h0M273.7 119.8h0M260.9 146.0h0M267.0 159.8h0M278.1 76.3h0M271.9 140.6h0M286.4 131.9h0M301.2 98.7h0M276.3 156.3h0M268.6 130.8h0M264.1 136.6h0M272.8 126.5h0M266.2 140.3h0M264.5 138.0h0M255.1 141.3h0M265.7 154.3h0M274.9 125.7h0M266.2 157.5h0M295.5 130.5h0M278.1 148.2h0M283.8 127.2h0M295.1 151.3h0M269.0 144.0h0M274.3 135.5h0M292.1 124.6h0M293.6 115.1h0M263.5 106.4h0M293.2 141.8h0M283.7 149.0h0M284.2 145.0h0M273.3 130.9h0M260.8 158.7h0M259.0 176.6h0M289.8 141.5h0M267.6 133.7h0M257.9 164.5h0M267.8 137.9h0M252.0 127.8h0M299.2 110.8h0M302.9 103.1h0M257.7 126.3h0M276.5 163.1h0M272.0 138.1h0M269.9 109.3h0M298.8 99.1h0M272.1 137.8h0M264.3 145.8h0M283.5 99.0h0M264.7 171.6h0M257.1 139.7h0M269.8 130.5h0M268.1 173.5h0M281.8 124.3h0M266.5 130.7h0M283.4 151.8h0M252.4 166.6h0M253.9 155.5h0M261.6 122.7h0M275.5 157.0h0M268.1 142.3h0M275.8 148.0h0M268.0 141.8h0M283.7 159.8h0M269.1 144.9h0M274.2 118.6h0M269.2 137.0h0M276.8 128.1h0M272.7 114.3h0M263.8 132.4h0M277.3 115.6h0M264.3 149.6h0M282.4 146.2h0M271.5 120.2h0M287.4 123.2h0M264.9 147.2h0M254.2 135.3h0M262.9 120.6h0M289.7 129.1h0M287.4 116.6h0M261.2 78.8h0M285.1 112.7h0M278.8 158.2h0M277.1 145.3h0M281.3 148.2h0M281.2 149.2h0M279.4 163.0h0M279.7 148.7h0M272.8 156.1h0M266.2 139.0h0M289.4 134.0h0M297.1 129.1h0M279.9 149.8h0M286.2 130.8h0M293.7 133.1h0M279.2 161.0h0M287.5 121.8h0M278.2 138.6h0M277.7 120.3h0M287.0 171.3h0M285.5 139.5h0M270.0 144.6h0M286.8 154.6h0M294.2 133.6h0M263.9 182.2h0M263.7 145.8h0M264.7 147.7h0M281.6 133.5h0M275.5 154.3h0M271.0 178.6h0M283.1 159.3h0M277.4 139.9h0M287.8 150.0h0M283.0 138.4h0M299.1 124.7h0M263.5 151.7h0M276.3 141.2h0M264.9 130.8h0M278.8 154.3h0M279.7 154.2h0M285.4 159.7h0M306.3 131.8h0M283.2 171.0h0M281.5 162.8h0M267.1 161.2h0M281.9 118.8h0M298.0 139.7h0M264.1 138.7h0M270.7 125.5h0M267.4 139.2h0M281.0 145.3h0M283.4 148.9h0M294.2 122.7h0M295.3 90.7h0M292.5 143.9h0M283.8 141.1h0M291.7 143.5h0M299.3 144.3h0M286.8 144.1h0M288.0 142.4h0M286.4 140.2h0M290.1 141.5h0M295.8 138.9h0M289.8 141.7h0M292.5 136.6h0M288.2 148.8h0M283.5 135.9h0M289.0 148.9h0M289.5 137.8h0M290.5 143.7h0M293.7 140.6h0M293.9 140.8h0M295.4 137.1h0M280.4 139.6h0M291.6 145.8h0M291.9 138.9h0M297.3 142.0h0M290.9 144.2h0M282.2 142.7h0M287.5 156.0h0M290.8 143.4h0M292.5 146.7h0M294.5 140.1h0M281.3 145.4h0M290.3 143.1h0M287.1 147.2h0M282.9 141.6h0M281.8 141.7h0M292.6 143.2h0M287.2 147.2h0M292.2 138.9h0M284.7 146.9h0M288.3 135.3h0M287.1 149.8h0M291.2 142.0h0M297.0 146.1h0M293.4 142.6h0M290.1 135.3h0M294.8 148.9h0M295.5 144.4h0M290.9 143.1h0M286.9 137.6h0M294.4 150.0h0M295.8 137.8h0M291.1 143.5h0M293.0 148.2h0M282.7 131.2h0M291.0 143.5h0M289.4 140.1h0M291.5 141.0h0M285.3 143.2h0M282.8 142.7h0M287.0 145.5h0M295.7 145.0h0M289.4 145.2h0M288.1 138.8h0M291.8 137.1h0M293.6 147.8h0M284.0 139.8h0M289.8 136.7h0M289.9 146.1h0M293.0 140.7h0M296.2 136.6h0M301.7 147.8h0M284.3 140.6h0M290.1 141.9h0M286.6 135.0h0M292.9 141.3h0M289.0 136.5h0M296.5 137.4h0M294.2 139.7h0M293.7 145.0h0M298.2 144.6h0M290.7 146.9h0M294.4 142.0h0M295.6 145.6h0M295.5 142.9h0M289.2 138.3h0M291.3 146.9h0M293.9 141.6h0M291.9 137.4h0M296.1 148.8h0M294.3 135.5h0M285.2 142.0h0" stroke="#ee7e6a" stroke-width="2.70" stroke-linecap="round" fill="none" stroke-opacity="0.85"/>
<path d="M290.0 148.6h0M287.7 145.6h0M292.9 143.7h0M288.8 140.2h0M294.4 147.7h0M290.7 140.1h0M289.2 132.8h0M293.9 143.5h0M293.7 143.6h0M291.6 143.6h0M293.8 140.4h0M290.3 144.3h0M291.3 139.5h0M294.2 143.5h0M288.6 146.8h0M297.4 144.2h0M290.9 139.5h0M289.4 142.2h0M288.7 139.7h0M287.8 143.4h0M286.7 141.0h0M294.7 141.6h0M285.0 143.3h0M290.1 143.0h0M284.7 141.4h0M295.7 144.3h0M290.7 142.7h0M286.9 144.1h0M284.4 142.2h0M290.9 142.5h0M294.1 139.7h0M292.4 139.7h0M294.0 145.1h0M291.9 140.6h0M292.1 137.7h0M293.1 140.4h0M287.6 135.8h0M290.8 143.2h0M294.4 146.9h0M299.2 143.6h0" stroke="#f8735a" stroke-width="2.80" stroke-linecap="round" fill="none"/>
<path d="M329.1 125.2h0M307.3 132.7h0M343.8 169.0h0M315.7 195.1h0M317.4 123.4h0M322.8 225.8h0M326.4 125.1h0M336.5 163.6h0M324.3 205.6h0M319.6 118.5h0M330.0 188.2h0M306.7 151.0h0M359.0 155.8h0M324.4 148.5h0M342.9 161.8h0M305.6 184.3h0M314.0 175.7h0M330.2 128.4h0M331.5 151.9h0M312.7 176.4h0M306.5 118.5h0M331.4 199.8h0M309.3 164.5h0M320.3 192.2h0M319.2 150.5h0M312.8 133.3h0M318.0 210.7h0M320.4 157.7h0M333.0 167.5h0M309.5 119.7h0M311.7 163.7h0M320.9 169.5h0M309.9 170.3h0M347.5 176.7h0M314.1 220.8h0M355.0 155.5h0M299.4 168.8h0M315.2 206.4h0M318.3 210.2h0M344.6 174.9h0M305.3 191.4h0M316.7 164.5h0M337.3 203.3h0M350.9 163.1h0M358.2 169.8h0M340.5 160.4h0M348.5 163.5h0M304.1 200.3h0M342.5 186.5h0M336.1 204.8h0M311.2 124.1h0M307.3 157.8h0M321.4 174.7h0M342.8 194.1h0M304.3 122.6h0M322.1 218.5h0M332.1 141.6h0M339.9 158.6h0M306.5 172.2h0M339.8 156.1h0M349.0 173.3h0M305.3 174.5h0M321.0 145.4h0M315.7 214.7h0M344.7 192.2h0M332.6 200.7h0M348.6 159.5h0M304.3 121.4h0M330.2 201.3h0M323.9 223.6h0M333.4 173.5h0M315.8 132.4h0M309.8 209.6h0M307.1 135.9h0M343.5 155.5h0M296.5 168.9h0M352.4 177.1h0M311.1 130.0h0M319.1 169.4h0M332.0 200.7h0M308.2 134.6h0M305.8 132.4h0M307.8 173.4h0M316.1 205.1h0M320.8 138.4h0M322.1 214.0h0M343.4 179.1h0M344.2 184.5h0M343.8 186.6h0M349.3 182.2h0M328.0 173.1h0M342.9 185.5h0M356.0 174.0h0M326.6 114.1h0M321.6 233.8h0M335.0 167.9h0M324.4 217.6h0M347.2 186.5h0M316.2 194.5h0M320.9 162.9h0M328.4 126.2h0M343.3 162.0h0M302.9 149.5h0M320.0 201.5h0M326.3 176.3h0M318.8 167.5h0M340.1 194.2h0M332.1 125.6h0M301.0 157.7h0M359.4 154.7h0M300.7 155.8h0M301.6 163.0h0M318.0 182.0h0M352.8 161.4h0M331.2 169.7h0M317.8 175.0h0M354.0 160.2h0M303.5 196.1h0M312.3 188.1h0M307.6 156.4h0M313.1 148.8h0M330.1 115.0h0M356.8 163.8h0M335.0 206.5h0M331.0 170.2h0M326.3 153.9h0M312.6 223.9h0M342.5 164.2h0M330.9 110.8h0M313.0 194.5h0M359.2 146.2h0M308.7 214.5h0M323.4 181.6h0M357.4 154.0h0M312.1 121.6h0M332.2 136.1h0M320.5 220.8h0M308.9 115.6h0M315.0 166.6h0M345.3 178.4h0M314.5 165.3h0M356.7 172.7h0M335.1 142.1h0M331.9 133.0h0M351.1 183.3h0M310.6 145.2h0M351.2 144.3h0M350.2 156.8h0M357.9 155.4h0M337.1 172.0h0M316.1 188.7h0M328.2 110.6h0M342.8 148.5h0M300.7 149.5h0M313.2 164.4h0M347.9 176.6h0M312.3 162.8h0M338.1 180.7h0M318.7 130.7h0M333.5 179.5h0M303.7 137.5h0M349.4 184.9h0M306.0 167.4h0M337.1 186.0h0M348.9 185.5h0M344.1 199.7h0M311.7 203.3h0M299.2 181.9h0M341.6 169.7h0M306.1 162.8h0M340.2 187.3h0M307.9 168.4h0M313.2 131.3h0M318.1 115.9h0M325.5 226.0h0M314.4 213.0h0M315.5 160.4h0M341.4 181.0h0M309.9 164.1h0M325.5 190.8h0M303.7 112.4h0M345.7 141.5h0M322.6 183.2h0M307.1 183.1h0M321.4 223.5h0M337.2 149.2h0M332.8 135.8h0M311.3 126.4h0M329.6 187.6h0M312.5 128.3h0M335.3 144.2h0M348.8 150.2h0M312.0 201.3h0M356.3 153.4h0M356.9 146.6h0M319.8 193.4h0M309.1 213.0h0M334.5 143.1h0M315.4 216.9h0M329.6 163.6h0M307.2 142.6h0M345.0 159.9h0M334.2 188.8h0M329.3 205.7h0M363.2 148.3h0M321.1 129.7h0M343.6 173.4h0M349.6 187.4h0M325.0 162.5h0M332.9 171.8h0M339.0 149.2h0M327.6 215.7h0M337.2 180.0h0M322.3 210.2h0M332.1 189.5h0M323.3 183.4h0M305.6 194.5h0M327.5 115.1h0M311.4 160.8h0M306.0 150.1h0" stroke="#ef8a78" stroke-width="2.50" stroke-linecap="round" fill="none" stroke-opacity="0.50"/>
<path d="M337.0 94.8h0M338.6 94.7h0M335.0 87.9h0M316.9 95.4h0M340.8 91.2h0M335.5 105.4h0M334.8 89.2h0M316.2 113.3h0M308.2 104.6h0M344.2 98.8h0M331.8 102.3h0M311.9 110.3h0M330.1 102.6h0M310.5 100.9h0M323.5 92.2h0M339.2 89.6h0M309.3 101.1h0M339.3 89.5h0M345.7 84.6h0M323.4 98.4h0M313.1 112.1h0M341.1 95.4h0M316.8 113.2h0M351.7 90.3h0M323.6 97.8h0M326.0 92.3h0M343.0 83.9h0M342.4 85.7h0M335.6 90.0h0M341.2 94.6h0" stroke="#ef8a78" stroke-width="2.50" stroke-linecap="round" fill="none" stroke-opacity="0.60"/>
<path d="M354.2 86.0h0M380.3 74.3h0M381.3 82.0h0M355.4 92.4h0M355.8 94.2h0M380.7 78.0h0M364.2 82.1h0M384.1 71.8h0M367.6 88.2h0M379.0 79.1h0M357.1 79.3h0M378.0 76.2h0M363.4 90.9h0M382.2 78.9h0M359.9 84.8h0M363.7 83.5h0M360.5 88.3h0M356.3 91.7h0M357.5 92.1h0M361.4 92.0h0M389.8 69.9h0M372.6 80.0h0" stroke="#ef8a78" stroke-width="2.50" stroke-linecap="round" fill="none" stroke-opacity="0.70"/>
<path d="M385.4 62.0h0M340.8 79.1h0M325.0 66.3h0M380.2 58.9h0M324.6 63.6h0M329.2 72.9h0M394.3 67.6h0M368.4 62.4h0M332.6 61.9h0M391.7 59.2h0M319.4 61.1h0M341.2 72.4h0M370.4 67.2h0M355.6 76.9h0M332.4 69.9h0M331.4 61.8h0" stroke="#ee7e6a" stroke-width="2.60" stroke-linecap="round" fill="none" stroke-opacity="0.80"/>
<path d="M400.4 108.0h0M380.8 142.0h0M382.3 119.6h0M401.3 95.1h0M407.7 122.1h0M396.9 123.4h0M387.9 132.3h0M396.0 115.9h0M380.1 94.0h0M384.6 77.6h0M402.2 117.7h0M380.0 125.7h0M396.3 73.8h0M376.2 119.5h0M381.0 131.0h0M396.6 75.7h0M393.9 124.3h0M389.7 132.2h0M380.4 145.7h0M391.9 113.7h0M401.5 108.2h0M405.4 138.1h0M388.8 74.7h0M375.8 121.6h0M384.3 90.8h0" stroke="#ee8c7a" stroke-width="2.40" stroke-linecap="round" fill="none" stroke-opacity="0.70"/>
<path d="M392.0 66.0h0M394.0 64.5h0M390.0 67.5h0M396.0 66.0h0" stroke="#f07d68" stroke-width="2.60" stroke-linecap="round" fill="none"/>
<path d="M306.5 119.7h0M300.2 175.3h0M308.9 116.8h0M322.4 201.8h0M347.4 187.1h0M329.1 160.1h0M305.0 196.6h0M316.2 132.3h0M320.9 176.7h0M308.5 118.2h0M313.2 169.7h0M357.3 163.2h0M333.6 162.2h0M345.5 191.5h0M355.4 156.0h0M297.2 169.2h0M314.6 189.4h0M326.8 179.5h0M332.6 144.5h0M318.5 160.6h0M331.9 216.3h0M334.1 192.6h0M330.0 186.6h0M298.4 175.8h0M305.3 179.2h0M312.5 169.0h0M341.3 152.9h0M323.2 169.4h0M350.2 172.0h0M331.1 136.4h0M332.2 162.1h0M350.8 152.7h0M323.6 176.1h0M332.8 179.6h0M338.0 192.1h0M324.6 137.4h0M316.3 155.8h0M316.9 139.0h0M307.5 197.9h0M312.1 209.5h0M321.9 126.3h0M303.4 174.8h0M319.0 128.4h0M308.6 207.0h0M322.9 146.6h0M319.4 170.9h0M321.0 165.7h0M318.4 142.9h0M300.9 196.7h0M341.5 158.0h0M305.1 181.0h0M339.9 160.0h0M333.6 177.6h0M324.7 198.2h0M324.0 193.0h0M314.9 121.1h0M303.0 171.2h0M319.6 185.3h0M313.1 147.6h0M348.4 155.1h0M311.0 192.0h0M327.1 224.6h0M343.1 168.7h0M321.8 142.8h0M298.8 171.7h0M317.7 148.4h0M310.6 213.4h0M347.2 179.9h0M327.4 184.3h0M325.8 169.8h0M352.7 154.4h0M306.8 185.5h0M353.3 149.8h0M300.9 172.3h0M343.3 163.2h0" stroke="#6f98ea" stroke-width="2.40" stroke-linecap="round" fill="none" stroke-opacity="0.70"/>
<path d="M326.7 97.4h0M326.4 98.4h0M331.1 102.5h0M349.4 92.5h0M327.9 109.6h0M331.8 86.3h0M338.2 103.8h0M330.2 98.8h0" stroke="#6f98ea" stroke-width="2.40" stroke-linecap="round" fill="none" stroke-opacity="0.70"/>
<path d="M391.0 193.0h0M366.9 219.3h0M401.8 144.0h0M356.5 79.2h0M345.1 101.5h0M381.3 122.4h0M319.4 138.8h0M342.7 205.4h0M371.1 104.4h0M339.9 58.2h0M321.2 216.1h0M285.4 57.6h0M336.6 130.0h0M337.4 258.2h0M404.5 160.6h0M334.7 94.8h0M306.2 178.7h0M356.6 165.7h0M254.1 120.3h0M310.1 128.2h0" stroke="#6f98ea" stroke-width="2.20" stroke-linecap="round" fill="none" stroke-opacity="0.70"/>
<path d="M274.5 33.0h0M276.0 32.5h0" stroke="#6f98ea" stroke-width="2.40" stroke-linecap="round" fill="none"/>
<path d="M395.3 198.6h0M405.5 189.6h0M400.6 204.3h0M395.2 229.9h0M373.4 203.7h0M376.8 222.5h0M388.0 199.1h0M376.7 198.7h0M390.8 196.9h0M384.5 163.1h0M392.5 158.5h0M390.4 205.7h0M397.7 189.8h0M388.8 153.0h0M373.0 221.6h0M383.3 240.4h0M392.2 211.6h0M395.2 204.1h0M380.3 223.2h0M399.4 210.2h0M393.1 229.8h0M373.0 166.7h0M375.5 181.5h0M400.6 226.2h0M377.8 198.7h0M387.2 168.0h0M371.8 230.1h0M396.3 211.4h0M379.8 166.2h0M395.9 209.1h0M391.4 226.0h0M402.6 146.2h0M365.4 186.1h0M393.3 232.7h0M397.0 201.2h0M398.3 222.9h0M384.7 218.5h0M404.6 203.8h0M393.8 191.7h0M376.6 165.5h0M383.2 163.7h0M368.5 216.1h0M372.6 235.5h0M390.6 162.9h0M372.5 191.6h0M394.6 152.6h0M398.3 193.7h0M379.8 160.4h0M398.8 226.8h0M394.3 197.3h0M369.1 205.2h0M371.2 220.5h0M379.1 189.5h0M387.8 198.9h0M388.6 198.1h0M383.9 224.6h0M379.3 191.4h0M386.6 161.4h0M388.0 177.0h0M369.9 220.9h0M384.4 172.2h0M394.0 164.6h0M392.2 177.5h0M375.7 194.8h0M396.3 175.1h0M388.4 201.8h0M383.8 203.5h0M398.6 136.4h0M397.9 137.1h0M371.4 227.1h0M367.0 196.9h0M398.9 152.3h0M394.9 201.6h0M395.3 156.7h0M376.1 238.3h0M399.7 177.0h0M389.4 171.6h0M404.1 168.9h0M386.3 181.4h0M401.4 172.5h0M382.7 238.4h0M398.8 203.6h0M397.4 213.1h0M398.4 171.2h0M390.9 191.5h0M371.7 213.4h0M386.7 222.2h0M402.5 160.0h0M395.3 171.7h0M389.1 233.1h0M390.9 200.8h0M400.5 183.9h0M372.6 241.1h0M368.1 180.1h0M387.5 216.8h0M396.0 226.3h0M374.4 231.8h0M391.9 163.0h0M376.8 229.9h0M402.9 221.3h0M393.4 161.6h0M373.2 210.4h0M390.1 183.4h0M395.8 228.8h0M397.4 179.7h0M379.4 221.5h0M396.5 232.6h0M381.2 162.2h0M376.2 190.0h0M373.1 199.9h0M388.6 157.3h0M404.9 180.6h0M377.5 198.3h0M388.4 208.0h0M376.9 192.8h0M376.8 237.9h0M379.7 163.0h0M397.5 212.5h0M369.8 181.6h0M381.9 237.5h0M368.3 172.6h0M398.4 191.9h0M380.5 174.7h0M404.2 145.3h0M381.6 241.7h0M401.0 223.8h0M395.1 148.8h0M401.9 145.2h0M379.4 230.4h0M403.5 165.2h0M374.4 181.6h0M382.3 208.4h0M376.7 219.6h0M398.3 214.9h0M383.0 237.2h0M404.4 201.2h0M396.4 222.9h0M401.7 160.3h0M384.8 213.7h0M401.7 172.6h0M404.8 195.7h0M391.9 214.1h0M389.0 208.8h0M404.6 159.4h0M388.0 205.1h0M383.5 224.5h0M399.8 182.0h0M366.1 185.7h0M398.6 159.8h0M380.3 169.4h0M371.8 199.0h0M374.5 224.6h0M400.9 169.1h0M369.5 226.5h0M398.2 198.0h0M385.7 245.3h0M394.8 168.6h0M370.9 221.6h0M391.4 204.4h0M394.3 223.1h0M394.9 243.3h0M404.8 170.1h0M392.4 190.1h0M405.0 202.8h0M397.4 177.9h0M372.3 199.8h0M389.9 193.5h0M381.7 174.5h0M379.4 244.7h0M397.2 189.9h0M382.8 222.8h0M392.6 237.5h0M389.7 164.4h0M399.6 192.6h0M393.6 223.5h0M370.0 215.7h0M394.5 184.6h0M388.4 170.0h0M399.6 171.3h0M387.6 237.7h0M392.4 174.7h0M393.3 237.1h0M381.2 178.1h0M383.2 242.5h0M391.8 200.2h0M398.0 199.7h0M373.1 224.9h0M384.1 171.6h0M400.2 220.8h0M395.4 202.0h0M382.6 245.7h0M377.3 197.4h0M388.2 244.6h0M374.4 203.8h0M366.1 201.2h0M373.3 201.7h0M394.5 156.0h0M369.3 226.9h0M385.1 195.9h0M393.8 190.9h0M368.6 214.2h0M385.4 180.3h0M394.7 189.3h0M387.0 239.0h0M398.7 201.2h0M388.6 169.4h0M398.5 169.2h0M381.1 206.4h0M371.6 213.6h0M402.9 153.0h0M396.6 179.8h0M378.9 230.7h0M390.0 175.9h0M387.6 167.8h0M391.7 207.0h0M392.7 188.2h0M398.1 198.5h0M397.2 196.9h0M393.1 166.5h0M388.6 232.1h0M385.4 231.6h0M392.7 193.1h0M397.3 224.2h0M396.7 186.1h0M377.4 182.6h0M389.1 219.7h0M398.0 194.9h0M394.7 192.5h0M391.3 225.6h0M392.2 172.0h0M385.8 195.2h0M394.5 170.1h0M379.2 176.2h0M396.4 225.5h0M381.5 212.0h0M376.9 211.5h0M386.9 187.8h0M402.0 180.7h0M392.0 166.5h0M405.3 189.4h0M395.8 187.5h0M400.9 224.6h0M396.3 222.1h0M398.3 182.8h0M382.0 210.9h0M391.4 216.4h0M393.3 201.1h0M396.3 216.6h0M395.9 230.7h0M384.3 173.2h0M393.7 193.2h0M390.5 198.7h0M403.0 181.0h0M381.1 174.5h0M389.3 217.8h0M382.1 179.1h0M382.8 205.5h0M395.6 238.5h0M387.7 216.9h0M385.9 191.4h0M391.5 213.8h0M397.5 216.5h0M397.4 167.8h0M404.2 205.5h0M386.7 219.5h0M393.7 219.1h0M402.0 197.9h0M386.9 182.2h0M404.1 191.6h0M397.1 167.4h0M385.8 166.0h0M382.5 199.6h0M402.2 184.7h0M389.6 233.2h0M379.2 203.4h0M394.8 231.4h0M389.3 201.9h0M393.9 226.3h0M385.6 173.7h0M385.8 216.5h0M394.0 212.6h0M390.1 175.7h0M388.4 203.2h0M387.0 219.1h0M381.2 232.9h0M393.7 178.0h0M393.7 193.5h0M394.7 210.2h0M393.4 214.8h0M379.4 229.4h0M381.0 192.3h0M397.5 163.2h0M387.6 191.6h0M402.1 205.1h0M396.9 173.1h0M382.6 229.7h0M385.8 177.2h0M382.1 213.0h0M401.0 199.0h0M377.8 192.9h0M378.0 204.5h0M392.4 236.9h0M403.8 167.7h0M379.5 236.9h0M394.6 178.8h0M379.7 174.3h0M384.0 228.3h0M386.8 234.6h0M383.6 213.1h0M392.5 196.4h0M400.9 178.5h0M384.2 219.9h0M385.9 239.3h0M382.9 217.8h0M378.3 220.5h0M388.9 237.1h0M402.0 220.2h0M402.9 166.5h0M384.1 173.1h0M392.9 230.3h0M394.7 196.6h0M395.6 160.9h0M385.9 188.3h0M390.9 162.9h0M393.3 189.1h0M403.2 211.8h0M383.3 222.9h0M389.5 164.4h0M383.0 181.5h0M376.2 227.8h0M397.1 189.1h0M399.5 178.2h0M394.5 222.6h0M392.1 239.7h0M405.6 174.2h0M398.5 232.0h0M382.0 183.7h0M394.9 222.5h0M382.1 184.9h0M393.2 228.6h0M391.5 190.3h0M392.8 213.1h0M397.6 180.5h0M379.4 212.0h0M396.3 163.5h0M392.4 231.5h0M390.3 226.0h0M388.1 227.9h0M392.1 222.7h0M384.8 234.3h0M398.5 186.7h0M401.8 206.5h0M397.6 189.2h0M383.9 190.8h0M387.7 168.8h0M394.8 177.9h0M398.2 232.7h0M389.9 176.1h0M394.9 161.9h0M401.5 173.9h0M399.2 173.9h0M390.9 240.8h0M379.3 198.3h0M384.2 202.2h0M397.6 169.8h0M389.1 232.3h0M384.4 174.0h0M382.4 225.9h0M393.1 218.9h0M404.0 196.9h0M395.6 187.2h0M388.4 188.4h0M385.6 195.6h0M400.0 192.3h0M390.8 169.2h0M384.6 201.8h0M384.9 217.1h0M395.2 164.8h0M384.1 210.3h0M385.2 167.1h0M400.2 179.6h0M399.8 173.5h0M396.5 202.5h0M391.0 236.0h0M395.2 227.9h0M393.7 222.0h0M382.4 203.4h0M398.5 173.9h0M380.8 207.3h0M393.6 223.1h0M390.4 195.2h0M395.5 210.4h0M381.7 204.6h0M396.2 206.4h0M377.7 221.0h0M386.6 204.9h0M394.6 194.8h0M382.9 204.3h0M392.3 187.6h0M386.9 187.4h0M382.9 219.3h0M395.9 189.6h0M390.8 214.8h0M378.8 198.1h0M380.9 209.6h0M380.5 202.0h0M382.8 235.6h0M399.2 212.2h0M404.3 197.3h0M388.5 241.9h0M395.5 187.0h0M388.1 185.4h0M395.9 190.5h0M402.8 192.4h0M400.8 217.5h0M387.8 232.0h0M380.0 173.3h0M382.1 230.6h0M379.6 193.7h0M382.5 204.0h0M403.0 198.0h0M385.5 190.0h0M379.6 209.4h0M400.4 191.2h0M394.3 182.4h0M389.9 228.3h0M395.7 186.3h0M400.7 187.6h0M394.3 215.5h0M387.8 200.3h0M390.9 171.9h0M396.3 177.5h0M388.3 171.3h0M393.9 170.0h0M386.6 189.2h0M395.4 173.0h0M401.7 182.8h0M397.1 207.9h0M379.4 179.1h0M382.8 190.5h0" stroke="#417f0e" stroke-width="3.20" stroke-linecap="round" fill="none"/>
<path d="M395.3 198.6h0M405.5 189.6h0M400.6 204.3h0M395.2 229.9h0M373.4 203.7h0M376.8 222.5h0M388.0 199.1h0M376.7 198.7h0M390.8 196.9h0M384.5 163.1h0M392.5 158.5h0M390.4 205.7h0M397.7 189.8h0M388.8 153.0h0M373.0 221.6h0M383.3 240.4h0M392.2 211.6h0M395.2 204.1h0M380.3 223.2h0M399.4 210.2h0M393.1 229.8h0M373.0 166.7h0M375.5 181.5h0M400.6 226.2h0M377.8 198.7h0M387.2 168.0h0M371.8 230.1h0M396.3 211.4h0M379.8 166.2h0M395.9 209.1h0M391.4 226.0h0M402.6 146.2h0M365.4 186.1h0M393.3 232.7h0M397.0 201.2h0M398.3 222.9h0M384.7 218.5h0M404.6 203.8h0M393.8 191.7h0M376.6 165.5h0M383.2 163.7h0M368.5 216.1h0M372.6 235.5h0M390.6 162.9h0M372.5 191.6h0M394.6 152.6h0M398.3 193.7h0M379.8 160.4h0M398.8 226.8h0M394.3 197.3h0M369.1 205.2h0M371.2 220.5h0M379.1 189.5h0M387.8 198.9h0M388.6 198.1h0M383.9 224.6h0M379.3 191.4h0M386.6 161.4h0M388.0 177.0h0M369.9 220.9h0M384.4 172.2h0M394.0 164.6h0M392.2 177.5h0M375.7 194.8h0M396.3 175.1h0M388.4 201.8h0M383.8 203.5h0M398.6 136.4h0M397.9 137.1h0M371.4 227.1h0M367.0 196.9h0M398.9 152.3h0M394.9 201.6h0M395.3 156.7h0M376.1 238.3h0M399.7 177.0h0M389.4 171.6h0M404.1 168.9h0M386.3 181.4h0M401.4 172.5h0M382.7 238.4h0M398.8 203.6h0M397.4 213.1h0M398.4 171.2h0M390.9 191.5h0M371.7 213.4h0M386.7 222.2h0M402.5 160.0h0M395.3 171.7h0M389.1 233.1h0M390.9 200.8h0M400.5 183.9h0M372.6 241.1h0M368.1 180.1h0M387.5 216.8h0M396.0 226.3h0M374.4 231.8h0M391.9 163.0h0M376.8 229.9h0M402.9 221.3h0M393.4 161.6h0M373.2 210.4h0M390.1 183.4h0M395.8 228.8h0M397.4 179.7h0M379.4 221.5h0M396.5 232.6h0M381.2 162.2h0M376.2 190.0h0M373.1 199.9h0M388.6 157.3h0M404.9 180.6h0M377.5 198.3h0M388.4 208.0h0M376.9 192.8h0M376.8 237.9h0M379.7 163.0h0M397.5 212.5h0M369.8 181.6h0M381.9 237.5h0M368.3 172.6h0M398.4 191.9h0M380.5 174.7h0M404.2 145.3h0M381.6 241.7h0M401.0 223.8h0M395.1 148.8h0M401.9 145.2h0M379.4 230.4h0M403.5 165.2h0M374.4 181.6h0M382.3 208.4h0M376.7 219.6h0M398.3 214.9h0M383.0 237.2h0M404.4 201.2h0M396.4 222.9h0M401.7 160.3h0M384.8 213.7h0M401.7 172.6h0M404.8 195.7h0M391.9 214.1h0M389.0 208.8h0M404.6 159.4h0M388.0 205.1h0M383.5 224.5h0M399.8 182.0h0M366.1 185.7h0M398.6 159.8h0M380.3 169.4h0M371.8 199.0h0M374.5 224.6h0M400.9 169.1h0M369.5 226.5h0M398.2 198.0h0M385.7 245.3h0M394.8 168.6h0M370.9 221.6h0M391.4 204.4h0M394.3 223.1h0M394.9 243.3h0M404.8 170.1h0M392.4 190.1h0M405.0 202.8h0M397.4 177.9h0M372.3 199.8h0M389.9 193.5h0M381.7 174.5h0M379.4 244.7h0M397.2 189.9h0M382.8 222.8h0M392.6 237.5h0M389.7 164.4h0M399.6 192.6h0M393.6 223.5h0M370.0 215.7h0M394.5 184.6h0M388.4 170.0h0M399.6 171.3h0M387.6 237.7h0M392.4 174.7h0M393.3 237.1h0M381.2 178.1h0M383.2 242.5h0M391.8 200.2h0M398.0 199.7h0M373.1 224.9h0M384.1 171.6h0M400.2 220.8h0M395.4 202.0h0M382.6 245.7h0M377.3 197.4h0M388.2 244.6h0M374.4 203.8h0M366.1 201.2h0M373.3 201.7h0M394.5 156.0h0M369.3 226.9h0M385.1 195.9h0M393.8 190.9h0M368.6 214.2h0M385.4 180.3h0M394.7 189.3h0M387.0 239.0h0M398.7 201.2h0M388.6 169.4h0M398.5 169.2h0M381.1 206.4h0M371.6 213.6h0M402.9 153.0h0M396.6 179.8h0M378.9 230.7h0M390.0 175.9h0M387.6 167.8h0M391.7 207.0h0M392.7 188.2h0M398.1 198.5h0M397.2 196.9h0M393.1 166.5h0M388.6 232.1h0M385.4 231.6h0M392.7 193.1h0M397.3 224.2h0M396.7 186.1h0M377.4 182.6h0M389.1 219.7h0M398.0 194.9h0M394.7 192.5h0M391.3 225.6h0M392.2 172.0h0M385.8 195.2h0M394.5 170.1h0M379.2 176.2h0M396.4 225.5h0M381.5 212.0h0M376.9 211.5h0M386.9 187.8h0M402.0 180.7h0M392.0 166.5h0M405.3 189.4h0M395.8 187.5h0M400.9 224.6h0M396.3 222.1h0M398.3 182.8h0M382.0 210.9h0M391.4 216.4h0M393.3 201.1h0M396.3 216.6h0M395.9 230.7h0M384.3 173.2h0M393.7 193.2h0M390.5 198.7h0M403.0 181.0h0M381.1 174.5h0M389.3 217.8h0M382.1 179.1h0M382.8 205.5h0M395.6 238.5h0M387.7 216.9h0M385.9 191.4h0M391.5 213.8h0M397.5 216.5h0M397.4 167.8h0M404.2 205.5h0M386.7 219.5h0M393.7 219.1h0M402.0 197.9h0M386.9 182.2h0M404.1 191.6h0M397.1 167.4h0M385.8 166.0h0M382.5 199.6h0M402.2 184.7h0M389.6 233.2h0M379.2 203.4h0M394.8 231.4h0M389.3 201.9h0M393.9 226.3h0M385.6 173.7h0M385.8 216.5h0M394.0 212.6h0M390.1 175.7h0M388.4 203.2h0M387.0 219.1h0M381.2 232.9h0M393.7 178.0h0M393.7 193.5h0M394.7 210.2h0M393.4 214.8h0M379.4 229.4h0M381.0 192.3h0M397.5 163.2h0M387.6 191.6h0M402.1 205.1h0M396.9 173.1h0M382.6 229.7h0M385.8 177.2h0M382.1 213.0h0M401.0 199.0h0M377.8 192.9h0M378.0 204.5h0M392.4 236.9h0M403.8 167.7h0M379.5 236.9h0M394.6 178.8h0M379.7 174.3h0M384.0 228.3h0M386.8 234.6h0M383.6 213.1h0M392.5 196.4h0M400.9 178.5h0M384.2 219.9h0M385.9 239.3h0M382.9 217.8h0M378.3 220.5h0M388.9 237.1h0M402.0 220.2h0M402.9 166.5h0M384.1 173.1h0M392.9 230.3h0M394.7 196.6h0M395.6 160.9h0M385.9 188.3h0M390.9 162.9h0M393.3 189.1h0M403.2 211.8h0M383.3 222.9h0M389.5 164.4h0M383.0 181.5h0M376.2 227.8h0M397.1 189.1h0M399.5 178.2h0M394.5 222.6h0M392.1 239.7h0M405.6 174.2h0M398.5 232.0h0M382.0 183.7h0M394.9 222.5h0M382.1 184.9h0M393.2 228.6h0M391.5 190.3h0M392.8 213.1h0M397.6 180.5h0M379.4 212.0h0M396.3 163.5h0M392.4 231.5h0M390.3 226.0h0M388.1 227.9h0M392.1 222.7h0M384.8 234.3h0M398.5 186.7h0M401.8 206.5h0M397.6 189.2h0M383.9 190.8h0M387.7 168.8h0M394.8 177.9h0M398.2 232.7h0M389.9 176.1h0M394.9 161.9h0M401.5 173.9h0M399.2 173.9h0M390.9 240.8h0M379.3 198.3h0M384.2 202.2h0M397.6 169.8h0M389.1 232.3h0M384.4 174.0h0M382.4 225.9h0M393.1 218.9h0M404.0 196.9h0M395.6 187.2h0M388.4 188.4h0M385.6 195.6h0M400.0 192.3h0M390.8 169.2h0M384.6 201.8h0M384.9 217.1h0M395.2 164.8h0M384.1 210.3h0M385.2 167.1h0M400.2 179.6h0M399.8 173.5h0M396.5 202.5h0M391.0 236.0h0M395.2 227.9h0M393.7 222.0h0M382.4 203.4h0M398.5 173.9h0M380.8 207.3h0M393.6 223.1h0M390.4 195.2h0M395.5 210.4h0M381.7 204.6h0M396.2 206.4h0M377.7 221.0h0M386.6 204.9h0M394.6 194.8h0M382.9 204.3h0M392.3 187.6h0M386.9 187.4h0M382.9 219.3h0M395.9 189.6h0M390.8 214.8h0M378.8 198.1h0M380.9 209.6h0M380.5 202.0h0M382.8 235.6h0M399.2 212.2h0M404.3 197.3h0M388.5 241.9h0M395.5 187.0h0M388.1 185.4h0M395.9 190.5h0M402.8 192.4h0M400.8 217.5h0M387.8 232.0h0M380.0 173.3h0M382.1 230.6h0M379.6 193.7h0M382.5 204.0h0M403.0 198.0h0M385.5 190.0h0M379.6 209.4h0M400.4 191.2h0M394.3 182.4h0M389.9 228.3h0M395.7 186.3h0M400.7 187.6h0M394.3 215.5h0M387.8 200.3h0M390.9 171.9h0M396.3 177.5h0M388.3 171.3h0M393.9 170.0h0M386.6 189.2h0M395.4 173.0h0M401.7 182.8h0M397.1 207.9h0M379.4 179.1h0M382.8 190.5h0" stroke="#53a018" stroke-width="2.30" stroke-linecap="round" fill="none"/>
<path d="M402.3 123.1h0M402.9 92.7h0M406.2 103.9h0M398.7 135.1h0M399.9 102.3h0M404.1 85.7h0M405.7 115.4h0M402.4 91.2h0M405.2 82.4h0M400.9 115.3h0M400.4 123.7h0M406.4 101.9h0M398.1 125.1h0M399.6 113.6h0M399.2 83.8h0M399.9 126.7h0M406.2 135.1h0M399.1 75.3h0M398.0 90.0h0M403.9 133.9h0M404.6 77.3h0M400.0 130.0h0M405.7 96.6h0M399.5 87.4h0M405.3 109.8h0M402.8 89.4h0M403.8 84.4h0M402.0 126.0h0M404.8 138.4h0M405.1 91.1h0M407.0 98.1h0M407.3 126.5h0" stroke="#417f0e" stroke-width="3.00" stroke-linecap="round" fill="none"/>
<path d="M402.3 123.1h0M402.9 92.7h0M406.2 103.9h0M398.7 135.1h0M399.9 102.3h0M404.1 85.7h0M405.7 115.4h0M402.4 91.2h0M405.2 82.4h0M400.9 115.3h0M400.4 123.7h0M406.4 101.9h0M398.1 125.1h0M399.6 113.6h0M399.2 83.8h0M399.9 126.7h0M406.2 135.1h0M399.1 75.3h0M398.0 90.0h0M403.9 133.9h0M404.6 77.3h0M400.0 130.0h0M405.7 96.6h0M399.5 87.4h0M405.3 109.8h0M402.8 89.4h0M403.8 84.4h0M402.0 126.0h0M404.8 138.4h0M405.1 91.1h0M407.0 98.1h0M407.3 126.5h0" stroke="#53a018" stroke-width="2.30" stroke-linecap="round" fill="none"/>
<path d="M367.4 206.0h0M351.1 213.0h0M359.6 202.8h0M354.5 193.2h0M353.6 229.8h0M352.3 180.6h0M363.7 192.4h0M356.5 155.3h0M364.6 223.0h0M367.9 204.8h0M358.0 174.8h0M362.7 228.8h0M368.9 153.8h0M347.2 204.7h0M353.2 171.5h0M366.4 230.4h0M351.7 184.9h0M363.1 178.1h0M350.9 170.3h0M354.2 201.9h0M361.5 158.7h0M362.3 188.7h0M357.2 163.6h0M363.9 187.1h0M362.6 171.4h0M364.7 214.5h0M355.7 189.1h0M368.8 228.7h0M358.8 206.7h0M366.8 226.6h0" stroke="#417f0e" stroke-width="3.00" stroke-linecap="round" fill="none"/>
<path d="M367.4 206.0h0M351.1 213.0h0M359.6 202.8h0M354.5 193.2h0M353.6 229.8h0M352.3 180.6h0M363.7 192.4h0M356.5 155.3h0M364.6 223.0h0M367.9 204.8h0M358.0 174.8h0M362.7 228.8h0M368.9 153.8h0M347.2 204.7h0M353.2 171.5h0M366.4 230.4h0M351.7 184.9h0M363.1 178.1h0M350.9 170.3h0M354.2 201.9h0M361.5 158.7h0M362.3 188.7h0M357.2 163.6h0M363.9 187.1h0M362.6 171.4h0M364.7 214.5h0M355.7 189.1h0M368.8 228.7h0M358.8 206.7h0M366.8 226.6h0" stroke="#53a018" stroke-width="2.30" stroke-linecap="round" fill="none"/>
<path d="M305.6 196.0h0M310.3 112.9h0M336.2 141.3h0M343.2 164.4h0M322.5 190.3h0M324.4 163.9h0M324.6 220.7h0M311.4 201.7h0M340.8 148.7h0M338.3 141.1h0M334.0 161.6h0M329.5 126.0h0M305.8 197.0h0M308.5 133.3h0" stroke="#53a018" stroke-width="2.30" stroke-linecap="round" fill="none"/>
<path d="M334.3 131.0h0M335.2 129.3h0M336.4 130.3h0M335.6 129.2h0M336.2 127.7h0M339.4 126.2h0M340.5 123.4h0M340.6 126.7h0M342.0 122.2h0M343.5 120.8h0M344.5 120.8h0M346.4 119.3h0M346.1 119.9h0M349.2 118.3h0M346.8 116.5h0M348.2 116.7h0M347.2 116.6h0M350.1 114.6h0" stroke="#f07d68" stroke-width="2.90" stroke-linecap="round" fill="none" stroke-opacity="0.95"/>
<path d="M352.6 121.6h0M338.0 131.9h0M349.0 124.2h0M345.5 124.2h0M342.4 126.0h0M356.0 141.6h0M354.5 116.1h0M344.8 136.6h0M339.9 129.1h0M361.8 121.4h0M347.7 131.6h0M354.0 111.0h0M356.9 120.1h0M356.8 135.0h0M344.9 141.7h0M362.3 118.6h0M341.6 116.1h0M345.0 135.8h0M366.9 134.0h0M337.3 133.4h0M361.3 117.6h0M362.3 114.5h0M351.4 124.9h0M337.8 125.5h0M361.6 136.6h0M345.0 119.0h0M338.7 136.8h0M351.7 137.6h0M339.9 137.3h0M355.1 122.6h0M341.1 115.6h0M354.9 132.2h0M366.0 121.6h0M358.2 140.5h0M352.7 111.7h0M368.8 126.8h0M350.0 123.3h0M337.1 129.0h0M358.4 121.3h0M354.2 138.8h0M359.1 129.7h0M351.9 116.0h0M338.2 116.2h0M357.7 115.4h0M359.5 131.1h0M356.2 119.6h0M365.0 131.0h0M359.3 136.1h0M364.2 116.7h0M355.5 111.0h0M345.8 121.8h0M339.7 120.1h0M351.0 142.3h0M339.4 120.2h0M357.0 132.1h0M339.9 138.7h0M361.8 139.7h0M356.3 138.9h0M349.1 117.8h0M342.3 132.4h0M345.7 133.3h0M341.0 138.1h0M347.9 122.5h0M356.4 134.5h0M352.4 124.2h0M365.2 117.6h0M345.1 134.1h0M361.9 120.7h0M349.5 135.4h0M357.6 115.1h0M361.1 120.2h0M359.8 140.5h0M354.3 125.0h0M362.5 122.5h0M341.5 126.5h0M345.5 128.3h0M360.0 134.3h0M357.6 118.6h0M340.9 131.0h0M352.5 142.7h0M353.7 137.0h0M352.3 121.9h0M365.8 128.0h0M347.2 116.4h0M360.7 130.6h0M353.1 114.6h0M356.9 125.4h0M358.3 116.1h0M333.2 125.7h0M340.7 118.9h0M347.0 121.0h0M344.0 137.2h0M354.0 119.9h0M342.9 124.4h0M350.3 128.3h0M365.1 123.3h0M362.2 121.6h0M358.2 124.3h0M351.0 120.7h0M349.2 131.4h0M347.2 114.1h0M355.5 129.5h0M359.1 126.4h0M367.2 126.0h0M359.2 124.1h0M339.6 133.3h0M341.0 116.9h0M354.5 126.5h0M357.4 123.0h0M368.7 128.1h0M343.4 139.8h0M356.7 123.9h0M339.9 134.0h0M354.0 135.9h0M353.3 139.6h0M351.9 114.6h0M338.6 128.5h0M345.6 130.7h0M344.4 131.2h0M346.6 139.1h0M343.2 137.3h0M349.3 121.1h0M342.8 132.6h0M343.3 126.3h0M353.2 119.2h0M342.8 136.9h0M339.7 119.4h0M363.9 136.4h0M362.8 118.4h0M361.6 134.2h0M356.0 131.0h0M367.4 121.4h0M359.7 114.8h0M352.1 141.2h0M333.5 129.1h0M360.7 138.5h0M335.0 129.4h0M336.2 118.5h0M348.8 128.1h0M347.9 123.4h0M362.4 115.6h0M341.6 125.4h0M361.9 136.4h0M340.1 139.5h0M360.9 130.0h0M361.1 120.3h0M350.0 122.7h0M353.9 120.0h0M366.7 134.5h0M347.9 114.7h0M368.9 126.9h0M350.4 128.9h0M335.8 135.5h0M358.5 122.1h0M351.9 133.4h0M349.1 112.3h0M337.9 128.5h0M338.4 122.4h0M337.0 136.0h0M363.5 136.0h0M335.5 125.7h0M362.6 125.2h0M359.8 134.2h0M356.4 122.2h0M358.5 138.3h0M337.2 122.2h0M358.4 131.3h0M340.8 137.2h0M345.8 136.8h0M353.9 134.3h0M342.7 114.5h0M348.0 142.9h0M356.9 138.8h0M360.3 130.2h0M345.6 121.6h0M355.7 134.3h0M354.0 112.3h0M348.9 123.0h0M337.1 134.9h0M355.4 124.6h0M356.9 131.7h0M351.8 139.1h0M351.9 134.7h0M350.8 123.6h0M356.6 134.1h0M354.1 137.4h0M341.9 125.9h0M358.5 140.3h0M361.0 133.4h0M346.8 142.1h0M353.8 120.6h0M361.0 131.6h0M350.6 127.0h0M346.4 119.6h0M348.8 142.8h0M354.0 119.0h0M364.3 136.8h0M348.5 117.8h0M359.5 123.2h0M337.6 117.3h0" stroke="#c4c6c8" stroke-width="1.20" stroke-linecap="round" fill="none"/>
<path d="M356.4 138.0h0M336.9 136.5h0M362.7 118.4h0M365.7 129.3h0M356.4 117.8h0M358.8 141.2h0M366.7 130.5h0M337.6 135.5h0M347.6 135.2h0M356.3 122.3h0M346.4 125.9h0M362.4 121.9h0M358.2 112.7h0M353.5 118.3h0M338.6 127.2h0M343.1 131.7h0M343.3 123.0h0M350.7 130.2h0M338.2 123.8h0M343.8 116.0h0M362.0 123.9h0M343.7 139.8h0M366.5 124.6h0M350.6 121.8h0M341.9 134.0h0M366.8 130.1h0M338.6 137.1h0M351.2 135.1h0M354.7 140.9h0M344.4 114.0h0" stroke="#a8b4d8" stroke-width="2.00" stroke-linecap="round" fill="none" stroke-opacity="0.70"/>
<path d="M360.1 125.8h0M351.0 120.6h0M355.6 126.6h0M354.5 121.6h0M356.6 128.4h0M352.7 119.7h0M351.8 122.4h0M360.3 123.5h0M355.0 122.7h0M355.3 122.3h0M358.2 123.1h0M355.0 123.5h0M358.8 122.8h0M356.0 123.9h0M353.1 120.9h0M361.0 124.3h0M354.6 118.9h0M351.2 124.7h0M354.9 121.8h0M354.2 122.3h0M351.8 121.9h0M355.4 125.1h0M355.8 126.3h0M358.4 118.9h0M349.2 129.2h0M352.5 124.5h0M353.9 121.7h0M353.5 127.9h0M357.5 119.4h0M358.6 123.0h0M352.1 117.6h0M352.1 125.8h0" stroke="#417f0e" stroke-width="3.00" stroke-linecap="round" fill="none"/>
<path d="M360.1 125.8h0M351.0 120.6h0M355.6 126.6h0M354.5 121.6h0M356.6 128.4h0M352.7 119.7h0M351.8 122.4h0M360.3 123.5h0M355.0 122.7h0M355.3 122.3h0M358.2 123.1h0M355.0 123.5h0M358.8 122.8h0M356.0 123.9h0M353.1 120.9h0M361.0 124.3h0M354.6 118.9h0M351.2 124.7h0M354.9 121.8h0M354.2 122.3h0M351.8 121.9h0M355.4 125.1h0M355.8 126.3h0M358.4 118.9h0M349.2 129.2h0M352.5 124.5h0M353.9 121.7h0M353.5 127.9h0M357.5 119.4h0M358.6 123.0h0M352.1 117.6h0M352.1 125.8h0" stroke="#53a018" stroke-width="2.40" stroke-linecap="round" fill="none"/>
<path d="M344.0 132.0h0M357.5 139.0h0" stroke="#417f0e" stroke-width="3.00" stroke-linecap="round" fill="none"/>
<path d="M344.0 132.0h0M357.5 139.0h0" stroke="#53a018" stroke-width="2.30" stroke-linecap="round" fill="none"/>
<path d="M316.7 255.6h0M337.5 248.0h0M326.5 233.0h0" stroke="#417f0e" stroke-width="3.00" stroke-linecap="round" fill="none"/>
<path d="M316.7 255.6h0M337.5 248.0h0M326.5 233.0h0" stroke="#53a018" stroke-width="2.30" stroke-linecap="round" fill="none"/>
<path d="M316.5 249.2h0M319.5 249.0h0" stroke="#ee7e6a" stroke-width="2.60" stroke-linecap="round" fill="none" stroke-opacity="0.80"/>
<path d="M345.0 256.7h0M318.5 229.6h0" stroke="#6f98ea" stroke-width="2.40" stroke-linecap="round" fill="none" stroke-opacity="0.80"/>
<ellipse cx="351" cy="126.9" rx="19" ry="17.5" fill="none" stroke="#7f3fae" stroke-width="1.2"/>
<g fill="#111" font-weight="bold" font-size="9.8">
<text x="142" y="11.2" text-anchor="middle">CAR T</text>
<text x="330.3" y="11.4" text-anchor="middle">Control T cells</text>
</g>
<g stroke="#3c3c3c" stroke-width="1.5" fill="none" stroke-linejoin="round">
<path d="M46 15V278H229M234.3 278H418"/>
<path d="M43 24.9H46M43 85.5H46M43 146.1H46M43 206.7H46M43 267.3H46"/>
<path d="M59.6 278V281.2M100.6 278V281.2M141.7 278V281.2M182.8 278V281.2M223.9 278V281.2"/>
<path d="M248.1 278V281.2M289.4 278V281.2M330.6 278V281.2M371.6 278V281.2M413.3 278V281.2"/>
</g>
<g fill="#2b2b2b" font-size="10">
<g text-anchor="end">
<text x="41" y="28.6">6</text>
<text x="41" y="89.2">3</text>
<text x="41" y="149.8">0</text>
<text x="41" y="210.4">&#8722;3</text>
<text x="41" y="271">&#8722;6</text>
</g>
<g text-anchor="middle">
<text x="59.6" y="291.4">&#8722;6</text>
<text x="100.6" y="291.4">&#8722;3</text>
<text x="141.7" y="291.4">0</text>
<text x="182.8" y="291.4">3</text>
<text x="223.9" y="291.4">6</text>
<text x="248.1" y="291.4">&#8722;6</text>
<text x="289.4" y="291.4">&#8722;3</text>
<text x="330.6" y="291.4">0</text>
<text x="371.6" y="291.4">3</text>
<text x="413.3" y="291.4">6</text>
</g>
</g>
<g fill="#111" font-size="11.5">
<text x="231.4" y="303.9" text-anchor="middle">UMAP_1</text>
<text transform="translate(26.9,147) rotate(-90)" text-anchor="middle">UMAP_2</text>
</g>
<g>
<circle cx="422.5" cy="126" r="3.2" fill="#5f9a3e"/>
<circle cx="422.5" cy="139.2" r="3.2" fill="#8aa8e8"/>
<circle cx="422.5" cy="152" r="3.2" fill="#f3907e"/>
<circle cx="422.5" cy="165.3" r="3.2" fill="#c2c2c2"/>
</g>
<g fill="#111" font-size="10">
<text x="435.4" y="130.1">Barcode #349298</text>
<text x="435.4" y="143.3">Barcode #130268</text>
<text x="435.4" y="156.1">Barcode #1009719</text>
<text x="435.4" y="169.4">Other clones</text>
</g>
<g fill="#444" font-size="9.3">
<text x="12.5" y="322.1"><tspan font-weight="bold" fill="#111">Figure</tspan> - Uniform Manifold Approximation and Projection (UMAP) following scRNAseq of relapsed B-ALL from mice treated</text>
<text x="12.5" y="333.1">with CAR T (left) or control T cells (right). Highlighted cells represent the progeny of the 3 dominant clones associated with</text>
<text x="12.5" y="344.1">relapse in the CAR T treated mice. The cluster containing the rare cell state common to all clones is highlighted by the</text>
<text x="12.5" y="355">purple circle.</text>
</g>
</svg>
</body></html>
